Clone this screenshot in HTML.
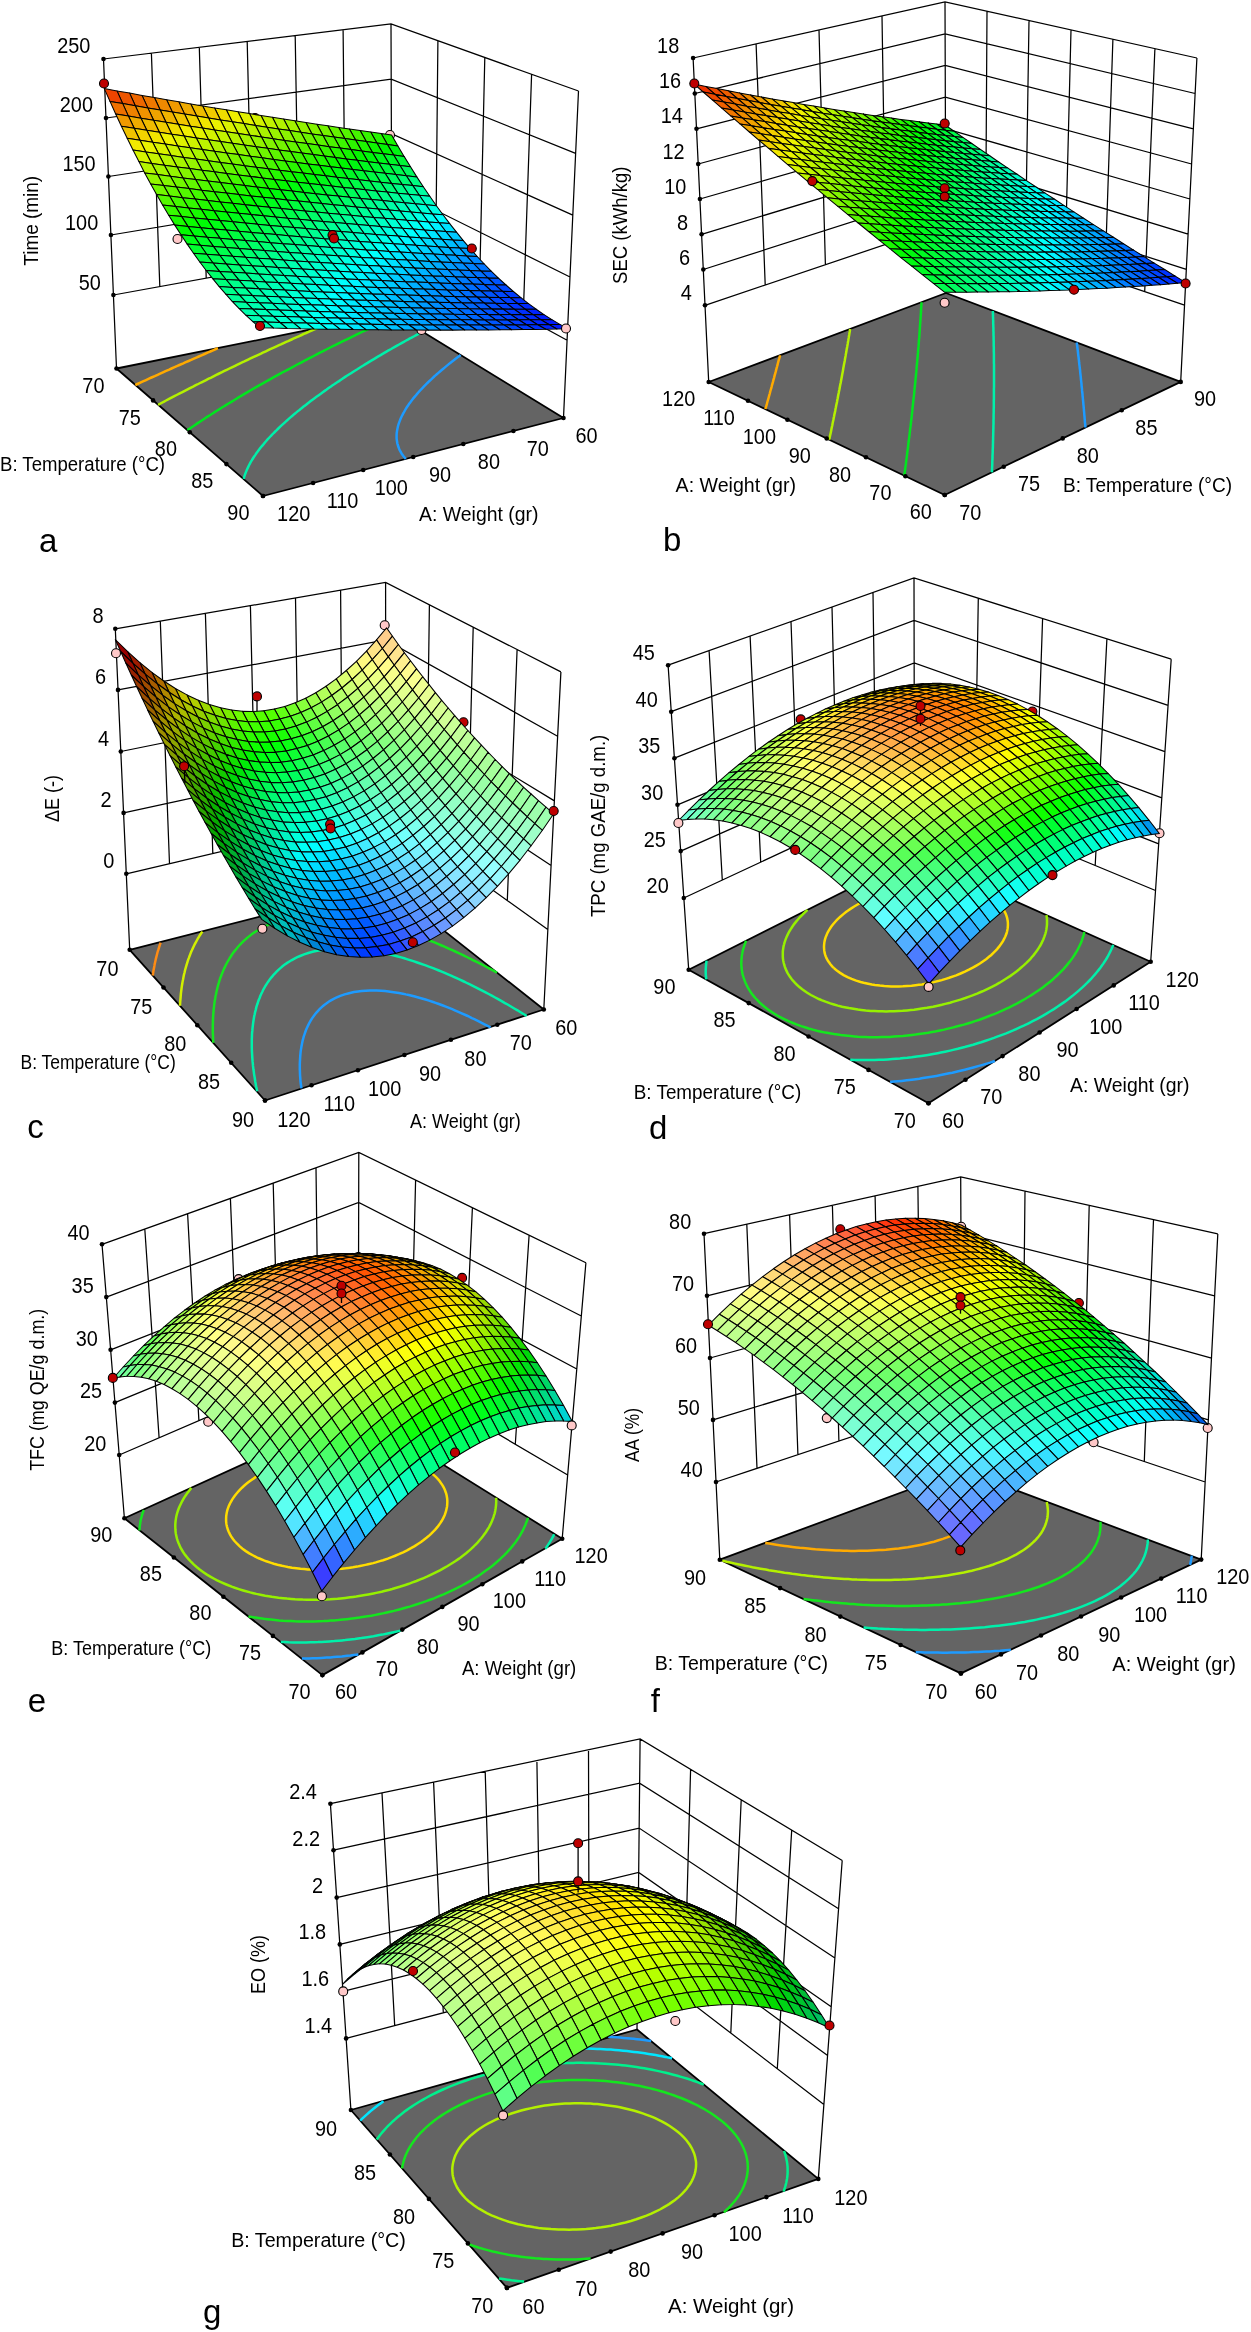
<!DOCTYPE html>
<html><head><meta charset="utf-8"><title>Response surfaces</title>
<style>html,body{margin:0;padding:0;background:#fff}svg{display:block}svg{will-change:transform}text{font-family:"Liberation Sans",sans-serif;fill:#000}</style>
</head><body>
<svg width="1251" height="2332" viewBox="0 0 1251 2332">
<rect width="1251" height="2332" fill="#fff"/>
<g id="p_a"><polygon points="116.5,368.5 263,496 563.5,418 392,313" fill="#646464" stroke="#000" stroke-width="1.8" stroke-linejoin="round"/>
<polyline points="135.3,385 137.4,384 140.4,382.6 143.5,381.2 145.5,380.3 149.5,378.4 151.5,377.5 154.8,376.1 157.6,374.8 159.6,373.9 163.5,372.1 165.5,371.2 169.2,369.6 171.5,368.5 174,367.4 177.4,365.9 179.4,365 183.3,363.3 185.2,362.4 188.6,361 191.1,359.9 193.4,358.8 196.9,357.3 198.8,356.5 202.7,354.8 204.6,354 208.1,352.4 210.3,351.5 213,350.3 216,349 217.9,348.2 217.9,348.2" fill="none" stroke="#ffaa00" stroke-width="2.5"/>
<polyline points="158.1,404.8 160.5,403.5 164.1,401.6 166.1,400.5 168.6,399.2 172,397.4 173.9,396.4 176.6,395 179.8,393.4 181.8,392.4 184.8,390.8 187.6,389.4 189.5,388.4 193.1,386.6 195.3,385.4 197.3,384.5 201.1,382.5 203,381.6 205.6,380.3 208.7,378.7 210.7,377.8 214,376.1 216.3,374.9 218.2,374 222,372.2 223.9,371.2 226.7,369.9 229.5,368.5 231.4,367.6 235.1,365.8 237,364.9 239.6,363.6 242.6,362.2 244.4,361.4 248.1,359.6 250,358.7 252.7,357.4 255.5,356.1 257.3,355.3 261,353.6 262.8,352.7 265.9,351.3 268.2,350.2 270.3,349.2 273.7,347.7 275.5,346.8 279.1,345.2 280.9,344.4 283.6,343.1 286.2,341.9 288.1,341.1 291.6,339.5 293.3,338.7 296.9,337.1 298.7,336.3 301.6,335 303.9,333.9 306.1,333 309.2,331.6 311,330.8 314.4,329.3 316.2,328.5 319.7,327 319.8,326.9" fill="none" stroke="#b4f000" stroke-width="2.5"/>
<polyline points="187.4,430.1 189.3,428.9 191.7,427.2 194.7,425.2 196.6,423.9 198.5,422.6 200.6,421.2 203.7,419.2 205.8,417.8 207.6,416.6 209.9,415.2 213,413.2 215,411.9 216.8,410.8 219.3,409.2 222.3,407.3 224.1,406.2 225.9,405.1 229,403.2 231.4,401.8 233.2,400.7 235.6,399.2 238.6,397.4 240.4,396.3 242.4,395.2 245.8,393.2 247.6,392.1 249.4,391 252.6,389.2 254.8,387.9 256.6,386.9 259.6,385.2 262,383.8 263.8,382.8 266.7,381.2 269.1,379.8 270.9,378.8 273.8,377.2 276.2,375.9 278,374.9 281.1,373.2 283.2,372 285,371.1 288.4,369.3 290.3,368.3 292.1,367.3 295.5,365.5 297.3,364.5 299.6,363.3 302.5,361.8 304.2,360.9 307.1,359.4 309.4,358.2 311.1,357.3 314.6,355.5 316.3,354.6 318.6,353.4 321.5,352 323.2,351.1 326.3,349.5 328.3,348.5 330.2,347.5 333.4,345.9 335.1,345.1 338.1,343.6 340.2,342.6 342,341.7 345.2,340.1 346.9,339.3 350,337.8 351.9,336.8 354,335.8 356.9,334.4 358.6,333.6 361.9,332 363.6,331.2 366.1,330 368.6,328.8 370.2,328 373.5,326.4 375.1,325.7 378.4,324.1 380.1,323.3 382.5,322.2 385,321.1 386.6,320.3 389.8,318.8 391.5,318 394.7,316.5 396.3,315.8 396.3,315.8" fill="none" stroke="#00e61e" stroke-width="2.5"/>
<polyline points="243.7,478.9 244.2,477 244.7,475.4 245.3,473.7 246,471.9 246.9,469.7 247.9,467.6 248.9,465.5 249.9,463.6 250.8,461.9 251.9,460.2 252.9,458.5 254,456.8 255.2,455.1 256.4,453.3 257.7,451.6 259,449.8 260.3,448.1 261.7,446.3 263.2,444.6 264.7,442.8 266.2,441 267.8,439.2 269.4,437.5 270.8,436 272.3,434.5 273.7,433 275.2,431.5 276.7,430.1 278.3,428.5 280.2,426.7 282.1,424.9 284.1,423.1 285.7,421.6 287.2,420.3 288.7,418.9 290.2,417.6 292.4,415.8 294.5,413.9 296.4,412.4 297.9,411.1 299.5,409.9 301.3,408.4 303.6,406.6 305.8,404.9 307.3,403.7 308.9,402.5 310.7,401.1 313.2,399.2 315.2,397.7 316.8,396.6 318.4,395.4 320.8,393.7 323.1,392 324.7,390.9 326.3,389.8 328.6,388.1 331,386.4 332.6,385.3 334.2,384.3 336.8,382.5 339,381.1 340.6,380 342.4,378.8 345.2,376.9 346.9,375.8 348.5,374.8 351,373.2 353.3,371.7 354.9,370.7 356.9,369.5 359.7,367.7 361.2,366.8 362.9,365.8 365.9,363.9 367.6,362.9 369.2,361.9 372.1,360.2 373.9,359.1 375.5,358.1 378.3,356.4 380.2,355.3 381.8,354.4 384.7,352.7 386.5,351.6 388.1,350.7 391.2,349 392.8,348 394.4,347.1 397.5,345.4 399.1,344.5 401.1,343.4 403.8,341.9 405.3,341 407.8,339.7 410,338.4 411.6,337.6 414.6,336 416.2,335.1 418,334.1 420.9,332.6 422.4,331.7 422.4,331.7" fill="none" stroke="#00f0aa" stroke-width="2.5"/>
<polyline points="405.8,459 403.7,456.5 401.9,454 401.1,452.7 399.7,450.1 399.1,448.7 398.2,446.3 397.7,444.7 397.3,443.2 396.9,440.5 396.7,439.1 396.6,437.6 396.6,435.5 396.7,433.3 396.9,431.9 397.1,430.4 397.4,428.9 397.8,427 398.3,425 398.9,423.2 399.6,421.4 400.2,419.8 400.8,418.3 401.5,416.8 402.3,415.2 403.1,413.6 404,412.1 404.9,410.5 405.8,408.9 406.8,407.3 407.9,405.7 409,404.1 410.2,402.5 411.3,400.9 412.6,399.3 413.7,397.9 414.8,396.6 416,395.2 417.1,393.9 418.3,392.5 419.5,391.2 421,389.5 422.6,387.9 424.2,386.2 425.5,384.9 426.7,383.7 427.9,382.5 429.2,381.2 431,379.6 432.8,377.9 434.2,376.5 435.5,375.4 436.8,374.3 438.4,372.9 440.3,371.2 442,369.8 443.3,368.7 444.6,367.6 446.4,366.1 448.5,364.4 449.9,363.3 451.2,362.2 452.8,361 455,359.3 456.6,358.1 457.9,357.1 459.5,355.9 460.6,355.1" fill="none" stroke="#1e9bff" stroke-width="2.5"/>
<path d="M116.5 368.5L103.5 59M159.8 286.6L151.4 53.2M206.2 278.1L199.3 47.3M252.6 269.7L247.2 41.5M299 261.2L295.2 35.7M345.4 252.8L343.1 29.8M392 313L391 24M392 313L391 24M435.6 268.4L437.9 40.8M479.4 292.4L484.8 57.5M523.2 316.4L531.6 74.2M563.5 418L578.5 91M103.5 59L391 24L578.5 91M106 118L391.2 79.1L575.6 153.3M108.4 176.5L391.4 133.7L572.8 215.1M110.9 235L391.6 188.3L570 277M113.4 295L391.8 244.4L567.1 340.3" fill="none" stroke="#000" stroke-width="1.25"/>
<circle cx="103.5" cy="59" r="2.3"/>
<circle cx="106" cy="118" r="2.3"/>
<circle cx="108.4" cy="176.5" r="2.3"/>
<circle cx="110.9" cy="235" r="2.3"/>
<circle cx="113.4" cy="295" r="2.3"/>
<circle cx="116.5" cy="368.5" r="2.3"/>
<circle cx="153.1" cy="400.4" r="2.3"/>
<circle cx="189.8" cy="432.2" r="2.3"/>
<circle cx="226.4" cy="464.1" r="2.3"/>
<circle cx="263" cy="496" r="2.3"/>
<circle cx="263" cy="496" r="2.3"/>
<circle cx="313.1" cy="483" r="2.3"/>
<circle cx="363.2" cy="470" r="2.3"/>
<circle cx="413.2" cy="457" r="2.3"/>
<circle cx="463.3" cy="444" r="2.3"/>
<circle cx="513.4" cy="431" r="2.3"/>
<circle cx="563.5" cy="418" r="2.3"/>
<circle cx="390" cy="135" r="4.5" fill="#ffc8c8" stroke="#000" stroke-width="1.1"/>
<circle cx="421.5" cy="330" r="4.5" fill="#ffc8c8" stroke="#000" stroke-width="1.1"/>
<circle cx="255" cy="118" r="4.5" fill="#be0000" stroke="#000" stroke-width="1.1"/>
<g stroke="#000" stroke-width="1.05" stroke-linejoin="round">
<path fill="#17f500" d="M381.2 133.6l6.2 10.9l10.5 1.4l-6.3 -10.9z"/>
<path fill="#26f500" d="M370.7 132.1l6.2 11l10.5 1.4l-6.2 -10.9z"/>
<path fill="#00f611" d="M387.4 144.5l6.3 10.6l10.4 1.3l-6.2 -10.5z"/>
<path fill="#35f400" d="M360.1 130.6l6.2 11l10.6 1.5l-6.2 -11z"/>
<path fill="#00f602" d="M376.9 143.1l6.2 10.7l10.6 1.3l-6.3 -10.6z"/>
<path fill="#00f837" d="M393.7 155.1l6.3 10.4l10.5 1.3l-6.4 -10.4z"/>
<path fill="#45f400" d="M349.4 129l6.2 11.1l10.7 1.5l-6.2 -11z"/>
<path fill="#0ef600" d="M366.3 141.6l6.2 10.8l10.6 1.4l-6.2 -10.7z"/>
<path fill="#00f728" d="M383.1 153.8l6.3 10.5l10.6 1.2l-6.3 -10.4z"/>
<path fill="#00f95c" d="M400 165.5l6.3 10.2l10.5 1.2l-6.3 -10.1z"/>
<path fill="#54f400" d="M338.7 127.4l6.1 11.2l10.8 1.5l-6.2 -11.1z"/>
<path fill="#1df500" d="M355.6 140.1l6.2 10.9l10.7 1.4l-6.2 -10.8z"/>
<path fill="#00f719" d="M372.5 152.4l6.3 10.6l10.6 1.3l-6.3 -10.5z"/>
<path fill="#00f94d" d="M389.4 164.3l6.4 10.2l10.5 1.2l-6.3 -10.2z"/>
<path fill="#00fb80" d="M406.3 175.7l6.5 9.9l10.5 1.1l-6.5 -9.8z"/>
<path fill="#64f300" d="M327.8 125.8l6.2 11.3l10.8 1.5l-6.1 -11.2z"/>
<path fill="#2df500" d="M344.8 138.6l6.2 11l10.8 1.4l-6.2 -10.9z"/>
<path fill="#00f709" d="M361.8 151l6.2 10.7l10.8 1.3l-6.3 -10.6z"/>
<path fill="#00f83e" d="M378.8 163l6.3 10.3l10.7 1.2l-6.4 -10.2z"/>
<path fill="#00fa71" d="M395.8 174.5l6.4 10l10.6 1.1l-6.5 -9.9z"/>
<path fill="#00fca3" d="M412.8 185.6l6.5 9.7l10.5 1l-6.5 -9.6z"/>
<path fill="#74f300" d="M316.9 124.2l6.1 11.3l11 1.6l-6.2 -11.3z"/>
<path fill="#3cf500" d="M334 137.1l6.1 11l10.9 1.5l-6.2 -11z"/>
<path fill="#06f600" d="M351 149.6l6.2 10.7l10.8 1.4l-6.2 -10.7z"/>
<path fill="#00f82f" d="M368 161.7l6.3 10.3l10.8 1.3l-6.3 -10.3z"/>
<path fill="#00fa62" d="M385.1 173.3l6.4 10.1l10.7 1.1l-6.4 -10z"/>
<path fill="#00fc94" d="M402.2 184.5l6.4 9.8l10.7 1l-6.5 -9.7z"/>
<path fill="#00fdc4" d="M419.3 195.3l6.5 9.4l10.6 1l-6.6 -9.4z"/>
<path fill="#83f300" d="M305.9 122.5l6.1 11.4l11 1.6l-6.1 -11.3z"/>
<path fill="#4cf400" d="M323 135.5l6.1 11.2l11 1.4l-6.1 -11z"/>
<path fill="#15f600" d="M340.1 148.1l6.2 10.8l10.9 1.4l-6.2 -10.7z"/>
<path fill="#00f81f" d="M357.2 160.3l6.3 10.5l10.8 1.2l-6.3 -10.3z"/>
<path fill="#00fa53" d="M374.3 172l6.4 10.2l10.8 1.2l-6.4 -10.1z"/>
<path fill="#00fb85" d="M391.5 183.4l6.4 9.8l10.7 1.1l-6.4 -9.8z"/>
<path fill="#00fdb5" d="M408.6 194.3l6.6 9.5l10.6 0.9l-6.5 -9.4z"/>
<path fill="#00ffe4" d="M425.8 204.7l6.6 9.2l10.6 0.9l-6.6 -9.1z"/>
<path fill="#93f200" d="M294.8 120.8l6.1 11.5l11.1 1.6l-6.1 -11.4z"/>
<path fill="#5bf400" d="M312 133.9l6.1 11.2l11 1.6l-6.1 -11.2z"/>
<path fill="#25f600" d="M329.1 146.7l6.2 10.8l11 1.4l-6.2 -10.8z"/>
<path fill="#00f710" d="M346.3 158.9l6.3 10.6l10.9 1.3l-6.3 -10.5z"/>
<path fill="#00f943" d="M363.5 170.8l6.3 10.2l10.9 1.2l-6.4 -10.2z"/>
<path fill="#00fb75" d="M380.7 182.2l6.4 9.9l10.8 1.1l-6.4 -9.8z"/>
<path fill="#00fda6" d="M397.9 193.2l6.5 9.5l10.8 1.1l-6.6 -9.5z"/>
<path fill="#00fed5" d="M415.2 203.8l6.5 9.2l10.7 0.9l-6.6 -9.2z"/>
<path fill="#00fdff" d="M432.4 213.9l6.7 8.9l10.6 0.8l-6.7 -8.8z"/>
<path fill="#a3f200" d="M283.6 119.1l6.1 11.5l11.2 1.7l-6.1 -11.5z"/>
<path fill="#6bf400" d="M300.9 132.3l6.1 11.3l11.1 1.5l-6.1 -11.2z"/>
<path fill="#35f500" d="M318.1 145.1l6.2 11l11 1.4l-6.2 -10.8z"/>
<path fill="#00f700" d="M335.3 157.5l6.3 10.6l11 1.4l-6.3 -10.6z"/>
<path fill="#00f934" d="M352.6 169.5l6.3 10.2l10.9 1.3l-6.3 -10.2z"/>
<path fill="#00fb66" d="M369.8 181l6.4 9.9l10.9 1.2l-6.4 -9.9z"/>
<path fill="#00fc97" d="M387.1 192.1l6.5 9.6l10.8 1l-6.5 -9.5z"/>
<path fill="#00fec6" d="M404.4 202.7l6.6 9.4l10.7 0.9l-6.5 -9.2z"/>
<path fill="#00fff2" d="M421.7 213l6.7 9l10.7 0.8l-6.7 -8.9z"/>
<path fill="#00e2ff" d="M439.1 222.8l6.7 8.7l10.7 0.7l-6.8 -8.6z"/>
<path fill="#b3f200" d="M272.4 117.3l6 11.6l11.3 1.7l-6.1 -11.5z"/>
<path fill="#7bf300" d="M289.7 130.6l6 11.4l11.3 1.6l-6.1 -11.3z"/>
<path fill="#44f500" d="M307 143.6l6.1 11l11.2 1.5l-6.2 -11z"/>
<path fill="#0ff700" d="M324.3 156.1l6.2 10.6l11.1 1.4l-6.3 -10.6z"/>
<path fill="#00f925" d="M341.6 168.1l6.3 10.4l11 1.2l-6.3 -10.2z"/>
<path fill="#00fa57" d="M358.9 179.7l6.4 10.1l10.9 1.1l-6.4 -9.9z"/>
<path fill="#00fc87" d="M376.2 190.9l6.5 9.7l10.9 1.1l-6.5 -9.6z"/>
<path fill="#00feb7" d="M393.6 201.7l6.5 9.4l10.9 1l-6.6 -9.4z"/>
<path fill="#00ffe4" d="M411 212.1l6.6 9l10.8 0.9l-6.7 -9z"/>
<path fill="#00f0ff" d="M428.4 222l6.7 8.7l10.7 0.8l-6.7 -8.7z"/>
<path fill="#00c9ff" d="M445.8 231.5l6.9 8.4l10.6 0.7l-6.8 -8.4z"/>
<path fill="#c2f100" d="M261 115.5l6 11.7l11.4 1.7l-6 -11.6z"/>
<path fill="#8bf300" d="M278.4 128.9l6 11.5l11.3 1.6l-6 -11.4z"/>
<path fill="#54f500" d="M295.7 142l6.2 11.1l11.2 1.5l-6.1 -11z"/>
<path fill="#1ff600" d="M313.1 154.6l6.2 10.7l11.2 1.4l-6.2 -10.6z"/>
<path fill="#00f815" d="M330.5 166.7l6.3 10.5l11.1 1.3l-6.3 -10.4z"/>
<path fill="#00fa47" d="M347.9 178.5l6.3 10.1l11.1 1.2l-6.4 -10.1z"/>
<path fill="#00fc78" d="M365.3 189.8l6.4 9.8l11 1l-6.5 -9.7z"/>
<path fill="#00fda7" d="M382.7 200.6l6.5 9.5l10.9 1l-6.5 -9.4z"/>
<path fill="#00ffd5" d="M400.1 211.1l6.6 9.1l10.9 0.9l-6.6 -9z"/>
<path fill="#00ffff" d="M417.6 221.1l6.7 8.8l10.8 0.8l-6.7 -8.7z"/>
<path fill="#00d7ff" d="M435.1 230.7l6.8 8.5l10.8 0.7l-6.9 -8.4z"/>
<path fill="#00b1ff" d="M452.7 239.9l6.8 8.1l10.7 0.6l-6.9 -8z"/>
<path fill="#d2f100" d="M249.5 113.6l6 11.9l11.5 1.7l-6 -11.7z"/>
<path fill="#9af300" d="M267 127.2l6 11.5l11.4 1.7l-6 -11.5z"/>
<path fill="#64f400" d="M284.4 140.4l6.1 11.1l11.4 1.6l-6.2 -11.1z"/>
<path fill="#2ef600" d="M301.9 153.1l6.1 10.8l11.3 1.4l-6.2 -10.7z"/>
<path fill="#00f805" d="M319.3 165.3l6.2 10.5l11.3 1.4l-6.3 -10.5z"/>
<path fill="#00fa38" d="M336.8 177.2l6.3 10.2l11.1 1.2l-6.3 -10.1z"/>
<path fill="#00fb69" d="M354.2 188.6l6.4 9.8l11.1 1.2l-6.4 -9.8z"/>
<path fill="#00fd98" d="M371.7 199.6l6.5 9.5l11 1l-6.5 -9.5z"/>
<path fill="#00ffc6" d="M389.2 210.1l6.6 9.2l10.9 0.9l-6.6 -9.1z"/>
<path fill="#00fff1" d="M406.7 220.2l6.7 8.9l10.9 0.8l-6.7 -8.8z"/>
<path fill="#00e5ff" d="M424.3 229.9l6.8 8.5l10.8 0.8l-6.8 -8.5z"/>
<path fill="#00bfff" d="M441.9 239.2l6.9 8.2l10.7 0.6l-6.8 -8.1z"/>
<path fill="#009bff" d="M459.5 248l7 7.9l10.7 0.6l-7 -7.9z"/>
<path fill="#e2f100" d="M238 111.7l5.9 11.9l11.6 1.9l-6 -11.9z"/>
<path fill="#aaf200" d="M255.5 125.5l6 11.5l11.5 1.7l-6 -11.5z"/>
<path fill="#74f400" d="M273 138.7l6.1 11.3l11.4 1.5l-6.1 -11.1z"/>
<path fill="#3ef600" d="M290.5 151.5l6.2 10.9l11.3 1.5l-6.1 -10.8z"/>
<path fill="#0af800" d="M308 163.9l6.2 10.6l11.3 1.3l-6.2 -10.5z"/>
<path fill="#00f928" d="M325.5 175.8l6.3 10.3l11.3 1.3l-6.3 -10.2z"/>
<path fill="#00fb5a" d="M343.1 187.4l6.4 9.9l11.1 1.1l-6.4 -9.8z"/>
<path fill="#00fd89" d="M360.6 198.4l6.5 9.6l11.1 1.1l-6.5 -9.5z"/>
<path fill="#00feb7" d="M378.2 209.1l6.5 9.2l11.1 1l-6.6 -9.2z"/>
<path fill="#00ffe2" d="M395.8 219.3l6.6 8.9l11 0.9l-6.7 -8.9z"/>
<path fill="#00f3ff" d="M413.4 229.1l6.7 8.6l11 0.7l-6.8 -8.5z"/>
<path fill="#00cdff" d="M431.1 238.4l6.8 8.3l10.9 0.7l-6.9 -8.2z"/>
<path fill="#00a8ff" d="M448.8 247.4l6.9 7.9l10.8 0.6l-7 -7.9z"/>
<path fill="#0086ff" d="M466.5 255.9l7 7.6l10.8 0.5l-7.1 -7.5z"/>
<path fill="#f0ee00" d="M226.3 109.8l5.9 12l11.7 1.8l-5.9 -11.9z"/>
<path fill="#baf200" d="M243.9 123.6l6 11.7l11.6 1.7l-6 -11.5z"/>
<path fill="#83f400" d="M261.5 137l6 11.3l11.6 1.7l-6.1 -11.3z"/>
<path fill="#4ef500" d="M279.1 150l6.1 10.9l11.5 1.5l-6.2 -10.9z"/>
<path fill="#1af700" d="M296.7 162.4l6.2 10.7l11.3 1.4l-6.2 -10.6z"/>
<path fill="#00f919" d="M314.2 174.5l6.3 10.3l11.3 1.3l-6.3 -10.3z"/>
<path fill="#00fb4a" d="M331.8 186.1l6.4 10l11.3 1.2l-6.4 -9.9z"/>
<path fill="#00fc7a" d="M349.5 197.3l6.4 9.6l11.2 1.1l-6.5 -9.6z"/>
<path fill="#00fea8" d="M367.1 208l6.5 9.4l11.1 0.9l-6.5 -9.2z"/>
<path fill="#00ffd4" d="M384.7 218.3l6.7 9.1l11 0.8l-6.6 -8.9z"/>
<path fill="#00fffd" d="M402.4 228.2l6.7 8.7l11 0.8l-6.7 -8.6z"/>
<path fill="#00dbff" d="M420.1 237.7l6.9 8.3l10.9 0.7l-6.8 -8.3z"/>
<path fill="#00b6ff" d="M437.9 246.7l6.9 8l10.9 0.6l-6.9 -7.9z"/>
<path fill="#0094ff" d="M455.7 255.3l7 7.7l10.8 0.5l-7 -7.6z"/>
<path fill="#0074ff" d="M473.5 263.5l7.2 7.4l10.7 0.4l-7.1 -7.3z"/>
<path fill="#f0dd00" d="M214.6 107.9l5.9 12l11.7 1.9l-5.9 -12z"/>
<path fill="#caf200" d="M232.2 121.8l6 11.7l11.7 1.8l-6 -11.7z"/>
<path fill="#93f300" d="M249.9 135.3l6 11.4l11.6 1.6l-6 -11.3z"/>
<path fill="#5ef500" d="M267.5 148.3l6.1 11.1l11.6 1.5l-6.1 -10.9z"/>
<path fill="#29f700" d="M285.2 160.9l6.2 10.8l11.5 1.4l-6.2 -10.7z"/>
<path fill="#00f909" d="M302.9 173.1l6.2 10.4l11.4 1.3l-6.3 -10.3z"/>
<path fill="#00fa3b" d="M320.5 184.8l6.3 10.1l11.4 1.2l-6.4 -10z"/>
<path fill="#00fc6a" d="M338.2 196.1l6.4 9.7l11.3 1.1l-6.4 -9.6z"/>
<path fill="#00fe99" d="M355.9 206.9l6.5 9.5l11.2 1l-6.5 -9.4z"/>
<path fill="#00ffc5" d="M373.6 217.4l6.6 9l11.2 1l-6.7 -9.1z"/>
<path fill="#00ffee" d="M391.4 227.4l6.6 8.7l11.1 0.8l-6.7 -8.7z"/>
<path fill="#00e9ff" d="M409.1 236.9l6.8 8.4l11.1 0.7l-6.9 -8.3z"/>
<path fill="#00c4ff" d="M427 246l6.8 8.1l11 0.6l-6.9 -8z"/>
<path fill="#00a2ff" d="M444.8 254.7l7 7.8l10.9 0.5l-7 -7.7z"/>
<path fill="#0081ff" d="M462.7 263l7.1 7.4l10.9 0.5l-7.2 -7.4z"/>
<path fill="#0063ff" d="M480.7 270.9l7.2 7.1l10.8 0.3l-7.3 -7z"/>
<path fill="#f0cc00" d="M202.7 105.9l5.9 12.1l11.9 1.9l-5.9 -12z"/>
<path fill="#daf100" d="M220.5 119.9l5.9 11.9l11.8 1.7l-6 -11.7z"/>
<path fill="#a3f300" d="M238.2 133.5l6 11.5l11.7 1.7l-6 -11.4z"/>
<path fill="#6ef500" d="M255.9 146.7l6.1 11.1l11.6 1.6l-6.1 -11.1z"/>
<path fill="#39f700" d="M273.6 159.4l6.2 10.8l11.6 1.5l-6.2 -10.8z"/>
<path fill="#06f800" d="M291.4 171.7l6.2 10.5l11.5 1.3l-6.2 -10.4z"/>
<path fill="#00fa2b" d="M309.1 183.5l6.3 10.2l11.4 1.2l-6.3 -10.1z"/>
<path fill="#00fc5b" d="M326.8 194.9l6.4 9.8l11.4 1.1l-6.4 -9.7z"/>
<path fill="#00fd89" d="M344.6 205.8l6.5 9.5l11.3 1.1l-6.5 -9.5z"/>
<path fill="#00ffb6" d="M362.4 216.4l6.6 9.1l11.2 0.9l-6.6 -9z"/>
<path fill="#00ffe0" d="M380.2 226.4l6.7 8.9l11.1 0.8l-6.6 -8.7z"/>
<path fill="#00f7ff" d="M398 236.1l6.8 8.5l11.1 0.7l-6.8 -8.4z"/>
<path fill="#00d2ff" d="M415.9 245.3l6.9 8.2l11 0.6l-6.8 -8.1z"/>
<path fill="#00afff" d="M433.8 254.1l7 7.8l11 0.6l-7 -7.8z"/>
<path fill="#008fff" d="M451.8 262.5l7.1 7.5l10.9 0.4l-7.1 -7.4z"/>
<path fill="#0070ff" d="M469.8 270.4l7.2 7.2l10.9 0.4l-7.2 -7.1z"/>
<path fill="#0054ff" d="M487.9 278l7.3 6.8l10.8 0.2l-7.3 -6.7z"/>
<path fill="#efbc00" d="M190.8 103.9l5.9 12.2l11.9 1.9l-5.9 -12.1z"/>
<path fill="#ebf100" d="M208.6 118l5.9 11.9l11.9 1.9l-5.9 -11.9z"/>
<path fill="#b3f300" d="M226.4 131.8l6 11.5l11.8 1.7l-6 -11.5z"/>
<path fill="#7ef400" d="M244.2 145l6.1 11.2l11.7 1.6l-6.1 -11.1z"/>
<path fill="#49f600" d="M262 157.8l6.1 10.9l11.7 1.5l-6.2 -10.8z"/>
<path fill="#16f800" d="M279.8 170.2l6.2 10.6l11.6 1.4l-6.2 -10.5z"/>
<path fill="#00fa1b" d="M297.6 182.2l6.3 10.2l11.5 1.3l-6.3 -10.2z"/>
<path fill="#00fb4b" d="M315.4 193.7l6.4 9.8l11.4 1.2l-6.4 -9.8z"/>
<path fill="#00fd7a" d="M333.2 204.7l6.5 9.6l11.4 1l-6.5 -9.5z"/>
<path fill="#00ffa7" d="M351.1 215.3l6.5 9.3l11.4 0.9l-6.6 -9.1z"/>
<path fill="#00ffd1" d="M369 225.5l6.6 8.9l11.3 0.9l-6.7 -8.9z"/>
<path fill="#00fff8" d="M386.9 235.3l6.7 8.5l11.2 0.8l-6.8 -8.5z"/>
<path fill="#00e0ff" d="M404.8 244.6l6.8 8.2l11.2 0.7l-6.9 -8.2z"/>
<path fill="#00bdff" d="M422.8 253.5l6.9 7.9l11.1 0.5l-7 -7.8z"/>
<path fill="#009cff" d="M440.8 261.9l7 7.6l11.1 0.5l-7.1 -7.5z"/>
<path fill="#007dff" d="M458.9 270l7.1 7.2l11 0.4l-7.2 -7.2z"/>
<path fill="#0061ff" d="M477 277.6l7.2 6.9l11 0.3l-7.3 -6.8z"/>
<path fill="#0047ff" d="M495.2 284.8l7.3 6.5l10.9 0.2l-7.4 -6.5z"/>
<path fill="#efab00" d="M178.8 101.8l5.8 12.3l12.1 2l-5.9 -12.2z"/>
<path fill="#f1e700" d="M196.7 116.1l5.8 12l12 1.8l-5.9 -11.9z"/>
<path fill="#c3f200" d="M214.5 129.9l6 11.7l11.9 1.7l-6 -11.5z"/>
<path fill="#8ef400" d="M232.4 143.3l6 11.3l11.9 1.6l-6.1 -11.2z"/>
<path fill="#59f600" d="M250.3 156.2l6 11l11.8 1.5l-6.1 -10.9z"/>
<path fill="#26f800" d="M268.1 168.7l6.2 10.7l11.7 1.4l-6.2 -10.6z"/>
<path fill="#00f90c" d="M286 180.8l6.2 10.3l11.7 1.3l-6.3 -10.2z"/>
<path fill="#00fb3c" d="M303.9 192.4l6.3 9.9l11.6 1.2l-6.4 -9.8z"/>
<path fill="#00fd6b" d="M321.8 203.5l6.4 9.7l11.5 1.1l-6.5 -9.6z"/>
<path fill="#00fe97" d="M339.7 214.3l6.5 9.3l11.4 1l-6.5 -9.3z"/>
<path fill="#00ffc2" d="M357.6 224.6l6.6 8.9l11.4 0.9l-6.6 -8.9z"/>
<path fill="#00ffea" d="M375.6 234.4l6.7 8.6l11.3 0.8l-6.7 -8.5z"/>
<path fill="#00eeff" d="M393.6 243.8l6.8 8.3l11.2 0.7l-6.8 -8.2z"/>
<path fill="#00cbff" d="M411.6 252.8l6.9 8l11.2 0.6l-6.9 -7.9z"/>
<path fill="#00aaff" d="M429.7 261.4l7 7.6l11.1 0.5l-7 -7.6z"/>
<path fill="#008bff" d="M447.8 269.5l7.1 7.3l11.1 0.4l-7.1 -7.2z"/>
<path fill="#006eff" d="M466 277.2l7.2 6.9l11 0.4l-7.2 -6.9z"/>
<path fill="#0053ff" d="M484.2 284.5l7.4 6.6l10.9 0.2l-7.3 -6.5z"/>
<path fill="#003bff" d="M502.5 291.3l7.5 6.3l10.9 0.1l-7.5 -6.2z"/>
<path fill="#ef9a00" d="M166.6 99.7l5.8 12.4l12.2 2l-5.8 -12.3z"/>
<path fill="#f0d600" d="M184.6 114.1l5.8 12.1l12.1 1.9l-5.8 -12z"/>
<path fill="#d4f200" d="M202.5 128.1l6 11.7l12 1.8l-6 -11.7z"/>
<path fill="#9ef400" d="M220.5 141.6l6 11.4l11.9 1.6l-6 -11.3z"/>
<path fill="#69f600" d="M238.4 154.6l6.1 11.1l11.8 1.5l-6 -11z"/>
<path fill="#36f700" d="M256.3 167.2l6.2 10.7l11.8 1.5l-6.2 -10.7z"/>
<path fill="#04f900" d="M274.3 179.4l6.2 10.3l11.7 1.4l-6.2 -10.3z"/>
<path fill="#00fb2c" d="M292.2 191.1l6.3 10l11.7 1.2l-6.3 -9.9z"/>
<path fill="#00fc5b" d="M310.2 202.3l6.4 9.8l11.6 1.1l-6.4 -9.7z"/>
<path fill="#00fe88" d="M328.2 213.2l6.5 9.3l11.5 1.1l-6.5 -9.3z"/>
<path fill="#00ffb3" d="M346.2 223.6l6.6 9l11.4 0.9l-6.6 -8.9z"/>
<path fill="#00ffdb" d="M364.2 233.5l6.7 8.7l11.4 0.8l-6.7 -8.6z"/>
<path fill="#00fdff" d="M382.3 243l6.7 8.4l11.4 0.7l-6.8 -8.3z"/>
<path fill="#00d9ff" d="M400.4 252.1l6.8 8l11.3 0.7l-6.9 -8z"/>
<path fill="#00b7ff" d="M418.5 260.8l7 7.7l11.2 0.5l-7 -7.6z"/>
<path fill="#0098ff" d="M436.7 269l7.1 7.3l11.1 0.5l-7.1 -7.3z"/>
<path fill="#007bff" d="M454.9 276.8l7.2 7l11.1 0.3l-7.2 -6.9z"/>
<path fill="#0060ff" d="M473.2 284.1l7.4 6.7l11 0.3l-7.4 -6.6z"/>
<path fill="#0048ff" d="M491.6 291.1l7.4 6.3l11 0.2l-7.5 -6.3z"/>
<path fill="#0031ff" d="M510 297.6l7.6 5.9l10.9 0.1l-7.6 -5.9z"/>
<path fill="#ee8900" d="M154.4 97.5l5.8 12.5l12.2 2.1l-5.8 -12.4z"/>
<path fill="#f0c500" d="M172.4 112.1l5.9 12.1l12.1 2l-5.8 -12.1z"/>
<path fill="#e4f200" d="M190.4 126.2l5.9 11.8l12.2 1.8l-6 -11.7z"/>
<path fill="#aef300" d="M208.5 139.8l5.9 11.5l12.1 1.7l-6 -11.4z"/>
<path fill="#79f500" d="M226.5 153l6 11.1l12 1.6l-6.1 -11.1z"/>
<path fill="#46f700" d="M244.5 165.7l6.1 10.8l11.9 1.4l-6.2 -10.7z"/>
<path fill="#14f900" d="M262.5 177.9l6.2 10.5l11.8 1.3l-6.2 -10.3z"/>
<path fill="#00fa1d" d="M280.5 189.7l6.3 10.2l11.7 1.2l-6.3 -10z"/>
<path fill="#00fc4c" d="M298.5 201.1l6.4 9.8l11.7 1.2l-6.4 -9.8z"/>
<path fill="#00fe79" d="M316.6 212.1l6.4 9.4l11.7 1l-6.5 -9.3z"/>
<path fill="#00ffa4" d="M334.7 222.5l6.5 9.1l11.6 1l-6.6 -9z"/>
<path fill="#00ffcd" d="M352.8 232.6l6.6 8.8l11.5 0.8l-6.7 -8.7z"/>
<path fill="#00fff3" d="M370.9 242.2l6.7 8.4l11.4 0.8l-6.7 -8.4z"/>
<path fill="#00e7ff" d="M389 251.4l6.9 8.1l11.3 0.6l-6.8 -8z"/>
<path fill="#00c5ff" d="M407.2 260.1l7 7.8l11.3 0.6l-7 -7.7z"/>
<path fill="#00a6ff" d="M425.5 268.5l7 7.4l11.3 0.4l-7.1 -7.3z"/>
<path fill="#0088ff" d="M443.8 276.3l7.2 7.1l11.1 0.4l-7.2 -7z"/>
<path fill="#006dff" d="M462.1 283.8l7.3 6.7l11.2 0.3l-7.4 -6.7z"/>
<path fill="#0054ff" d="M480.6 290.8l7.4 6.4l11 0.2l-7.4 -6.3z"/>
<path fill="#003eff" d="M499 297.4l7.6 6l11 0.1l-7.6 -5.9z"/>
<path fill="#0029ff" d="M517.6 303.5l7.6 5.7l11 0l-7.7 -5.6z"/>
<path fill="#ee7800" d="M142 95.4l5.8 12.5l12.4 2.1l-5.8 -12.5z"/>
<path fill="#f0b400" d="M160.2 110l5.8 12.3l12.3 1.9l-5.9 -12.1z"/>
<path fill="#f1ef00" d="M178.3 124.2l5.8 11.9l12.2 1.9l-5.9 -11.8z"/>
<path fill="#bef300" d="M196.3 138l6 11.5l12.1 1.8l-5.9 -11.5z"/>
<path fill="#89f500" d="M214.4 151.3l6 11.2l12.1 1.6l-6 -11.1z"/>
<path fill="#55f700" d="M232.5 164.1l6.1 10.8l12 1.6l-6.1 -10.8z"/>
<path fill="#23f800" d="M250.6 176.5l6.2 10.5l11.9 1.4l-6.2 -10.5z"/>
<path fill="#00fa0d" d="M268.7 188.4l6.2 10.2l11.9 1.3l-6.3 -10.2z"/>
<path fill="#00fc3c" d="M286.8 199.9l6.3 9.8l11.8 1.2l-6.4 -9.8z"/>
<path fill="#00fd69" d="M304.9 210.9l6.4 9.5l11.7 1.1l-6.4 -9.4z"/>
<path fill="#00ff95" d="M323 221.5l6.5 9.2l11.7 0.9l-6.5 -9.1z"/>
<path fill="#00ffbe" d="M341.2 231.6l6.6 8.9l11.6 0.9l-6.6 -8.8z"/>
<path fill="#00ffe4" d="M359.4 241.4l6.7 8.5l11.5 0.7l-6.7 -8.4z"/>
<path fill="#00f5ff" d="M377.6 250.6l6.8 8.2l11.5 0.7l-6.9 -8.1z"/>
<path fill="#00d3ff" d="M395.9 259.5l6.9 7.8l11.4 0.6l-7 -7.8z"/>
<path fill="#00b3ff" d="M414.2 267.9l7 7.5l11.3 0.5l-7 -7.4z"/>
<path fill="#0096ff" d="M432.5 275.9l7.2 7.1l11.3 0.4l-7.2 -7.1z"/>
<path fill="#007aff" d="M451 283.4l7.2 6.8l11.2 0.3l-7.3 -6.7z"/>
<path fill="#0061ff" d="M469.4 290.5l7.4 6.5l11.2 0.2l-7.4 -6.4z"/>
<path fill="#004aff" d="M488 297.2l7.5 6.1l11.1 0.1l-7.6 -6z"/>
<path fill="#0035ff" d="M506.6 303.4l7.6 5.8l11 0l-7.6 -5.7z"/>
<path fill="#0023ff" d="M525.2 309.2l7.8 5.4l11 0l-7.8 -5.4z"/>
<path fill="#ee6700" d="M129.6 93.1l5.7 12.7l12.5 2.1l-5.8 -12.5z"/>
<path fill="#efa300" d="M147.8 107.9l5.8 12.3l12.4 2.1l-5.8 -12.3z"/>
<path fill="#f1de00" d="M166 122.3l5.8 11.9l12.3 1.9l-5.8 -11.9z"/>
<path fill="#cef300" d="M184.1 136.1l5.9 11.6l12.3 1.8l-6 -11.5z"/>
<path fill="#99f500" d="M202.3 149.5l6 11.3l12.1 1.7l-6 -11.2z"/>
<path fill="#65f600" d="M220.4 162.5l6.1 10.9l12.1 1.5l-6.1 -10.8z"/>
<path fill="#33f800" d="M238.6 174.9l6.1 10.7l12.1 1.4l-6.2 -10.5z"/>
<path fill="#03fa00" d="M256.8 187l6.2 10.3l11.9 1.3l-6.2 -10.2z"/>
<path fill="#00fb2c" d="M274.9 198.6l6.3 9.9l11.9 1.2l-6.3 -9.8z"/>
<path fill="#00fd5a" d="M293.1 209.7l6.4 9.6l11.8 1.1l-6.4 -9.5z"/>
<path fill="#00ff86" d="M311.3 220.4l6.5 9.3l11.7 1l-6.5 -9.2z"/>
<path fill="#00ffaf" d="M329.5 230.7l6.6 8.9l11.7 0.9l-6.6 -8.9z"/>
<path fill="#00ffd6" d="M347.8 240.5l6.7 8.6l11.6 0.8l-6.7 -8.5z"/>
<path fill="#00fffb" d="M366.1 249.9l6.8 8.2l11.5 0.7l-6.8 -8.2z"/>
<path fill="#00e1ff" d="M384.4 258.8l6.9 7.9l11.5 0.6l-6.9 -7.8z"/>
<path fill="#00c1ff" d="M402.8 267.3l7 7.6l11.4 0.5l-7 -7.5z"/>
<path fill="#00a3ff" d="M421.2 275.4l7.1 7.2l11.4 0.4l-7.2 -7.1z"/>
<path fill="#0087ff" d="M439.7 283l7.2 6.9l11.3 0.3l-7.2 -6.8z"/>
<path fill="#006eff" d="M458.2 290.2l7.4 6.5l11.2 0.3l-7.4 -6.5z"/>
<path fill="#0057ff" d="M476.8 297l7.5 6.1l11.2 0.2l-7.5 -6.1z"/>
<path fill="#0042ff" d="M495.5 303.3l7.6 5.8l11.1 0.1l-7.6 -5.8z"/>
<path fill="#002fff" d="M514.2 309.2l7.7 5.4l11.1 0l-7.8 -5.4z"/>
<path fill="#001eff" d="M533 314.6l7.9 5.1l11 -0.1l-7.9 -5z"/>
<path fill="#ed5500" d="M117 90.9l5.7 12.7l12.6 2.2l-5.7 -12.7z"/>
<path fill="#ef9200" d="M135.3 105.8l5.7 12.4l12.6 2l-5.8 -12.3z"/>
<path fill="#f1cd00" d="M153.6 120.2l5.8 12.1l12.4 1.9l-5.8 -11.9z"/>
<path fill="#def200" d="M171.8 134.2l5.9 11.7l12.3 1.8l-5.9 -11.6z"/>
<path fill="#a9f400" d="M190 147.7l6 11.4l12.3 1.7l-6 -11.3z"/>
<path fill="#76f600" d="M208.3 160.8l6 11l12.2 1.6l-6.1 -10.9z"/>
<path fill="#43f800" d="M226.5 173.4l6.1 10.7l12.1 1.5l-6.1 -10.7z"/>
<path fill="#13f900" d="M244.7 185.6l6.2 10.3l12.1 1.4l-6.2 -10.3z"/>
<path fill="#00fb1d" d="M263 197.3l6.2 10l12 1.2l-6.3 -9.9z"/>
<path fill="#00fd4a" d="M281.2 208.5l6.4 9.7l11.9 1.1l-6.4 -9.6z"/>
<path fill="#00fe76" d="M299.5 219.3l6.5 9.3l11.8 1.1l-6.5 -9.3z"/>
<path fill="#00ffa0" d="M317.8 229.7l6.5 9l11.8 0.9l-6.6 -8.9z"/>
<path fill="#00ffc7" d="M336.1 239.6l6.7 8.6l11.7 0.9l-6.7 -8.6z"/>
<path fill="#00ffec" d="M354.5 249.1l6.7 8.3l11.7 0.7l-6.8 -8.2z"/>
<path fill="#00efff" d="M372.9 258.1l6.8 8l11.6 0.6l-6.9 -7.9z"/>
<path fill="#00cfff" d="M391.3 266.7l7 7.6l11.5 0.6l-7 -7.6z"/>
<path fill="#00b0ff" d="M409.8 274.9l7 7.2l11.5 0.5l-7.1 -7.2z"/>
<path fill="#0094ff" d="M428.3 282.6l7.2 6.9l11.4 0.4l-7.2 -6.9z"/>
<path fill="#007bff" d="M446.9 289.9l7.3 6.5l11.4 0.3l-7.4 -6.5z"/>
<path fill="#0063ff" d="M465.6 296.7l7.4 6.2l11.3 0.2l-7.5 -6.1z"/>
<path fill="#004eff" d="M484.3 303.1l7.5 5.9l11.3 0.1l-7.6 -5.8z"/>
<path fill="#003bff" d="M503.1 309.1l7.7 5.5l11.1 0l-7.7 -5.4z"/>
<path fill="#002aff" d="M521.9 314.6l7.9 5.2l11.1 -0.1l-7.9 -5.1z"/>
<path fill="#001bff" d="M540.9 319.7l8 4.8l11 -0.1l-8 -4.8z"/>
<path fill="#ed4400" d="M104.3 88.6l5.7 12.8l12.7 2.2l-5.7 -12.7z"/>
<path fill="#ef8100" d="M122.7 103.6l5.7 12.5l12.6 2.1l-5.7 -12.4z"/>
<path fill="#f0bc00" d="M141 118.2l5.8 12.1l12.6 2l-5.8 -12.1z"/>
<path fill="#eff200" d="M159.4 132.3l5.8 11.8l12.5 1.8l-5.9 -11.7z"/>
<path fill="#b9f400" d="M177.7 145.9l5.9 11.5l12.4 1.7l-6 -11.4z"/>
<path fill="#86f600" d="M196 159.1l6 11.1l12.3 1.6l-6 -11z"/>
<path fill="#53f700" d="M214.3 171.8l6.1 10.8l12.2 1.5l-6.1 -10.7z"/>
<path fill="#22f900" d="M232.6 184.1l6.2 10.4l12.1 1.4l-6.2 -10.3z"/>
<path fill="#00fb0d" d="M250.9 195.9l6.3 10.1l12 1.3l-6.2 -10z"/>
<path fill="#00fc3b" d="M269.2 207.3l6.4 9.7l12 1.2l-6.4 -9.7z"/>
<path fill="#00fe67" d="M287.6 218.2l6.4 9.4l12 1l-6.5 -9.3z"/>
<path fill="#00ff91" d="M306 228.6l6.5 9.1l11.8 1l-6.5 -9z"/>
<path fill="#00ffb8" d="M324.3 238.7l6.6 8.7l11.9 0.8l-6.7 -8.6z"/>
<path fill="#00ffde" d="M342.8 248.2l6.7 8.4l11.7 0.8l-6.7 -8.3z"/>
<path fill="#00fdff" d="M361.2 257.4l6.8 8l11.7 0.7l-6.8 -8z"/>
<path fill="#00ddff" d="M379.7 266.1l6.9 7.7l11.7 0.5l-7 -7.6z"/>
<path fill="#00beff" d="M398.3 274.3l7 7.4l11.5 0.4l-7 -7.2z"/>
<path fill="#00a2ff" d="M416.8 282.1l7.2 7l11.5 0.4l-7.2 -6.9z"/>
<path fill="#0088ff" d="M435.5 289.5l7.3 6.7l11.4 0.2l-7.3 -6.5z"/>
<path fill="#0070ff" d="M454.2 296.4l7.4 6.3l11.4 0.2l-7.4 -6.2z"/>
<path fill="#005aff" d="M473 302.9l7.5 6l11.3 0.1l-7.5 -5.9z"/>
<path fill="#0047ff" d="M491.8 309l7.7 5.6l11.3 0l-7.7 -5.5z"/>
<path fill="#0036ff" d="M510.8 314.6l7.8 5.2l11.2 0l-7.9 -5.2z"/>
<path fill="#0027ff" d="M529.8 319.8l7.9 4.9l11.2 -0.2l-8 -4.8z"/>
<path fill="#001aff" d="M548.9 324.5l8 4.5l11.1 -0.2l-8.1 -4.4z"/>
<path fill="#ee7000" d="M110 101.4l5.7 12.6l12.7 2.1l-5.7 -12.5z"/>
<path fill="#f0ab00" d="M128.4 116.1l5.8 12.2l12.6 2l-5.8 -12.1z"/>
<path fill="#f2e500" d="M146.8 130.3l5.9 11.9l12.5 1.9l-5.8 -11.8z"/>
<path fill="#caf400" d="M165.2 144.1l5.9 11.5l12.5 1.8l-5.9 -11.5z"/>
<path fill="#96f500" d="M183.6 157.4l6 11.2l12.4 1.6l-6 -11.1z"/>
<path fill="#63f700" d="M202 170.2l6 10.9l12.4 1.5l-6.1 -10.8z"/>
<path fill="#32f900" d="M220.4 182.6l6.1 10.5l12.3 1.4l-6.2 -10.4z"/>
<path fill="#03fa00" d="M238.8 194.5l6.2 10.2l12.2 1.3l-6.3 -10.1z"/>
<path fill="#00fc2b" d="M257.2 206l6.3 9.8l12.1 1.2l-6.4 -9.7z"/>
<path fill="#00fe57" d="M275.6 217l6.4 9.5l12 1.1l-6.4 -9.4z"/>
<path fill="#00ff82" d="M294 227.6l6.5 9.1l12 1l-6.5 -9.1z"/>
<path fill="#00ffaa" d="M312.5 237.7l6.5 8.8l11.9 0.9l-6.6 -8.7z"/>
<path fill="#00ffcf" d="M330.9 247.4l6.7 8.4l11.9 0.8l-6.7 -8.4z"/>
<path fill="#00fff2" d="M349.5 256.6l6.7 8.1l11.8 0.7l-6.8 -8z"/>
<path fill="#00ebff" d="M368 265.4l6.9 7.8l11.7 0.6l-6.9 -7.7z"/>
<path fill="#00ccff" d="M386.6 273.8l7 7.4l11.7 0.5l-7 -7.4z"/>
<path fill="#00afff" d="M405.3 281.7l7.1 7l11.6 0.4l-7.2 -7z"/>
<path fill="#0095ff" d="M424 289.1l7.2 6.7l11.6 0.4l-7.3 -6.7z"/>
<path fill="#007dff" d="M442.8 296.2l7.3 6.3l11.5 0.2l-7.4 -6.3z"/>
<path fill="#0067ff" d="M461.6 302.7l7.5 6l11.4 0.2l-7.5 -6z"/>
<path fill="#0053ff" d="M480.5 308.9l7.6 5.6l11.4 0.1l-7.7 -5.6z"/>
<path fill="#0042ff" d="M499.5 314.6l7.8 5.3l11.3 -0.1l-7.8 -5.2z"/>
<path fill="#0032ff" d="M518.6 319.8l7.9 5l11.2 -0.1l-7.9 -4.9z"/>
<path fill="#0025ff" d="M537.7 324.7l8.1 4.5l11.1 -0.2l-8 -4.5z"/>
<path fill="#f09a00" d="M115.7 114l5.7 12.3l12.8 2l-5.8 -12.2z"/>
<path fill="#f1d400" d="M134.2 128.3l5.8 12l12.7 1.9l-5.9 -11.9z"/>
<path fill="#daf300" d="M152.7 142.2l5.8 11.6l12.6 1.8l-5.9 -11.5z"/>
<path fill="#a6f500" d="M171.1 155.6l6 11.3l12.5 1.7l-6 -11.2z"/>
<path fill="#73f700" d="M189.6 168.6l6 10.9l12.4 1.6l-6 -10.9z"/>
<path fill="#42f800" d="M208 181.1l6.1 10.6l12.4 1.4l-6.1 -10.5z"/>
<path fill="#13fa00" d="M226.5 193.1l6.2 10.2l12.3 1.4l-6.2 -10.2z"/>
<path fill="#00fc1b" d="M245 204.7l6.2 9.9l12.3 1.2l-6.3 -9.8z"/>
<path fill="#00fd48" d="M263.5 215.8l6.3 9.6l12.2 1.1l-6.4 -9.5z"/>
<path fill="#00ff72" d="M282 226.5l6.4 9.2l12.1 1l-6.5 -9.1z"/>
<path fill="#00ff9b" d="M300.5 236.7l6.5 8.9l12 0.9l-6.5 -8.8z"/>
<path fill="#00ffc0" d="M319 246.5l6.7 8.5l11.9 0.8l-6.7 -8.4z"/>
<path fill="#00ffe4" d="M337.6 255.8l6.8 8.2l11.8 0.7l-6.7 -8.1z"/>
<path fill="#00f9ff" d="M356.2 264.7l6.9 7.8l11.8 0.7l-6.9 -7.8z"/>
<path fill="#00daff" d="M374.9 273.2l7 7.4l11.7 0.6l-7 -7.4z"/>
<path fill="#00bdff" d="M393.6 281.2l7.1 7.1l11.7 0.4l-7.1 -7z"/>
<path fill="#00a2ff" d="M412.4 288.7l7.2 6.8l11.6 0.3l-7.2 -6.7z"/>
<path fill="#008aff" d="M431.2 295.8l7.4 6.5l11.5 0.2l-7.3 -6.3z"/>
<path fill="#0073ff" d="M450.1 302.5l7.5 6.1l11.5 0.1l-7.5 -6z"/>
<path fill="#005fff" d="M469.1 308.7l7.6 5.8l11.4 0l-7.6 -5.6z"/>
<path fill="#004eff" d="M488.1 314.5l7.8 5.4l11.4 0l-7.8 -5.3z"/>
<path fill="#003eff" d="M507.3 319.9l7.8 5l11.4 -0.1l-7.9 -5z"/>
<path fill="#0031ff" d="M526.5 324.8l8 4.6l11.3 -0.2l-8.1 -4.5z"/>
<path fill="#f1c300" d="M121.4 126.3l5.8 12l12.8 2l-5.8 -12z"/>
<path fill="#eaf300" d="M140 140.3l5.8 11.7l12.7 1.8l-5.8 -11.6z"/>
<path fill="#b6f500" d="M158.5 153.8l5.9 11.4l12.7 1.7l-6 -11.3z"/>
<path fill="#84f600" d="M177.1 166.9l5.9 11l12.6 1.6l-6 -10.9z"/>
<path fill="#52f800" d="M195.6 179.5l6.1 10.7l12.4 1.5l-6.1 -10.6z"/>
<path fill="#23fa00" d="M214.1 191.7l6.2 10.3l12.4 1.3l-6.2 -10.2z"/>
<path fill="#00fb0b" d="M232.7 203.3l6.2 10l12.3 1.3l-6.2 -9.9z"/>
<path fill="#00fd38" d="M251.2 214.6l6.3 9.6l12.3 1.2l-6.3 -9.6z"/>
<path fill="#00fe63" d="M269.8 225.4l6.4 9.2l12.2 1.1l-6.4 -9.2z"/>
<path fill="#00ff8b" d="M288.4 235.7l6.5 8.9l12.1 1l-6.5 -8.9z"/>
<path fill="#00ffb2" d="M307 245.6l6.6 8.6l12.1 0.8l-6.7 -8.5z"/>
<path fill="#00ffd5" d="M325.7 255l6.7 8.3l12 0.7l-6.8 -8.2z"/>
<path fill="#00fff7" d="M344.4 264l6.8 7.9l11.9 0.6l-6.9 -7.8z"/>
<path fill="#00e7ff" d="M363.1 272.5l6.9 7.6l11.9 0.5l-7 -7.4z"/>
<path fill="#00caff" d="M381.9 280.6l7 7.2l11.8 0.5l-7.1 -7.1z"/>
<path fill="#00afff" d="M400.7 288.3l7.2 6.8l11.7 0.4l-7.2 -6.8z"/>
<path fill="#0097ff" d="M419.6 295.5l7.3 6.5l11.7 0.3l-7.4 -6.5z"/>
<path fill="#0080ff" d="M438.6 302.3l7.4 6.1l11.6 0.2l-7.5 -6.1z"/>
<path fill="#006cff" d="M457.6 308.6l7.5 5.8l11.6 0.1l-7.6 -5.8z"/>
<path fill="#005aff" d="M476.7 314.5l7.7 5.4l11.5 0l-7.8 -5.4z"/>
<path fill="#004aff" d="M495.9 319.9l7.8 5l11.4 0l-7.8 -5z"/>
<path fill="#003cff" d="M515.1 324.9l8 4.7l11.4 -0.2l-8 -4.6z"/>
<path fill="#f3ea00" d="M127.2 138.3l5.8 11.8l12.8 1.9l-5.8 -11.7z"/>
<path fill="#c7f400" d="M145.8 152l5.9 11.4l12.7 1.8l-5.9 -11.4z"/>
<path fill="#94f600" d="M164.4 165.2l6 11.1l12.6 1.6l-5.9 -11z"/>
<path fill="#62f800" d="M183 177.9l6.1 10.7l12.6 1.6l-6.1 -10.7z"/>
<path fill="#33f900" d="M201.7 190.2l6.1 10.4l12.5 1.4l-6.2 -10.3z"/>
<path fill="#04fb00" d="M220.3 202l6.2 10l12.4 1.3l-6.2 -10z"/>
<path fill="#00fd28" d="M238.9 213.3l6.3 9.7l12.3 1.2l-6.3 -9.6z"/>
<path fill="#00fe53" d="M257.5 224.2l6.4 9.4l12.3 1l-6.4 -9.2z"/>
<path fill="#00ff7c" d="M276.2 234.6l6.5 9.1l12.2 0.9l-6.5 -8.9z"/>
<path fill="#00ffa3" d="M294.9 244.6l6.6 8.7l12.1 0.9l-6.6 -8.6z"/>
<path fill="#00ffc7" d="M313.6 254.2l6.7 8.3l12.1 0.8l-6.7 -8.3z"/>
<path fill="#00ffe9" d="M332.4 263.3l6.8 7.9l12 0.7l-6.8 -7.9z"/>
<path fill="#00f5ff" d="M351.2 271.9l6.9 7.6l11.9 0.6l-6.9 -7.6z"/>
<path fill="#00d8ff" d="M370 280.1l7 7.3l11.9 0.4l-7 -7.2z"/>
<path fill="#00bdff" d="M388.9 287.8l7.1 7l11.9 0.3l-7.2 -6.8z"/>
<path fill="#00a4ff" d="M407.9 295.1l7.2 6.6l11.8 0.3l-7.3 -6.5z"/>
<path fill="#008dff" d="M426.9 302l7.4 6.2l11.7 0.2l-7.4 -6.1z"/>
<path fill="#0078ff" d="M446 308.4l7.5 5.8l11.6 0.2l-7.5 -5.8z"/>
<path fill="#0066ff" d="M465.1 314.4l7.7 5.4l11.6 0.1l-7.7 -5.4z"/>
<path fill="#0056ff" d="M484.4 319.9l7.8 5.1l11.5 -0.1l-7.8 -5z"/>
<path fill="#0048ff" d="M503.7 324.9l7.9 4.8l11.5 -0.1l-8 -4.7z"/>
<path fill="#d7f400" d="M133 150.1l5.9 11.5l12.8 1.8l-5.9 -11.4z"/>
<path fill="#a4f600" d="M151.7 163.4l5.9 11.2l12.8 1.7l-6 -11.1z"/>
<path fill="#73f700" d="M170.4 176.3l6 10.8l12.7 1.5l-6.1 -10.7z"/>
<path fill="#43f900" d="M189.1 188.6l6.1 10.5l12.6 1.5l-6.1 -10.4z"/>
<path fill="#14fb00" d="M207.8 200.6l6.1 10.1l12.6 1.3l-6.2 -10z"/>
<path fill="#00fc19" d="M226.5 212l6.2 9.8l12.5 1.2l-6.3 -9.7z"/>
<path fill="#00fe44" d="M245.2 223l6.3 9.5l12.4 1.1l-6.4 -9.4z"/>
<path fill="#00ff6d" d="M263.9 233.6l6.5 9.1l12.3 1l-6.5 -9.1z"/>
<path fill="#00ff94" d="M282.7 243.7l6.5 8.7l12.3 0.9l-6.6 -8.7z"/>
<path fill="#00ffb8" d="M301.5 253.3l6.6 8.4l12.2 0.8l-6.7 -8.3z"/>
<path fill="#00ffda" d="M320.3 262.5l6.7 8l12.2 0.7l-6.8 -7.9z"/>
<path fill="#00fffa" d="M339.2 271.2l6.8 7.7l12.1 0.6l-6.9 -7.6z"/>
<path fill="#00e6ff" d="M358.1 279.5l6.9 7.4l12 0.5l-7 -7.3z"/>
<path fill="#00caff" d="M377 287.4l7.1 6.9l11.9 0.5l-7.1 -7z"/>
<path fill="#00b1ff" d="M396 294.8l7.3 6.6l11.8 0.3l-7.2 -6.6z"/>
<path fill="#009aff" d="M415.1 301.7l7.4 6.3l11.8 0.2l-7.4 -6.2z"/>
<path fill="#0085ff" d="M434.3 308.2l7.4 5.9l11.8 0.1l-7.5 -5.8z"/>
<path fill="#0072ff" d="M453.5 314.2l7.6 5.6l11.7 0l-7.7 -5.4z"/>
<path fill="#0062ff" d="M472.8 319.8l7.7 5.2l11.7 0l-7.8 -5.1z"/>
<path fill="#0054ff" d="M492.2 325l7.8 4.8l11.6 -0.1l-7.9 -4.8z"/>
<path fill="#b4f500" d="M138.9 161.6l5.8 11.3l12.9 1.7l-5.9 -11.2z"/>
<path fill="#83f700" d="M157.6 174.6l6 10.9l12.8 1.6l-6 -10.8z"/>
<path fill="#53f900" d="M176.4 187.1l6 10.6l12.8 1.4l-6.1 -10.5z"/>
<path fill="#24fa00" d="M195.2 199.1l6.1 10.2l12.6 1.4l-6.1 -10.1z"/>
<path fill="#00fc09" d="M213.9 210.7l6.2 9.9l12.6 1.2l-6.2 -9.8z"/>
<path fill="#00fd34" d="M232.7 221.8l6.3 9.5l12.5 1.2l-6.3 -9.5z"/>
<path fill="#00ff5e" d="M251.5 232.5l6.4 9.1l12.5 1.1l-6.5 -9.1z"/>
<path fill="#00ff85" d="M270.4 242.7l6.4 8.8l12.4 0.9l-6.5 -8.7z"/>
<path fill="#00ffa9" d="M289.2 252.4l6.6 8.5l12.3 0.8l-6.6 -8.4z"/>
<path fill="#00ffcc" d="M308.1 261.7l6.7 8.1l12.2 0.7l-6.7 -8z"/>
<path fill="#00ffec" d="M327 270.5l6.9 7.8l12.1 0.6l-6.8 -7.7z"/>
<path fill="#00f4ff" d="M346 278.9l6.9 7.4l12.1 0.6l-6.9 -7.4z"/>
<path fill="#00d8ff" d="M365 286.9l7.1 7l12 0.4l-7.1 -6.9z"/>
<path fill="#00beff" d="M384.1 294.3l7.2 6.7l12 0.4l-7.3 -6.6z"/>
<path fill="#00a7ff" d="M403.3 301.4l7.3 6.3l11.9 0.3l-7.4 -6.3z"/>
<path fill="#0092ff" d="M422.5 308l7.4 5.9l11.8 0.2l-7.4 -5.9z"/>
<path fill="#007fff" d="M441.7 314.1l7.6 5.6l11.8 0.1l-7.6 -5.6z"/>
<path fill="#006eff" d="M461.1 319.8l7.7 5.2l11.7 0l-7.7 -5.2z"/>
<path fill="#0060ff" d="M480.5 325l7.9 4.9l11.6 -0.1l-7.8 -4.8z"/>
<path fill="#93f700" d="M144.7 172.9l6 11l12.9 1.6l-6 -10.9z"/>
<path fill="#63f800" d="M163.6 185.5l6 10.6l12.8 1.6l-6 -10.6z"/>
<path fill="#34fa00" d="M182.4 197.7l6.1 10.2l12.8 1.4l-6.1 -10.2z"/>
<path fill="#07fc00" d="M201.3 209.3l6.1 10l12.7 1.3l-6.2 -9.9z"/>
<path fill="#00fd24" d="M220.1 220.6l6.3 9.5l12.6 1.2l-6.3 -9.5z"/>
<path fill="#00ff4e" d="M239 231.3l6.4 9.3l12.5 1l-6.4 -9.1z"/>
<path fill="#00ff75" d="M257.9 241.6l6.5 8.9l12.4 1l-6.4 -8.8z"/>
<path fill="#00ff9a" d="M276.8 251.5l6.6 8.5l12.4 0.9l-6.6 -8.5z"/>
<path fill="#00ffbd" d="M295.8 260.9l6.7 8.2l12.3 0.7l-6.7 -8.1z"/>
<path fill="#00ffde" d="M314.8 269.8l6.8 7.8l12.3 0.7l-6.9 -7.8z"/>
<path fill="#00fffc" d="M333.9 278.3l6.8 7.5l12.2 0.5l-6.9 -7.4z"/>
<path fill="#00e6ff" d="M352.9 286.3l7.1 7.2l12.1 0.4l-7.1 -7z"/>
<path fill="#00ccff" d="M372.1 293.9l7.1 6.8l12.1 0.3l-7.2 -6.7z"/>
<path fill="#00b4ff" d="M391.3 301l7.2 6.4l12.1 0.3l-7.3 -6.3z"/>
<path fill="#009eff" d="M410.6 307.7l7.3 6.1l12 0.1l-7.4 -5.9z"/>
<path fill="#008bff" d="M429.9 313.9l7.5 5.7l11.9 0.1l-7.6 -5.6z"/>
<path fill="#007aff" d="M449.3 319.7l7.7 5.3l11.8 0l-7.7 -5.2z"/>
<path fill="#006bff" d="M468.8 325l7.8 5l11.8 -0.1l-7.9 -4.9z"/>
<path fill="#73f800" d="M150.7 183.9l5.9 10.7l13 1.5l-6 -10.6z"/>
<path fill="#44fa00" d="M169.6 196.1l6 10.4l12.9 1.4l-6.1 -10.2z"/>
<path fill="#17fb00" d="M188.5 207.9l6.1 10.1l12.8 1.3l-6.1 -10z"/>
<path fill="#00fd14" d="M207.4 219.3l6.3 9.6l12.7 1.2l-6.3 -9.5z"/>
<path fill="#00fe3e" d="M226.4 230.1l6.3 9.4l12.7 1.1l-6.4 -9.3z"/>
<path fill="#00ff66" d="M245.4 240.6l6.4 8.9l12.6 1l-6.5 -8.9z"/>
<path fill="#00ff8b" d="M264.4 250.5l6.5 8.6l12.5 0.9l-6.6 -8.5z"/>
<path fill="#00ffaf" d="M283.4 260l6.6 8.3l12.5 0.8l-6.7 -8.2z"/>
<path fill="#00ffd0" d="M302.5 269.1l6.7 7.9l12.4 0.6l-6.8 -7.8z"/>
<path fill="#00ffee" d="M321.6 277.6l6.8 7.6l12.3 0.6l-6.8 -7.5z"/>
<path fill="#00f3ff" d="M340.7 285.8l7 7.2l12.3 0.5l-7.1 -7.2z"/>
<path fill="#00d9ff" d="M360 293.5l7 6.8l12.2 0.4l-7.1 -6.8z"/>
<path fill="#00c1ff" d="M379.2 300.7l7.2 6.4l12.1 0.3l-7.2 -6.4z"/>
<path fill="#00abff" d="M398.5 307.4l7.4 6.2l12 0.2l-7.3 -6.1z"/>
<path fill="#0098ff" d="M417.9 313.8l7.5 5.7l12 0.1l-7.5 -5.7z"/>
<path fill="#0087ff" d="M437.4 319.6l7.6 5.4l12 0l-7.7 -5.3z"/>
<path fill="#0077ff" d="M457 325l7.7 5l11.9 0l-7.8 -5z"/>
<path fill="#54f900" d="M156.6 194.6l6 10.5l13 1.4l-6 -10.4z"/>
<path fill="#27fb00" d="M175.6 206.5l6.1 10.1l12.9 1.4l-6.1 -10.1z"/>
<path fill="#00fc05" d="M194.6 218l6.2 9.7l12.9 1.2l-6.3 -9.6z"/>
<path fill="#00fe2f" d="M213.7 228.9l6.3 9.4l12.7 1.2l-6.3 -9.4z"/>
<path fill="#00ff57" d="M232.7 239.5l6.4 9l12.7 1l-6.4 -8.9z"/>
<path fill="#00ff7c" d="M251.8 249.5l6.5 8.7l12.6 0.9l-6.5 -8.6z"/>
<path fill="#00ffa0" d="M270.9 259.1l6.6 8.4l12.5 0.8l-6.6 -8.3z"/>
<path fill="#00ffc1" d="M290 268.3l6.7 8l12.5 0.7l-6.7 -7.9z"/>
<path fill="#00ffe0" d="M309.2 277l6.8 7.6l12.4 0.6l-6.8 -7.6z"/>
<path fill="#00fffd" d="M328.4 285.2l7 7.3l12.3 0.5l-7 -7.2z"/>
<path fill="#00e7ff" d="M347.7 293l7.1 6.9l12.2 0.4l-7 -6.8z"/>
<path fill="#00ceff" d="M367 300.3l7.2 6.5l12.2 0.3l-7.2 -6.4z"/>
<path fill="#00b8ff" d="M386.4 307.1l7.3 6.2l12.2 0.3l-7.4 -6.2z"/>
<path fill="#00a5ff" d="M405.9 313.6l7.4 5.8l12.1 0.1l-7.5 -5.7z"/>
<path fill="#0093ff" d="M425.4 319.5l7.6 5.4l12 0.1l-7.6 -5.4z"/>
<path fill="#0084ff" d="M445 325l7.8 5.1l11.9 -0.1l-7.7 -5z"/>
<path fill="#37fb00" d="M162.6 205.1l6.1 10.1l13 1.4l-6.1 -10.1z"/>
<path fill="#0bfc00" d="M181.7 216.6l6.2 9.8l12.9 1.3l-6.2 -9.7z"/>
<path fill="#00fe1f" d="M200.8 227.7l6.3 9.5l12.9 1.1l-6.3 -9.4z"/>
<path fill="#00ff47" d="M220 238.3l6.3 9.2l12.8 1l-6.4 -9z"/>
<path fill="#00ff6d" d="M239.1 248.5l6.4 8.8l12.8 0.9l-6.5 -8.7z"/>
<path fill="#00ff91" d="M258.3 258.2l6.5 8.4l12.7 0.9l-6.6 -8.4z"/>
<path fill="#00ffb2" d="M277.5 267.5l6.6 8l12.6 0.8l-6.7 -8z"/>
<path fill="#00ffd2" d="M296.7 276.3l6.8 7.6l12.5 0.7l-6.8 -7.6z"/>
<path fill="#00ffef" d="M316 284.6l6.9 7.3l12.5 0.6l-7 -7.3z"/>
<path fill="#00f4ff" d="M335.4 292.5l7 6.9l12.4 0.5l-7.1 -6.9z"/>
<path fill="#00dcff" d="M354.8 299.9l7.1 6.6l12.3 0.3l-7.2 -6.5z"/>
<path fill="#00c5ff" d="M374.2 306.8l7.3 6.3l12.2 0.2l-7.3 -6.2z"/>
<path fill="#00b1ff" d="M393.7 313.3l7.4 5.9l12.2 0.2l-7.4 -5.8z"/>
<path fill="#009fff" d="M413.3 319.4l7.6 5.5l12.1 0l-7.6 -5.4z"/>
<path fill="#0090ff" d="M433 324.9l7.7 5.2l12.1 0l-7.8 -5.1z"/>
<path fill="#1bfc00" d="M168.7 215.2l6.1 9.9l13.1 1.3l-6.2 -9.8z"/>
<path fill="#00fd0f" d="M187.9 226.4l6.2 9.6l13 1.2l-6.3 -9.5z"/>
<path fill="#00ff37" d="M207.1 237.2l6.3 9.2l12.9 1.1l-6.3 -9.2z"/>
<path fill="#00ff5e" d="M226.3 247.5l6.4 8.8l12.8 1l-6.4 -8.8z"/>
<path fill="#00ff82" d="M245.5 257.3l6.6 8.5l12.7 0.8l-6.5 -8.4z"/>
<path fill="#00ffa4" d="M264.8 266.6l6.6 8.2l12.7 0.7l-6.6 -8z"/>
<path fill="#00ffc3" d="M284.1 275.5l6.8 7.8l12.6 0.6l-6.8 -7.6z"/>
<path fill="#00ffe1" d="M303.5 283.9l6.8 7.5l12.6 0.5l-6.9 -7.3z"/>
<path fill="#00fffc" d="M322.9 291.9l7 7.1l12.5 0.4l-7 -6.9z"/>
<path fill="#00e9ff" d="M342.4 299.4l7.1 6.7l12.4 0.4l-7.1 -6.6z"/>
<path fill="#00d3ff" d="M361.9 306.5l7.2 6.3l12.4 0.3l-7.3 -6.3z"/>
<path fill="#00beff" d="M381.5 313.1l7.3 5.9l12.3 0.2l-7.4 -5.9z"/>
<path fill="#00acff" d="M401.1 319.2l7.5 5.6l12.3 0.1l-7.6 -5.5z"/>
<path fill="#009cff" d="M420.9 324.9l7.6 5.2l12.2 0l-7.7 -5.2z"/>
<path fill="#01fd00" d="M174.8 225.1l6.2 9.7l13.1 1.2l-6.2 -9.6z"/>
<path fill="#00fe28" d="M194.1 236l6.3 9.3l13 1.1l-6.3 -9.2z"/>
<path fill="#00ff4e" d="M213.4 246.4l6.3 8.9l13 1l-6.4 -8.8z"/>
<path fill="#00ff73" d="M232.7 256.3l6.5 8.6l12.9 0.9l-6.6 -8.5z"/>
<path fill="#00ff95" d="M252.1 265.8l6.5 8.2l12.8 0.8l-6.6 -8.2z"/>
<path fill="#00ffb5" d="M271.4 274.8l6.7 7.8l12.8 0.7l-6.8 -7.8z"/>
<path fill="#00ffd2" d="M290.9 283.3l6.8 7.5l12.6 0.6l-6.8 -7.5z"/>
<path fill="#00ffee" d="M310.3 291.4l7 7.1l12.6 0.5l-7 -7.1z"/>
<path fill="#00f7ff" d="M329.9 299l7 6.7l12.6 0.4l-7.1 -6.7z"/>
<path fill="#00e0ff" d="M349.5 306.1l7.1 6.4l12.5 0.3l-7.2 -6.3z"/>
<path fill="#00cbff" d="M369.1 312.8l7.3 6l12.4 0.2l-7.3 -5.9z"/>
<path fill="#00b9ff" d="M388.8 319l7.5 5.6l12.3 0.2l-7.5 -5.6z"/>
<path fill="#00a9ff" d="M408.6 324.8l7.6 5.2l12.3 0.1l-7.6 -5.2z"/>
<path fill="#00fe18" d="M181 234.8l6.2 9.3l13.2 1.2l-6.3 -9.3z"/>
<path fill="#00ff3f" d="M200.4 245.3l6.3 9l13 1l-6.3 -8.9z"/>
<path fill="#00ff64" d="M219.7 255.3l6.5 8.6l13 1l-6.5 -8.6z"/>
<path fill="#00ff86" d="M239.2 264.9l6.5 8.2l12.9 0.9l-6.5 -8.2z"/>
<path fill="#00ffa6" d="M258.6 274l6.7 7.9l12.8 0.7l-6.7 -7.8z"/>
<path fill="#00ffc4" d="M278.1 282.6l6.8 7.5l12.8 0.7l-6.8 -7.5z"/>
<path fill="#00ffe0" d="M297.7 290.8l6.8 7.1l12.8 0.6l-7 -7.1z"/>
<path fill="#00fff9" d="M317.3 298.5l7 6.8l12.6 0.4l-7 -6.7z"/>
<path fill="#00edff" d="M336.9 305.7l7.2 6.5l12.5 0.3l-7.1 -6.4z"/>
<path fill="#00d8ff" d="M356.6 312.5l7.3 6.1l12.5 0.2l-7.3 -6z"/>
<path fill="#00c6ff" d="M376.4 318.8l7.4 5.7l12.5 0.1l-7.5 -5.6z"/>
<path fill="#00b5ff" d="M396.3 324.6l7.5 5.4l12.4 0l-7.6 -5.2z"/>
<path fill="#00ff2f" d="M187.2 244.1l6.3 9.1l13.2 1.1l-6.3 -9z"/>
<path fill="#00ff54" d="M206.7 254.3l6.3 8.7l13.2 0.9l-6.5 -8.6z"/>
<path fill="#00ff77" d="M226.2 263.9l6.5 8.4l13 0.8l-6.5 -8.2z"/>
<path fill="#00ff97" d="M245.7 273.1l6.6 8l13 0.8l-6.7 -7.9z"/>
<path fill="#00ffb6" d="M265.3 281.9l6.7 7.6l12.9 0.6l-6.8 -7.5z"/>
<path fill="#00ffd2" d="M284.9 290.1l6.8 7.3l12.8 0.5l-6.8 -7.1z"/>
<path fill="#00ffec" d="M304.5 297.9l7 6.9l12.8 0.5l-7 -6.8z"/>
<path fill="#00fbff" d="M324.3 305.3l7.1 6.5l12.7 0.4l-7.2 -6.5z"/>
<path fill="#00e6ff" d="M344.1 312.2l7.2 6.1l12.6 0.3l-7.3 -6.1z"/>
<path fill="#00d3ff" d="M363.9 318.6l7.4 5.7l12.5 0.2l-7.4 -5.7z"/>
<path fill="#00c2ff" d="M383.8 324.5l7.5 5.4l12.5 0.1l-7.5 -5.4z"/>
<path fill="#00ff45" d="M193.5 253.2l6.3 8.8l13.2 1l-6.3 -8.7z"/>
<path fill="#00ff68" d="M213 263l6.5 8.4l13.2 0.9l-6.5 -8.4z"/>
<path fill="#00ff89" d="M232.7 272.3l6.5 8l13.1 0.8l-6.6 -8z"/>
<path fill="#00ffa7" d="M252.3 281.1l6.7 7.7l13 0.7l-6.7 -7.6z"/>
<path fill="#00ffc4" d="M272 289.5l6.8 7.3l12.9 0.6l-6.8 -7.3z"/>
<path fill="#00ffde" d="M291.7 297.4l6.9 7l12.9 0.4l-7 -6.9z"/>
<path fill="#00fff5" d="M311.5 304.8l7 6.6l12.9 0.4l-7.1 -6.5z"/>
<path fill="#00f3ff" d="M331.4 311.8l7.1 6.2l12.8 0.3l-7.2 -6.1z"/>
<path fill="#00e0ff" d="M351.3 318.3l7.3 5.8l12.7 0.2l-7.4 -5.7z"/>
<path fill="#00ceff" d="M371.3 324.3l7.4 5.5l12.6 0.1l-7.5 -5.4z"/>
<path fill="#00ff59" d="M199.8 262l6.4 8.5l13.3 0.9l-6.5 -8.4z"/>
<path fill="#00ff7a" d="M219.5 271.4l6.5 8.1l13.2 0.8l-6.5 -8z"/>
<path fill="#00ff99" d="M239.2 280.3l6.6 7.8l13.2 0.7l-6.7 -7.7z"/>
<path fill="#00ffb5" d="M259 288.8l6.7 7.4l13.1 0.6l-6.8 -7.3z"/>
<path fill="#00ffd0" d="M278.8 296.8l6.8 7.1l13 0.5l-6.9 -7z"/>
<path fill="#00ffe8" d="M298.6 304.4l7 6.6l12.9 0.4l-7 -6.6z"/>
<path fill="#00fffe" d="M318.5 311.4l7.2 6.3l12.8 0.3l-7.1 -6.2z"/>
<path fill="#00edff" d="M338.5 318l7.3 5.9l12.8 0.2l-7.3 -5.8z"/>
<path fill="#00dbff" d="M358.6 324.1l7.4 5.6l12.7 0.1l-7.4 -5.5z"/>
<path fill="#00ff6b" d="M206.2 270.5l6.5 8.2l13.3 0.8l-6.5 -8.1z"/>
<path fill="#00ff8a" d="M226 279.5l6.6 7.9l13.2 0.7l-6.6 -7.8z"/>
<path fill="#00ffa7" d="M245.8 288.1l6.7 7.5l13.2 0.6l-6.7 -7.4z"/>
<path fill="#00ffc1" d="M265.7 296.2l6.8 7.1l13.1 0.6l-6.8 -7.1z"/>
<path fill="#00ffda" d="M285.6 303.9l7 6.7l13 0.4l-7 -6.6z"/>
<path fill="#00fff0" d="M305.6 311l7.1 6.4l13 0.3l-7.2 -6.3z"/>
<path fill="#00faff" d="M325.7 317.7l7.2 6l12.9 0.2l-7.3 -5.9z"/>
<path fill="#00e8ff" d="M345.8 323.9l7.3 5.6l12.9 0.2l-7.4 -5.6z"/>
<path fill="#00ff7b" d="M212.7 278.7l6.5 7.9l13.4 0.8l-6.6 -7.9z"/>
<path fill="#00ff98" d="M232.6 287.4l6.6 7.5l13.3 0.7l-6.7 -7.5z"/>
<path fill="#00ffb3" d="M252.5 295.6l6.8 7.2l13.2 0.5l-6.8 -7.1z"/>
<path fill="#00ffcc" d="M272.5 303.3l6.9 6.8l13.2 0.5l-7 -6.7z"/>
<path fill="#00ffe2" d="M292.6 310.6l7 6.4l13.1 0.4l-7.1 -6.4z"/>
<path fill="#00fff7" d="M312.7 317.4l7.2 6l13 0.3l-7.2 -6z"/>
<path fill="#00f5ff" d="M332.9 323.7l7.3 5.6l12.9 0.2l-7.3 -5.6z"/>
<path fill="#00ff8a" d="M219.2 286.6l6.6 7.6l13.4 0.7l-6.6 -7.5z"/>
<path fill="#00ffa5" d="M239.2 294.9l6.7 7.3l13.4 0.6l-6.8 -7.2z"/>
<path fill="#00ffbe" d="M259.3 302.8l6.8 6.8l13.3 0.5l-6.9 -6.8z"/>
<path fill="#00ffd5" d="M279.4 310.1l7 6.5l13.2 0.4l-7 -6.4z"/>
<path fill="#00ffe9" d="M299.6 317l7.1 6.1l13.2 0.3l-7.2 -6z"/>
<path fill="#00fffc" d="M319.9 323.4l7.2 5.8l13.1 0.1l-7.3 -5.6z"/>
<path fill="#00ff96" d="M225.8 294.2l6.6 7.4l13.5 0.6l-6.7 -7.3z"/>
<path fill="#00ffb0" d="M245.9 302.2l6.8 6.9l13.4 0.5l-6.8 -6.8z"/>
<path fill="#00ffc7" d="M266.1 309.6l6.9 6.6l13.4 0.4l-7 -6.5z"/>
<path fill="#00ffdc" d="M286.4 316.6l7 6.2l13.3 0.3l-7.1 -6.1z"/>
<path fill="#00ffee" d="M306.7 323.1l7.2 5.8l13.2 0.3l-7.2 -5.8z"/>
<path fill="#00ffa2" d="M232.4 301.6l6.8 7l13.5 0.5l-6.8 -6.9z"/>
<path fill="#00ffb9" d="M252.7 309.1l6.9 6.7l13.4 0.4l-6.9 -6.6z"/>
<path fill="#00ffce" d="M273 316.2l7 6.3l13.4 0.3l-7 -6.2z"/>
<path fill="#00ffe1" d="M293.4 322.8l7.2 5.9l13.3 0.2l-7.2 -5.8z"/>
<path fill="#00ffab" d="M239.2 308.6l6.8 6.7l13.6 0.5l-6.9 -6.7z"/>
<path fill="#00ffc0" d="M259.6 315.8l6.9 6.3l13.5 0.4l-7 -6.3z"/>
<path fill="#00ffd4" d="M280 322.5l7.1 5.9l13.5 0.3l-7.2 -5.9z"/>
<path fill="#00ffb3" d="M246 315.3l6.9 6.4l13.6 0.4l-6.9 -6.3z"/>
<path fill="#00ffc6" d="M266.5 322.1l7.1 6l13.5 0.3l-7.1 -5.9z"/>
<path fill="#00ffb9" d="M252.9 321.7l7 6.1l13.7 0.3l-7.1 -6z"/>
</g>
<circle cx="104" cy="83.5" r="4.5" fill="#be0000" stroke="#000" stroke-width="1.1"/>
<circle cx="332.5" cy="235" r="4.5" fill="#be0000" stroke="#000" stroke-width="1.1"/>
<circle cx="334" cy="238.5" r="4.5" fill="#be0000" stroke="#000" stroke-width="1.1"/>
<circle cx="471.8" cy="248.5" r="4.5" fill="#be0000" stroke="#000" stroke-width="1.1"/>
<circle cx="260" cy="326" r="4.5" fill="#be0000" stroke="#000" stroke-width="1.1"/>
<circle cx="177.5" cy="239" r="4.5" fill="#ffc8c8" stroke="#000" stroke-width="1.1"/>
<circle cx="566" cy="328.5" r="4.5" fill="#ffc8c8" stroke="#000" stroke-width="1.1"/>
<text x="90.4" y="52.8" font-size="22.5" text-anchor="end" textLength="33.2" lengthAdjust="spacingAndGlyphs">250</text>
<text x="93" y="112" font-size="22.5" text-anchor="end" textLength="33.2" lengthAdjust="spacingAndGlyphs">200</text>
<text x="95.6" y="171.2" font-size="22.5" text-anchor="end" textLength="33.2" lengthAdjust="spacingAndGlyphs">150</text>
<text x="98.2" y="230.4" font-size="22.5" text-anchor="end" textLength="33.2" lengthAdjust="spacingAndGlyphs">100</text>
<text x="100.8" y="289.6" font-size="22.5" text-anchor="end" textLength="22.1" lengthAdjust="spacingAndGlyphs">50</text>
<text x="93.4" y="392.9" font-size="22.5" text-anchor="middle" textLength="22.1" lengthAdjust="spacingAndGlyphs">70</text>
<text x="129.7" y="424.6" font-size="22.5" text-anchor="middle" textLength="22.1" lengthAdjust="spacingAndGlyphs">75</text>
<text x="165.9" y="456.4" font-size="22.5" text-anchor="middle" textLength="22.1" lengthAdjust="spacingAndGlyphs">80</text>
<text x="202.2" y="488.2" font-size="22.5" text-anchor="middle" textLength="22.1" lengthAdjust="spacingAndGlyphs">85</text>
<text x="238.4" y="520" font-size="22.5" text-anchor="middle" textLength="22.1" lengthAdjust="spacingAndGlyphs">90</text>
<text x="293.7" y="520.6" font-size="22.5" text-anchor="middle" textLength="33.2" lengthAdjust="spacingAndGlyphs">120</text>
<text x="342.5" y="507.6" font-size="22.5" text-anchor="middle" textLength="31.7" lengthAdjust="spacingAndGlyphs">110</text>
<text x="391.3" y="494.7" font-size="22.5" text-anchor="middle" textLength="33.2" lengthAdjust="spacingAndGlyphs">100</text>
<text x="440.1" y="481.8" font-size="22.5" text-anchor="middle" textLength="22.1" lengthAdjust="spacingAndGlyphs">90</text>
<text x="488.9" y="468.9" font-size="22.5" text-anchor="middle" textLength="22.1" lengthAdjust="spacingAndGlyphs">80</text>
<text x="537.7" y="456" font-size="22.5" text-anchor="middle" textLength="22.1" lengthAdjust="spacingAndGlyphs">70</text>
<text x="586.5" y="443.1" font-size="22.5" text-anchor="middle" textLength="22.1" lengthAdjust="spacingAndGlyphs">60</text>
<text x="31.2" y="227.8" font-size="19.5" text-anchor="middle" transform="rotate(-90 31.2 220.8)" textLength="89.8" lengthAdjust="spacingAndGlyphs">Time (min)</text>
<text x="82.5" y="471" font-size="19.5" text-anchor="middle" textLength="165" lengthAdjust="spacingAndGlyphs">B: Temperature (°C)</text>
<text x="478.8" y="520.5" font-size="19.5" text-anchor="middle" textLength="119.5" lengthAdjust="spacingAndGlyphs">A: Weight (gr)</text>
<text x="48.2" y="551.8" font-size="33" text-anchor="middle">a</text></g>
<g id="p_b"><polygon points="708.7,382 944.7,495 1180.7,381.9 946,293" fill="#646464" stroke="#000" stroke-width="1.8" stroke-linejoin="round"/>
<polyline points="765.4,409 765.9,407.3 766.4,405.6 766.9,403.9 767.3,402.2 767.8,400.5 768.3,398.8 768.8,397 769.3,395.2 769.8,393.5 770.2,391.7 770.7,390 771.2,388.3 771.7,386.5 772.1,384.8 772.6,383.1 773.1,381.4 773.5,379.7 774,378.1 774.4,376.4 774.9,374.7 775.3,373.1 775.8,371.4 776.2,369.8 776.6,368.1 777.1,366.5 777.5,364.9 777.9,363.2 778.3,361.7 778.7,360.1 779.2,358.6 779.6,357.1 780,355.5 780,355.3" fill="none" stroke="#ffaa00" stroke-width="2.5"/>
<polyline points="829.2,439.7 829.6,437.8 830,436 830.4,434.2 830.8,432.4 831.2,430.6 831.5,428.8 831.9,427 832.3,425.2 832.6,423.4 833,421.6 833.4,419.8 833.7,418.1 834.1,416.3 834.4,414.6 834.8,412.7 835.2,410.9 835.5,409.1 835.9,407.3 836.2,405.5 836.6,403.7 837,401.9 837.3,400.1 837.7,398.3 838,396.5 838.3,394.8 838.7,393 839,391.3 839.4,389.5 839.7,387.8 840,386.1 840.3,384.4 840.7,382.7 841,381 841.3,379.4 841.6,377.8 841.9,376.2 842.2,374.6 842.5,373 842.8,371.4 843.1,369.8 843.3,368.3 843.6,366.7 843.9,365.1 844.2,363.6 844.5,362 844.8,360.5 845,359 845.3,357.4 845.6,355.9 845.8,354.4 846.1,352.9 846.4,351.3 846.6,349.8 846.9,348.3 847.2,346.8 847.4,345.4 847.7,343.9 847.9,342.4 848.2,340.9 848.4,339.4 848.7,337.9 848.9,336.4 849.2,334.9 849.4,333.4 849.7,331.9 849.9,330.4 850.2,329 850.2,329" fill="none" stroke="#b4f000" stroke-width="2.5"/>
<polyline points="904.3,475.7 904.6,473.8 904.8,471.8 905.1,469.8 905.3,467.9 905.6,465.9 905.9,463.9 906.1,461.8 906.4,459.7 906.7,457.6 906.9,455.6 907.2,453.6 907.4,451.5 907.7,449.5 908,447.5 908.2,445.5 908.4,443.5 908.7,441.5 908.9,439.5 909.2,437.6 909.4,435.8 909.6,434 909.8,432.1 910,430.3 910.2,428.5 910.5,426.7 910.7,425 910.9,423.2 911.1,421.4 911.3,419.6 911.5,417.9 911.7,416.1 911.9,414.4 912.1,412.7 912.3,410.9 912.4,409.2 912.6,407.4 912.8,405.6 913,403.8 913.2,402 913.4,400.2 913.6,398.4 913.8,396.6 914,394.9 914.2,393.1 914.3,391.4 914.5,389.6 914.7,387.9 914.9,386.2 915,384.5 915.2,382.8 915.4,381.1 915.5,379.4 915.7,377.7 915.9,376 916,374.4 916.2,372.9 916.3,371.3 916.5,369.7 916.6,368.1 916.7,366.6 916.9,365 917,363.5 917.2,361.9 917.3,360.4 917.4,358.8 917.6,357.3 917.7,355.8 917.8,354.2 918,352.7 918.1,351.2 918.2,349.7 918.3,348.2 918.5,346.7 918.6,345.2 918.7,343.8 918.8,342.3 918.9,340.8 919,339.3 919.2,337.9 919.3,336.4 919.4,335 919.5,333.5 919.6,332 919.7,330.5 919.8,329 919.9,327.6 920,326.1 920.1,324.7 920.2,323.2 920.3,321.8 920.4,320.3 920.5,318.9 920.6,317.5 920.7,316.1 920.8,314.7 920.9,313.3 921,311.9 921,310.5 921.1,309.1 921.2,307.7 921.3,306.3 921.4,304.9 921.5,303.6 921.5,302.2 921.5,302.2" fill="none" stroke="#00e61e" stroke-width="2.5"/>
<polyline points="991.9,472.4 992,470.3 992.1,468.1 992.2,466 992.3,463.9 992.3,461.9 992.4,460 992.5,458 992.5,456.1 992.6,454.2 992.7,452.4 992.7,450.5 992.8,448.6 992.9,446.7 992.9,444.9 993,443 993,441.2 993.1,439.3 993.1,437.5 993.2,435.6 993.2,433.7 993.3,431.7 993.3,429.8 993.4,427.9 993.4,426 993.5,424.1 993.5,422.2 993.5,420.3 993.6,418.4 993.6,416.6 993.6,414.7 993.7,412.8 993.7,411 993.7,409.2 993.8,407.4 993.8,405.7 993.8,404 993.8,402.3 993.8,400.6 993.9,398.9 993.9,397.3 993.9,395.6 993.9,393.9 993.9,392.3 993.9,390.6 993.9,389 994,387.3 994,385.7 994,384.1 994,382.4 994,380.8 994,379.2 994,377.6 994,376 994,374.3 994,372.6 994,371 994,369.3 994,367.7 994,366.1 994,364.4 993.9,362.8 993.9,361.2 993.9,359.6 993.9,358 993.9,356.4 993.9,354.9 993.9,353.3 993.8,351.7 993.8,350.1 993.8,348.6 993.8,347 993.7,345.5 993.7,344 993.7,342.4 993.7,340.9 993.6,339.4 993.6,337.9 993.6,336.4 993.5,335 993.5,333.5 993.5,332.1 993.4,330.6 993.4,329.2 993.4,327.8 993.3,326.3 993.3,324.9 993.2,323.5 993.2,322.1 993.2,320.7 993.1,319.3 993.1,317.9 993,316.5 993,315.1 992.9,313.8 992.9,312.4 992.8,311 992.8,311" fill="none" stroke="#00f0aa" stroke-width="2.5"/>
<polyline points="1085.4,427.5 1085.3,425.6 1085.1,423.7 1084.9,421.8 1084.8,419.9 1084.6,418.1 1084.5,416.3 1084.3,414.6 1084.2,412.8 1084,411.1 1083.9,409.4 1083.7,407.7 1083.6,406 1083.4,404.3 1083.3,402.6 1083.1,400.9 1082.9,399.2 1082.8,397.5 1082.6,395.8 1082.5,394.2 1082.3,392.5 1082.1,390.9 1082,389.2 1081.8,387.5 1081.6,385.8 1081.5,384.1 1081.3,382.4 1081.1,380.7 1080.9,379 1080.8,377.3 1080.6,375.6 1080.4,373.9 1080.2,372.3 1080.1,370.6 1079.9,369 1079.7,367.3 1079.5,365.7 1079.3,364.1 1079.1,362.5 1079,360.9 1078.8,359.3 1078.6,357.7 1078.4,356.1 1078.2,354.5 1078,353 1077.9,351.5 1077.7,350 1077.5,348.5 1077.3,347 1077.1,345.5 1076.9,344 1076.8,342.5 1076.8,342.5" fill="none" stroke="#1e9bff" stroke-width="2.5"/>
<path d="M708.7 382L693.1 58M765.2 285L756.1 44M825.4 264.7L819 29.9M885.6 244.4L882 15.9M946 293L945 1.9M946 293L945 1.9M985.6 237.6L987 11.2M1025.4 251.1L1029 20.6M1065.1 264.7L1071 29.9M1104.9 278.2L1112.9 39.3M1144.7 291.7L1154.9 48.6M1180.7 381.9L1196.9 58M693.1 58L945 1.9L1196.9 58M694.8 93.5L945.1 33.8L1195.1 93.5M696.5 128.8L945.2 65.5L1193.4 128.8M698.2 164L945.3 97.1L1191.6 164M699.9 199L945.4 128.6L1189.9 199M701.6 234.3L945.5 160.3L1188.1 234.2M703.3 269.5L945.7 191.9L1186.3 269.4M705 305.3L945.8 224.1L1184.5 305.2" fill="none" stroke="#000" stroke-width="1.25"/>
<circle cx="693.1" cy="58" r="2.3"/>
<circle cx="694.8" cy="93.5" r="2.3"/>
<circle cx="696.5" cy="128.8" r="2.3"/>
<circle cx="698.2" cy="164" r="2.3"/>
<circle cx="699.9" cy="199" r="2.3"/>
<circle cx="701.6" cy="234.3" r="2.3"/>
<circle cx="703.3" cy="269.5" r="2.3"/>
<circle cx="705" cy="305.3" r="2.3"/>
<circle cx="708.7" cy="382" r="2.3"/>
<circle cx="748" cy="400.8" r="2.3"/>
<circle cx="787.4" cy="419.7" r="2.3"/>
<circle cx="826.7" cy="438.5" r="2.3"/>
<circle cx="866" cy="457.3" r="2.3"/>
<circle cx="905.4" cy="476.2" r="2.3"/>
<circle cx="944.7" cy="495" r="2.3"/>
<circle cx="944.7" cy="495" r="2.3"/>
<circle cx="1003.7" cy="466.7" r="2.3"/>
<circle cx="1062.7" cy="438.4" r="2.3"/>
<circle cx="1121.7" cy="410.2" r="2.3"/>
<circle cx="1180.7" cy="381.9" r="2.3"/>
<g stroke="#000" stroke-width="1.05" stroke-linejoin="round">
<path fill="#00f936" d="M936.7 124.1l8.7 6.2l8.7 1l-8.7 -6.1z"/>
<path fill="#00f823" d="M927.8 123l8.8 6.2l8.8 1.1l-8.7 -6.2z"/>
<path fill="#00f94a" d="M945.4 130.3l8.8 6.1l8.7 1l-8.8 -6.1z"/>
<path fill="#00f810" d="M918.9 121.8l8.7 6.3l9 1.1l-8.8 -6.2z"/>
<path fill="#00f937" d="M936.6 129.2l8.8 6.3l8.8 0.9l-8.8 -6.1z"/>
<path fill="#00fa5d" d="M954.2 136.4l8.9 6.2l8.7 0.9l-8.9 -6.1z"/>
<path fill="#03f800" d="M909.8 120.6l8.8 6.4l9 1.1l-8.7 -6.3z"/>
<path fill="#00f924" d="M927.6 128.1l8.8 6.3l9 1.1l-8.8 -6.3z"/>
<path fill="#00fa4a" d="M945.4 135.5l8.8 6.2l8.9 0.9l-8.9 -6.2z"/>
<path fill="#00fb70" d="M963.1 142.6l8.9 6.2l8.7 0.8l-8.9 -6.1z"/>
<path fill="#16f700" d="M900.7 119.4l8.8 6.4l9.1 1.2l-8.8 -6.4z"/>
<path fill="#00f811" d="M918.6 127l8.8 6.4l9 1l-8.8 -6.3z"/>
<path fill="#00f937" d="M936.4 134.4l8.9 6.4l8.9 0.9l-8.8 -6.2z"/>
<path fill="#00fa5d" d="M954.2 141.7l9 6.3l8.8 0.8l-8.9 -6.2z"/>
<path fill="#00fb82" d="M972 148.8l9 6.3l8.7 0.7l-9 -6.2z"/>
<path fill="#2af700" d="M891.5 118.1l8.7 6.5l9.3 1.2l-8.8 -6.4z"/>
<path fill="#03f800" d="M909.5 125.8l8.8 6.5l9.1 1.1l-8.8 -6.4z"/>
<path fill="#00f924" d="M927.4 133.4l8.9 6.4l9 1l-8.9 -6.4z"/>
<path fill="#00fa4a" d="M945.3 140.8l9 6.3l8.9 0.9l-9 -6.3z"/>
<path fill="#00fb70" d="M963.2 148l9 6.3l8.8 0.8l-9 -6.3z"/>
<path fill="#00fc95" d="M981 155.1l9.1 6.2l8.6 0.7l-9 -6.2z"/>
<path fill="#3df600" d="M882.1 116.8l8.8 6.5l9.3 1.3l-8.7 -6.5z"/>
<path fill="#16f700" d="M900.2 124.6l8.9 6.5l9.2 1.2l-8.8 -6.5z"/>
<path fill="#00f811" d="M918.3 132.3l8.9 6.4l9.1 1.1l-8.9 -6.4z"/>
<path fill="#00f937" d="M936.3 139.8l9 6.4l9 0.9l-9 -6.3z"/>
<path fill="#00fa5d" d="M954.3 147.1l9 6.4l8.9 0.8l-9 -6.3z"/>
<path fill="#00fb83" d="M972.2 154.3l9.1 6.3l8.8 0.7l-9.1 -6.2z"/>
<path fill="#00fca8" d="M990.1 161.3l9.1 6.2l8.7 0.6l-9.2 -6.1z"/>
<path fill="#51f600" d="M872.7 115.4l8.8 6.6l9.4 1.3l-8.8 -6.5z"/>
<path fill="#29f700" d="M890.9 123.3l8.9 6.6l9.3 1.2l-8.9 -6.5z"/>
<path fill="#02f800" d="M909.1 131.1l8.9 6.5l9.2 1.1l-8.9 -6.4z"/>
<path fill="#00f924" d="M927.2 138.7l9 6.5l9.1 1l-9 -6.4z"/>
<path fill="#00fa4b" d="M945.3 146.2l9.1 6.4l8.9 0.9l-9 -6.4z"/>
<path fill="#00fb70" d="M963.3 153.5l9.1 6.3l8.9 0.8l-9.1 -6.3z"/>
<path fill="#00fc96" d="M981.3 160.6l9.2 6.3l8.7 0.6l-9.1 -6.2z"/>
<path fill="#00fdbb" d="M999.2 167.5l9.2 6.3l8.7 0.5l-9.2 -6.2z"/>
<path fill="#64f500" d="M863.1 114l8.8 6.7l9.6 1.3l-8.8 -6.6z"/>
<path fill="#3df600" d="M881.5 122l8.9 6.7l9.4 1.2l-8.9 -6.6z"/>
<path fill="#15f700" d="M899.8 129.9l8.9 6.6l9.3 1.1l-8.9 -6.5z"/>
<path fill="#00f811" d="M918 137.6l9 6.6l9.2 1l-9 -6.5z"/>
<path fill="#00f938" d="M936.2 145.2l9.1 6.5l9.1 0.9l-9.1 -6.4z"/>
<path fill="#00fa5e" d="M954.4 152.6l9.1 6.4l8.9 0.8l-9.1 -6.3z"/>
<path fill="#00fb83" d="M972.4 159.8l9.2 6.4l8.9 0.7l-9.2 -6.3z"/>
<path fill="#00fca8" d="M990.5 166.9l9.2 6.3l8.7 0.6l-9.2 -6.3z"/>
<path fill="#00fdcd" d="M1008.4 173.8l9.3 6.3l8.7 0.5l-9.3 -6.3z"/>
<path fill="#78f500" d="M853.5 112.5l8.8 6.8l9.6 1.4l-8.8 -6.7z"/>
<path fill="#50f600" d="M871.9 120.7l8.9 6.7l9.6 1.3l-8.9 -6.7z"/>
<path fill="#29f700" d="M890.4 128.7l8.9 6.7l9.4 1.1l-8.9 -6.6z"/>
<path fill="#02f800" d="M908.7 136.5l9 6.6l9.3 1.1l-9 -6.6z"/>
<path fill="#00f925" d="M927 144.2l9.1 6.6l9.2 0.9l-9.1 -6.5z"/>
<path fill="#00fa4b" d="M945.3 151.7l9.1 6.5l9.1 0.8l-9.1 -6.4z"/>
<path fill="#00fb71" d="M963.5 159l9.2 6.5l8.9 0.7l-9.2 -6.4z"/>
<path fill="#00fc96" d="M981.6 166.2l9.3 6.4l8.8 0.6l-9.2 -6.3z"/>
<path fill="#00fdbb" d="M999.7 173.2l9.3 6.4l8.7 0.5l-9.3 -6.3z"/>
<path fill="#00fedf" d="M1017.7 180.1l9.4 6.3l8.6 0.4l-9.3 -6.2z"/>
<path fill="#8cf400" d="M843.7 111l8.8 6.8l9.8 1.5l-8.8 -6.8z"/>
<path fill="#64f500" d="M862.3 119.3l8.9 6.8l9.6 1.3l-8.9 -6.7z"/>
<path fill="#3cf600" d="M880.8 127.4l9 6.7l9.5 1.3l-8.9 -6.7z"/>
<path fill="#15f700" d="M899.3 135.4l9 6.6l9.4 1.1l-9 -6.6z"/>
<path fill="#00f812" d="M917.7 143.1l9.1 6.7l9.3 1l-9.1 -6.6z"/>
<path fill="#00f938" d="M936.1 150.8l9.1 6.5l9.2 0.9l-9.1 -6.5z"/>
<path fill="#00fa5e" d="M954.4 158.2l9.2 6.5l9.1 0.8l-9.2 -6.5z"/>
<path fill="#00fb84" d="M972.7 165.5l9.2 6.5l9 0.6l-9.3 -6.4z"/>
<path fill="#00fca9" d="M990.9 172.6l9.3 6.5l8.8 0.5l-9.3 -6.4z"/>
<path fill="#00fdce" d="M1009 179.6l9.4 6.4l8.7 0.4l-9.4 -6.3z"/>
<path fill="#00fef2" d="M1027.1 186.4l9.4 6.3l8.6 0.4l-9.4 -6.3z"/>
<path fill="#a0f400" d="M833.8 109.4l8.9 6.9l9.8 1.5l-8.8 -6.8z"/>
<path fill="#77f500" d="M852.5 117.8l9 6.9l9.7 1.4l-8.9 -6.8z"/>
<path fill="#50f600" d="M871.2 126.1l9 6.8l9.6 1.2l-9 -6.7z"/>
<path fill="#28f700" d="M889.8 134.1l9 6.8l9.5 1.1l-9 -6.6z"/>
<path fill="#01f800" d="M908.3 142l9.1 6.7l9.4 1.1l-9.1 -6.7z"/>
<path fill="#00f925" d="M926.8 149.8l9.2 6.6l9.2 0.9l-9.1 -6.5z"/>
<path fill="#00fa4c" d="M945.2 157.3l9.3 6.6l9.1 0.8l-9.2 -6.5z"/>
<path fill="#00fb71" d="M963.6 164.7l9.3 6.6l9 0.7l-9.2 -6.5z"/>
<path fill="#00fc97" d="M981.9 172l9.4 6.5l8.9 0.6l-9.3 -6.5z"/>
<path fill="#00fdbc" d="M1000.2 179.1l9.4 6.4l8.8 0.5l-9.4 -6.4z"/>
<path fill="#00fee0" d="M1018.4 186l9.4 6.4l8.7 0.3l-9.4 -6.3z"/>
<path fill="#00faff" d="M1036.5 192.7l9.6 6.4l8.5 0.2l-9.5 -6.2z"/>
<path fill="#b4f400" d="M823.8 107.8l8.9 7l10 1.5l-8.9 -6.9z"/>
<path fill="#8bf500" d="M842.7 116.3l8.9 7l9.9 1.4l-9 -6.9z"/>
<path fill="#63f500" d="M861.5 124.7l9 6.9l9.7 1.3l-9 -6.8z"/>
<path fill="#3cf600" d="M880.2 132.9l9 6.8l9.6 1.2l-9 -6.8z"/>
<path fill="#14f700" d="M898.8 140.9l9.2 6.8l9.4 1l-9.1 -6.7z"/>
<path fill="#00f812" d="M917.4 148.7l9.2 6.8l9.4 0.9l-9.2 -6.6z"/>
<path fill="#00f939" d="M936 156.4l9.2 6.7l9.3 0.8l-9.3 -6.6z"/>
<path fill="#00fa5f" d="M954.5 163.9l9.3 6.7l9.1 0.7l-9.3 -6.6z"/>
<path fill="#00fb84" d="M972.9 171.3l9.3 6.6l9.1 0.6l-9.4 -6.5z"/>
<path fill="#00fca9" d="M991.3 178.5l9.4 6.5l8.9 0.5l-9.4 -6.4z"/>
<path fill="#00fdce" d="M1009.6 185.5l9.4 6.5l8.8 0.4l-9.4 -6.4z"/>
<path fill="#00fef2" d="M1027.8 192.4l9.6 6.4l8.7 0.3l-9.6 -6.4z"/>
<path fill="#00e8ff" d="M1046.1 199.1l9.6 6.3l8.5 0.2l-9.6 -6.3z"/>
<path fill="#c8f300" d="M813.7 106.1l8.9 7.1l10.1 1.6l-8.9 -7z"/>
<path fill="#9ff400" d="M832.7 114.8l8.9 7l10 1.5l-8.9 -7z"/>
<path fill="#77f500" d="M851.6 123.3l9 6.9l9.9 1.4l-9 -6.9z"/>
<path fill="#4ff600" d="M870.5 131.6l9 6.9l9.7 1.2l-9 -6.8z"/>
<path fill="#28f700" d="M889.2 139.7l9.2 6.9l9.6 1.1l-9.2 -6.8z"/>
<path fill="#01f800" d="M908 147.7l9.1 6.8l9.5 1l-9.2 -6.8z"/>
<path fill="#00f926" d="M926.6 155.5l9.3 6.7l9.3 0.9l-9.2 -6.7z"/>
<path fill="#00fa4c" d="M945.2 163.1l9.3 6.7l9.3 0.8l-9.3 -6.7z"/>
<path fill="#00fb72" d="M963.8 170.6l9.3 6.6l9.1 0.7l-9.3 -6.6z"/>
<path fill="#00fc97" d="M982.2 177.9l9.5 6.5l9 0.6l-9.4 -6.5z"/>
<path fill="#00fdbc" d="M1000.7 185l9.5 6.5l8.8 0.5l-9.4 -6.5z"/>
<path fill="#00fee1" d="M1019 192l9.6 6.4l8.8 0.4l-9.6 -6.4z"/>
<path fill="#00f9ff" d="M1037.4 198.8l9.6 6.4l8.7 0.2l-9.6 -6.3z"/>
<path fill="#00d7ff" d="M1055.7 205.4l9.6 6.4l8.6 0.1l-9.7 -6.3z"/>
<path fill="#dcf300" d="M803.5 104.4l8.9 7.1l10.2 1.7l-8.9 -7.1z"/>
<path fill="#b3f400" d="M822.6 113.2l9 7.1l10 1.5l-8.9 -7z"/>
<path fill="#8bf500" d="M841.6 121.8l9.1 7l9.9 1.4l-9 -6.9z"/>
<path fill="#63f600" d="M860.6 130.2l9.1 7l9.8 1.3l-9 -6.9z"/>
<path fill="#3bf700" d="M879.5 138.5l9.2 6.9l9.7 1.2l-9.2 -6.9z"/>
<path fill="#14f800" d="M898.4 146.6l9.2 6.8l9.5 1.1l-9.1 -6.8z"/>
<path fill="#00f913" d="M917.1 154.5l9.3 6.8l9.5 0.9l-9.3 -6.7z"/>
<path fill="#00f939" d="M935.9 162.2l9.3 6.8l9.3 0.8l-9.3 -6.7z"/>
<path fill="#00fa5f" d="M954.5 169.8l9.4 6.7l9.2 0.7l-9.3 -6.6z"/>
<path fill="#00fb85" d="M973.1 177.2l9.5 6.7l9.1 0.5l-9.5 -6.5z"/>
<path fill="#00fcaa" d="M991.7 184.4l9.5 6.7l9 0.4l-9.5 -6.5z"/>
<path fill="#00fdcf" d="M1010.2 191.5l9.5 6.6l8.9 0.3l-9.6 -6.4z"/>
<path fill="#00fef3" d="M1028.6 198.4l9.6 6.5l8.8 0.3l-9.6 -6.4z"/>
<path fill="#00e8ff" d="M1047 205.2l9.7 6.5l8.6 0.1l-9.6 -6.4z"/>
<path fill="#00c6ff" d="M1065.3 211.8l9.8 6.4l8.5 0l-9.7 -6.3z"/>
<path fill="#f0f200" d="M793.2 102.6l8.9 7.2l10.3 1.7l-8.9 -7.1z"/>
<path fill="#c7f300" d="M812.4 111.5l9 7.2l10.2 1.6l-9 -7.1z"/>
<path fill="#9ff400" d="M831.6 120.3l9 7.1l10.1 1.4l-9.1 -7z"/>
<path fill="#76f500" d="M850.7 128.8l9.1 7.1l9.9 1.3l-9.1 -7z"/>
<path fill="#4ef600" d="M869.7 137.2l9.1 7l9.9 1.2l-9.2 -6.9z"/>
<path fill="#27f700" d="M888.7 145.4l9.2 6.9l9.7 1.1l-9.2 -6.8z"/>
<path fill="#00f800" d="M907.6 153.4l9.2 6.9l9.6 1l-9.3 -6.8z"/>
<path fill="#00f927" d="M926.4 161.3l9.3 6.8l9.5 0.9l-9.3 -6.8z"/>
<path fill="#00fa4d" d="M945.2 169l9.4 6.8l9.3 0.7l-9.4 -6.7z"/>
<path fill="#00fb73" d="M963.9 176.5l9.5 6.7l9.2 0.7l-9.5 -6.7z"/>
<path fill="#00fc98" d="M982.6 183.9l9.5 6.7l9.1 0.5l-9.5 -6.7z"/>
<path fill="#00fdbd" d="M1001.2 191.1l9.6 6.6l8.9 0.4l-9.5 -6.6z"/>
<path fill="#00fee1" d="M1019.7 198.1l9.7 6.6l8.8 0.2l-9.6 -6.5z"/>
<path fill="#00f9ff" d="M1038.2 204.9l9.8 6.6l8.7 0.2l-9.7 -6.5z"/>
<path fill="#00d6ff" d="M1056.7 211.7l9.8 6.4l8.6 0.1l-9.8 -6.4z"/>
<path fill="#00b5ff" d="M1075.1 218.2l9.8 6.4l8.6 0l-9.9 -6.4z"/>
<path fill="#f2df00" d="M782.7 100.8l8.9 7.3l10.5 1.7l-8.9 -7.2z"/>
<path fill="#dbf300" d="M802.1 109.8l8.9 7.3l10.4 1.6l-9 -7.2z"/>
<path fill="#b2f400" d="M821.4 118.7l9 7.2l10.2 1.5l-9 -7.1z"/>
<path fill="#8af500" d="M840.6 127.4l9.1 7.1l10.1 1.4l-9.1 -7.1z"/>
<path fill="#62f600" d="M859.8 135.9l9.1 7l9.9 1.3l-9.1 -7z"/>
<path fill="#3af700" d="M878.8 144.2l9.3 7l9.8 1.1l-9.2 -6.9z"/>
<path fill="#13f800" d="M897.9 152.3l9.3 7l9.6 1l-9.2 -6.9z"/>
<path fill="#00f914" d="M916.8 160.3l9.4 6.9l9.5 0.9l-9.3 -6.8z"/>
<path fill="#00fa3a" d="M935.7 168.1l9.4 6.9l9.5 0.8l-9.4 -6.8z"/>
<path fill="#00fb60" d="M954.6 175.8l9.5 6.8l9.3 0.6l-9.5 -6.7z"/>
<path fill="#00fc86" d="M973.4 183.2l9.5 6.8l9.2 0.6l-9.5 -6.7z"/>
<path fill="#00fdab" d="M992.1 190.6l9.6 6.7l9.1 0.4l-9.6 -6.6z"/>
<path fill="#00fecf" d="M1010.8 197.7l9.6 6.6l9 0.4l-9.7 -6.6z"/>
<path fill="#00fef4" d="M1029.4 204.7l9.7 6.6l8.9 0.2l-9.8 -6.6z"/>
<path fill="#00e7ff" d="M1048 211.5l9.7 6.5l8.8 0.1l-9.8 -6.4z"/>
<path fill="#00c5ff" d="M1066.5 218.1l9.8 6.5l8.6 0l-9.8 -6.4z"/>
<path fill="#00a4ff" d="M1084.9 224.6l10 6.4l8.5 -0.1l-9.9 -6.3z"/>
<path fill="#f1ca00" d="M772.1 98.9l8.9 7.4l10.6 1.8l-8.9 -7.3z"/>
<path fill="#eff200" d="M791.6 108.1l9 7.3l10.4 1.7l-8.9 -7.3z"/>
<path fill="#c6f300" d="M811 117.1l9.1 7.2l10.3 1.6l-9 -7.2z"/>
<path fill="#9ef400" d="M830.4 125.9l9.1 7.2l10.2 1.4l-9.1 -7.1z"/>
<path fill="#76f500" d="M849.7 134.5l9.2 7.1l10 1.3l-9.1 -7z"/>
<path fill="#4ef600" d="M868.9 142.9l9.3 7.1l9.9 1.2l-9.3 -7z"/>
<path fill="#26f700" d="M888.1 151.2l9.3 7.1l9.8 1l-9.3 -7z"/>
<path fill="#00f801" d="M907.2 159.3l9.3 7l9.7 0.9l-9.4 -6.9z"/>
<path fill="#00f927" d="M926.2 167.2l9.4 7l9.5 0.8l-9.4 -6.9z"/>
<path fill="#00fa4e" d="M945.1 175l9.5 6.9l9.5 0.7l-9.5 -6.8z"/>
<path fill="#00fb73" d="M964.1 182.6l9.5 6.8l9.3 0.6l-9.5 -6.8z"/>
<path fill="#00fc99" d="M982.9 190l9.6 6.8l9.2 0.5l-9.6 -6.7z"/>
<path fill="#00fdbe" d="M1001.7 197.3l9.7 6.7l9 0.3l-9.6 -6.6z"/>
<path fill="#00fee2" d="M1020.4 204.3l9.8 6.7l8.9 0.3l-9.7 -6.6z"/>
<path fill="#00f8ff" d="M1039.1 211.3l9.8 6.6l8.8 0.1l-9.7 -6.5z"/>
<path fill="#00d6ff" d="M1057.7 218l9.9 6.6l8.7 0l-9.8 -6.5z"/>
<path fill="#00b4ff" d="M1076.3 224.6l10 6.5l8.6 -0.1l-10 -6.4z"/>
<path fill="#0093ff" d="M1094.9 231l10 6.5l8.5 -0.2l-10 -6.4z"/>
<path fill="#f1b400" d="M761.4 97l8.9 7.4l10.7 1.9l-8.9 -7.4z"/>
<path fill="#f2e000" d="M781 106.3l9 7.3l10.6 1.8l-9 -7.3z"/>
<path fill="#dbf300" d="M800.6 115.4l9.1 7.3l10.4 1.6l-9.1 -7.2z"/>
<path fill="#b2f400" d="M820.1 124.3l9.1 7.3l10.3 1.5l-9.1 -7.2z"/>
<path fill="#89f500" d="M839.5 133.1l9.2 7.2l10.2 1.3l-9.2 -7.1z"/>
<path fill="#61f600" d="M858.9 141.6l9.2 7.2l10.1 1.2l-9.3 -7.1z"/>
<path fill="#3af700" d="M878.2 150l9.3 7.2l9.9 1.1l-9.3 -7.1z"/>
<path fill="#12f800" d="M897.4 158.3l9.3 7l9.8 1l-9.3 -7z"/>
<path fill="#00f914" d="M916.5 166.3l9.5 7l9.6 0.9l-9.4 -7z"/>
<path fill="#00fa3b" d="M935.6 174.2l9.5 6.9l9.5 0.8l-9.5 -6.9z"/>
<path fill="#00fb61" d="M954.6 181.9l9.6 6.9l9.4 0.6l-9.5 -6.8z"/>
<path fill="#00fc86" d="M973.6 189.4l9.6 6.9l9.3 0.5l-9.6 -6.8z"/>
<path fill="#00fdac" d="M992.5 196.8l9.7 6.8l9.2 0.4l-9.7 -6.7z"/>
<path fill="#00fed0" d="M1011.4 204l9.7 6.7l9.1 0.3l-9.8 -6.7z"/>
<path fill="#00fff4" d="M1030.2 211l9.8 6.7l8.9 0.2l-9.8 -6.6z"/>
<path fill="#00e6ff" d="M1048.9 217.9l9.9 6.6l8.8 0.1l-9.9 -6.6z"/>
<path fill="#00c4ff" d="M1067.6 224.6l10 6.6l8.7 -0.1l-10 -6.5z"/>
<path fill="#00a3ff" d="M1086.3 231.1l10 6.6l8.6 -0.2l-10 -6.5z"/>
<path fill="#0083ff" d="M1104.9 237.5l10.1 6.5l8.5 -0.3l-10.1 -6.4z"/>
<path fill="#f09f00" d="M750.5 95l9 7.5l10.8 1.9l-8.9 -7.4z"/>
<path fill="#f1cb00" d="M770.3 104.4l9 7.5l10.7 1.7l-9 -7.3z"/>
<path fill="#eff200" d="M790 113.6l9.1 7.5l10.6 1.6l-9.1 -7.3z"/>
<path fill="#c6f300" d="M809.7 122.7l9.1 7.4l10.4 1.5l-9.1 -7.3z"/>
<path fill="#9df400" d="M829.2 131.6l9.2 7.3l10.3 1.4l-9.2 -7.2z"/>
<path fill="#75f500" d="M848.7 140.3l9.3 7.2l10.1 1.3l-9.2 -7.2z"/>
<path fill="#4df600" d="M868.1 148.8l9.3 7.2l10.1 1.2l-9.3 -7.2z"/>
<path fill="#26f700" d="M887.5 157.2l9.4 7.1l9.8 1l-9.3 -7z"/>
<path fill="#00f801" d="M906.7 165.3l9.5 7.1l9.8 0.9l-9.5 -7z"/>
<path fill="#00f928" d="M926 173.3l9.5 7.1l9.6 0.7l-9.5 -6.9z"/>
<path fill="#00fa4e" d="M945.1 181.1l9.6 7l9.5 0.7l-9.6 -6.9z"/>
<path fill="#00fb74" d="M964.2 188.8l9.7 6.9l9.3 0.6l-9.6 -6.9z"/>
<path fill="#00fc99" d="M983.2 196.3l9.8 6.9l9.2 0.4l-9.7 -6.8z"/>
<path fill="#00fdbe" d="M1002.2 203.6l9.8 6.8l9.1 0.3l-9.7 -6.7z"/>
<path fill="#00fee3" d="M1021.1 210.7l9.9 6.8l9 0.2l-9.8 -6.7z"/>
<path fill="#00f7ff" d="M1040 217.7l9.9 6.7l8.9 0.1l-9.9 -6.6z"/>
<path fill="#00d5ff" d="M1058.8 224.5l10 6.7l8.8 0l-10 -6.6z"/>
<path fill="#00b3ff" d="M1077.6 231.2l10 6.6l8.7 -0.1l-10 -6.6z"/>
<path fill="#0092ff" d="M1096.3 237.7l10.1 6.5l8.6 -0.2l-10.1 -6.5z"/>
<path fill="#0072ff" d="M1115 244l10.2 6.5l8.4 -0.4l-10.1 -6.4z"/>
<path fill="#f08a00" d="M739.5 92.9l9 7.6l11 2l-9 -7.5z"/>
<path fill="#f1b500" d="M759.5 102.5l9 7.5l10.8 1.9l-9 -7.5z"/>
<path fill="#f2e100" d="M779.3 111.9l9.1 7.4l10.7 1.8l-9.1 -7.5z"/>
<path fill="#daf300" d="M799.1 121.1l9.1 7.4l10.6 1.6l-9.1 -7.4z"/>
<path fill="#b1f400" d="M818.8 130.1l9.2 7.4l10.4 1.4l-9.2 -7.3z"/>
<path fill="#89f500" d="M838.4 138.9l9.3 7.3l10.3 1.3l-9.3 -7.2z"/>
<path fill="#61f600" d="M858 147.5l9.3 7.3l10.1 1.2l-9.3 -7.2z"/>
<path fill="#39f700" d="M877.4 156l9.4 7.2l10.1 1.1l-9.4 -7.1z"/>
<path fill="#12f800" d="M896.9 164.3l9.4 7.2l9.9 0.9l-9.5 -7.1z"/>
<path fill="#00f915" d="M916.2 172.4l9.5 7.1l9.8 0.9l-9.5 -7.1z"/>
<path fill="#00fa3c" d="M935.5 180.4l9.6 7l9.6 0.7l-9.6 -7z"/>
<path fill="#00fb62" d="M954.7 188.1l9.7 7l9.5 0.6l-9.7 -6.9z"/>
<path fill="#00fc87" d="M973.9 195.7l9.7 7l9.4 0.5l-9.8 -6.9z"/>
<path fill="#00fdac" d="M993 203.2l9.8 6.9l9.2 0.3l-9.8 -6.8z"/>
<path fill="#00fed1" d="M1012 210.4l9.9 6.9l9.1 0.2l-9.9 -6.8z"/>
<path fill="#00fff5" d="M1031 217.5l9.9 6.8l9 0.1l-9.9 -6.7z"/>
<path fill="#00e6ff" d="M1049.9 224.4l10 6.8l8.9 0l-10 -6.7z"/>
<path fill="#00c4ff" d="M1068.8 231.2l10.1 6.7l8.7 -0.1l-10 -6.6z"/>
<path fill="#00a2ff" d="M1087.6 237.8l10.2 6.6l8.6 -0.2l-10.1 -6.5z"/>
<path fill="#0082ff" d="M1106.4 244.2l10.2 6.6l8.6 -0.3l-10.2 -6.5z"/>
<path fill="#0062ff" d="M1125.2 250.5l10.2 6.5l8.5 -0.4l-10.3 -6.5z"/>
<path fill="#ef7400" d="M728.4 90.8l9 7.7l11.1 2l-9 -7.6z"/>
<path fill="#f0a000" d="M748.5 100.5l9 7.6l11 1.9l-9 -7.5z"/>
<path fill="#f1cc00" d="M768.5 110l9.1 7.6l10.8 1.7l-9.1 -7.4z"/>
<path fill="#eef200" d="M788.4 119.3l9.2 7.6l10.6 1.6l-9.1 -7.4z"/>
<path fill="#c5f300" d="M808.2 128.5l9.3 7.5l10.5 1.5l-9.2 -7.4z"/>
<path fill="#9cf400" d="M828 137.5l9.3 7.4l10.4 1.3l-9.3 -7.3z"/>
<path fill="#74f500" d="M847.7 146.2l9.3 7.4l10.3 1.2l-9.3 -7.3z"/>
<path fill="#4cf600" d="M867.3 154.8l9.4 7.3l10.1 1.1l-9.4 -7.2z"/>
<path fill="#25f700" d="M886.8 163.2l9.5 7.3l10 1l-9.4 -7.2z"/>
<path fill="#00f802" d="M906.3 171.5l9.6 7.2l9.8 0.8l-9.5 -7.1z"/>
<path fill="#00f929" d="M925.7 179.5l9.6 7.2l9.8 0.7l-9.6 -7z"/>
<path fill="#00fa4f" d="M945.1 187.4l9.7 7.1l9.6 0.6l-9.7 -7z"/>
<path fill="#00fb75" d="M964.4 195.1l9.7 7.1l9.5 0.5l-9.7 -7z"/>
<path fill="#00fc9a" d="M983.6 202.7l9.8 7l9.4 0.4l-9.8 -6.9z"/>
<path fill="#00fdbf" d="M1002.8 210.1l9.8 6.9l9.3 0.3l-9.9 -6.9z"/>
<path fill="#00fee4" d="M1021.9 217.3l9.9 6.8l9.1 0.2l-9.9 -6.8z"/>
<path fill="#00f7ff" d="M1040.9 224.3l10 6.8l9 0.1l-10 -6.8z"/>
<path fill="#00d4ff" d="M1059.9 231.2l10.1 6.7l8.9 0l-10.1 -6.7z"/>
<path fill="#00b3ff" d="M1078.9 237.9l10.1 6.7l8.8 -0.2l-10.2 -6.6z"/>
<path fill="#0092ff" d="M1097.8 244.4l10.2 6.7l8.6 -0.3l-10.2 -6.6z"/>
<path fill="#0072ff" d="M1116.6 250.8l10.3 6.6l8.5 -0.4l-10.2 -6.5z"/>
<path fill="#0052ff" d="M1135.4 257l10.4 6.5l8.4 -0.4l-10.3 -6.5z"/>
<path fill="#ef5e00" d="M717.2 88.6l8.9 7.8l11.3 2.1l-9 -7.7z"/>
<path fill="#f08b00" d="M737.4 98.5l9 7.7l11.1 1.9l-9 -7.6z"/>
<path fill="#f1b600" d="M757.5 108.1l9.1 7.7l11 1.8l-9.1 -7.6z"/>
<path fill="#f2e200" d="M777.6 117.6l9.2 7.6l10.8 1.7l-9.2 -7.6z"/>
<path fill="#d9f300" d="M797.6 126.9l9.2 7.5l10.7 1.6l-9.3 -7.5z"/>
<path fill="#b0f400" d="M817.5 136l9.3 7.4l10.5 1.5l-9.3 -7.4z"/>
<path fill="#88f500" d="M837.3 144.9l9.4 7.4l10.3 1.3l-9.3 -7.4z"/>
<path fill="#60f600" d="M857 153.6l9.5 7.4l10.2 1.1l-9.4 -7.3z"/>
<path fill="#38f700" d="M876.7 162.1l9.5 7.4l10.1 1l-9.5 -7.3z"/>
<path fill="#11f800" d="M896.3 170.5l9.6 7.3l10 0.9l-9.6 -7.2z"/>
<path fill="#00f916" d="M915.9 178.7l9.6 7.2l9.8 0.8l-9.6 -7.2z"/>
<path fill="#00fa3c" d="M935.3 186.7l9.7 7.1l9.8 0.7l-9.7 -7.1z"/>
<path fill="#00fb63" d="M954.8 194.5l9.7 7.1l9.6 0.6l-9.7 -7.1z"/>
<path fill="#00fc88" d="M974.1 202.2l9.8 7l9.5 0.5l-9.8 -7z"/>
<path fill="#00fdad" d="M993.4 209.7l9.9 7l9.3 0.3l-9.8 -6.9z"/>
<path fill="#00fed2" d="M1012.6 217l10 6.9l9.2 0.2l-9.9 -6.8z"/>
<path fill="#00fff6" d="M1031.8 224.1l10 6.9l9.1 0.1l-10 -6.8z"/>
<path fill="#00e5ff" d="M1050.9 231.1l10.1 6.8l9 0l-10.1 -6.7z"/>
<path fill="#00c3ff" d="M1070 237.9l10.2 6.8l8.8 -0.1l-10.1 -6.7z"/>
<path fill="#00a2ff" d="M1089 244.6l10.3 6.7l8.7 -0.2l-10.2 -6.7z"/>
<path fill="#0081ff" d="M1108 251.1l10.3 6.6l8.6 -0.3l-10.3 -6.6z"/>
<path fill="#0061ff" d="M1126.9 257.4l10.4 6.6l8.5 -0.5l-10.4 -6.5z"/>
<path fill="#0042ff" d="M1145.8 263.5l10.5 6.6l8.4 -0.6l-10.5 -6.4z"/>
<path fill="#ef4900" d="M705.8 86.4l9 7.8l11.3 2.2l-8.9 -7.8z"/>
<path fill="#f07500" d="M726.1 96.4l9.1 7.7l11.2 2.1l-9 -7.7z"/>
<path fill="#f1a100" d="M746.4 106.2l9.2 7.7l11 1.9l-9.1 -7.7z"/>
<path fill="#f2cd00" d="M766.6 115.8l9.2 7.6l11 1.8l-9.2 -7.6z"/>
<path fill="#edf300" d="M786.8 125.2l9.2 7.6l10.8 1.6l-9.2 -7.5z"/>
<path fill="#c4f300" d="M806.8 134.4l9.3 7.6l10.7 1.4l-9.3 -7.4z"/>
<path fill="#9bf400" d="M826.8 143.4l9.4 7.6l10.5 1.3l-9.4 -7.4z"/>
<path fill="#73f500" d="M846.7 152.3l9.4 7.5l10.4 1.2l-9.5 -7.4z"/>
<path fill="#4bf600" d="M866.5 161l9.5 7.4l10.2 1.1l-9.5 -7.4z"/>
<path fill="#24f700" d="M886.2 169.5l9.6 7.3l10.1 1l-9.6 -7.3z"/>
<path fill="#00f803" d="M905.9 177.8l9.6 7.3l10 0.8l-9.6 -7.2z"/>
<path fill="#00f92a" d="M925.5 185.9l9.7 7.2l9.8 0.7l-9.7 -7.1z"/>
<path fill="#00fa50" d="M945 193.8l9.8 7.2l9.7 0.6l-9.7 -7.1z"/>
<path fill="#00fb76" d="M964.5 201.6l9.9 7.2l9.5 0.4l-9.8 -7z"/>
<path fill="#00fc9b" d="M983.9 209.2l10 7.1l9.4 0.4l-9.9 -7z"/>
<path fill="#00fdc0" d="M1003.3 216.7l10 7l9.3 0.2l-10 -6.9z"/>
<path fill="#00fee5" d="M1022.6 223.9l10.1 7l9.1 0.1l-10 -6.9z"/>
<path fill="#00f6ff" d="M1041.8 231l10.2 6.9l9 0l-10.1 -6.8z"/>
<path fill="#00d3ff" d="M1061 237.9l10.2 6.9l9 -0.1l-10.2 -6.8z"/>
<path fill="#00b2ff" d="M1080.2 244.7l10.2 6.8l8.9 -0.2l-10.3 -6.7z"/>
<path fill="#0091ff" d="M1099.3 251.3l10.3 6.8l8.7 -0.4l-10.3 -6.6z"/>
<path fill="#0071ff" d="M1118.3 257.7l10.4 6.7l8.6 -0.4l-10.4 -6.6z"/>
<path fill="#0051ff" d="M1137.3 264l10.5 6.6l8.5 -0.5l-10.5 -6.6z"/>
<path fill="#0033ff" d="M1156.3 270.1l10.5 6.6l8.4 -0.6l-10.5 -6.6z"/>
<path fill="#ee3300" d="M694.2 84.1l9 7.9l11.6 2.2l-9 -7.8z"/>
<path fill="#ef5f00" d="M714.8 94.2l9 7.9l11.4 2l-9.1 -7.7z"/>
<path fill="#f08c00" d="M735.2 104.1l9.1 7.8l11.3 2l-9.2 -7.7z"/>
<path fill="#f1b700" d="M755.6 113.9l9.2 7.7l11 1.8l-9.2 -7.6z"/>
<path fill="#f2e300" d="M775.8 123.4l9.3 7.7l10.9 1.7l-9.2 -7.6z"/>
<path fill="#d8f300" d="M796 132.8l9.3 7.6l10.8 1.6l-9.3 -7.6z"/>
<path fill="#aff400" d="M816.1 142l9.4 7.6l10.7 1.4l-9.4 -7.6z"/>
<path fill="#87f500" d="M836.2 151l9.4 7.5l10.5 1.3l-9.4 -7.5z"/>
<path fill="#5ff600" d="M856.1 159.8l9.5 7.4l10.4 1.2l-9.5 -7.4z"/>
<path fill="#37f700" d="M876 168.4l9.6 7.4l10.2 1l-9.6 -7.3z"/>
<path fill="#10f800" d="M895.8 176.8l9.7 7.4l10 0.9l-9.6 -7.3z"/>
<path fill="#00f917" d="M915.5 185.1l9.8 7.3l9.9 0.7l-9.7 -7.2z"/>
<path fill="#00fa3d" d="M935.2 193.1l9.8 7.3l9.8 0.6l-9.8 -7.2z"/>
<path fill="#00fb63" d="M954.8 201l9.9 7.3l9.7 0.5l-9.9 -7.2z"/>
<path fill="#00fc89" d="M974.4 208.8l9.9 7.1l9.6 0.4l-10 -7.1z"/>
<path fill="#00fdae" d="M993.9 216.3l10 7.1l9.4 0.3l-10 -7z"/>
<path fill="#00fed3" d="M1013.3 223.7l10.1 7l9.3 0.2l-10.1 -7z"/>
<path fill="#00fff7" d="M1032.7 230.9l10.1 7l9.2 0l-10.2 -6.9z"/>
<path fill="#00e4ff" d="M1052 237.9l10.2 7l9 -0.1l-10.2 -6.9z"/>
<path fill="#00c2ff" d="M1071.2 244.8l10.3 6.9l8.9 -0.2l-10.2 -6.8z"/>
<path fill="#00a1ff" d="M1090.4 251.5l10.4 6.9l8.8 -0.3l-10.3 -6.8z"/>
<path fill="#0080ff" d="M1109.6 258.1l10.4 6.7l8.7 -0.4l-10.4 -6.7z"/>
<path fill="#0061ff" d="M1128.7 264.4l10.5 6.8l8.6 -0.6l-10.5 -6.6z"/>
<path fill="#0042ff" d="M1147.8 270.6l10.6 6.7l8.4 -0.6l-10.5 -6.6z"/>
<path fill="#0023ff" d="M1166.8 276.7l10.7 6.6l8.3 -0.7l-10.6 -6.5z"/>
<path fill="#ef4a00" d="M703.2 92l9.1 7.9l11.5 2.2l-9 -7.9z"/>
<path fill="#f07600" d="M723.8 102.1l9.2 7.9l11.3 1.9l-9.1 -7.8z"/>
<path fill="#f1a200" d="M744.3 111.9l9.2 7.9l11.3 1.8l-9.2 -7.7z"/>
<path fill="#f2ce00" d="M764.8 121.6l9.2 7.8l11.1 1.7l-9.3 -7.7z"/>
<path fill="#ecf300" d="M785.1 131.1l9.3 7.8l10.9 1.5l-9.3 -7.6z"/>
<path fill="#c3f400" d="M805.3 140.4l9.4 7.7l10.8 1.5l-9.4 -7.6z"/>
<path fill="#9bf500" d="M825.5 149.6l9.5 7.6l10.6 1.3l-9.4 -7.5z"/>
<path fill="#72f600" d="M845.6 158.5l9.6 7.6l10.4 1.1l-9.5 -7.4z"/>
<path fill="#4af700" d="M865.6 167.2l9.6 7.6l10.4 1l-9.6 -7.4z"/>
<path fill="#23f700" d="M885.6 175.8l9.7 7.5l10.2 0.9l-9.7 -7.4z"/>
<path fill="#00f804" d="M905.5 184.2l9.7 7.4l10.1 0.8l-9.8 -7.3z"/>
<path fill="#00f92b" d="M925.3 192.4l9.8 7.3l9.9 0.7l-9.8 -7.3z"/>
<path fill="#00fa51" d="M945 200.4l9.9 7.3l9.8 0.6l-9.9 -7.3z"/>
<path fill="#00fb77" d="M964.7 208.3l9.9 7.2l9.7 0.4l-9.9 -7.1z"/>
<path fill="#00fc9c" d="M984.3 215.9l10 7.2l9.6 0.3l-10 -7.1z"/>
<path fill="#00fdc1" d="M1003.9 223.4l10 7.2l9.5 0.1l-10.1 -7z"/>
<path fill="#00fee6" d="M1023.4 230.7l10.1 7.1l9.3 0.1l-10.1 -7z"/>
<path fill="#00f5ff" d="M1042.8 237.9l10.2 7l9.2 0l-10.2 -7z"/>
<path fill="#00d3ff" d="M1062.2 244.9l10.3 7l9 -0.2l-10.3 -6.9z"/>
<path fill="#00b1ff" d="M1081.5 251.7l10.4 6.9l8.9 -0.2l-10.4 -6.9z"/>
<path fill="#0090ff" d="M1100.8 258.4l10.4 6.8l8.8 -0.4l-10.4 -6.7z"/>
<path fill="#0070ff" d="M1120 264.8l10.5 6.8l8.7 -0.4l-10.5 -6.8z"/>
<path fill="#0051ff" d="M1139.2 271.2l10.6 6.7l8.6 -0.6l-10.6 -6.7z"/>
<path fill="#0032ff" d="M1158.4 277.3l10.6 6.7l8.5 -0.7l-10.7 -6.6z"/>
<path fill="#ef6000" d="M712.3 99.9l9.2 8l11.5 2.1l-9.2 -7.9z"/>
<path fill="#f08d00" d="M733 110l9.2 7.9l11.3 1.9l-9.2 -7.9z"/>
<path fill="#f1b800" d="M753.5 119.8l9.3 7.9l11.2 1.7l-9.2 -7.8z"/>
<path fill="#f2e400" d="M774 129.4l9.4 7.8l11 1.7l-9.3 -7.8z"/>
<path fill="#d7f300" d="M794.4 138.9l9.4 7.7l10.9 1.5l-9.4 -7.7z"/>
<path fill="#aef400" d="M814.7 148.1l9.5 7.7l10.8 1.4l-9.5 -7.6z"/>
<path fill="#86f500" d="M835 157.2l9.5 7.6l10.7 1.3l-9.6 -7.6z"/>
<path fill="#5ef600" d="M855.2 166.1l9.6 7.6l10.4 1.1l-9.6 -7.6z"/>
<path fill="#36f700" d="M875.2 174.8l9.7 7.5l10.4 1l-9.7 -7.5z"/>
<path fill="#0ff800" d="M895.3 183.3l9.7 7.5l10.2 0.8l-9.7 -7.4z"/>
<path fill="#00f918" d="M915.2 191.6l9.8 7.4l10.1 0.7l-9.8 -7.3z"/>
<path fill="#00fa3e" d="M935.1 199.7l9.9 7.4l9.9 0.6l-9.9 -7.3z"/>
<path fill="#00fb64" d="M954.9 207.7l10 7.3l9.7 0.5l-9.9 -7.2z"/>
<path fill="#00fc8a" d="M974.6 215.5l10.1 7.3l9.6 0.3l-10 -7.2z"/>
<path fill="#00fdaf" d="M994.3 223.1l10.1 7.2l9.5 0.3l-10 -7.2z"/>
<path fill="#00fed4" d="M1013.9 230.6l10.2 7.1l9.4 0.1l-10.1 -7.1z"/>
<path fill="#00fff8" d="M1033.5 237.8l10.3 7.1l9.2 0l-10.2 -7z"/>
<path fill="#00e3ff" d="M1053 244.9l10.3 7.1l9.2 -0.1l-10.3 -7z"/>
<path fill="#00c1ff" d="M1072.5 251.9l10.4 7l9 -0.3l-10.4 -6.9z"/>
<path fill="#00a0ff" d="M1091.9 258.6l10.4 7l8.9 -0.4l-10.4 -6.8z"/>
<path fill="#007fff" d="M1111.2 265.2l10.6 6.9l8.7 -0.5l-10.5 -6.8z"/>
<path fill="#0060ff" d="M1130.5 271.6l10.7 6.9l8.6 -0.6l-10.6 -6.7z"/>
<path fill="#0041ff" d="M1149.8 277.9l10.7 6.8l8.5 -0.7l-10.6 -6.7z"/>
<path fill="#f07700" d="M721.5 107.9l9.2 8l11.5 2l-9.2 -7.9z"/>
<path fill="#f1a300" d="M742.2 117.9l9.3 7.9l11.3 1.9l-9.3 -7.9z"/>
<path fill="#f2cf00" d="M762.8 127.7l9.4 7.9l11.2 1.6l-9.4 -7.8z"/>
<path fill="#ebf300" d="M783.4 137.2l9.4 7.9l11 1.5l-9.4 -7.7z"/>
<path fill="#c2f400" d="M803.8 146.6l9.5 7.8l10.9 1.4l-9.5 -7.7z"/>
<path fill="#9af500" d="M824.2 155.8l9.6 7.8l10.7 1.2l-9.5 -7.6z"/>
<path fill="#71f600" d="M844.5 164.8l9.7 7.7l10.6 1.2l-9.6 -7.6z"/>
<path fill="#49f700" d="M864.8 173.7l9.7 7.6l10.4 1l-9.7 -7.5z"/>
<path fill="#22f800" d="M884.9 182.3l9.8 7.6l10.3 0.9l-9.7 -7.5z"/>
<path fill="#00f905" d="M905 190.8l9.9 7.5l10.1 0.7l-9.8 -7.4z"/>
<path fill="#00fa2c" d="M925 199l9.9 7.5l10.1 0.6l-9.9 -7.4z"/>
<path fill="#00fb52" d="M945 207.1l10 7.4l9.9 0.5l-10 -7.3z"/>
<path fill="#00fc78" d="M964.9 215l10 7.4l9.8 0.4l-10.1 -7.3z"/>
<path fill="#00fc9d" d="M984.7 222.8l10.1 7.3l9.6 0.2l-10.1 -7.2z"/>
<path fill="#00fdc2" d="M1004.4 230.3l10.2 7.3l9.5 0.1l-10.2 -7.1z"/>
<path fill="#00fee7" d="M1024.1 237.7l10.3 7.2l9.4 0l-10.3 -7.1z"/>
<path fill="#00f4ff" d="M1043.8 244.9l10.3 7.2l9.2 -0.1l-10.3 -7.1z"/>
<path fill="#00d2ff" d="M1063.3 252l10.5 7.1l9.1 -0.2l-10.4 -7z"/>
<path fill="#00b0ff" d="M1082.9 258.9l10.5 7l8.9 -0.3l-10.4 -7z"/>
<path fill="#008fff" d="M1102.3 265.6l10.6 6.9l8.9 -0.4l-10.6 -6.9z"/>
<path fill="#006fff" d="M1121.8 272.1l10.6 6.9l8.8 -0.5l-10.7 -6.9z"/>
<path fill="#0050ff" d="M1141.2 278.5l10.7 6.8l8.6 -0.6l-10.7 -6.8z"/>
<path fill="#f08e00" d="M730.7 115.9l9.3 8l11.5 1.9l-9.3 -7.9z"/>
<path fill="#f1ba00" d="M751.5 125.8l9.4 8l11.3 1.8l-9.4 -7.9z"/>
<path fill="#f2e500" d="M772.2 135.6l9.4 7.9l11.2 1.6l-9.4 -7.9z"/>
<path fill="#d6f300" d="M792.8 145.1l9.5 7.9l11 1.4l-9.5 -7.8z"/>
<path fill="#adf400" d="M813.3 154.4l9.6 7.8l10.9 1.4l-9.6 -7.8z"/>
<path fill="#85f500" d="M833.8 163.6l9.6 7.7l10.8 1.2l-9.7 -7.7z"/>
<path fill="#5df600" d="M854.2 172.5l9.7 7.7l10.6 1.1l-9.7 -7.6z"/>
<path fill="#35f700" d="M874.5 181.3l9.8 7.7l10.4 0.9l-9.8 -7.6z"/>
<path fill="#0ef800" d="M894.7 189.9l9.9 7.6l10.3 0.8l-9.9 -7.5z"/>
<path fill="#00f919" d="M914.9 198.3l9.9 7.5l10.1 0.7l-9.9 -7.5z"/>
<path fill="#00fa3f" d="M934.9 206.5l10 7.5l10.1 0.5l-10 -7.4z"/>
<path fill="#00fb65" d="M955 214.5l10 7.5l9.9 0.4l-10 -7.4z"/>
<path fill="#00fc8b" d="M974.9 222.4l10.1 7.4l9.8 0.3l-10.1 -7.3z"/>
<path fill="#00fdb0" d="M994.8 230.1l10.2 7.3l9.6 0.2l-10.2 -7.3z"/>
<path fill="#00fed5" d="M1014.6 237.6l10.3 7.3l9.5 0l-10.3 -7.2z"/>
<path fill="#00fff9" d="M1034.4 244.9l10.3 7.2l9.4 0l-10.3 -7.2z"/>
<path fill="#00e2ff" d="M1054.1 252.1l10.4 7.1l9.3 -0.1l-10.5 -7.1z"/>
<path fill="#00c0ff" d="M1073.8 259.1l10.5 7.1l9.1 -0.3l-10.5 -7z"/>
<path fill="#009fff" d="M1093.4 265.9l10.5 7l9 -0.4l-10.6 -6.9z"/>
<path fill="#007fff" d="M1112.9 272.5l10.7 7l8.8 -0.5l-10.6 -6.9z"/>
<path fill="#005fff" d="M1132.4 279l10.7 6.9l8.8 -0.6l-10.7 -6.8z"/>
<path fill="#f1a400" d="M740 123.9l9.4 8.1l11.5 1.8l-9.4 -8z"/>
<path fill="#f2d000" d="M760.9 133.8l9.4 8l11.3 1.7l-9.4 -7.9z"/>
<path fill="#eaf300" d="M781.6 143.5l9.6 7.9l11.1 1.6l-9.5 -7.9z"/>
<path fill="#c1f400" d="M802.3 153l9.6 7.9l11 1.3l-9.6 -7.8z"/>
<path fill="#99f500" d="M822.9 162.2l9.7 7.9l10.8 1.2l-9.6 -7.7z"/>
<path fill="#70f600" d="M843.4 171.3l9.8 7.8l10.7 1.1l-9.7 -7.7z"/>
<path fill="#48f700" d="M863.9 180.2l9.8 7.8l10.6 1l-9.8 -7.7z"/>
<path fill="#21f800" d="M884.3 189l9.8 7.6l10.5 0.9l-9.9 -7.6z"/>
<path fill="#00f906" d="M904.6 197.5l9.9 7.6l10.3 0.7l-9.9 -7.5z"/>
<path fill="#00fa2d" d="M924.8 205.8l10 7.6l10.1 0.6l-10 -7.5z"/>
<path fill="#00fb53" d="M944.9 214l10.1 7.5l10 0.5l-10 -7.5z"/>
<path fill="#00fc79" d="M965 222l10.2 7.4l9.8 0.4l-10.1 -7.4z"/>
<path fill="#00fd9e" d="M985 229.8l10.3 7.4l9.7 0.2l-10.2 -7.3z"/>
<path fill="#00fec3" d="M1005 237.4l10.3 7.4l9.6 0.1l-10.3 -7.3z"/>
<path fill="#00ffe8" d="M1024.9 244.9l10.4 7.3l9.4 -0.1l-10.3 -7.2z"/>
<path fill="#00f3ff" d="M1044.7 252.1l10.5 7.3l9.3 -0.2l-10.4 -7.1z"/>
<path fill="#00d1ff" d="M1064.5 259.2l10.6 7.2l9.2 -0.2l-10.5 -7.1z"/>
<path fill="#00afff" d="M1084.3 266.2l10.6 7.1l9 -0.4l-10.5 -7z"/>
<path fill="#008eff" d="M1103.9 272.9l10.7 7.1l9 -0.5l-10.7 -7z"/>
<path fill="#006eff" d="M1123.6 279.5l10.7 7l8.8 -0.6l-10.7 -6.9z"/>
<path fill="#f1bb00" d="M749.4 132l9.4 8.1l11.5 1.7l-9.4 -8z"/>
<path fill="#f2e600" d="M770.3 141.8l9.5 8.1l11.4 1.5l-9.6 -7.9z"/>
<path fill="#d5f300" d="M791.2 151.4l9.6 8l11.1 1.5l-9.6 -7.9z"/>
<path fill="#acf400" d="M811.9 160.9l9.7 7.9l11 1.3l-9.7 -7.9z"/>
<path fill="#84f500" d="M832.6 170.1l9.7 7.9l10.9 1.1l-9.8 -7.8z"/>
<path fill="#5cf600" d="M853.2 179.1l9.8 7.9l10.7 1l-9.8 -7.8z"/>
<path fill="#34f700" d="M873.7 188l9.9 7.8l10.5 0.8l-9.8 -7.6z"/>
<path fill="#0df800" d="M894.1 196.6l10 7.8l10.4 0.7l-9.9 -7.6z"/>
<path fill="#00f91a" d="M914.5 205.1l10 7.7l10.3 0.6l-10 -7.6z"/>
<path fill="#00fa41" d="M934.8 213.4l10.1 7.6l10.1 0.5l-10.1 -7.5z"/>
<path fill="#00fb67" d="M955 221.5l10.2 7.6l10 0.3l-10.2 -7.4z"/>
<path fill="#00fc8c" d="M975.2 229.4l10.2 7.5l9.9 0.3l-10.3 -7.4z"/>
<path fill="#00fdb1" d="M995.3 237.2l10.3 7.4l9.7 0.2l-10.3 -7.4z"/>
<path fill="#00fed6" d="M1015.3 244.8l10.4 7.3l9.6 0.1l-10.4 -7.3z"/>
<path fill="#00fffa" d="M1035.3 252.2l10.4 7.3l9.5 -0.1l-10.5 -7.3z"/>
<path fill="#00e1ff" d="M1055.2 259.4l10.5 7.2l9.4 -0.2l-10.6 -7.2z"/>
<path fill="#00bfff" d="M1075.1 266.4l10.6 7.2l9.2 -0.3l-10.6 -7.1z"/>
<path fill="#009eff" d="M1094.9 273.3l10.7 7.2l9 -0.5l-10.7 -7.1z"/>
<path fill="#007eff" d="M1114.6 280l10.8 7.1l8.9 -0.6l-10.7 -7z"/>
<path fill="#f2d100" d="M758.8 140.1l9.6 8.1l11.4 1.7l-9.5 -8.1z"/>
<path fill="#e9f300" d="M779.8 149.9l9.7 8.1l11.3 1.4l-9.6 -8z"/>
<path fill="#c0f400" d="M800.8 159.4l9.6 8.1l11.2 1.3l-9.7 -7.9z"/>
<path fill="#97f500" d="M821.6 168.8l9.7 8l11 1.2l-9.7 -7.9z"/>
<path fill="#6ff600" d="M842.3 178l9.9 7.9l10.8 1.1l-9.8 -7.9z"/>
<path fill="#47f700" d="M863 187l9.9 7.8l10.7 1l-9.9 -7.8z"/>
<path fill="#20f800" d="M883.6 195.8l10 7.8l10.5 0.8l-10 -7.8z"/>
<path fill="#00f907" d="M904.1 204.4l10 7.7l10.4 0.7l-10 -7.7z"/>
<path fill="#00fa2e" d="M924.5 212.8l10.1 7.7l10.3 0.5l-10.1 -7.6z"/>
<path fill="#00fb54" d="M944.9 221l10.2 7.7l10.1 0.4l-10.2 -7.6z"/>
<path fill="#00fc7a" d="M965.2 229.1l10.3 7.5l9.9 0.3l-10.2 -7.5z"/>
<path fill="#00fd9f" d="M985.4 236.9l10.4 7.6l9.8 0.1l-10.3 -7.4z"/>
<path fill="#00fec4" d="M1005.6 244.6l10.4 7.5l9.7 0l-10.4 -7.3z"/>
<path fill="#00ffe9" d="M1025.7 252.1l10.5 7.5l9.5 -0.1l-10.4 -7.3z"/>
<path fill="#00f2ff" d="M1045.7 259.5l10.6 7.3l9.4 -0.2l-10.5 -7.2z"/>
<path fill="#00d0ff" d="M1065.7 266.6l10.7 7.3l9.3 -0.3l-10.6 -7.2z"/>
<path fill="#00aeff" d="M1085.7 273.6l10.7 7.3l9.2 -0.4l-10.7 -7.2z"/>
<path fill="#008dff" d="M1105.6 280.5l10.7 7.1l9.1 -0.5l-10.8 -7.1z"/>
<path fill="#f2e800" d="M768.4 148.2l9.6 8.2l11.5 1.6l-9.7 -8.1z"/>
<path fill="#d4f300" d="M789.5 158l9.7 8.1l11.2 1.4l-9.6 -8.1z"/>
<path fill="#abf400" d="M810.4 167.5l9.8 8l11.1 1.3l-9.7 -8z"/>
<path fill="#83f500" d="M831.3 176.8l9.9 8l11 1.1l-9.9 -7.9z"/>
<path fill="#5bf600" d="M852.2 185.9l9.9 7.9l10.8 1l-9.9 -7.8z"/>
<path fill="#33f700" d="M872.9 194.8l10 7.9l10.7 0.9l-10 -7.8z"/>
<path fill="#0cf800" d="M893.6 203.6l10 7.8l10.5 0.7l-10 -7.7z"/>
<path fill="#00f91b" d="M914.1 212.1l10.2 7.8l10.3 0.6l-10.1 -7.7z"/>
<path fill="#00fa42" d="M934.6 220.5l10.3 7.7l10.2 0.5l-10.2 -7.7z"/>
<path fill="#00fb68" d="M955.1 228.7l10.3 7.6l10.1 0.3l-10.3 -7.5z"/>
<path fill="#00fc8d" d="M975.5 236.6l10.3 7.7l10 0.2l-10.4 -7.6z"/>
<path fill="#00fdb2" d="M995.8 244.5l10.4 7.5l9.8 0.1l-10.4 -7.5z"/>
<path fill="#00fed7" d="M1016 252.1l10.5 7.5l9.7 0l-10.5 -7.5z"/>
<path fill="#00fffb" d="M1036.2 259.6l10.6 7.4l9.5 -0.2l-10.6 -7.3z"/>
<path fill="#00e0ff" d="M1056.3 266.8l10.7 7.4l9.4 -0.3l-10.7 -7.3z"/>
<path fill="#00beff" d="M1076.4 273.9l10.7 7.4l9.3 -0.4l-10.7 -7.3z"/>
<path fill="#009dff" d="M1096.4 280.9l10.8 7.3l9.1 -0.6l-10.7 -7.1z"/>
<path fill="#e8f300" d="M778 156.4l9.7 8.2l11.5 1.5l-9.7 -8.1z"/>
<path fill="#bff400" d="M799.2 166.1l9.7 8.1l11.3 1.3l-9.8 -8z"/>
<path fill="#96f500" d="M820.2 175.5l9.9 8.1l11.1 1.2l-9.9 -8z"/>
<path fill="#6ef600" d="M841.2 184.8l9.9 8l11 1l-9.9 -7.9z"/>
<path fill="#46f700" d="M862.1 193.8l10 8l10.8 0.9l-10 -7.9z"/>
<path fill="#1ff800" d="M882.9 202.7l10.1 7.9l10.6 0.8l-10 -7.8z"/>
<path fill="#00f908" d="M903.6 211.4l10.2 7.9l10.5 0.6l-10.2 -7.8z"/>
<path fill="#00fa2f" d="M924.3 219.9l10.2 7.8l10.4 0.5l-10.3 -7.7z"/>
<path fill="#00fb55" d="M944.9 228.2l10.3 7.8l10.2 0.3l-10.3 -7.6z"/>
<path fill="#00fc7b" d="M965.4 236.3l10.3 7.7l10.1 0.3l-10.3 -7.7z"/>
<path fill="#00fda1" d="M985.8 244.3l10.5 7.6l9.9 0.1l-10.4 -7.5z"/>
<path fill="#00fec5" d="M1006.2 252l10.5 7.6l9.8 0l-10.5 -7.5z"/>
<path fill="#00ffea" d="M1026.5 259.6l10.6 7.5l9.7 -0.1l-10.6 -7.4z"/>
<path fill="#00f1ff" d="M1046.8 267l10.7 7.5l9.5 -0.3l-10.7 -7.4z"/>
<path fill="#00ceff" d="M1067 274.2l10.7 7.4l9.4 -0.3l-10.7 -7.4z"/>
<path fill="#00adff" d="M1087.1 281.3l10.9 7.3l9.2 -0.4l-10.8 -7.3z"/>
<path fill="#d3f300" d="M787.7 164.6l9.8 8.3l11.4 1.3l-9.7 -8.1z"/>
<path fill="#aaf400" d="M808.9 174.2l9.9 8.2l11.3 1.2l-9.9 -8.1z"/>
<path fill="#82f500" d="M830.1 183.6l9.9 8.1l11.1 1.1l-9.9 -8z"/>
<path fill="#59f600" d="M851.1 192.8l10 8.1l11 0.9l-10 -8z"/>
<path fill="#32f700" d="M872.1 201.8l10.1 8l10.8 0.8l-10.1 -7.9z"/>
<path fill="#0af800" d="M893 210.6l10.1 8l10.7 0.7l-10.2 -7.9z"/>
<path fill="#00f91c" d="M913.8 219.3l10.2 7.9l10.5 0.5l-10.2 -7.8z"/>
<path fill="#00fa43" d="M934.5 227.7l10.3 7.8l10.4 0.5l-10.3 -7.8z"/>
<path fill="#00fb69" d="M955.2 236l10.3 7.7l10.2 0.3l-10.3 -7.7z"/>
<path fill="#00fc8f" d="M975.7 244l10.5 7.8l10.1 0.1l-10.5 -7.6z"/>
<path fill="#00fdb4" d="M996.3 251.9l10.5 7.7l9.9 0l-10.5 -7.6z"/>
<path fill="#00fed8" d="M1016.7 259.6l10.7 7.6l9.7 -0.1l-10.6 -7.5z"/>
<path fill="#00fffc" d="M1037.1 267.1l10.7 7.6l9.7 -0.2l-10.7 -7.5z"/>
<path fill="#00dfff" d="M1057.5 274.5l10.7 7.5l9.5 -0.4l-10.7 -7.4z"/>
<path fill="#00bdff" d="M1077.7 281.6l10.9 7.5l9.4 -0.5l-10.9 -7.3z"/>
<path fill="#bef400" d="M797.5 172.9l9.9 8.2l11.4 1.3l-9.9 -8.2z"/>
<path fill="#95f500" d="M818.8 182.4l10 8.2l11.2 1.1l-9.9 -8.1z"/>
<path fill="#6df600" d="M840 191.7l10.1 8.2l11 1l-10 -8.1z"/>
<path fill="#45f700" d="M861.1 200.9l10.1 8.1l11 0.8l-10.1 -8z"/>
<path fill="#1df800" d="M882.2 209.8l10.2 8.1l10.7 0.7l-10.1 -8z"/>
<path fill="#00f90a" d="M903.1 218.6l10.3 8l10.6 0.6l-10.2 -7.9z"/>
<path fill="#00fa30" d="M924 227.2l10.3 7.9l10.5 0.4l-10.3 -7.8z"/>
<path fill="#00fb57" d="M944.8 235.5l10.4 7.9l10.3 0.3l-10.3 -7.7z"/>
<path fill="#00fc7c" d="M965.5 243.7l10.5 7.9l10.2 0.2l-10.5 -7.8z"/>
<path fill="#00fda2" d="M986.2 251.8l10.6 7.7l10 0.1l-10.5 -7.7z"/>
<path fill="#00fec7" d="M1006.8 259.6l10.7 7.7l9.9 -0.1l-10.7 -7.6z"/>
<path fill="#00ffeb" d="M1027.4 267.2l10.7 7.7l9.7 -0.2l-10.7 -7.6z"/>
<path fill="#00f0ff" d="M1047.8 274.7l10.8 7.6l9.6 -0.3l-10.7 -7.5z"/>
<path fill="#00cdff" d="M1068.2 282l10.9 7.5l9.5 -0.4l-10.9 -7.5z"/>
<path fill="#a9f400" d="M807.4 181.1l10 8.3l11.4 1.2l-10 -8.2z"/>
<path fill="#80f500" d="M828.8 190.6l10 8.3l11.3 1l-10.1 -8.2z"/>
<path fill="#58f600" d="M850.1 199.9l10.1 8.2l11 0.9l-10.1 -8.1z"/>
<path fill="#31f700" d="M871.2 209l10.2 8.1l11 0.8l-10.2 -8.1z"/>
<path fill="#09f800" d="M892.4 217.9l10.2 8.1l10.8 0.6l-10.3 -8z"/>
<path fill="#00f91e" d="M913.4 226.6l10.3 8l10.6 0.5l-10.3 -7.9z"/>
<path fill="#00fa44" d="M934.3 235.1l10.5 8l10.4 0.3l-10.4 -7.9z"/>
<path fill="#00fb6a" d="M955.2 243.4l10.5 7.9l10.3 0.3l-10.5 -7.9z"/>
<path fill="#00fc90" d="M976 251.6l10.6 7.8l10.2 0.1l-10.6 -7.7z"/>
<path fill="#00fdb5" d="M996.8 259.5l10.6 7.8l10.1 0l-10.7 -7.7z"/>
<path fill="#00feda" d="M1017.5 267.3l10.7 7.7l9.9 -0.1l-10.7 -7.7z"/>
<path fill="#00fffe" d="M1038.1 274.9l10.8 7.7l9.7 -0.3l-10.8 -7.6z"/>
<path fill="#00deff" d="M1058.6 282.3l10.9 7.6l9.6 -0.4l-10.9 -7.5z"/>
<path fill="#94f500" d="M817.4 189.4l10.1 8.4l11.3 1.1l-10 -8.3z"/>
<path fill="#6cf600" d="M838.8 198.9l10.2 8.3l11.2 0.9l-10.1 -8.2z"/>
<path fill="#44f700" d="M860.2 208.1l10.2 8.2l11 0.8l-10.2 -8.1z"/>
<path fill="#1cf800" d="M881.4 217.1l10.3 8.2l10.9 0.7l-10.2 -8.1z"/>
<path fill="#00f90b" d="M902.6 226l10.4 8.1l10.7 0.5l-10.3 -8z"/>
<path fill="#00fa32" d="M923.7 234.6l10.5 8.1l10.6 0.4l-10.5 -8z"/>
<path fill="#00fb58" d="M944.8 243.1l10.5 8l10.4 0.2l-10.5 -7.9z"/>
<path fill="#00fc7e" d="M965.7 251.3l10.6 8l10.3 0.1l-10.6 -7.8z"/>
<path fill="#00fda3" d="M986.6 259.4l10.7 7.9l10.1 0l-10.6 -7.8z"/>
<path fill="#00fec8" d="M1007.4 267.3l10.8 7.9l10 -0.2l-10.7 -7.7z"/>
<path fill="#00ffed" d="M1028.2 275l10.8 7.8l9.9 -0.2l-10.8 -7.7z"/>
<path fill="#00eeff" d="M1048.9 282.6l10.9 7.7l9.7 -0.4l-10.9 -7.6z"/>
<path fill="#7ff600" d="M827.5 197.8l10.1 8.4l11.4 1l-10.2 -8.3z"/>
<path fill="#57f700" d="M849 207.2l10.2 8.3l11.2 0.8l-10.2 -8.2z"/>
<path fill="#2ff800" d="M870.4 216.3l10.3 8.3l11 0.7l-10.3 -8.2z"/>
<path fill="#08f900" d="M891.7 225.3l10.4 8.2l10.9 0.6l-10.4 -8.1z"/>
<path fill="#00fa1f" d="M913 234.1l10.5 8.1l10.7 0.5l-10.5 -8.1z"/>
<path fill="#00fa45" d="M934.2 242.7l10.5 8.1l10.6 0.3l-10.5 -8z"/>
<path fill="#00fb6c" d="M955.3 251.1l10.6 8l10.4 0.2l-10.6 -8z"/>
<path fill="#00fc91" d="M976.3 259.3l10.7 8l10.3 0l-10.7 -7.9z"/>
<path fill="#00fdb6" d="M997.3 267.3l10.8 7.9l10.1 0l-10.8 -7.9z"/>
<path fill="#00fedb" d="M1018.2 275.2l10.9 7.8l9.9 -0.2l-10.8 -7.8z"/>
<path fill="#00ffff" d="M1039 282.8l11 7.8l9.8 -0.3l-10.9 -7.7z"/>
<path fill="#6af600" d="M837.6 206.2l10.3 8.4l11.3 0.9l-10.2 -8.3z"/>
<path fill="#42f700" d="M859.2 215.5l10.3 8.3l11.2 0.8l-10.3 -8.3z"/>
<path fill="#1bf800" d="M880.7 224.6l10.4 8.3l11 0.6l-10.4 -8.2z"/>
<path fill="#00f90c" d="M902.1 233.5l10.5 8.3l10.9 0.4l-10.5 -8.1z"/>
<path fill="#00fa33" d="M923.5 242.2l10.5 8.2l10.7 0.4l-10.5 -8.1z"/>
<path fill="#00fb59" d="M944.7 250.8l10.7 8.1l10.5 0.2l-10.6 -8z"/>
<path fill="#00fc7f" d="M965.9 259.1l10.7 8.1l10.4 0.1l-10.7 -8z"/>
<path fill="#00fda5" d="M987 267.3l10.8 8l10.3 -0.1l-10.8 -7.9z"/>
<path fill="#00fec9" d="M1008.1 275.2l10.9 8l10.1 -0.2l-10.9 -7.8z"/>
<path fill="#00ffee" d="M1029.1 283l10.9 7.9l10 -0.3l-11 -7.8z"/>
<path fill="#56f700" d="M847.9 214.6l10.3 8.4l11.3 0.8l-10.3 -8.3z"/>
<path fill="#2ef800" d="M869.5 223.8l10.4 8.4l11.2 0.7l-10.4 -8.3z"/>
<path fill="#07f900" d="M891.1 232.9l10.5 8.3l11 0.6l-10.5 -8.3z"/>
<path fill="#00fa20" d="M912.6 241.8l10.6 8.3l10.8 0.3l-10.5 -8.2z"/>
<path fill="#00fb47" d="M934 250.4l10.7 8.3l10.7 0.2l-10.7 -8.1z"/>
<path fill="#00fc6d" d="M955.4 258.9l10.7 8.2l10.5 0.1l-10.7 -8.1z"/>
<path fill="#00fd93" d="M976.6 267.2l10.9 8.1l10.3 0l-10.8 -8z"/>
<path fill="#00feb8" d="M997.8 275.3l10.9 8.1l10.3 -0.2l-10.9 -8z"/>
<path fill="#00ffdc" d="M1019 283.2l11 8l10 -0.3l-10.9 -7.9z"/>
<path fill="#41f700" d="M858.2 223l10.4 8.5l11.3 0.7l-10.4 -8.4z"/>
<path fill="#19f800" d="M879.9 232.2l10.6 8.5l11.1 0.5l-10.5 -8.3z"/>
<path fill="#00f90e" d="M901.6 241.2l10.6 8.4l11 0.5l-10.6 -8.3z"/>
<path fill="#00fa34" d="M923.2 250.1l10.7 8.3l10.8 0.3l-10.7 -8.3z"/>
<path fill="#00fb5b" d="M944.7 258.7l10.7 8.2l10.7 0.2l-10.7 -8.2z"/>
<path fill="#00fc81" d="M966.1 267.1l10.9 8.2l10.5 0l-10.9 -8.1z"/>
<path fill="#00fda6" d="M987.5 275.3l10.9 8.2l10.3 -0.1l-10.9 -8.1z"/>
<path fill="#00fecb" d="M1008.7 283.4l11.1 8.1l10.2 -0.3l-11 -8z"/>
<path fill="#2cf800" d="M868.6 231.5l10.6 8.6l11.3 0.6l-10.6 -8.5z"/>
<path fill="#05f900" d="M890.5 240.7l10.6 8.5l11.1 0.4l-10.6 -8.4z"/>
<path fill="#00fa22" d="M912.2 249.6l10.7 8.5l11 0.3l-10.7 -8.3z"/>
<path fill="#00fb48" d="M933.9 258.4l10.7 8.3l10.8 0.2l-10.7 -8.2z"/>
<path fill="#00fc6e" d="M955.4 266.9l10.9 8.3l10.7 0.1l-10.9 -8.2z"/>
<path fill="#00fd94" d="M977 275.3l10.9 8.3l10.5 -0.1l-10.9 -8.2z"/>
<path fill="#00feb9" d="M998.4 283.5l11 8.2l10.4 -0.2l-11.1 -8.1z"/>
<path fill="#18f800" d="M879.2 240.1l10.6 8.6l11.3 0.5l-10.6 -8.5z"/>
<path fill="#00f90f" d="M901.1 249.2l10.7 8.5l11.1 0.4l-10.7 -8.5z"/>
<path fill="#00fa36" d="M922.9 258.1l10.8 8.4l10.9 0.2l-10.7 -8.3z"/>
<path fill="#00fb5c" d="M944.6 266.7l10.9 8.5l10.8 0l-10.9 -8.3z"/>
<path fill="#00fc82" d="M966.3 275.2l11 8.4l10.6 0l-10.9 -8.3z"/>
<path fill="#00fda7" d="M987.9 283.6l11.1 8.2l10.4 -0.1l-11 -8.2z"/>
<path fill="#04f900" d="M889.8 248.7l10.7 8.6l11.3 0.4l-10.7 -8.5z"/>
<path fill="#00fa23" d="M911.8 257.7l10.8 8.5l11.1 0.3l-10.8 -8.4z"/>
<path fill="#00fb4a" d="M933.7 266.5l10.9 8.5l10.9 0.2l-10.9 -8.5z"/>
<path fill="#00fc70" d="M955.5 275.2l11 8.4l10.8 0l-11 -8.4z"/>
<path fill="#00fd96" d="M977.3 283.6l11 8.4l10.7 -0.2l-11.1 -8.2z"/>
<path fill="#00f911" d="M900.5 257.3l10.9 8.6l11.2 0.3l-10.8 -8.5z"/>
<path fill="#00fa37" d="M922.6 266.2l10.9 8.7l11.1 0.1l-10.9 -8.5z"/>
<path fill="#00fb5e" d="M944.6 275l11 8.6l10.9 0l-11 -8.4z"/>
<path fill="#00fc84" d="M966.5 283.6l11.1 8.5l10.7 -0.1l-11 -8.4z"/>
<path fill="#00fa25" d="M911.4 265.9l10.9 8.7l11.2 0.3l-10.9 -8.7z"/>
<path fill="#00fb4b" d="M933.5 274.9l11.1 8.6l11 0.1l-11 -8.6z"/>
<path fill="#00fc71" d="M955.6 283.6l11.1 8.6l10.9 -0.1l-11.1 -8.5z"/>
<path fill="#00fa39" d="M922.3 274.6l11.1 8.8l11.2 0.1l-11.1 -8.6z"/>
<path fill="#00fb5f" d="M944.6 283.5l11.1 8.7l11 0l-11.1 -8.6z"/>
<path fill="#00fb4d" d="M933.4 283.4l11.1 8.8l11.2 0l-11.1 -8.7z"/>
</g>
<circle cx="694.3" cy="83.5" r="4.5" fill="#be0000" stroke="#000" stroke-width="1.1"/>
<circle cx="812.3" cy="181.1" r="4.5" fill="#be0000" stroke="#000" stroke-width="1.1"/>
<circle cx="944.7" cy="123.5" r="4.5" fill="#be0000" stroke="#000" stroke-width="1.1"/>
<circle cx="944.7" cy="188.2" r="4.5" fill="#be0000" stroke="#000" stroke-width="1.1"/>
<circle cx="944.7" cy="196.6" r="4.5" fill="#be0000" stroke="#000" stroke-width="1.1"/>
<circle cx="1185.6" cy="283.5" r="4.5" fill="#be0000" stroke="#000" stroke-width="1.1"/>
<circle cx="1074" cy="289.8" r="4.5" fill="#be0000" stroke="#000" stroke-width="1.1"/>
<circle cx="944.6" cy="302.8" r="4.5" fill="#ffc8c8" stroke="#000" stroke-width="1.1"/>
<text x="679.2" y="52.5" font-size="22.5" text-anchor="end" textLength="22.1" lengthAdjust="spacingAndGlyphs">18</text>
<text x="681" y="87.9" font-size="22.5" text-anchor="end" textLength="22.1" lengthAdjust="spacingAndGlyphs">16</text>
<text x="682.8" y="123.3" font-size="22.5" text-anchor="end" textLength="22.1" lengthAdjust="spacingAndGlyphs">14</text>
<text x="684.6" y="158.7" font-size="22.5" text-anchor="end" textLength="22.1" lengthAdjust="spacingAndGlyphs">12</text>
<text x="686.4" y="194.1" font-size="22.5" text-anchor="end" textLength="22.1" lengthAdjust="spacingAndGlyphs">10</text>
<text x="688.2" y="229.5" font-size="22.5" text-anchor="end" textLength="11.1" lengthAdjust="spacingAndGlyphs">8</text>
<text x="690" y="264.9" font-size="22.5" text-anchor="end" textLength="11.1" lengthAdjust="spacingAndGlyphs">6</text>
<text x="691.8" y="300.3" font-size="22.5" text-anchor="end" textLength="11.1" lengthAdjust="spacingAndGlyphs">4</text>
<text x="678.7" y="406.4" font-size="22.5" text-anchor="middle" textLength="33.2" lengthAdjust="spacingAndGlyphs">120</text>
<text x="719" y="425.1" font-size="22.5" text-anchor="middle" textLength="31.7" lengthAdjust="spacingAndGlyphs">110</text>
<text x="759.4" y="443.9" font-size="22.5" text-anchor="middle" textLength="33.2" lengthAdjust="spacingAndGlyphs">100</text>
<text x="799.7" y="462.7" font-size="22.5" text-anchor="middle" textLength="22.1" lengthAdjust="spacingAndGlyphs">90</text>
<text x="840" y="481.5" font-size="22.5" text-anchor="middle" textLength="22.1" lengthAdjust="spacingAndGlyphs">80</text>
<text x="880.4" y="500.3" font-size="22.5" text-anchor="middle" textLength="22.1" lengthAdjust="spacingAndGlyphs">70</text>
<text x="920.7" y="519.1" font-size="22.5" text-anchor="middle" textLength="22.1" lengthAdjust="spacingAndGlyphs">60</text>
<text x="970.3" y="519.8" font-size="22.5" text-anchor="middle" textLength="22.1" lengthAdjust="spacingAndGlyphs">70</text>
<text x="1029" y="491.4" font-size="22.5" text-anchor="middle" textLength="22.1" lengthAdjust="spacingAndGlyphs">75</text>
<text x="1087.7" y="463.1" font-size="22.5" text-anchor="middle" textLength="22.1" lengthAdjust="spacingAndGlyphs">80</text>
<text x="1146.4" y="434.7" font-size="22.5" text-anchor="middle" textLength="22.1" lengthAdjust="spacingAndGlyphs">85</text>
<text x="1205.1" y="406.4" font-size="22.5" text-anchor="middle" textLength="22.1" lengthAdjust="spacingAndGlyphs">90</text>
<text x="620.3" y="232.2" font-size="19.5" text-anchor="middle" transform="rotate(-90 620.3 225.2)" textLength="117.4" lengthAdjust="spacingAndGlyphs">SEC (kWh/kg)</text>
<text x="735.8" y="492.1" font-size="19.5" text-anchor="middle" textLength="120.4" lengthAdjust="spacingAndGlyphs">A: Weight (gr)</text>
<text x="1147.5" y="492" font-size="19.5" text-anchor="middle" textLength="169.1" lengthAdjust="spacingAndGlyphs">B: Temperature (°C)</text>
<text x="672.2" y="550.6" font-size="33" text-anchor="middle">b</text></g>
<g id="p_c"><polygon points="129.7,949.8 265,1100.5 543.8,1009.5 385.7,884.6" fill="#646464" stroke="#000" stroke-width="1.8" stroke-linejoin="round"/>
<polyline points="152.7,975.5 153.1,973.2 153.3,971.7 153.6,970 154.1,967.4 154.4,965.9 154.6,964.4 155.1,962.2 155.6,960 155.9,958.6 156.3,957.1 156.9,954.8 157.4,952.8 157.8,951.3 158.3,949.9 158.9,947.8 159.6,945.6 160.1,944.1 160.6,942.6 160.6,942.6" fill="none" stroke="#ff8c14" stroke-width="2.5"/>
<polyline points="180,1005.7 180.1,1003.4 180.2,1001.9 180.4,999.6 180.6,997.3 180.7,995.8 180.9,993.6 181.2,991.2 181.4,989.7 181.6,987.9 182,985.2 182.3,983.6 182.5,982.1 183,979.8 183.4,977.6 183.7,976.1 184,974.5 184.6,972.2 185.1,970 185.5,968.5 186,967 186.5,965.1 187.2,962.8 187.8,960.9 188.3,959.4 188.9,957.9 189.5,956.2 190.3,954.1 191.1,952 191.9,950.3 192.6,948.7 193.3,947.2 194,945.7 194.8,944.1 195.8,942.3 196.8,940.5 197.8,938.7 198.9,936.9 199.9,935.2 201,933.5 202.2,931.9 202.4,931.6" fill="none" stroke="#d2f000" stroke-width="2.5"/>
<polyline points="347.6,893.2 350.2,893.8 352.9,894.3 356.5,895.1 360.2,895.9 363,896.6 365.5,897.2 367.9,897.8 371.7,898.9 375,899.8 377.3,900.4 379.8,901.1 384.1,902.4 386.3,903.1 388.5,903.8 392.8,905.2 395,905.9 397.4,906.7 401.4,908.1 403.5,908.8 406.9,910 409.7,911 411.9,911.8 415.8,913.3 417.8,914.1 421.8,915.6 423.8,916.4 427.8,918 427.9,918.1" fill="none" stroke="#d2f000" stroke-width="2.5"/>
<polyline points="213.3,1042.7 213.2,1040.9 213.1,1039 213,1036.1 212.9,1034.5 212.8,1031.9 212.8,1029.7 212.8,1028.1 212.8,1025.2 212.9,1023.3 212.9,1021.7 213,1018.8 213.1,1016.9 213.2,1015.3 213.4,1012.6 213.6,1010.6 213.7,1009 214,1006.8 214.3,1004.2 214.5,1002.7 214.7,1001.1 215.2,998.5 215.5,996.3 215.9,994.8 216.2,993.2 216.7,990.7 217.3,988.4 217.7,986.8 218.1,985.2 218.6,983.5 219.3,981.2 220,978.9 220.6,977.3 221.2,975.7 221.8,974.1 222.5,972.4 223.3,970.4 224.2,968.4 225.2,966.4 226.1,964.5 227.1,962.7 228,961 229,959.4 230,957.7 231.1,956 232.2,954.3 233.4,952.6 234.7,950.9 236.1,949.2 237.5,947.5 238.8,946 240.1,944.5 241.5,943.1 242.8,941.8 244.6,940.1 246.8,938.2 248.7,936.6 250.2,935.4 252,934.1 255,932 256.6,931 258.9,929.6 261.7,928 263.6,927 267.1,925.4 270.6,923.9 272.8,923 276.7,921.6 280.8,920.3 285,919.2 289.4,918.2 293.9,917.3 296.7,916.9 300.9,916.3 305.2,915.9 308.3,915.7 311.6,915.5 316.1,915.3 318.7,915.3 321.8,915.3 326.2,915.5 330,915.6 332.9,915.8 335.9,916.1 338.9,916.4 342.1,916.7 345.2,917.1 348.5,917.5 351.8,918 355.1,918.6 358.6,919.2 362.1,919.9 365.5,920.5 368.2,921.1 370.9,921.7 373.5,922.3 377,923.2 381,924.2 383.6,924.9 386,925.6 389.2,926.5 393.2,927.7 395.5,928.4 397.9,929.1 402.4,930.6 404.7,931.3 407.1,932.1 411.3,933.6 413.5,934.4 416.9,935.6 419.9,936.7 422,937.5 426.2,939.1 428.3,940 432.4,941.6 434.4,942.4 438.5,944.1 440.5,945 444.5,946.7 446.5,947.6 450.4,949.3 452.4,950.2 456.3,952 458.2,952.9 462,954.7 464.5,955.9 467.8,957.5 471.5,959.3 473.4,960.3 477.2,962.2 479.6,963.4 482.8,965 486.5,967 488.3,967.9 492,969.9 495.6,971.9 497,972.6" fill="none" stroke="#14e61e" stroke-width="2.5"/>
<polyline points="257.2,1091.3 256.5,1088 256.1,1086.3 255.5,1082.9 255.2,1081.2 254.7,1077.8 254.4,1076.1 254,1073.6 253.7,1071 253.4,1069.3 253,1065.9 252.9,1064.3 252.6,1061.7 252.4,1059.2 252.3,1057.6 252.1,1054.2 252,1052.5 251.9,1050.7 251.8,1047.5 251.8,1045.9 251.8,1043.9 251.8,1040.9 251.8,1039.2 251.9,1037.4 252,1034.3 252.1,1032.5 252.3,1030.9 252.5,1028.3 252.8,1025.9 253,1024.2 253.2,1022.5 253.6,1019.9 254,1017.5 254.3,1015.8 254.7,1014.2 255.1,1012.1 255.8,1009.6 256.3,1007.4 256.8,1005.7 257.4,1004 257.9,1002.3 258.6,1000.3 259.5,998.2 260.3,996 261.2,994 262.2,992 263,990.2 264,988.5 265,986.7 266.1,984.9 267.2,983.1 268.5,981.3 269.8,979.4 271.2,977.6 272.5,976.1 273.8,974.5 275.2,973.1 276.6,971.6 278.7,969.6 281,967.6 282.5,966.3 284.1,965.1 287.2,962.9 289.1,961.7 291.4,960.3 294.5,958.6 297.3,957.2 300.1,956 304.1,954.4 308.3,953 312.6,951.8 317.1,950.8 321.8,949.9 325.5,949.4 329.2,948.9 333.1,948.6 337,948.4 339.7,948.3 344.2,948.3 348.3,948.4 351.3,948.5 354.3,948.7 357.4,949 360.7,949.3 364.2,949.7 367.6,950.2 370.9,950.7 374,951.2 377.6,951.8 381.3,952.5 385,953.3 388.6,954.2 391.4,954.8 394,955.5 396.9,956.3 401.2,957.4 404.3,958.3 406.8,959.1 410,960.1 414.1,961.4 416.5,962.2 419.4,963.2 423.4,964.6 425.7,965.4 429.5,966.8 432.4,967.9 434.9,968.9 438.9,970.5 441.1,971.4 445.3,973.2 447.5,974.1 451.6,975.9 453.7,976.8 457.8,978.7 459.9,979.6 463.9,981.5 465.9,982.5 469.9,984.4 472.8,985.8 475.8,987.3 479.7,989.3 481.7,990.3 485.6,992.3 488.7,994 491.3,995.4 495.1,997.5 497.7,998.9 500.8,1000.6 504.5,1002.8 507.6,1004.5 510.1,1006 513.8,1008.2 517.5,1010.3 519.4,1011.5 523,1013.7 526.7,1015.9 526.7,1015.9" fill="none" stroke="#00f0aa" stroke-width="2.5"/>
<polyline points="301.4,1088.3 301.1,1086 300.7,1083 300.5,1081.3 300.3,1078.4 300.1,1076 300,1074.2 299.9,1071.3 299.8,1068.9 299.8,1067.1 299.8,1064.6 299.9,1061.8 300,1060.1 300.1,1058.3 300.3,1055.3 300.5,1053 300.7,1051.2 301,1049.4 301.4,1046.8 301.9,1044.2 302.3,1042.2 302.7,1040.4 303.2,1038.6 303.7,1036.7 304.5,1034.3 305.3,1032 306.1,1029.8 307,1027.7 308,1025.6 309,1023.6 310.1,1021.6 311.2,1019.7 312.4,1017.9 313.6,1016.2 314.9,1014.5 316.2,1012.8 317.6,1011.3 319.6,1009.2 322,1006.9 323.6,1005.5 325.3,1004.2 328.7,1001.8 330.5,1000.7 334.2,998.6 336.2,997.7 340.3,995.9 344.6,994.4 349.1,993.2 353.9,992.1 358.1,991.4 361.5,991 365.9,990.7 369.8,990.5 372.7,990.5 376.7,990.6 381.2,990.8 385.1,991.1 388.5,991.4 391.9,991.9 395.4,992.4 399.1,993 402.8,993.7 405.8,994.4 408.8,995 411.8,995.7 414.9,996.5 419.2,997.7 422.8,998.7 425.5,999.5 428.3,1000.4 433.1,1002 435.6,1002.9 438.2,1003.8 442.9,1005.5 445.2,1006.4 449,1007.9 452.2,1009.2 454.8,1010.3 458.9,1012.1 461.1,1013.1 465.5,1015 467.7,1016 471.9,1018.1 474.3,1019.2 478.3,1021.1 481.7,1022.9 484.5,1024.3 488.6,1026.4 490.6,1027.5 490.6,1027.5" fill="none" stroke="#1e9bff" stroke-width="2.5"/>
<path d="M129.7 949.8L115.3 628.8M169.5 863.7L160.3 621.1M212.8 853.6L205.4 613.4M256 843.4L250.4 605.6M299.2 833.3L295.5 597.9M342.4 823.2L340.6 590.2M385.7 884.6L385.6 582.5M385.7 884.6L385.6 582.5M426.2 842.2L429.4 604.9M466.8 871.3L473.2 627.2M507.3 900.4L517.1 649.5M543.8 1009.5L560.9 671.9M115.3 628.8L385.6 582.5L560.9 671.9M118 689.9L385.6 640L557.6 736.2M120.8 751.5L385.6 698L554.4 800.9M123.6 812.9L385.7 755.8L551.1 865.5M126.3 873.8L385.7 813.1L547.8 929.6" fill="none" stroke="#000" stroke-width="1.25"/>
<circle cx="115.3" cy="628.8" r="2.3"/>
<circle cx="118" cy="689.9" r="2.3"/>
<circle cx="120.8" cy="751.5" r="2.3"/>
<circle cx="123.6" cy="812.9" r="2.3"/>
<circle cx="126.3" cy="873.8" r="2.3"/>
<circle cx="129.7" cy="949.8" r="2.3"/>
<circle cx="163.5" cy="987.5" r="2.3"/>
<circle cx="197.3" cy="1025.2" r="2.3"/>
<circle cx="231.2" cy="1062.8" r="2.3"/>
<circle cx="265" cy="1100.5" r="2.3"/>
<circle cx="265" cy="1100.5" r="2.3"/>
<circle cx="311.5" cy="1085.3" r="2.3"/>
<circle cx="357.9" cy="1070.2" r="2.3"/>
<circle cx="404.4" cy="1055" r="2.3"/>
<circle cx="450.9" cy="1039.8" r="2.3"/>
<circle cx="497.3" cy="1024.7" r="2.3"/>
<circle cx="543.8" cy="1009.5" r="2.3"/>
<line x1="257" y1="696.4" x2="257" y2="712" stroke="#000" stroke-width="1.3"/>
<circle cx="384.7" cy="625.2" r="4.5" fill="#ffc8c8" stroke="#000" stroke-width="1.1"/>
<circle cx="463.5" cy="722.3" r="4.5" fill="#be0000" stroke="#000" stroke-width="1.1"/>
<g stroke="#000" stroke-width="1.05" stroke-linejoin="round">
<path fill="#ffce8b" d="M376.5 639.9l5.9 8.6l10.1 -12.3l-5.9 -8.3z"/>
<path fill="#ffe487" d="M366.5 651.1l5.8 8.6l10.1 -11.2l-5.9 -8.6z"/>
<path fill="#ffda8c" d="M382.4 648.5l5.9 8.4l10.1 -12.4l-5.9 -8.3z"/>
<path fill="#fff981" d="M356.4 661.3l5.8 8.8l10.1 -10.4l-5.8 -8.6z"/>
<path fill="#fff088" d="M372.3 659.7l5.9 8.6l10.1 -11.4l-5.9 -8.4z"/>
<path fill="#ffe58e" d="M388.3 656.9l6 8.3l10.1 -12.5l-6 -8.2z"/>
<path fill="#f0ff7a" d="M346.3 670.5l5.8 9l10.1 -9.4l-5.8 -8.8z"/>
<path fill="#f8ff83" d="M362.2 670.1l5.9 8.7l10.1 -10.5l-5.9 -8.6z"/>
<path fill="#fffc8a" d="M378.2 668.3l5.9 8.6l10.2 -11.7l-6 -8.3z"/>
<path fill="#fff08f" d="M394.3 665.2l6 8.3l10.2 -12.7l-6.1 -8.1z"/>
<path fill="#dcff72" d="M336.2 678.9l5.7 9.1l10.2 -8.5l-5.8 -9z"/>
<path fill="#e3ff7c" d="M352.1 679.5l5.8 8.9l10.2 -9.6l-5.9 -8.7z"/>
<path fill="#ecff85" d="M368.1 678.8l5.9 8.7l10.1 -10.6l-5.9 -8.6z"/>
<path fill="#f7ff8b" d="M384.1 676.9l6 8.4l10.2 -11.8l-6 -8.3z"/>
<path fill="#fffb90" d="M400.3 673.5l6.1 8.2l10.2 -12.8l-6.1 -8.1z"/>
<path fill="#c7ff67" d="M326 686.2l5.7 9.3l10.2 -7.5l-5.7 -9.1z"/>
<path fill="#cdff74" d="M341.9 688l5.8 9l10.2 -8.6l-5.8 -8.9z"/>
<path fill="#d6ff7e" d="M357.9 688.4l5.9 8.8l10.2 -9.7l-5.9 -8.7z"/>
<path fill="#e0ff86" d="M374 687.5l5.9 8.6l10.2 -10.8l-6 -8.4z"/>
<path fill="#ecff8d" d="M390.1 685.3l6.1 8.4l10.2 -12l-6.1 -8.2z"/>
<path fill="#faff91" d="M406.4 681.7l6.1 8.2l10.3 -13.1l-6.2 -7.9z"/>
<path fill="#b2ff5b" d="M315.8 692.7l5.7 9.4l10.2 -6.6l-5.7 -9.3z"/>
<path fill="#b7ff6a" d="M331.7 695.5l5.8 9.2l10.2 -7.7l-5.8 -9z"/>
<path fill="#bfff76" d="M347.7 697l5.8 9l10.3 -8.8l-5.9 -8.8z"/>
<path fill="#c9ff80" d="M363.8 697.2l5.9 8.8l10.2 -9.9l-5.9 -8.6z"/>
<path fill="#d5ff88" d="M379.9 696.1l6 8.6l10.3 -11l-6.1 -8.4z"/>
<path fill="#e2ff8e" d="M396.2 693.7l6.1 8.3l10.2 -12.1l-6.1 -8.2z"/>
<path fill="#f0ff92" d="M412.5 689.9l6.2 8.1l10.4 -13.3l-6.3 -7.9z"/>
<path fill="#9dff4c" d="M305.6 698.2l5.6 9.6l10.3 -5.7l-5.7 -9.4z"/>
<path fill="#a1ff5d" d="M321.5 702.1l5.7 9.3l10.3 -6.7l-5.8 -9.2z"/>
<path fill="#a8ff6c" d="M337.5 704.7l5.8 9.1l10.2 -7.8l-5.8 -9z"/>
<path fill="#b2ff78" d="M353.5 706l5.9 8.9l10.3 -8.9l-5.9 -8.8z"/>
<path fill="#beff82" d="M369.7 706l5.9 8.7l10.3 -10l-6 -8.6z"/>
<path fill="#cbff89" d="M385.9 704.7l6.1 8.4l10.3 -11.1l-6.1 -8.3z"/>
<path fill="#d8ff8f" d="M402.3 702l6.1 8.2l10.3 -12.2l-6.2 -8.1z"/>
<path fill="#e7ff93" d="M418.7 698l6.3 7.9l10.4 -13.3l-6.3 -7.9z"/>
<path fill="#88ff3c" d="M295.2 702.8l5.6 9.7l10.4 -4.7l-5.6 -9.6z"/>
<path fill="#8aff4f" d="M311.2 707.8l5.7 9.4l10.3 -5.8l-5.7 -9.3z"/>
<path fill="#91ff60" d="M327.2 711.4l5.8 9.3l10.3 -6.9l-5.8 -9.1z"/>
<path fill="#9bff6e" d="M343.3 713.8l5.8 9.1l10.3 -8l-5.9 -8.9z"/>
<path fill="#a6ff7a" d="M359.4 714.9l5.9 8.9l10.3 -9.1l-5.9 -8.7z"/>
<path fill="#b3ff83" d="M375.6 714.7l6.1 8.6l10.3 -10.2l-6.1 -8.4z"/>
<path fill="#c1ff8b" d="M392 713.1l6.1 8.4l10.3 -11.3l-6.1 -8.2z"/>
<path fill="#cfff90" d="M408.4 710.2l6.2 8.2l10.4 -12.5l-6.3 -7.9z"/>
<path fill="#dfff94" d="M425 705.9l6.3 8l10.4 -13.6l-6.3 -7.7z"/>
<path fill="#74ff2a" d="M284.8 706.4l5.6 9.8l10.4 -3.7l-5.6 -9.7z"/>
<path fill="#73ff3f" d="M300.8 712.5l5.7 9.6l10.4 -4.9l-5.7 -9.4z"/>
<path fill="#79ff52" d="M316.9 717.2l5.7 9.5l10.4 -6l-5.8 -9.3z"/>
<path fill="#82ff62" d="M333 720.7l5.8 9.2l10.3 -7l-5.8 -9.1z"/>
<path fill="#8eff70" d="M349.1 722.9l5.9 9l10.3 -8.1l-5.9 -8.9z"/>
<path fill="#9bff7c" d="M365.3 723.8l6 8.7l10.4 -9.2l-6.1 -8.6z"/>
<path fill="#a9ff85" d="M381.7 723.3l6 8.6l10.4 -10.4l-6.1 -8.4z"/>
<path fill="#b7ff8c" d="M398.1 721.5l6.2 8.3l10.3 -11.4l-6.2 -8.2z"/>
<path fill="#c7ff92" d="M414.6 718.4l6.3 8.1l10.4 -12.6l-6.3 -8z"/>
<path fill="#d7ff95" d="M431.3 713.9l6.4 7.8l10.5 -13.7l-6.5 -7.7z"/>
<path fill="#62ff16" d="M274.4 709.1l5.5 9.9l10.5 -2.8l-5.6 -9.8z"/>
<path fill="#5dff2d" d="M290.4 716.2l5.6 9.8l10.5 -3.9l-5.7 -9.6z"/>
<path fill="#60ff42" d="M306.5 722.1l5.7 9.6l10.4 -5l-5.7 -9.5z"/>
<path fill="#68ff55" d="M322.6 726.7l5.8 9.3l10.4 -6.1l-5.8 -9.2z"/>
<path fill="#74ff65" d="M338.8 729.9l5.8 9.2l10.4 -7.2l-5.9 -9z"/>
<path fill="#81ff73" d="M355 731.9l6 8.9l10.3 -8.3l-6 -8.7z"/>
<path fill="#90ff7e" d="M371.3 732.5l6.1 8.8l10.3 -9.4l-6 -8.6z"/>
<path fill="#9fff87" d="M387.7 731.9l6.2 8.4l10.4 -10.5l-6.2 -8.3z"/>
<path fill="#afff8e" d="M404.3 729.8l6.2 8.3l10.4 -11.6l-6.3 -8.1z"/>
<path fill="#bfff93" d="M420.9 726.5l6.4 8l10.4 -12.8l-6.4 -7.8z"/>
<path fill="#d0ff96" d="M437.7 721.7l6.5 7.8l10.5 -13.9l-6.5 -7.6z"/>
<path fill="#53ff01" d="M263.8 710.8l5.5 10.1l10.6 -1.9l-5.5 -9.9z"/>
<path fill="#48ff1a" d="M279.9 719l5.6 10l10.5 -3l-5.6 -9.8z"/>
<path fill="#47ff30" d="M296 726l5.7 9.7l10.5 -4l-5.7 -9.6z"/>
<path fill="#4eff45" d="M312.2 731.7l5.7 9.5l10.5 -5.2l-5.8 -9.3z"/>
<path fill="#59ff58" d="M328.4 736l5.8 9.3l10.4 -6.2l-5.8 -9.2z"/>
<path fill="#67ff68" d="M344.6 739.1l6 9.1l10.4 -7.4l-6 -8.9z"/>
<path fill="#76ff75" d="M361 740.8l6 8.9l10.4 -8.4l-6.1 -8.8z"/>
<path fill="#86ff80" d="M377.4 741.3l6.1 8.6l10.4 -9.6l-6.2 -8.4z"/>
<path fill="#96ff88" d="M393.9 740.3l6.2 8.5l10.4 -10.7l-6.2 -8.3z"/>
<path fill="#a7ff8f" d="M410.5 738.1l6.3 8.2l10.5 -11.8l-6.4 -8z"/>
<path fill="#b7ff94" d="M427.3 734.5l6.4 7.9l10.5 -12.9l-6.5 -7.8z"/>
<path fill="#c9ff97" d="M444.2 729.5l6.5 7.7l10.5 -14.1l-6.5 -7.5z"/>
<path fill="#56ff00" d="M253.2 711.5l5.5 10.3l10.6 -0.9l-5.5 -10.1z"/>
<path fill="#37ff05" d="M269.3 720.9l5.6 10l10.6 -1.9l-5.6 -10z"/>
<path fill="#30ff1d" d="M285.5 729l5.7 9.8l10.5 -3.1l-5.7 -9.7z"/>
<path fill="#34ff34" d="M301.7 735.7l5.7 9.7l10.5 -4.2l-5.7 -9.5z"/>
<path fill="#48ff53" d="M317.9 741.2l5.8 9.4l10.5 -5.3l-5.8 -9.3z"/>
<path fill="#5aff6a" d="M334.2 745.3l5.9 9.3l10.5 -6.4l-6 -9.1z"/>
<path fill="#6aff79" d="M350.6 748.2l5.9 9l10.5 -7.5l-6 -8.9z"/>
<path fill="#77ff82" d="M367 749.7l6 8.8l10.5 -8.6l-6.1 -8.6z"/>
<path fill="#81ff86" d="M383.5 749.9l6.1 8.6l10.5 -9.7l-6.2 -8.5z"/>
<path fill="#8eff8a" d="M400.1 748.8l6.2 8.3l10.5 -10.8l-6.3 -8.2z"/>
<path fill="#9fff90" d="M416.8 746.3l6.4 8.1l10.5 -12l-6.4 -7.9z"/>
<path fill="#b0ff95" d="M433.7 742.4l6.4 7.9l10.6 -13.1l-6.5 -7.7z"/>
<path fill="#c2ff98" d="M450.7 737.2l6.6 7.6l10.6 -14.3l-6.7 -7.4z"/>
<path fill="#60ff00" d="M242.4 711.3l5.5 10.4l10.8 0.1l-5.5 -10.3z"/>
<path fill="#37ff00" d="M258.7 721.8l5.5 10.2l10.7 -1.1l-5.6 -10z"/>
<path fill="#1cff08" d="M274.9 730.9l5.6 10l10.7 -2.1l-5.7 -9.8z"/>
<path fill="#20ff27" d="M291.2 738.8l5.7 9.8l10.5 -3.2l-5.7 -9.7z"/>
<path fill="#37ff4d" d="M307.4 745.4l5.8 9.6l10.5 -4.4l-5.8 -9.4z"/>
<path fill="#4bff69" d="M323.7 750.6l5.9 9.4l10.5 -5.4l-5.9 -9.3z"/>
<path fill="#5dff7d" d="M340.1 754.6l5.9 9.1l10.5 -6.5l-5.9 -9z"/>
<path fill="#6cff89" d="M356.5 757.2l6.1 8.9l10.4 -7.6l-6 -8.8z"/>
<path fill="#79ff90" d="M373 758.5l6.1 8.7l10.5 -8.7l-6.1 -8.6z"/>
<path fill="#83ff93" d="M389.6 758.5l6.2 8.5l10.5 -9.9l-6.2 -8.3z"/>
<path fill="#8bff91" d="M406.3 757.1l6.4 8.3l10.5 -11l-6.4 -8.1z"/>
<path fill="#98ff91" d="M423.2 754.4l6.4 8l10.5 -12.1l-6.4 -7.9z"/>
<path fill="#a9ff96" d="M440.1 750.3l6.6 7.8l10.6 -13.3l-6.6 -7.6z"/>
<path fill="#bcff99" d="M457.3 744.8l6.6 7.5l10.7 -14.4l-6.7 -7.4z"/>
<path fill="#6cfb00" d="M231.6 710l5.4 10.6l10.9 1.1l-5.5 -10.4z"/>
<path fill="#3fff00" d="M247.9 721.7l5.5 10.3l10.8 0l-5.5 -10.2z"/>
<path fill="#18ff00" d="M264.2 732l5.6 10.1l10.7 -1.2l-5.6 -10z"/>
<path fill="#0bff14" d="M280.5 740.9l5.7 10l10.7 -2.3l-5.7 -9.8z"/>
<path fill="#23ff42" d="M296.9 748.6l5.7 9.7l10.6 -3.3l-5.8 -9.6z"/>
<path fill="#3aff65" d="M313.2 755l5.8 9.5l10.6 -4.5l-5.9 -9.4z"/>
<path fill="#4eff7d" d="M329.6 760l5.9 9.3l10.5 -5.6l-5.9 -9.1z"/>
<path fill="#5fff8e" d="M346 763.7l6 9.1l10.6 -6.7l-6.1 -8.9z"/>
<path fill="#6eff98" d="M362.6 766.1l6 8.9l10.5 -7.8l-6.1 -8.7z"/>
<path fill="#7bff9d" d="M379.1 767.2l6.2 8.7l10.5 -8.9l-6.2 -8.5z"/>
<path fill="#85ff9e" d="M395.8 767l6.3 8.4l10.6 -10l-6.4 -8.3z"/>
<path fill="#8dff9b" d="M412.7 765.4l6.3 8.2l10.6 -11.2l-6.4 -8z"/>
<path fill="#93ff94" d="M429.6 762.4l6.5 8l10.6 -12.3l-6.6 -7.8z"/>
<path fill="#a3ff97" d="M446.7 758.1l6.6 7.7l10.6 -13.5l-6.6 -7.5z"/>
<path fill="#b6ff99" d="M463.9 752.3l6.8 7.5l10.7 -14.6l-6.8 -7.3z"/>
<path fill="#79ef00" d="M220.6 707.8l5.5 10.6l10.9 2.2l-5.4 -10.6z"/>
<path fill="#4cfc00" d="M237 720.6l5.5 10.4l10.9 1l-5.5 -10.3z"/>
<path fill="#20ff00" d="M253.4 732l5.6 10.3l10.8 -0.2l-5.6 -10.1z"/>
<path fill="#00ff07" d="M269.8 742.1l5.7 10.1l10.7 -1.3l-5.7 -10z"/>
<path fill="#0fff33" d="M286.2 750.9l5.7 9.9l10.7 -2.5l-5.7 -9.7z"/>
<path fill="#27ff5d" d="M302.6 758.3l5.8 9.7l10.6 -3.5l-5.8 -9.5z"/>
<path fill="#3dff7b" d="M319 764.5l5.9 9.5l10.6 -4.7l-5.9 -9.3z"/>
<path fill="#51ff91" d="M335.5 769.3l6 9.3l10.5 -5.8l-6 -9.1z"/>
<path fill="#62ff9f" d="M352 772.8l6.1 9.1l10.5 -6.9l-6 -8.9z"/>
<path fill="#71ffa7" d="M368.6 775l6.2 8.9l10.5 -8l-6.2 -8.7z"/>
<path fill="#7dffaa" d="M385.3 775.9l6.3 8.6l10.5 -9.1l-6.3 -8.4z"/>
<path fill="#87ffa9" d="M402.1 775.4l6.4 8.4l10.5 -10.2l-6.3 -8.2z"/>
<path fill="#8effa4" d="M419 773.6l6.5 8.1l10.6 -11.3l-6.5 -8z"/>
<path fill="#94ff9d" d="M436.1 770.4l6.6 7.9l10.6 -12.5l-6.6 -7.7z"/>
<path fill="#9dff98" d="M453.3 765.8l6.7 7.7l10.7 -13.7l-6.8 -7.5z"/>
<path fill="#b0ff9a" d="M470.7 759.8l6.8 7.4l10.7 -14.8l-6.8 -7.2z"/>
<path fill="#89e400" d="M209.5 704.5l5.5 10.8l11.1 3.1l-5.5 -10.6z"/>
<path fill="#5bf100" d="M226.1 718.4l5.4 10.7l11 1.9l-5.5 -10.4z"/>
<path fill="#2dfe00" d="M242.5 731l5.6 10.4l10.9 0.9l-5.6 -10.3z"/>
<path fill="#01ff00" d="M259 742.3l5.6 10.2l10.9 -0.3l-5.7 -10.1z"/>
<path fill="#00ff24" d="M275.5 752.2l5.6 10l10.8 -1.4l-5.7 -9.9z"/>
<path fill="#12ff50" d="M291.9 760.8l5.8 9.8l10.7 -2.6l-5.8 -9.7z"/>
<path fill="#2aff76" d="M308.4 768l5.8 9.6l10.7 -3.6l-5.9 -9.5z"/>
<path fill="#40ff91" d="M324.9 774l5.9 9.4l10.7 -4.8l-6 -9.3z"/>
<path fill="#53ffa3" d="M341.5 778.6l6 9.2l10.6 -5.9l-6.1 -9.1z"/>
<path fill="#64ffae" d="M358.1 781.9l6.1 9l10.6 -7l-6.2 -8.9z"/>
<path fill="#73ffb4" d="M374.8 783.9l6.2 8.7l10.6 -8.1l-6.3 -8.6z"/>
<path fill="#7fffb6" d="M391.6 784.5l6.3 8.5l10.6 -9.2l-6.4 -8.4z"/>
<path fill="#88ffb3" d="M408.5 783.8l6.4 8.3l10.6 -10.4l-6.5 -8.1z"/>
<path fill="#8fffae" d="M425.5 781.7l6.5 8.1l10.7 -11.5l-6.6 -7.9z"/>
<path fill="#95ffa5" d="M442.7 778.3l6.6 7.8l10.7 -12.6l-6.7 -7.7z"/>
<path fill="#98ff99" d="M460 773.5l6.7 7.5l10.8 -13.8l-6.8 -7.4z"/>
<path fill="#abff9b" d="M477.5 767.2l6.9 7.3l10.8 -15l-7 -7.1z"/>
<path fill="#9cd900" d="M198.3 700.2l5.4 11l11.3 4.1l-5.5 -10.8z"/>
<path fill="#6ce500" d="M215 715.3l5.4 10.8l11.1 3l-5.4 -10.7z"/>
<path fill="#3cf200" d="M231.5 729.1l5.6 10.5l11 1.8l-5.6 -10.4z"/>
<path fill="#0eff00" d="M248.1 741.4l5.6 10.4l10.9 0.7l-5.6 -10.2z"/>
<path fill="#00ff1d" d="M264.6 752.5l5.7 10.1l10.8 -0.4l-5.6 -10z"/>
<path fill="#00ff41" d="M281.1 762.2l5.8 9.9l10.8 -1.5l-5.8 -9.8z"/>
<path fill="#15ff6c" d="M297.7 770.6l5.8 9.7l10.7 -2.7l-5.8 -9.6z"/>
<path fill="#2dff8d" d="M314.2 777.6l5.9 9.6l10.7 -3.8l-5.9 -9.4z"/>
<path fill="#43ffa5" d="M330.8 783.4l6 9.3l10.7 -4.9l-6 -9.2z"/>
<path fill="#56ffb4" d="M347.5 787.8l6 9.1l10.7 -6l-6.1 -9z"/>
<path fill="#67ffbd" d="M364.2 790.9l6.1 8.9l10.7 -7.2l-6.2 -8.7z"/>
<path fill="#75ffc1" d="M381 792.6l6.2 8.7l10.7 -8.3l-6.3 -8.5z"/>
<path fill="#80ffc0" d="M397.9 793l6.3 8.5l10.7 -9.4l-6.4 -8.3z"/>
<path fill="#8affbd" d="M414.9 792.1l6.4 8.2l10.7 -10.5l-6.5 -8.1z"/>
<path fill="#91ffb6" d="M432 789.8l6.6 8l10.7 -11.7l-6.6 -7.8z"/>
<path fill="#96ffac" d="M449.3 786.1l6.7 7.8l10.7 -12.9l-6.7 -7.5z"/>
<path fill="#99ffa0" d="M466.7 781l6.9 7.5l10.8 -14l-6.9 -7.3z"/>
<path fill="#a6ff9b" d="M484.4 774.5l6.9 7.3l10.9 -15.2l-7 -7.1z"/>
<path fill="#b0ce00" d="M187 694.9l5.3 11.1l11.4 5.2l-5.4 -11z"/>
<path fill="#7fda00" d="M203.7 711.2l5.5 10.9l11.2 4l-5.4 -10.8z"/>
<path fill="#4fe600" d="M220.4 726.1l5.5 10.7l11.2 2.8l-5.6 -10.5z"/>
<path fill="#1ef300" d="M237.1 739.6l5.5 10.5l11.1 1.7l-5.6 -10.4z"/>
<path fill="#00ff11" d="M253.7 751.8l5.6 10.3l11 0.5l-5.7 -10.1z"/>
<path fill="#00ff3a" d="M270.3 762.6l5.7 10.1l10.9 -0.6l-5.8 -9.9z"/>
<path fill="#00ff5d" d="M286.9 772.1l5.8 9.9l10.8 -1.7l-5.8 -9.7z"/>
<path fill="#18ff86" d="M303.5 780.3l5.9 9.7l10.7 -2.8l-5.9 -9.6z"/>
<path fill="#30ffa4" d="M320.1 787.2l6 9.5l10.7 -4l-6 -9.3z"/>
<path fill="#45ffb8" d="M336.8 792.7l6 9.3l10.7 -5.1l-6 -9.1z"/>
<path fill="#59ffc4" d="M353.5 796.9l6.2 9.1l10.6 -6.2l-6.1 -8.9z"/>
<path fill="#69ffcb" d="M370.3 799.8l6.3 8.8l10.6 -7.3l-6.2 -8.7z"/>
<path fill="#77ffcd" d="M387.2 801.3l6.4 8.6l10.6 -8.4l-6.3 -8.5z"/>
<path fill="#82ffcb" d="M404.2 801.5l6.5 8.4l10.6 -9.6l-6.4 -8.2z"/>
<path fill="#8bffc6" d="M421.3 800.3l6.6 8.2l10.7 -10.7l-6.6 -8z"/>
<path fill="#92ffbe" d="M438.6 797.8l6.6 7.9l10.8 -11.8l-6.7 -7.8z"/>
<path fill="#97ffb3" d="M456 793.9l6.8 7.6l10.8 -13l-6.9 -7.5z"/>
<path fill="#9affa6" d="M473.6 788.5l6.9 7.5l10.8 -14.2l-6.9 -7.3z"/>
<path fill="#a2ff9c" d="M491.3 781.8l7 7.1l11 -15.3l-7.1 -7z"/>
<path fill="#c3c200" d="M175.4 688.5l5.4 11.2l11.5 6.3l-5.3 -11.1z"/>
<path fill="#94cf00" d="M192.3 706l5.5 11l11.4 5.1l-5.5 -10.9z"/>
<path fill="#63db00" d="M209.2 722.1l5.4 10.8l11.3 3.9l-5.5 -10.7z"/>
<path fill="#32e800" d="M225.9 736.8l5.6 10.6l11.1 2.7l-5.5 -10.5z"/>
<path fill="#01f500" d="M242.6 750.1l5.7 10.4l11 1.6l-5.6 -10.3z"/>
<path fill="#00ff2e" d="M259.3 762.1l5.7 10.2l11 0.4l-5.7 -10.1z"/>
<path fill="#00ff57" d="M276 772.7l5.8 10.1l10.9 -0.8l-5.8 -9.9z"/>
<path fill="#02ff7a" d="M292.7 782l5.8 9.9l10.9 -1.9l-5.9 -9.7z"/>
<path fill="#1bff9f" d="M309.4 790l5.9 9.6l10.8 -2.9l-6 -9.5z"/>
<path fill="#33ffb9" d="M326.1 796.7l6 9.4l10.7 -4.1l-6 -9.3z"/>
<path fill="#48ffca" d="M342.8 802l6.1 9.2l10.8 -5.2l-6.2 -9.1z"/>
<path fill="#5bffd4" d="M359.7 806l6.2 9l10.7 -6.4l-6.3 -8.8z"/>
<path fill="#6bffd8" d="M376.6 808.6l6.3 8.8l10.7 -7.5l-6.4 -8.6z"/>
<path fill="#79ffd8" d="M393.6 809.9l6.4 8.6l10.7 -8.6l-6.5 -8.4z"/>
<path fill="#84ffd4" d="M410.7 809.9l6.5 8.3l10.7 -9.7l-6.6 -8.2z"/>
<path fill="#8dffce" d="M427.9 808.5l6.6 8.1l10.7 -10.9l-6.6 -7.9z"/>
<path fill="#93ffc5" d="M445.2 805.7l6.8 7.9l10.8 -12.1l-6.8 -7.6z"/>
<path fill="#98ffba" d="M462.8 801.5l6.8 7.6l10.9 -13.1l-6.9 -7.5z"/>
<path fill="#9bffac" d="M480.5 796l6.9 7.3l10.9 -14.4l-7 -7.1z"/>
<path fill="#9dff9c" d="M498.3 788.9l7.2 7.1l10.9 -15.5l-7.1 -6.9z"/>
<path fill="#ba9800" d="M163.8 681l5.3 11.3l11.7 7.4l-5.4 -11.2z"/>
<path fill="#abc500" d="M180.8 699.7l5.4 11.1l11.6 6.2l-5.5 -11z"/>
<path fill="#79d000" d="M197.8 717l5.4 10.9l11.4 5l-5.4 -10.8z"/>
<path fill="#47dc00" d="M214.6 732.9l5.6 10.7l11.3 3.8l-5.6 -10.6z"/>
<path fill="#15e900" d="M231.5 747.4l5.6 10.6l11.2 2.5l-5.7 -10.4z"/>
<path fill="#00f61d" d="M248.3 760.5l5.6 10.4l11.1 1.4l-5.7 -10.2z"/>
<path fill="#00ff4b" d="M265 772.3l5.7 10.2l11.1 0.3l-5.8 -10.1z"/>
<path fill="#00ff73" d="M281.8 782.8l5.8 9.9l10.9 -0.8l-5.8 -9.9z"/>
<path fill="#06ff95" d="M298.5 791.9l5.9 9.7l10.9 -2l-5.9 -9.6z"/>
<path fill="#1fffb7" d="M315.3 799.6l6 9.6l10.8 -3.1l-6 -9.4z"/>
<path fill="#36ffcd" d="M332.1 806.1l6 9.3l10.8 -4.2l-6.1 -9.2z"/>
<path fill="#4bffdb" d="M348.9 811.2l6.2 9.1l10.8 -5.3l-6.2 -9z"/>
<path fill="#5effe2" d="M365.9 815l6.2 8.9l10.8 -6.5l-6.3 -8.8z"/>
<path fill="#6effe4" d="M382.9 817.4l6.3 8.7l10.8 -7.6l-6.4 -8.6z"/>
<path fill="#7bffe2" d="M400 818.5l6.4 8.5l10.8 -8.8l-6.5 -8.3z"/>
<path fill="#86ffdd" d="M417.2 818.2l6.5 8.3l10.8 -9.9l-6.6 -8.1z"/>
<path fill="#8effd6" d="M434.5 816.6l6.7 8l10.8 -11l-6.8 -7.9z"/>
<path fill="#94ffcc" d="M452 813.6l6.8 7.7l10.8 -12.2l-6.8 -7.6z"/>
<path fill="#98ffc0" d="M469.6 809.1l6.9 7.6l10.9 -13.4l-6.9 -7.3z"/>
<path fill="#9bffb2" d="M487.4 803.3l7.1 7.3l11 -14.6l-7.2 -7.1z"/>
<path fill="#9dffa0" d="M505.5 796l7.2 7l11 -15.7l-7.3 -6.8z"/>
<path fill="#b06e00" d="M151.9 672.3l5.4 11.5l11.8 8.5l-5.3 -11.3z"/>
<path fill="#bbb300" d="M169.1 692.3l5.4 11.3l11.7 7.2l-5.4 -11.1z"/>
<path fill="#91c600" d="M186.2 710.8l5.5 11.1l11.5 6l-5.4 -10.9z"/>
<path fill="#5fd100" d="M203.2 727.9l5.5 10.9l11.5 4.8l-5.6 -10.7z"/>
<path fill="#2cde00" d="M220.2 743.6l5.5 10.7l11.4 3.7l-5.6 -10.6z"/>
<path fill="#00eb07" d="M237.1 758l5.6 10.5l11.2 2.4l-5.6 -10.4z"/>
<path fill="#00f839" d="M253.9 770.9l5.7 10.3l11.1 1.3l-5.7 -10.2z"/>
<path fill="#00ff68" d="M270.7 782.5l5.8 10.1l11.1 0.1l-5.8 -9.9z"/>
<path fill="#00ff8e" d="M287.6 792.7l5.8 10l11 -1.1l-5.9 -9.7z"/>
<path fill="#09ffb0" d="M304.4 801.6l5.9 9.8l11 -2.2l-6 -9.6z"/>
<path fill="#22ffcd" d="M321.3 809.2l6 9.5l10.8 -3.3l-6 -9.3z"/>
<path fill="#39ffe0" d="M338.1 815.4l6.2 9.3l10.8 -4.4l-6.2 -9.1z"/>
<path fill="#4effeb" d="M355.1 820.3l6.2 9.1l10.8 -5.5l-6.2 -8.9z"/>
<path fill="#60ffef" d="M372.1 823.9l6.3 8.9l10.8 -6.7l-6.3 -8.7z"/>
<path fill="#70ffef" d="M389.2 826.1l6.4 8.7l10.8 -7.8l-6.4 -8.5z"/>
<path fill="#7dffec" d="M406.4 827l6.5 8.4l10.8 -8.9l-6.5 -8.3z"/>
<path fill="#87ffe6" d="M423.7 826.5l6.7 8.2l10.8 -10.1l-6.7 -8z"/>
<path fill="#8fffdd" d="M441.2 824.6l6.7 8l10.9 -11.3l-6.8 -7.7z"/>
<path fill="#95ffd3" d="M458.8 821.3l6.9 7.8l10.8 -12.4l-6.9 -7.6z"/>
<path fill="#99ffc6" d="M476.5 816.7l7.1 7.4l10.9 -13.5l-7.1 -7.3z"/>
<path fill="#9cffb7" d="M494.5 810.6l7.2 7.2l11 -14.8l-7.2 -7z"/>
<path fill="#9dffa5" d="M512.7 803l7.3 7l11.1 -16l-7.4 -6.7z"/>
<path fill="#a74500" d="M139.9 662.6l5.3 11.6l12.1 9.6l-5.4 -11.5z"/>
<path fill="#b18800" d="M157.3 683.8l5.3 11.4l11.9 8.4l-5.4 -11.3z"/>
<path fill="#a9bc00" d="M174.5 703.6l5.5 11.2l11.7 7.1l-5.5 -11.1z"/>
<path fill="#77c700" d="M191.7 721.9l5.5 11.1l11.5 5.8l-5.5 -10.9z"/>
<path fill="#44d300" d="M208.7 738.8l5.6 10.9l11.4 4.6l-5.5 -10.7z"/>
<path fill="#11df00" d="M225.7 754.3l5.7 10.7l11.3 3.5l-5.6 -10.5z"/>
<path fill="#00ec23" d="M242.7 768.5l5.7 10.4l11.2 2.3l-5.7 -10.3z"/>
<path fill="#00f956" d="M259.6 781.2l5.8 10.3l11.1 1.1l-5.8 -10.1z"/>
<path fill="#00ff83" d="M276.5 792.6l5.9 10.1l11 0l-5.8 -10z"/>
<path fill="#00ffa8" d="M293.4 802.7l5.9 9.8l11 -1.1l-5.9 -9.8z"/>
<path fill="#0cffc9" d="M310.3 811.4l6 9.6l11 -2.3l-6 -9.5z"/>
<path fill="#25ffe2" d="M327.3 818.7l6.1 9.5l10.9 -3.5l-6.2 -9.3z"/>
<path fill="#3cfff1" d="M344.3 824.7l6.1 9.3l10.9 -4.6l-6.2 -9.1z"/>
<path fill="#51fff9" d="M361.3 829.4l6.3 9.1l10.8 -5.7l-6.3 -8.9z"/>
<path fill="#63fffc" d="M378.4 832.8l6.4 8.8l10.8 -6.8l-6.4 -8.7z"/>
<path fill="#72fffa" d="M395.6 834.8l6.5 8.6l10.8 -8l-6.5 -8.4z"/>
<path fill="#7ffff5" d="M412.9 835.4l6.6 8.4l10.9 -9.1l-6.7 -8.2z"/>
<path fill="#89ffee" d="M430.4 834.7l6.7 8.1l10.8 -10.2l-6.7 -8z"/>
<path fill="#90ffe4" d="M447.9 832.6l6.9 7.8l10.9 -11.3l-6.9 -7.8z"/>
<path fill="#96ffd9" d="M465.7 829.1l6.9 7.6l11 -12.6l-7.1 -7.4z"/>
<path fill="#9affcb" d="M483.6 824.1l7 7.4l11.1 -13.7l-7.2 -7.2z"/>
<path fill="#9cffbb" d="M501.7 817.8l7.2 7.1l11.1 -14.9l-7.3 -7z"/>
<path fill="#9effa9" d="M520 810l7.3 6.8l11.2 -16.2l-7.4 -6.6z"/>
<path fill="#9f1c00" d="M127.7 651.7l5.3 11.7l12.2 10.8l-5.3 -11.6z"/>
<path fill="#a85d00" d="M145.2 674.2l5.4 11.5l12 9.5l-5.3 -11.4z"/>
<path fill="#b2a100" d="M162.6 695.2l5.5 11.4l11.9 8.2l-5.5 -11.2z"/>
<path fill="#91bd00" d="M180 714.8l5.4 11.2l11.8 7l-5.5 -11.1z"/>
<path fill="#5ec800" d="M197.2 733l5.5 10.9l11.6 5.8l-5.6 -10.9z"/>
<path fill="#2ad400" d="M214.3 749.7l5.6 10.8l11.5 4.5l-5.7 -10.7z"/>
<path fill="#00e00a" d="M231.4 765l5.6 10.6l11.4 3.3l-5.7 -10.4z"/>
<path fill="#00ed3e" d="M248.4 778.9l5.7 10.4l11.3 2.2l-5.8 -10.3z"/>
<path fill="#00fb72" d="M265.4 791.5l5.8 10.2l11.2 1l-5.9 -10.1z"/>
<path fill="#00ff9e" d="M282.4 802.7l5.9 10l11 -0.2l-5.9 -9.8z"/>
<path fill="#00ffc1" d="M299.3 812.5l6 9.8l11 -1.3l-6 -9.6z"/>
<path fill="#0fffe0" d="M316.3 821l6.1 9.6l11 -2.4l-6.1 -9.5z"/>
<path fill="#28fff6" d="M333.4 828.2l6.1 9.4l10.9 -3.6l-6.1 -9.3z"/>
<path fill="#3ffcff" d="M350.4 834l6.3 9.2l10.9 -4.7l-6.3 -9.1z"/>
<path fill="#53f7ff" d="M367.6 838.5l6.3 8.9l10.9 -5.8l-6.4 -8.8z"/>
<path fill="#65f7ff" d="M384.8 841.6l6.4 8.7l10.9 -6.9l-6.5 -8.6z"/>
<path fill="#74faff" d="M402.1 843.4l6.6 8.5l10.8 -8.1l-6.6 -8.4z"/>
<path fill="#80fffd" d="M419.5 843.8l6.7 8.3l10.9 -9.3l-6.7 -8.1z"/>
<path fill="#8afff5" d="M437.1 842.8l6.8 8.1l10.9 -10.5l-6.9 -7.8z"/>
<path fill="#92ffeb" d="M454.8 840.4l6.9 7.9l10.9 -11.6l-6.9 -7.6z"/>
<path fill="#97ffdf" d="M472.6 836.7l7 7.6l11 -12.8l-7 -7.4z"/>
<path fill="#9bffd0" d="M490.6 831.5l7.2 7.3l11.1 -13.9l-7.2 -7.1z"/>
<path fill="#9dffc0" d="M508.9 824.9l7.3 7l11.1 -15.1l-7.3 -6.8z"/>
<path fill="#9effad" d="M527.3 816.8l7.5 6.8l11.2 -16.4l-7.5 -6.6z"/>
<path fill="#970000" d="M115.3 639.5l5.3 11.9l12.4 12l-5.3 -11.7z"/>
<path fill="#a03400" d="M133 663.4l5.4 11.7l12.2 10.6l-5.4 -11.5z"/>
<path fill="#a97600" d="M150.6 685.7l5.4 11.5l12.1 9.4l-5.5 -11.4z"/>
<path fill="#abb300" d="M168.1 706.6l5.4 11.3l11.9 8.1l-5.4 -11.2z"/>
<path fill="#79be00" d="M185.4 726l5.5 11.1l11.8 6.8l-5.5 -10.9z"/>
<path fill="#45c900" d="M202.7 743.9l5.6 10.9l11.6 5.7l-5.6 -10.8z"/>
<path fill="#11d500" d="M219.9 760.5l5.6 10.7l11.5 4.4l-5.6 -10.6z"/>
<path fill="#00e225" d="M237 775.6l5.7 10.5l11.4 3.2l-5.7 -10.4z"/>
<path fill="#00ef5a" d="M254.1 789.3l5.8 10.3l11.3 2.1l-5.8 -10.2z"/>
<path fill="#00fc8e" d="M271.2 801.7l5.9 10.1l11.2 0.9l-5.9 -10z"/>
<path fill="#00ffb8" d="M288.3 812.7l5.9 9.9l11.1 -0.3l-6 -9.8z"/>
<path fill="#00ffda" d="M305.3 822.3l6 9.8l11.1 -1.5l-6.1 -9.6z"/>
<path fill="#13fff6" d="M322.4 830.6l6.1 9.5l11 -2.5l-6.1 -9.4z"/>
<path fill="#2bf6ff" d="M339.5 837.6l6.2 9.3l11 -3.7l-6.3 -9.2z"/>
<path fill="#42ecff" d="M356.7 843.2l6.3 9.1l10.9 -4.9l-6.3 -8.9z"/>
<path fill="#56eaff" d="M373.9 847.4l6.4 8.9l10.9 -6l-6.4 -8.7z"/>
<path fill="#67ecff" d="M391.2 850.3l6.5 8.7l11 -7.1l-6.6 -8.5z"/>
<path fill="#76f1ff" d="M408.7 851.9l6.6 8.4l10.9 -8.2l-6.7 -8.3z"/>
<path fill="#82f9ff" d="M426.2 852.1l6.7 8.2l11 -9.4l-6.8 -8.1z"/>
<path fill="#8cfffc" d="M443.9 850.9l6.8 7.9l11 -10.5l-6.9 -7.9z"/>
<path fill="#93fff1" d="M461.7 848.3l7 7.7l10.9 -11.7l-7 -7.6z"/>
<path fill="#98ffe4" d="M479.6 844.3l7.2 7.4l11 -12.9l-7.2 -7.3z"/>
<path fill="#9bffd5" d="M497.8 838.8l7.3 7.3l11.1 -14.2l-7.3 -7z"/>
<path fill="#9dffc4" d="M516.2 831.9l7.4 7l11.2 -15.3l-7.5 -6.8z"/>
<path fill="#9effb0" d="M534.8 823.6l7.6 6.7l11.3 -16.6l-7.7 -6.5z"/>
<path fill="#980b00" d="M120.6 651.4l5.3 11.8l12.5 11.9l-5.4 -11.7z"/>
<path fill="#a04b00" d="M138.4 675.1l5.3 11.6l12.3 10.5l-5.4 -11.5z"/>
<path fill="#aa8e00" d="M156 697.2l5.4 11.5l12.1 9.2l-5.4 -11.3z"/>
<path fill="#94b400" d="M173.5 717.9l5.5 11.2l11.9 8l-5.5 -11.1z"/>
<path fill="#61bf00" d="M190.9 737.1l5.6 11l11.8 6.7l-5.6 -10.9z"/>
<path fill="#2dca00" d="M208.3 754.8l5.6 10.9l11.6 5.5l-5.6 -10.7z"/>
<path fill="#00d609" d="M225.5 771.2l5.7 10.6l11.5 4.3l-5.7 -10.5z"/>
<path fill="#00e33f" d="M242.7 786.1l5.8 10.5l11.4 3l-5.8 -10.3z"/>
<path fill="#00f074" d="M259.9 799.6l5.9 10.3l11.3 1.9l-5.9 -10.1z"/>
<path fill="#00fea9" d="M277.1 811.8l5.9 10.1l11.2 0.7l-5.9 -9.9z"/>
<path fill="#00ffd1" d="M294.2 822.6l6 9.9l11.1 -0.4l-6 -9.8z"/>
<path fill="#00fff2" d="M311.3 832.1l6.1 9.6l11.1 -1.6l-6.1 -9.5z"/>
<path fill="#16f3ff" d="M328.5 840.1l6.2 9.5l11 -2.7l-6.2 -9.3z"/>
<path fill="#2ee4ff" d="M345.7 846.9l6.3 9.3l11 -3.9l-6.3 -9.1z"/>
<path fill="#45deff" d="M363 852.3l6.4 9l10.9 -5l-6.4 -8.9z"/>
<path fill="#59deff" d="M380.3 856.3l6.5 8.9l10.9 -6.2l-6.5 -8.7z"/>
<path fill="#6ae2ff" d="M397.7 859l6.6 8.6l11 -7.3l-6.6 -8.4z"/>
<path fill="#78e9ff" d="M415.3 860.3l6.7 8.4l10.9 -8.4l-6.7 -8.2z"/>
<path fill="#84f1ff" d="M432.9 860.3l6.8 8.1l11 -9.6l-6.8 -7.9z"/>
<path fill="#8dfcff" d="M450.7 858.8l6.9 8l11.1 -10.8l-7 -7.7z"/>
<path fill="#94fff6" d="M468.7 856l7 7.7l11.1 -12l-7.2 -7.4z"/>
<path fill="#99ffe9" d="M486.8 851.7l7.2 7.5l11.1 -13.1l-7.3 -7.3z"/>
<path fill="#9cffd9" d="M505.1 846.1l7.3 7.1l11.2 -14.3l-7.4 -7z"/>
<path fill="#9effc8" d="M523.6 838.9l7.5 6.9l11.3 -15.5l-7.6 -6.7z"/>
<path fill="#992200" d="M125.9 663.2l5.4 11.8l12.4 11.7l-5.3 -11.6z"/>
<path fill="#a16200" d="M143.7 686.7l5.5 11.6l12.2 10.4l-5.4 -11.5z"/>
<path fill="#aba600" d="M161.4 708.7l5.5 11.3l12.1 9.1l-5.5 -11.2z"/>
<path fill="#7db500" d="M179 729.1l5.6 11.2l11.9 7.8l-5.6 -11z"/>
<path fill="#49c000" d="M196.5 748.1l5.6 11l11.8 6.6l-5.6 -10.9z"/>
<path fill="#14cb00" d="M213.9 765.7l5.7 10.8l11.6 5.3l-5.7 -10.6z"/>
<path fill="#00d822" d="M231.2 781.8l5.8 10.7l11.5 4.1l-5.8 -10.5z"/>
<path fill="#00e458" d="M248.5 796.6l5.8 10.4l11.5 2.9l-5.9 -10.3z"/>
<path fill="#00f28f" d="M265.8 809.9l5.8 10.2l11.4 1.8l-5.9 -10.1z"/>
<path fill="#00ffc4" d="M283 821.9l5.9 10l11.3 0.6l-6 -9.9z"/>
<path fill="#00ffea" d="M300.2 832.5l6.1 9.8l11.1 -0.6l-6.1 -9.6z"/>
<path fill="#00f4ff" d="M317.4 841.7l6.2 9.7l11.1 -1.8l-6.2 -9.5z"/>
<path fill="#19dfff" d="M334.7 849.6l6.2 9.4l11.1 -2.8l-6.3 -9.3z"/>
<path fill="#31d4ff" d="M352 856.2l6.3 9.2l11.1 -4.1l-6.4 -9z"/>
<path fill="#47d0ff" d="M369.4 861.3l6.4 9l11 -5.1l-6.5 -8.9z"/>
<path fill="#5bd2ff" d="M386.8 865.2l6.5 8.7l11 -6.3l-6.6 -8.6z"/>
<path fill="#6cd8ff" d="M404.3 867.6l6.7 8.6l11 -7.5l-6.7 -8.4z"/>
<path fill="#7ae1ff" d="M422 868.7l6.7 8.3l11 -8.6l-6.8 -8.1z"/>
<path fill="#85ebff" d="M439.7 868.4l6.9 8.1l11 -9.7l-6.9 -8z"/>
<path fill="#8ef6ff" d="M457.6 866.8l7.1 7.8l11 -10.9l-7 -7.7z"/>
<path fill="#95fffb" d="M475.7 863.7l7.2 7.6l11.1 -12.1l-7.2 -7.5z"/>
<path fill="#99ffed" d="M494 859.2l7.3 7.3l11.1 -13.3l-7.3 -7.1z"/>
<path fill="#9cffdd" d="M512.4 853.2l7.5 7.1l11.2 -14.5l-7.5 -6.9z"/>
<path fill="#993800" d="M131.3 675l5.4 11.7l12.5 11.6l-5.5 -11.6z"/>
<path fill="#a27900" d="M149.2 698.3l5.4 11.5l12.3 10.2l-5.5 -11.3z"/>
<path fill="#9aac00" d="M166.9 720l5.5 11.3l12.2 9l-5.6 -11.2z"/>
<path fill="#67b600" d="M184.6 740.3l5.5 11.1l12 7.7l-5.6 -11z"/>
<path fill="#32c100" d="M202.1 759.1l5.7 11l11.8 6.4l-5.7 -10.8z"/>
<path fill="#00cd04" d="M219.6 776.5l5.7 10.7l11.7 5.3l-5.8 -10.7z"/>
<path fill="#00d93a" d="M237 792.5l5.8 10.5l11.5 4l-5.8 -10.4z"/>
<path fill="#00e672" d="M254.3 807l5.9 10.4l11.4 2.7l-5.8 -10.2z"/>
<path fill="#00f3a8" d="M271.6 820.1l6 10.2l11.3 1.6l-5.9 -10z"/>
<path fill="#00ffdd" d="M288.9 831.9l6.1 10l11.3 0.4l-6.1 -9.8z"/>
<path fill="#00fcff" d="M306.3 842.3l6.1 9.8l11.2 -0.7l-6.2 -9.7z"/>
<path fill="#02deff" d="M323.6 851.4l6.2 9.5l11.1 -1.9l-6.2 -9.4z"/>
<path fill="#1ccdff" d="M340.9 859l6.3 9.4l11.1 -3l-6.3 -9.2z"/>
<path fill="#34c5ff" d="M358.3 865.4l6.4 9.1l11.1 -4.2l-6.4 -9z"/>
<path fill="#4ac4ff" d="M375.8 870.3l6.5 9l11 -5.4l-6.5 -8.7z"/>
<path fill="#5ec8ff" d="M393.3 873.9l6.6 8.8l11.1 -6.5l-6.7 -8.6z"/>
<path fill="#6ed0ff" d="M411 876.2l6.7 8.5l11 -7.7l-6.7 -8.3z"/>
<path fill="#7cd9ff" d="M428.7 877l6.9 8.3l11 -8.8l-6.9 -8.1z"/>
<path fill="#87e4ff" d="M446.6 876.5l7 8l11.1 -9.9l-7.1 -7.8z"/>
<path fill="#8ff1ff" d="M464.7 874.6l7.1 7.8l11.1 -11.1l-7.2 -7.6z"/>
<path fill="#96feff" d="M482.9 871.3l7.2 7.5l11.2 -12.3l-7.3 -7.3z"/>
<path fill="#9afff1" d="M501.3 866.5l7.3 7.3l11.3 -13.5l-7.5 -7.1z"/>
<path fill="#9a4d00" d="M136.7 686.7l5.4 11.6l12.5 11.5l-5.4 -11.5z"/>
<path fill="#a39000" d="M154.6 709.8l5.5 11.4l12.3 10.1l-5.5 -11.3z"/>
<path fill="#84ac00" d="M172.4 731.3l5.6 11.3l12.1 8.8l-5.5 -11.1z"/>
<path fill="#50b700" d="M190.1 751.4l5.7 11.1l12 7.6l-5.7 -11z"/>
<path fill="#1bc200" d="M207.8 770.1l5.7 10.8l11.8 6.3l-5.7 -10.7z"/>
<path fill="#00ce1b" d="M225.3 787.2l5.8 10.7l11.7 5.1l-5.8 -10.5z"/>
<path fill="#00da53" d="M242.8 803l5.8 10.5l11.6 3.9l-5.9 -10.4z"/>
<path fill="#00e78b" d="M260.2 817.4l5.9 10.3l11.5 2.6l-6 -10.2z"/>
<path fill="#00f4c2" d="M277.6 830.3l6 10.1l11.4 1.5l-6.1 -10z"/>
<path fill="#00fff5" d="M295 841.9l6.1 9.9l11.3 0.3l-6.1 -9.8z"/>
<path fill="#00e5ff" d="M312.4 852.1l6.1 9.7l11.3 -0.9l-6.2 -9.5z"/>
<path fill="#05c9ff" d="M329.8 860.9l6.2 9.5l11.2 -2l-6.3 -9.4z"/>
<path fill="#1fbbff" d="M347.2 868.4l6.4 9.3l11.1 -3.2l-6.4 -9.1z"/>
<path fill="#37b6ff" d="M364.7 874.5l6.5 9.1l11.1 -4.3l-6.5 -9z"/>
<path fill="#4db8ff" d="M382.3 879.3l6.6 8.8l11 -5.4l-6.6 -8.8z"/>
<path fill="#60beff" d="M399.9 882.7l6.7 8.6l11.1 -6.6l-6.7 -8.5z"/>
<path fill="#70c8ff" d="M417.7 884.7l6.8 8.4l11.1 -7.8l-6.9 -8.3z"/>
<path fill="#7ed3ff" d="M435.6 885.3l6.9 8.2l11.1 -9l-7 -8z"/>
<path fill="#88dfff" d="M453.6 884.5l7 8l11.2 -10.1l-7.1 -7.8z"/>
<path fill="#91ecff" d="M471.8 882.4l7.1 7.7l11.2 -11.3l-7.2 -7.5z"/>
<path fill="#97faff" d="M490.1 878.8l7.3 7.5l11.2 -12.5l-7.3 -7.3z"/>
<path fill="#9b6300" d="M142.1 698.3l5.5 11.6l12.5 11.3l-5.5 -11.4z"/>
<path fill="#a1a400" d="M160.1 721.2l5.6 11.4l12.3 10l-5.6 -11.3z"/>
<path fill="#6fad00" d="M178 742.6l5.6 11.2l12.2 8.7l-5.7 -11.1z"/>
<path fill="#3ab800" d="M195.8 762.5l5.7 11l12 7.4l-5.7 -10.8z"/>
<path fill="#05c300" d="M213.5 780.9l5.7 10.9l11.9 6.1l-5.8 -10.7z"/>
<path fill="#00cf33" d="M231.1 797.9l5.8 10.7l11.7 4.9l-5.8 -10.5z"/>
<path fill="#00db6b" d="M248.6 813.5l5.9 10.4l11.6 3.8l-5.9 -10.3z"/>
<path fill="#00e8a3" d="M266.1 827.7l6 10.2l11.5 2.5l-6 -10.1z"/>
<path fill="#00f6db" d="M283.6 840.4l6 10.1l11.5 1.3l-6.1 -9.9z"/>
<path fill="#00f2ff" d="M301.1 851.8l6.1 9.8l11.3 0.2l-6.1 -9.7z"/>
<path fill="#00cfff" d="M318.5 861.8l6.3 9.6l11.2 -1l-6.2 -9.5z"/>
<path fill="#09b6ff" d="M336 870.4l6.4 9.5l11.2 -2.2l-6.4 -9.3z"/>
<path fill="#22abff" d="M353.6 877.7l6.4 9.2l11.2 -3.3l-6.5 -9.1z"/>
<path fill="#3aa9ff" d="M371.2 883.6l6.5 9l11.2 -4.5l-6.6 -8.8z"/>
<path fill="#50adff" d="M388.9 888.1l6.6 8.8l11.1 -5.6l-6.7 -8.6z"/>
<path fill="#62b6ff" d="M406.6 891.3l6.8 8.6l11.1 -6.8l-6.8 -8.4z"/>
<path fill="#72c0ff" d="M424.5 893.1l6.9 8.4l11.1 -8l-6.9 -8.2z"/>
<path fill="#7fccff" d="M442.5 893.5l7 8.1l11.1 -9.1l-7 -8z"/>
<path fill="#8adaff" d="M460.6 892.5l7.2 7.9l11.1 -10.3l-7.1 -7.7z"/>
<path fill="#92e7ff" d="M478.9 890.1l7.3 7.6l11.2 -11.4l-7.3 -7.5z"/>
<path fill="#9b7800" d="M147.6 709.9l5.6 11.5l12.5 11.2l-5.6 -11.4z"/>
<path fill="#8da400" d="M165.7 732.6l5.6 11.3l12.3 9.9l-5.6 -11.2z"/>
<path fill="#5aae00" d="M183.6 753.8l5.7 11.1l12.2 8.6l-5.7 -11z"/>
<path fill="#25b900" d="M201.5 773.5l5.7 11l12 7.3l-5.7 -10.9z"/>
<path fill="#00c412" d="M219.2 791.8l5.8 10.7l11.9 6.1l-5.8 -10.7z"/>
<path fill="#00d04a" d="M236.9 808.6l5.8 10.5l11.8 4.8l-5.9 -10.4z"/>
<path fill="#00dd82" d="M254.5 823.9l5.9 10.4l11.7 3.6l-6 -10.2z"/>
<path fill="#00eabb" d="M272.1 837.9l6 10.2l11.5 2.4l-6 -10.1z"/>
<path fill="#00f7f4" d="M289.6 850.5l6.2 10l11.4 1.1l-6.1 -9.8z"/>
<path fill="#00dbff" d="M307.2 861.6l6.2 9.8l11.4 0l-6.3 -9.6z"/>
<path fill="#00b9ff" d="M324.8 871.4l6.3 9.6l11.3 -1.1l-6.4 -9.5z"/>
<path fill="#0ca3ff" d="M342.4 879.9l6.4 9.4l11.2 -2.4l-6.4 -9.2z"/>
<path fill="#259cff" d="M360 886.9l6.5 9.2l11.2 -3.5l-6.5 -9z"/>
<path fill="#3d9dff" d="M377.7 892.6l6.6 9l11.2 -4.7l-6.6 -8.8z"/>
<path fill="#52a3ff" d="M395.5 896.9l6.7 8.8l11.2 -5.8l-6.8 -8.6z"/>
<path fill="#65adff" d="M413.4 899.9l6.8 8.5l11.2 -6.9l-6.9 -8.4z"/>
<path fill="#74baff" d="M431.4 901.5l6.9 8.2l11.2 -8.1l-7 -8.1z"/>
<path fill="#81c7ff" d="M449.5 901.6l7.1 8.1l11.2 -9.3l-7.2 -7.9z"/>
<path fill="#8bd5ff" d="M467.8 900.4l7.2 7.8l11.2 -10.5l-7.3 -7.6z"/>
<path fill="#9c8d00" d="M153.2 721.4l5.6 11.5l12.5 11l-5.6 -11.3z"/>
<path fill="#79a500" d="M171.3 743.9l5.6 11.3l12.4 9.7l-5.7 -11.1z"/>
<path fill="#45af00" d="M189.3 764.9l5.7 11.1l12.2 8.5l-5.7 -11z"/>
<path fill="#0fba00" d="M207.2 784.5l5.8 10.9l12 7.1l-5.8 -10.7z"/>
<path fill="#00c528" d="M225 802.5l5.8 10.7l11.9 5.9l-5.8 -10.5z"/>
<path fill="#00d160" d="M242.7 819.1l6 10.6l11.7 4.6l-5.9 -10.4z"/>
<path fill="#00de9a" d="M260.4 834.3l6.1 10.4l11.6 3.4l-6 -10.2z"/>
<path fill="#00ebd3" d="M278.1 848.1l6.1 10.1l11.6 2.3l-6.2 -10z"/>
<path fill="#00e6f9" d="M295.8 860.5l6.1 9.9l11.5 1l-6.2 -9.8z"/>
<path fill="#00c5ff" d="M313.4 871.4l6.3 9.8l11.4 -0.2l-6.3 -9.6z"/>
<path fill="#00a5ff" d="M331.1 881l6.3 9.6l11.4 -1.3l-6.4 -9.4z"/>
<path fill="#0f92ff" d="M348.8 889.3l6.4 9.3l11.3 -2.5l-6.5 -9.2z"/>
<path fill="#288eff" d="M366.5 896.1l6.6 9.1l11.2 -3.6l-6.6 -9z"/>
<path fill="#4092ff" d="M384.3 901.6l6.7 8.9l11.2 -4.8l-6.7 -8.8z"/>
<path fill="#559aff" d="M402.2 905.7l6.8 8.7l11.2 -6l-6.8 -8.5z"/>
<path fill="#67a6ff" d="M420.2 908.4l6.9 8.5l11.2 -7.2l-6.9 -8.2z"/>
<path fill="#76b3ff" d="M438.3 909.7l7.1 8.3l11.2 -8.3l-7.1 -8.1z"/>
<path fill="#83c2ff" d="M456.6 909.7l7.1 8l11.3 -9.5l-7.2 -7.8z"/>
<path fill="#989d00" d="M158.8 732.9l5.6 11.4l12.5 10.9l-5.6 -11.3z"/>
<path fill="#65a600" d="M176.9 755.2l5.7 11.2l12.4 9.6l-5.7 -11.1z"/>
<path fill="#31b000" d="M195 776l5.8 11.1l12.2 8.3l-5.8 -10.9z"/>
<path fill="#00bb06" d="M213 795.4l5.8 10.8l12 7l-5.8 -10.7z"/>
<path fill="#00c63d" d="M230.8 813.2l6 10.7l11.9 5.8l-6 -10.6z"/>
<path fill="#00d277" d="M248.7 829.7l6 10.4l11.8 4.6l-6.1 -10.4z"/>
<path fill="#00dfb0" d="M266.5 844.7l6 10.2l11.7 3.3l-6.1 -10.1z"/>
<path fill="#00edea" d="M284.2 858.2l6.1 10.1l11.6 2.1l-6.1 -9.9z"/>
<path fill="#00d1fa" d="M301.9 870.4l6.3 9.9l11.5 0.9l-6.3 -9.8z"/>
<path fill="#00b0ff" d="M319.7 881.2l6.3 9.7l11.4 -0.3l-6.3 -9.6z"/>
<path fill="#0091ff" d="M337.4 890.6l6.5 9.5l11.3 -1.5l-6.4 -9.3z"/>
<path fill="#1282ff" d="M355.2 898.6l6.6 9.3l11.3 -2.7l-6.6 -9.1z"/>
<path fill="#2b81ff" d="M373.1 905.2l6.6 9.1l11.3 -3.8l-6.7 -8.9z"/>
<path fill="#4387ff" d="M391 910.5l6.7 8.8l11.3 -4.9l-6.8 -8.7z"/>
<path fill="#5792ff" d="M409 914.4l6.9 8.6l11.2 -6.1l-6.9 -8.5z"/>
<path fill="#699fff" d="M427.1 916.9l7 8.4l11.3 -7.3l-7.1 -8.3z"/>
<path fill="#78aeff" d="M445.4 918l7.1 8.1l11.2 -8.4l-7.1 -8z"/>
<path fill="#859e00" d="M164.4 744.3l5.6 11.3l12.6 10.8l-5.7 -11.2z"/>
<path fill="#52a700" d="M182.6 766.4l5.8 11.2l12.4 9.5l-5.8 -11.1z"/>
<path fill="#1db100" d="M200.8 787.1l5.8 10.9l12.2 8.2l-5.8 -10.8z"/>
<path fill="#00bc1a" d="M218.8 806.2l5.9 10.8l12.1 6.9l-6 -10.7z"/>
<path fill="#00c753" d="M236.8 823.9l5.9 10.6l12 5.6l-6 -10.4z"/>
<path fill="#00d48c" d="M254.7 840.1l6 10.4l11.8 4.4l-6 -10.2z"/>
<path fill="#00e1c7" d="M272.5 854.9l6.1 10.2l11.7 3.2l-6.1 -10.1z"/>
<path fill="#00dbee" d="M290.3 868.3l6.3 10l11.6 2l-6.3 -9.9z"/>
<path fill="#00bdfc" d="M308.2 880.3l6.3 9.8l11.5 0.8l-6.3 -9.7z"/>
<path fill="#009bff" d="M326 890.9l6.4 9.6l11.5 -0.4l-6.5 -9.5z"/>
<path fill="#007dff" d="M343.9 900.1l6.5 9.4l11.4 -1.6l-6.6 -9.3z"/>
<path fill="#1573ff" d="M361.8 907.9l6.6 9.2l11.3 -2.8l-6.6 -9.1z"/>
<path fill="#2e75ff" d="M379.7 914.3l6.7 9l11.3 -4l-6.7 -8.8z"/>
<path fill="#457eff" d="M397.7 919.3l6.9 8.8l11.3 -5.1l-6.9 -8.6z"/>
<path fill="#5a8aff" d="M415.9 923l6.9 8.6l11.3 -6.3l-7 -8.4z"/>
<path fill="#6b99ff" d="M434.1 925.3l7.1 8.3l11.3 -7.5l-7.1 -8.1z"/>
<path fill="#729e00" d="M170 755.6l5.8 11.3l12.6 10.7l-5.8 -11.2z"/>
<path fill="#3fa800" d="M188.4 777.6l5.7 11.1l12.5 9.3l-5.8 -10.9z"/>
<path fill="#09b200" d="M206.6 798l5.8 11l12.3 8l-5.9 -10.8z"/>
<path fill="#00bd2f" d="M224.7 817l5.9 10.7l12.1 6.8l-5.9 -10.6z"/>
<path fill="#00c968" d="M242.7 834.5l6 10.5l12 5.5l-6 -10.4z"/>
<path fill="#00d5a2" d="M260.7 850.5l6.1 10.4l11.8 4.2l-6.1 -10.2z"/>
<path fill="#00e2dd" d="M278.6 865.1l6.2 10.2l11.8 3l-6.3 -10z"/>
<path fill="#00c7ef" d="M296.6 878.3l6.2 10l11.7 1.8l-6.3 -9.8z"/>
<path fill="#00a9fd" d="M314.5 890.1l6.3 9.8l11.6 0.6l-6.4 -9.6z"/>
<path fill="#0087ff" d="M332.4 900.5l6.5 9.6l11.5 -0.6l-6.5 -9.4z"/>
<path fill="#006bff" d="M350.4 909.5l6.5 9.3l11.5 -1.7l-6.6 -9.2z"/>
<path fill="#1865ff" d="M368.4 917.1l6.6 9.1l11.4 -2.9l-6.7 -9z"/>
<path fill="#316aff" d="M386.4 923.3l6.8 8.9l11.4 -4.1l-6.9 -8.8z"/>
<path fill="#4875ff" d="M404.6 928.1l6.9 8.8l11.3 -5.3l-6.9 -8.6z"/>
<path fill="#5c83ff" d="M422.8 931.6l7 8.5l11.4 -6.5l-7.1 -8.3z"/>
<path fill="#609f00" d="M175.8 766.9l5.7 11.2l12.6 10.6l-5.7 -11.1z"/>
<path fill="#2ca900" d="M194.1 788.7l5.9 11.1l12.4 9.2l-5.8 -11z"/>
<path fill="#00b30b" d="M212.4 809l5.9 10.8l12.3 7.9l-5.9 -10.7z"/>
<path fill="#00be43" d="M230.6 827.7l6 10.7l12.1 6.6l-6 -10.5z"/>
<path fill="#00ca7c" d="M248.7 845l6.1 10.5l12 5.4l-6.1 -10.4z"/>
<path fill="#00d6b7" d="M266.8 860.9l6.1 10.3l11.9 4.1l-6.2 -10.2z"/>
<path fill="#00d4e3" d="M284.8 875.3l6.3 10.1l11.7 2.9l-6.2 -10z"/>
<path fill="#00b4f1" d="M302.8 888.3l6.4 9.9l11.6 1.7l-6.3 -9.8z"/>
<path fill="#0096fe" d="M320.8 899.9l6.5 9.7l11.6 0.5l-6.5 -9.6z"/>
<path fill="#0074ff" d="M338.9 910.1l6.5 9.5l11.5 -0.8l-6.5 -9.3z"/>
<path fill="#015aff" d="M356.9 918.8l6.7 9.3l11.4 -1.9l-6.6 -9.1z"/>
<path fill="#1b59ff" d="M375 926.2l6.8 9.1l11.4 -3.1l-6.8 -8.9z"/>
<path fill="#3460ff" d="M393.2 932.2l6.9 8.9l11.4 -4.2l-6.9 -8.8z"/>
<path fill="#4b6dff" d="M411.5 936.9l7 8.6l11.3 -5.4l-7 -8.5z"/>
<path fill="#4ea000" d="M181.5 778.1l5.9 11.2l12.6 10.5l-5.9 -11.1z"/>
<path fill="#19aa00" d="M200 799.8l5.9 11l12.4 9l-5.9 -10.8z"/>
<path fill="#00b41e" d="M218.3 819.8l6 10.8l12.3 7.8l-6 -10.7z"/>
<path fill="#00bf56" d="M236.6 838.4l6 10.6l12.2 6.5l-6.1 -10.5z"/>
<path fill="#00cb91" d="M254.8 855.5l6.1 10.5l12 5.2l-6.1 -10.3z"/>
<path fill="#00d7cc" d="M272.9 871.2l6.3 10.2l11.9 4l-6.3 -10.1z"/>
<path fill="#00c1e5" d="M291.1 885.4l6.3 10.1l11.8 2.7l-6.4 -9.9z"/>
<path fill="#00a1f2" d="M309.2 898.2l6.4 9.9l11.7 1.5l-6.5 -9.7z"/>
<path fill="#0083ff" d="M327.3 909.6l6.5 9.6l11.6 0.4l-6.5 -9.5z"/>
<path fill="#0062ff" d="M345.4 919.6l6.6 9.4l11.6 -0.9l-6.7 -9.3z"/>
<path fill="#044bff" d="M363.6 928.1l6.7 9.3l11.5 -2.1l-6.8 -9.1z"/>
<path fill="#1e4dff" d="M381.8 935.3l6.8 9.1l11.5 -3.3l-6.9 -8.9z"/>
<path fill="#3757ff" d="M400.1 941.1l6.9 8.8l11.5 -4.4l-7 -8.6z"/>
<path fill="#3ca100" d="M187.4 789.3l5.8 11.2l12.7 10.3l-5.9 -11z"/>
<path fill="#07aa00" d="M205.9 810.8l5.9 10.9l12.5 8.9l-6 -10.8z"/>
<path fill="#00b531" d="M224.3 830.6l6 10.8l12.3 7.6l-6 -10.6z"/>
<path fill="#00c06a" d="M242.6 849l6.1 10.6l12.2 6.4l-6.1 -10.5z"/>
<path fill="#00cca4" d="M260.9 866l6.2 10.4l12.1 5l-6.3 -10.2z"/>
<path fill="#00d1d9" d="M279.2 881.4l6.2 10.2l12 3.9l-6.3 -10.1z"/>
<path fill="#00afe6" d="M297.4 895.5l6.3 10l11.9 2.6l-6.4 -9.9z"/>
<path fill="#008ff3" d="M315.6 908.1l6.4 9.8l11.8 1.3l-6.5 -9.6z"/>
<path fill="#0070ff" d="M333.8 919.2l6.5 9.6l11.7 0.2l-6.6 -9.4z"/>
<path fill="#0050ff" d="M352 929l6.7 9.4l11.6 -1l-6.7 -9.3z"/>
<path fill="#073dff" d="M370.3 937.4l6.7 9.2l11.6 -2.2l-6.8 -9.1z"/>
<path fill="#2142ff" d="M388.6 944.4l6.9 9l11.5 -3.5l-6.9 -8.8z"/>
<path fill="#2ba200" d="M193.2 800.5l5.9 11l12.7 10.2l-5.9 -10.9z"/>
<path fill="#00ab0b" d="M211.8 821.7l6 10.9l12.5 8.8l-6 -10.8z"/>
<path fill="#00b643" d="M230.3 841.4l6.1 10.7l12.3 7.5l-6.1 -10.6z"/>
<path fill="#00c17d" d="M248.7 859.6l6.2 10.5l12.2 6.3l-6.2 -10.4z"/>
<path fill="#00cdb8" d="M267.1 876.4l6.3 10.3l12 4.9l-6.2 -10.2z"/>
<path fill="#00c0da" d="M285.4 891.6l6.4 10.2l11.9 3.7l-6.3 -10z"/>
<path fill="#009ee7" d="M303.7 905.5l6.5 9.9l11.8 2.5l-6.4 -9.8z"/>
<path fill="#007df5" d="M322 917.9l6.6 9.7l11.7 1.2l-6.5 -9.6z"/>
<path fill="#005eff" d="M340.3 928.8l6.7 9.6l11.7 0l-6.7 -9.4z"/>
<path fill="#0040ff" d="M358.7 938.4l6.7 9.4l11.6 -1.2l-6.7 -9.2z"/>
<path fill="#0a31ff" d="M377 946.6l6.9 9.1l11.6 -2.3l-6.9 -9z"/>
<path fill="#1aa200" d="M199.1 811.5l6 11.1l12.7 10l-6 -10.9z"/>
<path fill="#00ac1d" d="M217.8 832.6l6.1 10.8l12.5 8.7l-6.1 -10.7z"/>
<path fill="#00b755" d="M236.4 852.1l6.1 10.7l12.4 7.3l-6.2 -10.5z"/>
<path fill="#00c28f" d="M254.9 870.1l6.2 10.5l12.3 6.1l-6.3 -10.3z"/>
<path fill="#00cecb" d="M273.4 886.7l6.3 10.3l12.1 4.8l-6.4 -10.2z"/>
<path fill="#00afdb" d="M291.8 901.8l6.4 10.1l12 3.5l-6.5 -9.9z"/>
<path fill="#008de8" d="M310.2 915.4l6.5 9.9l11.9 2.3l-6.6 -9.7z"/>
<path fill="#006cf6" d="M328.6 927.6l6.6 9.7l11.8 1.1l-6.7 -9.6z"/>
<path fill="#004dff" d="M347 938.4l6.7 9.5l11.7 -0.1l-6.7 -9.4z"/>
<path fill="#0030ff" d="M365.4 947.8l6.8 9.3l11.7 -1.4l-6.9 -9.1z"/>
<path fill="#09a300" d="M205.1 822.6l6.1 10.9l12.7 9.9l-6.1 -10.8z"/>
<path fill="#00ad2e" d="M223.9 843.4l6.1 10.8l12.5 8.6l-6.1 -10.7z"/>
<path fill="#00b867" d="M242.5 862.8l6.2 10.6l12.4 7.2l-6.2 -10.5z"/>
<path fill="#00c3a2" d="M261.1 880.6l6.3 10.4l12.3 6l-6.3 -10.3z"/>
<path fill="#00c1cf" d="M279.7 897l6.3 10.2l12.2 4.7l-6.4 -10.1z"/>
<path fill="#009edc" d="M298.2 911.9l6.4 10l12.1 3.4l-6.5 -9.9z"/>
<path fill="#007cea" d="M316.7 925.3l6.5 9.8l12 2.2l-6.6 -9.7z"/>
<path fill="#005cf8" d="M335.2 937.3l6.6 9.6l11.9 1l-6.7 -9.5z"/>
<path fill="#003cff" d="M353.7 947.9l6.8 9.4l11.7 -0.2l-6.8 -9.3z"/>
<path fill="#00a408" d="M211.2 833.5l6.1 11l12.7 9.7l-6.1 -10.8z"/>
<path fill="#00ae3f" d="M230 854.2l6.2 10.7l12.5 8.5l-6.2 -10.6z"/>
<path fill="#00b978" d="M248.7 873.4l6.3 10.5l12.4 7.1l-6.3 -10.4z"/>
<path fill="#00c4b3" d="M267.4 891l6.4 10.4l12.2 5.8l-6.3 -10.2z"/>
<path fill="#00b2d1" d="M286 907.2l6.5 10.2l12.1 4.5l-6.4 -10z"/>
<path fill="#008ede" d="M304.6 921.9l6.6 10l12 3.2l-6.5 -9.8z"/>
<path fill="#006ceb" d="M323.2 935.1l6.7 9.8l11.9 2l-6.6 -9.6z"/>
<path fill="#004bf9" d="M341.8 946.9l6.8 9.6l11.9 0.8l-6.8 -9.4z"/>
<path fill="#00a518" d="M217.3 844.5l6.1 10.8l12.8 9.6l-6.2 -10.7z"/>
<path fill="#00af50" d="M236.2 864.9l6.2 10.7l12.6 8.3l-6.3 -10.5z"/>
<path fill="#00ba89" d="M255 883.9l6.3 10.5l12.5 7l-6.4 -10.4z"/>
<path fill="#00c5c5" d="M273.8 901.4l6.4 10.3l12.3 5.7l-6.5 -10.2z"/>
<path fill="#00a2d2" d="M292.5 917.4l6.5 10.1l12.2 4.4l-6.6 -10z"/>
<path fill="#007fdf" d="M311.2 931.9l6.6 9.9l12.1 3.1l-6.7 -9.8z"/>
<path fill="#005cec" d="M329.9 944.9l6.7 9.8l12 1.8l-6.8 -9.6z"/>
<path fill="#00a628" d="M223.4 855.3l6.2 10.8l12.8 9.5l-6.2 -10.7z"/>
<path fill="#00b060" d="M242.4 875.6l6.3 10.7l12.6 8.1l-6.3 -10.5z"/>
<path fill="#00bb9a" d="M261.3 894.4l6.4 10.5l12.5 6.8l-6.4 -10.3z"/>
<path fill="#00b7c7" d="M280.2 911.7l6.5 10.2l12.3 5.6l-6.5 -10.1z"/>
<path fill="#0093d3" d="M299 927.5l6.6 10l12.2 4.3l-6.6 -9.9z"/>
<path fill="#0070e0" d="M317.8 941.8l6.7 9.9l12.1 3l-6.7 -9.8z"/>
<path fill="#00a638" d="M229.6 866.1l6.3 10.8l12.8 9.4l-6.3 -10.7z"/>
<path fill="#00b170" d="M248.7 886.3l6.4 10.5l12.6 8.1l-6.4 -10.5z"/>
<path fill="#00bcaa" d="M267.7 904.9l6.5 10.4l12.5 6.6l-6.5 -10.2z"/>
<path fill="#00a9c8" d="M286.7 921.9l6.5 10.3l12.4 5.3l-6.6 -10z"/>
<path fill="#0084d4" d="M305.6 937.5l6.6 10.1l12.3 4.1l-6.7 -9.9z"/>
<path fill="#00a747" d="M235.9 876.9l6.3 10.7l12.9 9.2l-6.4 -10.5z"/>
<path fill="#00b280" d="M255.1 896.8l6.4 10.6l12.7 7.9l-6.5 -10.4z"/>
<path fill="#00bdba" d="M274.2 915.3l6.5 10.3l12.5 6.6l-6.5 -10.3z"/>
<path fill="#009bc9" d="M293.2 932.2l6.7 10.1l12.3 5.3l-6.6 -10.1z"/>
<path fill="#00a856" d="M242.2 887.6l6.4 10.7l12.9 9.1l-6.4 -10.6z"/>
<path fill="#00b38f" d="M261.5 907.4l6.5 10.4l12.7 7.8l-6.5 -10.3z"/>
<path fill="#00b2be" d="M280.7 925.6l6.6 10.3l12.6 6.4l-6.7 -10.1z"/>
<path fill="#00a964" d="M248.6 898.3l6.5 10.6l12.9 8.9l-6.5 -10.4z"/>
<path fill="#00b49e" d="M268 917.8l6.6 10.5l12.7 7.6l-6.6 -10.3z"/>
<path fill="#00aa72" d="M255.1 908.9l6.6 10.5l12.9 8.9l-6.6 -10.5z"/>
</g>
<line x1="184.1" y1="766.2" x2="185" y2="783.4" stroke="#000" stroke-width="1.3"/>
<circle cx="116" cy="653.2" r="4.5" fill="#ffc8c8" stroke="#000" stroke-width="1.1"/>
<circle cx="257" cy="696.4" r="4.5" fill="#be0000" stroke="#000" stroke-width="1.1"/>
<circle cx="184.1" cy="766.2" r="4.5" fill="#be0000" stroke="#000" stroke-width="1.1"/>
<circle cx="330.1" cy="824.2" r="4.5" fill="#be0000" stroke="#000" stroke-width="1.1"/>
<circle cx="330.6" cy="828.5" r="4.5" fill="#be0000" stroke="#000" stroke-width="1.1"/>
<circle cx="553.7" cy="811" r="4.5" fill="#be0000" stroke="#000" stroke-width="1.1"/>
<circle cx="262.4" cy="928.7" r="4.5" fill="#ffc8c8" stroke="#000" stroke-width="1.1"/>
<circle cx="412.8" cy="942.3" r="4.5" fill="#be0000" stroke="#000" stroke-width="1.1"/>
<text x="103.5" y="623.2" font-size="22.5" text-anchor="end" textLength="11.1" lengthAdjust="spacingAndGlyphs">8</text>
<text x="106.2" y="684.4" font-size="22.5" text-anchor="end" textLength="11.1" lengthAdjust="spacingAndGlyphs">6</text>
<text x="109" y="745.7" font-size="22.5" text-anchor="end" textLength="11.1" lengthAdjust="spacingAndGlyphs">4</text>
<text x="111.7" y="807" font-size="22.5" text-anchor="end" textLength="11.1" lengthAdjust="spacingAndGlyphs">2</text>
<text x="114.4" y="868.3" font-size="22.5" text-anchor="end" textLength="11.1" lengthAdjust="spacingAndGlyphs">0</text>
<text x="107.4" y="975.8" font-size="22.5" text-anchor="middle" textLength="22.1" lengthAdjust="spacingAndGlyphs">70</text>
<text x="141.3" y="1013.5" font-size="22.5" text-anchor="middle" textLength="22.1" lengthAdjust="spacingAndGlyphs">75</text>
<text x="175.2" y="1051.2" font-size="22.5" text-anchor="middle" textLength="22.1" lengthAdjust="spacingAndGlyphs">80</text>
<text x="209.1" y="1088.9" font-size="22.5" text-anchor="middle" textLength="22.1" lengthAdjust="spacingAndGlyphs">85</text>
<text x="243" y="1126.7" font-size="22.5" text-anchor="middle" textLength="22.1" lengthAdjust="spacingAndGlyphs">90</text>
<text x="293.9" y="1126.7" font-size="22.5" text-anchor="middle" textLength="33.2" lengthAdjust="spacingAndGlyphs">120</text>
<text x="339.3" y="1111.4" font-size="22.5" text-anchor="middle" textLength="31.7" lengthAdjust="spacingAndGlyphs">110</text>
<text x="384.7" y="1096.1" font-size="22.5" text-anchor="middle" textLength="33.2" lengthAdjust="spacingAndGlyphs">100</text>
<text x="430.1" y="1080.8" font-size="22.5" text-anchor="middle" textLength="22.1" lengthAdjust="spacingAndGlyphs">90</text>
<text x="475.4" y="1065.5" font-size="22.5" text-anchor="middle" textLength="22.1" lengthAdjust="spacingAndGlyphs">80</text>
<text x="520.8" y="1050.2" font-size="22.5" text-anchor="middle" textLength="22.1" lengthAdjust="spacingAndGlyphs">70</text>
<text x="566.2" y="1034.9" font-size="22.5" text-anchor="middle" textLength="22.1" lengthAdjust="spacingAndGlyphs">60</text>
<text x="52" y="805.5" font-size="19.5" text-anchor="middle" transform="rotate(-90 52 798.5)" textLength="47" lengthAdjust="spacingAndGlyphs">ΔE (-)</text>
<text x="98.1" y="1068.8" font-size="19.5" text-anchor="middle" textLength="155.2" lengthAdjust="spacingAndGlyphs">B: Temperature (°C)</text>
<text x="465.4" y="1127.8" font-size="19.5" text-anchor="middle" textLength="110.8" lengthAdjust="spacingAndGlyphs">A: Weight (gr)</text>
<text x="35.5" y="1137.8" font-size="33" text-anchor="middle">c</text></g>
<g id="p_d"><polygon points="688.7,969.7 928.5,1103.3 1150.7,961.8 914.5,856" fill="#646464" stroke="#000" stroke-width="1.8" stroke-linejoin="round"/>
<polyline points="746.1,940.8 745.2,943.1 744.4,945.3 743.7,947.5 743.1,949.6 742.6,951.4 742.3,953.3 741.9,955.2 741.7,957.2 741.5,959.2 741.4,961.3 741.3,963.4 741.4,965.6 741.5,967.5 741.7,969.3 742,971.1 742.3,972.9 742.8,975.1 743.6,977.7 744.3,979.7 744.9,981.4 745.7,983.3 747.1,986.2 747.9,987.7 749.1,989.6 750.8,992.3 751.8,993.7 754.1,996.6 755.3,998 757.9,1000.7 759.2,1002.1 762.1,1004.7 765.1,1007.2 766.7,1008.5 770,1010.9 773.6,1013.2 777.3,1015.5 781.2,1017.6 785.3,1019.7 789.6,1021.6 792.9,1023 796.4,1024.4 801.2,1026.1 804.9,1027.3 808.7,1028.5 813.7,1029.9 816.8,1030.7 821.2,1031.7 825.3,1032.6 828.3,1033.1 834,1034.1 837.6,1034.6 840.8,1035.1 845.3,1035.6 850.5,1036.1 854.3,1036.4 857.9,1036.7 861.5,1036.9 865.3,1037 869.4,1037.2 873.7,1037.2 877.9,1037.2 882.1,1037.1 886.1,1037 890,1036.9 893.9,1036.6 898.3,1036.3 902.9,1036 907.7,1035.5 912.1,1035 915.5,1034.6 918.9,1034.1 922.9,1033.5 928.3,1032.7 931.9,1032 935,1031.5 939.8,1030.5 944.1,1029.6 947,1028.9 952.5,1027.6 955.6,1026.8 959.4,1025.8 963.9,1024.6 966.9,1023.7 971.8,1022.2 975,1021.1 979.4,1019.7 984.1,1018 986.7,1017 991.4,1015.2 994.9,1013.8 998.3,1012.4 1002.7,1010.4 1007,1008.4 1009.4,1007.3 1013.2,1005.4 1017.3,1003.3 1021.2,1001.2 1025,999 1028.7,996.8 1032.2,994.6 1035.7,992.3 1039.1,990 1042.4,987.7 1045.5,985.3 1047.1,984.1 1050.1,981.7 1053,979.2 1055.7,976.7 1057.1,975.5 1059.7,972.9 1062.2,970.4 1063.5,969.1 1065.8,966.4 1066.9,965.1 1069.1,962.4 1070.4,960.8 1072.2,958.4 1073.2,956.8 1074.9,954.2 1075.8,952.8 1077.5,950 1078.2,948.5 1079.2,946.5 1080.3,944.2 1081,942.7 1081.8,940.6 1082.6,938.2 1083.1,936.7 1083.6,935.1 1084.2,932.6 1084.3,932" fill="none" stroke="#14e61e" stroke-width="2.5"/>
<polyline points="807.6,909.9 805.1,912.1 803.3,913.8 801.3,915.8 799.8,917.3 797.7,919.7 796.5,921.1 794.5,923.6 793.3,925.3 792.3,926.7 790.6,929.3 789.5,931.2 788.7,932.7 787.8,934.4 786.7,936.8 785.7,939.1 785.1,940.8 784.5,942.6 784.1,944.3 783.6,946.1 783.3,948 783,949.9 782.8,951.9 782.8,953.9 782.8,956 782.9,958.1 783.2,960.4 783.7,962.7 784.2,964.7 784.7,966.4 785.3,968.1 786.3,970.4 787.5,972.8 788.4,974.4 789.8,976.6 791.4,978.8 792.5,980.2 795,982.9 796.6,984.5 799.1,986.8 802.2,989.3 804.3,990.8 807.2,992.8 810.9,995 814.8,997 818.9,999 822.1,1000.4 825.5,1001.7 830.3,1003.4 834,1004.5 837.8,1005.6 842.1,1006.7 846,1007.5 849,1008.1 854.9,1009.1 858,1009.6 861.2,1010 865.8,1010.5 870.7,1010.9 874.7,1011.1 878.4,1011.3 882.1,1011.3 886,1011.4 889.9,1011.3 894,1011.2 898.2,1011 902.6,1010.8 907.1,1010.4 910.7,1010 914.1,1009.7 917.4,1009.2 921.8,1008.6 927,1007.8 930.1,1007.2 933.1,1006.7 938.8,1005.5 941.8,1004.8 945.3,1003.9 950.1,1002.7 952.7,1001.9 957.9,1000.4 960.5,999.6 965.4,998 969.2,996.6 972.5,995.4 977.1,993.6 980.8,992 983.6,990.8 987.8,988.8 991.9,986.8 995.8,984.8 999.6,982.7 1003.2,980.5 1006.7,978.3 1010.1,976.1 1013.4,973.8 1016.5,971.4 1019.5,969 1020.9,967.8 1023.7,965.4 1026.4,962.9 1027.7,961.6 1030.2,959.1 1031.7,957.3 1033.6,955.1 1035.2,953 1036.7,951.1 1037.9,949.3 1039.4,946.9 1040.3,945.5 1041.8,942.7 1042.5,941.1 1043.2,939.7 1044.3,936.9 1044.9,935.1 1045.4,933.6 1045.9,931.8 1046.4,929.4 1046.7,927.2 1046.9,925.6 1047,923.9 1047,922.2 1047,920.5 1046.9,918.7 1046.7,916.8 1046.4,915.1" fill="none" stroke="#96f000" stroke-width="2.5"/>
<polyline points="935.1,865.4 931.9,865.6 928.7,865.8 925.4,866 921.3,866.4 917,866.8 913.8,867.2 911,867.6 907.8,868 902.9,868.8 900.3,869.3 897.6,869.8 892.7,870.8 890.3,871.3 885.5,872.4 883.1,873 878.5,874.3 878.4,874.3" fill="none" stroke="#96f000" stroke-width="2.5"/>
<polyline points="834.1,968.2 836.8,970.6 840.1,972.9 843.6,975.1 847.5,977.1 851.6,978.9 856.2,980.6 860.6,982 863.6,982.8 868.2,983.8 871.8,984.5 874.8,985 879.8,985.6 884.3,986 887.7,986.2 891.3,986.4 895,986.4 898.9,986.4 902.9,986.3 907.1,986 911.6,985.7 915.6,985.2 918.8,984.8 922,984.4 926.7,983.5 930.9,982.7 933.7,982.1 939.1,980.8 941.7,980.1 946.6,978.6 949.2,977.8 954,976.1 956.2,975.3 960.6,973.5 964.9,971.6 968.9,969.7 972.8,967.7 976.4,965.6 979.9,963.5 983.2,961.2 986.4,958.9 989.3,956.6 991,955.2 993.4,952.9 995.9,950.4 997.1,949.1 999.3,946.4 1000.3,945.1 1002.2,942.3 1003.1,940.9 1004,939.2 1005.3,936.5 1005.9,935 1006.5,933.5 1007.1,931.2 1007.6,928.9 1007.8,927 1007.9,925.3 1007.9,923.5 1007.8,921.7 1007.5,919.8 1007.1,917.9 1006.5,915.9 1005.7,913.8 1005,912.3 1004.1,910.7 1003.2,909.3 1001.3,906.7 1000,905.2 998.6,903.8 996.1,901.5 994.4,900.2 991.6,898.2 988.3,896.2 984.8,894.4 980.9,892.7 976.9,891.1 972.6,889.7 968.6,888.6 965.6,887.9 961.5,887 957.9,886.4 955.2,886 950.8,885.6 946.4,885.2 943.3,885 940.1,884.9 936.7,884.9 933.2,884.9 929.6,885 925.7,885.2 921.7,885.5 918.3,885.8 915.3,886.2 912.5,886.6 907.9,887.3 904.4,887.9 901.8,888.4 896.8,889.5 894.3,890.1 889.6,891.4 887.3,892.1 882.9,893.5 880.3,894.3 876.5,895.7 872.4,897.3 868.5,899 864.7,900.8 861.1,902.6 857.6,904.5 854.2,906.5 850.9,908.6 847.8,910.7 846.3,911.8 843.4,914.1 840.6,916.5 839.3,917.7 836.7,920.2 835.5,921.5 833.3,924 832.1,925.5 831,927 829.2,929.8 828.3,931.3 827.5,932.8 826.6,935 825.6,937.3 825,939.4 824.6,941.1 824.3,942.9 824.1,944.8 824,946.8 824.1,948.8 824.3,950.9 824.7,953.2 825.2,954.9 825.8,956.5 826.5,958.2 828.1,961 829.2,962.6 830.4,964.2 832.6,966.8 834.1,968.2 834.1,968.2" fill="none" stroke="#ffdc00" stroke-width="2.5"/>
<polyline points="850.2,1059.7 854.5,1059.9 858.4,1060 862.3,1060.1 866.4,1060.1 870.5,1060.1 874.7,1060 878.9,1059.8 883.3,1059.7 887.8,1059.4 892.3,1059.1 896.3,1058.8 900,1058.5 903.7,1058.1 907.3,1057.8 911.7,1057.3 916.8,1056.6 921.3,1055.9 924.7,1055.4 928,1054.9 933.2,1054 937.7,1053.2 940.8,1052.6 945,1051.7 950.1,1050.6 953.1,1049.9 957.8,1048.8 961.8,1047.7 964.7,1047 970.3,1045.5 973.1,1044.7 978.5,1043 981.2,1042.2 986.4,1040.5 989,1039.6 994,1037.9 997.2,1036.7 1001.4,1035.1 1006.2,1033.3 1008.6,1032.3 1013.2,1030.4 1017.7,1028.4 1020.3,1027.2 1024.3,1025.4 1028.6,1023.3 1032.7,1021.2 1036.8,1019.1 1040,1017.3 1042.7,1015.8 1046.5,1013.6 1050.3,1011.3 1053.9,1009.1 1057.4,1006.8 1060.9,1004.4 1064.2,1002.1 1065.9,1000.9 1069.1,998.5 1072.2,996.1 1075.2,993.6 1078.2,991.1 1079.6,989.9 1082.4,987.4 1085.1,984.8 1087.1,982.9 1089,981 1091.5,978.4 1092.7,977 1095,974.4 1097,972 1098.3,970.4 1100.4,967.7 1101.4,966.3 1103.3,963.6 1104.2,962.2 1106,959.5 1106.9,958 1108.1,955.9 1109.2,953.7 1110,952.2 1111.4,949.3 1112,947.9 1112.7,946.2 1113.2,944.9" fill="none" stroke="#00f0aa" stroke-width="2.5"/>
<polyline points="706.6,960.6 706.3,962.6 706.1,964.6 705.9,966.6 705.8,968.5 705.7,970.5 705.7,972.4 705.8,974.7 706,977 706.3,979.4 706.3,979.4" fill="none" stroke="#00f0aa" stroke-width="2.5"/>
<polyline points="890.1,1081.9 893.9,1081.6 897.7,1081.3 901.7,1080.9 906.8,1080.3 911.9,1079.7 915.9,1079.2 919.4,1078.7 922.9,1078.1 928.1,1077.3 933.1,1076.5 936.4,1075.9 939.6,1075.3 945.6,1074.1 949.2,1073.3 952.4,1072.7 958.3,1071.3 961.5,1070.5 964.9,1069.7 970.4,1068.3 973.3,1067.5 979,1065.9 981.8,1065.1 986.8,1063.6 990.1,1062.6 994.9,1061 994.9,1061" fill="none" stroke="#1e9bff" stroke-width="2.5"/>
<path d="M688.7 969.7L668.1 665.2M722.3 880.1L709.1 650.7M760.7 862.2L750.1 636.1M799.1 844.3L791 621.5M837.5 826.3L832 607M876 808.4L873 592.5M914.5 856L914 577.9M914.5 856L914 577.9M974.7 815.5L978.3 598.2M1035 840.5L1042.6 618.5M1095.2 865.5L1106.9 638.9M1150.7 961.8L1171.2 659.2M668.1 665.2L914 577.9L1171.2 659.2M671.2 711.7L914.1 620.4L1168.1 705.4M674.4 758.2L914.2 662.8L1164.9 751.6M677.5 804.8L914.2 705.4L1161.8 797.9M680.7 851.1L914.3 747.7L1158.7 843.9M683.8 898L914.4 790.5L1155.5 890.5" fill="none" stroke="#000" stroke-width="1.25"/>
<circle cx="668.1" cy="665.2" r="2.3"/>
<circle cx="671.2" cy="711.7" r="2.3"/>
<circle cx="674.4" cy="758.2" r="2.3"/>
<circle cx="677.5" cy="804.8" r="2.3"/>
<circle cx="680.7" cy="851.1" r="2.3"/>
<circle cx="683.8" cy="898" r="2.3"/>
<circle cx="688.7" cy="969.7" r="2.3"/>
<circle cx="748.7" cy="1003.1" r="2.3"/>
<circle cx="808.6" cy="1036.5" r="2.3"/>
<circle cx="868.5" cy="1069.9" r="2.3"/>
<circle cx="928.5" cy="1103.3" r="2.3"/>
<circle cx="928.5" cy="1103.3" r="2.3"/>
<circle cx="965.5" cy="1079.7" r="2.3"/>
<circle cx="1002.6" cy="1056.1" r="2.3"/>
<circle cx="1039.6" cy="1032.5" r="2.3"/>
<circle cx="1076.6" cy="1009" r="2.3"/>
<circle cx="1113.7" cy="985.4" r="2.3"/>
<circle cx="1150.7" cy="961.8" r="2.3"/>
<circle cx="800.7" cy="719.4" r="4.5" fill="#be0000" stroke="#000" stroke-width="1.1"/>
<circle cx="1032.4" cy="711.5" r="4.5" fill="#be0000" stroke="#000" stroke-width="1.1"/>
<circle cx="1159.5" cy="833.3" r="4.5" fill="#ffc8c8" stroke="#000" stroke-width="1.1"/>
<g stroke="#000" stroke-width="1.05" stroke-linejoin="round">
<path fill="#79f500" d="M905.7 685.6l8.9 -1l8.6 -0.7l-9 1z"/>
<path fill="#93f900" d="M897.1 686.8l9 -1.1l8.5 -1.1l-8.9 1z"/>
<path fill="#9ff700" d="M914.6 684.6l9.1 -0.5l8.5 -0.7l-9 0.5z"/>
<path fill="#aafe00" d="M888.4 688.2l9 -1.1l8.7 -1.4l-9 1.1z"/>
<path fill="#bafb00" d="M906.1 685.7l9 -0.6l8.6 -1l-9.1 0.5z"/>
<path fill="#c0f900" d="M923.7 684.1l9.2 0l8.5 -0.7l-9.2 0z"/>
<path fill="#bdff00" d="M879.6 690.1l9 -1.2l8.8 -1.8l-9 1.1z"/>
<path fill="#d1ff00" d="M897.4 687.1l9 -0.5l8.7 -1.5l-9 0.6z"/>
<path fill="#dcfd00" d="M915.1 685.1l9.2 0l8.6 -1l-9.2 0z"/>
<path fill="#dcfa00" d="M932.9 684.1l9.2 0.6l8.5 -0.7l-9.2 -0.6z"/>
<path fill="#cbff00" d="M870.8 692.3l8.9 -1.2l8.9 -2.2l-9 1.2z"/>
<path fill="#e3ff00" d="M888.6 688.9l9.1 -0.5l8.7 -1.8l-9 0.5z"/>
<path fill="#f2ff00" d="M906.4 686.6l9.2 -0.1l8.7 -1.4l-9.2 0z"/>
<path fill="#f9ff00" d="M924.3 685.1l9.2 0.6l8.6 -1l-9.2 -0.6z"/>
<path fill="#f4fc00" d="M942.1 684.7l9.4 1.1l8.5 -0.6l-9.4 -1.2z"/>
<path fill="#d6ff00" d="M861.8 694.9l9 -1.2l8.9 -2.6l-8.9 1.2z"/>
<path fill="#f2ff00" d="M879.7 691.1l9.1 -0.6l8.9 -2.1l-9.1 0.5z"/>
<path fill="#fff900" d="M897.7 688.4l9.1 -0.1l8.8 -1.8l-9.2 0.1z"/>
<path fill="#ffef00" d="M915.6 686.5l9.3 0.6l8.6 -1.4l-9.2 -0.6z"/>
<path fill="#ffee00" d="M933.5 685.7l9.4 1.1l8.6 -1l-9.4 -1.1z"/>
<path fill="#fdf400" d="M951.5 685.8l9.4 1.7l8.5 -0.6l-9.4 -1.7z"/>
<path fill="#dfff02" d="M852.8 697.8l9 -1.2l9 -2.9l-9 1.2z"/>
<path fill="#fdff00" d="M870.8 693.7l9.1 -0.6l8.9 -2.6l-9.1 0.6z"/>
<path fill="#ffeb00" d="M888.8 690.5l9.2 0l8.8 -2.2l-9.1 0.1z"/>
<path fill="#ffdd00" d="M906.8 688.3l9.3 0.5l8.8 -1.7l-9.3 -0.6z"/>
<path fill="#ffd800" d="M924.9 687.1l9.3 1.1l8.7 -1.4l-9.4 -1.1z"/>
<path fill="#ffdc00" d="M942.9 686.8l9.4 1.7l8.6 -1l-9.4 -1.7z"/>
<path fill="#fee800" d="M960.9 687.5l9.5 2.3l8.5 -0.6l-9.5 -2.3z"/>
<path fill="#e4ff0a" d="M843.7 701.2l9 -1.2l9.1 -3.4l-9 1.2z"/>
<path fill="#fff905" d="M861.8 696.6l9 -0.6l9.1 -2.9l-9.1 0.6z"/>
<path fill="#ffdf00" d="M879.9 693.1l9.1 -0.1l9 -2.5l-9.2 0z"/>
<path fill="#ffce00" d="M898 690.5l9.2 0.5l8.9 -2.2l-9.3 -0.5z"/>
<path fill="#ffc600" d="M916.1 688.8l9.4 1.1l8.7 -1.7l-9.3 -1.1z"/>
<path fill="#ffc600" d="M934.2 688.2l9.5 1.7l8.6 -1.4l-9.4 -1.7z"/>
<path fill="#ffcf00" d="M952.3 688.5l9.5 2.3l8.6 -1l-9.5 -2.3z"/>
<path fill="#ffe100" d="M970.4 689.8l9.6 2.8l8.4 -0.6l-9.5 -2.8z"/>
<path fill="#e7ff12" d="M834.6 704.9l8.9 -1.2l9.2 -3.7l-9 1.2z"/>
<path fill="#fff40e" d="M852.7 700l9 -0.7l9.1 -3.3l-9 0.6z"/>
<path fill="#ffd808" d="M870.8 696l9.2 -0.1l9 -2.9l-9.1 0.1z"/>
<path fill="#ffc202" d="M889 693l9.3 0.5l8.9 -2.5l-9.2 -0.5z"/>
<path fill="#ffb600" d="M907.2 691l9.4 1.1l8.9 -2.2l-9.4 -1.1z"/>
<path fill="#ffb300" d="M925.5 689.9l9.4 1.7l8.8 -1.7l-9.5 -1.7z"/>
<path fill="#ffb900" d="M943.7 689.9l9.5 2.2l8.6 -1.3l-9.5 -2.3z"/>
<path fill="#ffc700" d="M961.8 690.8l9.6 2.8l8.6 -1l-9.6 -2.8z"/>
<path fill="#ffdf00" d="M980 692.6l9.7 3.5l8.4 -0.6l-9.7 -3.5z"/>
<path fill="#e6ff1a" d="M825.3 709l8.9 -1.2l9.3 -4.1l-8.9 1.2z"/>
<path fill="#fff316" d="M843.5 703.7l9 -0.7l9.2 -3.7l-9 0.7z"/>
<path fill="#ffd411" d="M861.7 699.3l9.2 -0.1l9.1 -3.3l-9.2 0.1z"/>
<path fill="#ffbc0b" d="M880 695.9l9.3 0.5l9 -2.9l-9.3 -0.5z"/>
<path fill="#ffab03" d="M898.3 693.5l9.4 1.1l8.9 -2.5l-9.4 -1.1z"/>
<path fill="#ffa400" d="M916.6 692.1l9.5 1.6l8.8 -2.1l-9.4 -1.7z"/>
<path fill="#ffa600" d="M934.9 691.6l9.5 2.2l8.8 -1.7l-9.5 -2.2z"/>
<path fill="#ffb100" d="M953.2 692.1l9.6 2.8l8.6 -1.3l-9.6 -2.8z"/>
<path fill="#ffc500" d="M971.4 693.6l9.7 3.4l8.6 -0.9l-9.7 -3.5z"/>
<path fill="#ffe100" d="M989.7 696.1l9.7 4l8.4 -0.6l-9.7 -4z"/>
<path fill="#e3ff22" d="M816 713.6l8.9 -1.3l9.3 -4.5l-8.9 1.2z"/>
<path fill="#fff41e" d="M834.2 707.8l9 -0.7l9.3 -4.1l-9 0.7z"/>
<path fill="#ffd419" d="M852.5 703l9.2 -0.1l9.2 -3.7l-9.2 0.1z"/>
<path fill="#ffb913" d="M870.9 699.2l9.2 0.5l9.2 -3.3l-9.3 -0.5z"/>
<path fill="#ffa60d" d="M889.3 696.4l9.3 1.1l9.1 -2.9l-9.4 -1.1z"/>
<path fill="#ff9905" d="M907.7 694.6l9.4 1.6l9 -2.5l-9.5 -1.6z"/>
<path fill="#ff9600" d="M926.1 693.7l9.5 2.2l8.8 -2.1l-9.5 -2.2z"/>
<path fill="#ff9e00" d="M944.4 693.8l9.7 2.9l8.7 -1.8l-9.6 -2.8z"/>
<path fill="#ffae00" d="M962.8 694.9l9.7 3.5l8.6 -1.4l-9.7 -3.4z"/>
<path fill="#ffc700" d="M981.1 697l9.8 4.1l8.5 -1l-9.7 -4z"/>
<path fill="#ffe800" d="M999.4 700.1l9.8 4.6l8.4 -0.6l-9.8 -4.6z"/>
<path fill="#ddff29" d="M806.6 718.5l8.9 -1.3l9.4 -4.9l-8.9 1.3z"/>
<path fill="#fff926" d="M824.9 712.3l9 -0.7l9.3 -4.5l-9 0.7z"/>
<path fill="#ffd621" d="M843.2 707.1l9.2 -0.1l9.3 -4.1l-9.2 0.1z"/>
<path fill="#ffba1c" d="M861.7 702.9l9.2 0.5l9.2 -3.7l-9.2 -0.5z"/>
<path fill="#ffa416" d="M880.1 699.7l9.4 1.1l9.1 -3.3l-9.3 -1.1z"/>
<path fill="#ff940e" d="M898.6 697.5l9.5 1.6l9 -2.9l-9.4 -1.6z"/>
<path fill="#ff8c06" d="M917.1 696.2l9.6 2.2l8.9 -2.5l-9.5 -2.2z"/>
<path fill="#ff8d00" d="M935.6 695.9l9.6 2.9l8.9 -2.1l-9.7 -2.9z"/>
<path fill="#ff9a00" d="M954.1 696.7l9.7 3.4l8.7 -1.7l-9.7 -3.5z"/>
<path fill="#ffb000" d="M972.5 698.4l9.8 4l8.6 -1.3l-9.8 -4.1z"/>
<path fill="#ffce00" d="M990.9 701.1l9.8 4.6l8.5 -1l-9.8 -4.6z"/>
<path fill="#fff500" d="M1009.2 704.7l9.9 5.3l8.3 -0.6l-9.8 -5.3z"/>
<path fill="#d5ff30" d="M797.1 723.8l8.9 -1.2l9.5 -5.4l-8.9 1.3z"/>
<path fill="#ffff2d" d="M815.5 717.2l9 -0.6l9.4 -5l-9 0.7z"/>
<path fill="#ffdb29" d="M833.9 711.6l9.1 -0.1l9.4 -4.5l-9.2 0.1z"/>
<path fill="#ffbd24" d="M852.4 707l9.2 0.5l9.3 -4.1l-9.2 -0.5z"/>
<path fill="#ffa51e" d="M870.9 703.4l9.4 1l9.2 -3.6l-9.4 -1.1z"/>
<path fill="#ff9317" d="M889.5 700.8l9.5 1.6l9.1 -3.3l-9.5 -1.6z"/>
<path fill="#ff870f" d="M908.1 699.1l9.5 2.2l9.1 -2.9l-9.6 -2.2z"/>
<path fill="#ff8306" d="M926.7 698.4l9.6 2.9l8.9 -2.5l-9.6 -2.9z"/>
<path fill="#ff8a00" d="M945.2 698.8l9.8 3.4l8.8 -2.1l-9.7 -3.4z"/>
<path fill="#ff9c00" d="M963.8 700.1l9.8 4l8.7 -1.7l-9.8 -4z"/>
<path fill="#ffb600" d="M982.3 702.4l9.8 4.6l8.6 -1.3l-9.8 -4.6z"/>
<path fill="#ffda00" d="M1000.7 705.7l9.9 5.3l8.5 -1l-9.9 -5.3z"/>
<path fill="#f8ff00" d="M1019.1 710l9.9 5.8l8.3 -0.6l-9.9 -5.8z"/>
<path fill="#cbff37" d="M787.6 729.5l8.8 -1.2l9.6 -5.7l-8.9 1.2z"/>
<path fill="#f6ff35" d="M806 722.6l9 -0.7l9.5 -5.3l-9 0.6z"/>
<path fill="#ffe331" d="M824.5 716.6l9.1 -0.2l9.4 -4.9l-9.1 0.1z"/>
<path fill="#ffc32d" d="M843 711.5l9.3 0.5l9.3 -4.5l-9.2 -0.5z"/>
<path fill="#ffa927" d="M861.6 707.5l9.4 1l9.3 -4.1l-9.4 -1z"/>
<path fill="#ff9420" d="M880.3 704.4l9.5 1.7l9.2 -3.7l-9.5 -1.6z"/>
<path fill="#ff8618" d="M899 702.4l9.5 2.2l9.1 -3.3l-9.5 -2.2z"/>
<path fill="#ff7f10" d="M917.6 701.3l9.7 2.9l9 -2.9l-9.6 -2.9z"/>
<path fill="#ff7f06" d="M936.3 701.3l9.7 3.4l9 -2.5l-9.8 -3.4z"/>
<path fill="#ff8b00" d="M955 702.2l9.8 4l8.8 -2.1l-9.8 -4z"/>
<path fill="#ffa200" d="M973.6 704.1l9.8 4.7l8.7 -1.8l-9.8 -4.6z"/>
<path fill="#ffc200" d="M992.1 707l9.9 5.3l8.6 -1.3l-9.9 -5.3z"/>
<path fill="#ffeb00" d="M1010.6 711l10 5.8l8.4 -1l-9.9 -5.8z"/>
<path fill="#e1fe00" d="M1029 715.8l10 6.5l8.3 -0.6l-10 -6.5z"/>
<path fill="#c0ff3e" d="M778 735.7l8.8 -1.2l9.6 -6.2l-8.8 1.2z"/>
<path fill="#ecff3c" d="M796.4 728.3l9 -0.7l9.6 -5.7l-9 0.7z"/>
<path fill="#ffec38" d="M815 721.9l9.1 -0.1l9.5 -5.4l-9.1 0.2z"/>
<path fill="#ffcb34" d="M833.6 716.4l9.2 0.5l9.5 -4.9l-9.3 -0.5z"/>
<path fill="#ffaf2f" d="M852.3 712l9.3 1l9.4 -4.5l-9.4 -1z"/>
<path fill="#ff9929" d="M871 708.5l9.5 1.7l9.3 -4.1l-9.5 -1.7z"/>
<path fill="#ff8821" d="M889.8 706.1l9.5 2.2l9.2 -3.7l-9.5 -2.2z"/>
<path fill="#ff7e19" d="M908.5 704.6l9.7 2.8l9.1 -3.2l-9.7 -2.9z"/>
<path fill="#ff7b0f" d="M927.3 704.2l9.7 3.4l9 -2.9l-9.7 -3.4z"/>
<path fill="#ff8005" d="M946 704.7l9.8 4l9 -2.5l-9.8 -4z"/>
<path fill="#ff9100" d="M964.8 706.2l9.8 4.7l8.8 -2.1l-9.8 -4.7z"/>
<path fill="#ffae00" d="M983.4 708.8l10 5.2l8.6 -1.7l-9.9 -5.3z"/>
<path fill="#ffd300" d="M1002 712.3l10 5.9l8.6 -1.4l-10 -5.8z"/>
<path fill="#fdff00" d="M1020.6 716.8l10 6.5l8.4 -1l-10 -6.5z"/>
<path fill="#c5fd00" d="M1039 722.3l10 7.1l8.3 -0.7l-10 -7z"/>
<path fill="#b2ff44" d="M768.3 742.3l8.8 -1.3l9.7 -6.5l-8.8 1.2z"/>
<path fill="#dfff42" d="M786.8 734.5l8.9 -0.7l9.7 -6.2l-9 0.7z"/>
<path fill="#fff740" d="M805.4 727.6l9.1 -0.1l9.6 -5.7l-9.1 0.1z"/>
<path fill="#ffd53c" d="M824.1 721.8l9.2 0.4l9.5 -5.3l-9.2 -0.5z"/>
<path fill="#ffb837" d="M842.8 716.9l9.4 1l9.4 -4.9l-9.3 -1z"/>
<path fill="#ffa031" d="M861.6 713l9.5 1.7l9.4 -4.5l-9.5 -1.7z"/>
<path fill="#ff8d2a" d="M880.5 710.2l9.5 2.2l9.3 -4.1l-9.5 -2.2z"/>
<path fill="#ff8022" d="M899.3 708.3l9.7 2.8l9.2 -3.7l-9.7 -2.8z"/>
<path fill="#ff7a19" d="M918.2 707.4l9.7 3.5l9.1 -3.3l-9.7 -3.4z"/>
<path fill="#ff7b0e" d="M937 707.6l9.8 4l9 -2.9l-9.8 -4z"/>
<path fill="#ff8503" d="M955.8 708.7l9.9 4.7l8.9 -2.5l-9.8 -4.7z"/>
<path fill="#ff9d00" d="M974.6 710.9l10 5.2l8.8 -2.1l-10 -5.2z"/>
<path fill="#ffbf00" d="M993.4 714l10 5.9l8.6 -1.7l-10 -5.9z"/>
<path fill="#ffe900" d="M1012 718.2l10.1 6.4l8.5 -1.3l-10 -6.5z"/>
<path fill="#e2ff00" d="M1030.6 723.3l10 7.1l8.4 -1l-10 -7.1z"/>
<path fill="#a4fc00" d="M1049 729.4l10.1 7.7l8.3 -0.7l-10.1 -7.7z"/>
<path fill="#a4ff4a" d="M758.5 749.2l8.8 -1.2l9.8 -7l-8.8 1.3z"/>
<path fill="#d2ff49" d="M777.1 741l8.9 -0.7l9.7 -6.5l-8.9 0.7z"/>
<path fill="#faff46" d="M795.7 733.8l9.1 -0.1l9.7 -6.2l-9.1 0.1z"/>
<path fill="#ffe043" d="M814.5 727.5l9.2 0.5l9.6 -5.8l-9.2 -0.4z"/>
<path fill="#ffc23f" d="M833.3 722.2l9.3 1.1l9.6 -5.4l-9.4 -1z"/>
<path fill="#ffa939" d="M852.2 717.9l9.4 1.7l9.5 -4.9l-9.5 -1.7z"/>
<path fill="#ff9433" d="M871.1 714.7l9.5 2.2l9.4 -4.5l-9.5 -2.2z"/>
<path fill="#ff852b" d="M890 712.4l9.7 2.8l9.3 -4.1l-9.7 -2.8z"/>
<path fill="#ff7c22" d="M909 711.1l9.7 3.5l9.2 -3.7l-9.7 -3.5z"/>
<path fill="#ff7a18" d="M927.9 710.9l9.8 4l9.1 -3.3l-9.8 -4z"/>
<path fill="#ff800d" d="M946.8 711.6l9.9 4.7l9 -2.9l-9.9 -4.7z"/>
<path fill="#ff8f01" d="M965.7 713.4l10 5.3l8.9 -2.6l-10 -5.2z"/>
<path fill="#ffad00" d="M984.6 716.1l10 5.9l8.8 -2.1l-10 -5.9z"/>
<path fill="#ffd400" d="M1003.4 719.9l10 6.5l8.7 -1.8l-10.1 -6.4z"/>
<path fill="#faff00" d="M1022.1 724.6l10.1 7.2l8.4 -1.4l-10 -7.1z"/>
<path fill="#c2ff00" d="M1040.6 730.4l10.2 7.7l8.3 -1l-10.1 -7.7z"/>
<path fill="#7ffb00" d="M1059.1 737.1l10.2 8.3l8.2 -0.7l-10.1 -8.3z"/>
<path fill="#94ff4f" d="M748.7 756.6l8.8 -1.2l9.8 -7.4l-8.8 1.2z"/>
<path fill="#c3ff4f" d="M767.3 748l8.9 -0.7l9.8 -7l-8.9 0.7z"/>
<path fill="#ecff4d" d="M786 740.3l9.1 -0.1l9.7 -6.5l-9.1 0.1z"/>
<path fill="#ffed4a" d="M804.8 733.7l9.2 0.4l9.7 -6.1l-9.2 -0.5z"/>
<path fill="#ffce46" d="M823.7 728l9.3 1l9.6 -5.7l-9.3 -1.1z"/>
<path fill="#ffb341" d="M842.6 723.3l9.5 1.6l9.5 -5.3l-9.4 -1.7z"/>
<path fill="#ff9d3b" d="M861.6 719.6l9.6 2.2l9.4 -4.9l-9.5 -2.2z"/>
<path fill="#ff8d33" d="M880.6 716.9l9.7 2.8l9.4 -4.5l-9.7 -2.8z"/>
<path fill="#ff812b" d="M899.7 715.2l9.7 3.5l9.3 -4.1l-9.7 -3.5z"/>
<path fill="#ff7c21" d="M918.7 714.6l9.9 4l9.1 -3.7l-9.8 -4z"/>
<path fill="#ff7e16" d="M937.7 714.9l10 4.7l9 -3.3l-9.9 -4.7z"/>
<path fill="#ff890b" d="M956.7 716.3l10 5.3l9 -2.9l-10 -5.3z"/>
<path fill="#ff9f00" d="M975.7 718.7l10 5.8l8.9 -2.5l-10 -5.9z"/>
<path fill="#ffc300" d="M994.6 722l10.1 6.5l8.7 -2.1l-10 -6.5z"/>
<path fill="#ffef00" d="M1013.4 726.4l10.1 7.1l8.7 -1.7l-10.1 -7.2z"/>
<path fill="#daff00" d="M1032.2 731.8l10.1 7.7l8.5 -1.4l-10.2 -7.7z"/>
<path fill="#9dff00" d="M1050.8 738.1l10.1 8.3l8.4 -1l-10.2 -8.3z"/>
<path fill="#54fa00" d="M1069.3 745.4l10.2 8.9l8.1 -0.6l-10.1 -9z"/>
<path fill="#83ff55" d="M738.9 764.5l8.7 -1.2l9.9 -7.9l-8.8 1.2z"/>
<path fill="#b3ff54" d="M757.5 755.4l8.9 -0.6l9.8 -7.5l-8.9 0.7z"/>
<path fill="#ddff53" d="M776.2 747.3l9.1 0l9.8 -7.1l-9.1 0.1z"/>
<path fill="#fffc50" d="M795.1 740.2l9.2 0.5l9.7 -6.6l-9.2 -0.4z"/>
<path fill="#ffdc4d" d="M814 734.1l9.3 1.1l9.7 -6.2l-9.3 -1z"/>
<path fill="#ffc048" d="M833 729l9.5 1.7l9.6 -5.8l-9.5 -1.6z"/>
<path fill="#ffa943" d="M852.1 724.9l9.5 2.3l9.6 -5.4l-9.6 -2.2z"/>
<path fill="#ff963c" d="M871.2 721.8l9.6 2.9l9.5 -5l-9.7 -2.8z"/>
<path fill="#ff8833" d="M890.3 719.7l9.8 3.5l9.3 -4.5l-9.7 -3.5z"/>
<path fill="#ff812a" d="M909.4 718.7l9.9 4l9.3 -4.1l-9.9 -4z"/>
<path fill="#ff8020" d="M928.6 718.6l9.9 4.7l9.2 -3.7l-10 -4.7z"/>
<path fill="#ff8714" d="M947.7 719.6l10 5.3l9 -3.3l-10 -5.3z"/>
<path fill="#ff9708" d="M966.7 721.6l10.1 5.9l8.9 -3l-10 -5.8z"/>
<path fill="#ffb400" d="M985.7 724.5l10.2 6.6l8.8 -2.6l-10.1 -6.5z"/>
<path fill="#ffdd00" d="M1004.7 728.5l10.1 7.2l8.7 -2.2l-10.1 -7.1z"/>
<path fill="#f0ff00" d="M1023.5 733.5l10.2 7.8l8.6 -1.8l-10.1 -7.7z"/>
<path fill="#b5ff00" d="M1042.3 739.5l10.2 8.4l8.4 -1.5l-10.1 -8.3z"/>
<path fill="#72fe00" d="M1060.9 746.4l10.3 9l8.3 -1.1l-10.2 -8.9z"/>
<path fill="#26f800" d="M1079.5 754.3l10.2 9.6l8.1 -0.7l-10.2 -9.5z"/>
<path fill="#71ff5a" d="M729 772.7l8.7 -1.2l9.9 -8.2l-8.7 1.2z"/>
<path fill="#a2ff5a" d="M747.6 763.3l8.9 -0.7l9.9 -7.8l-8.9 0.6z"/>
<path fill="#cdff59" d="M766.4 754.8l9 -0.1l9.9 -7.4l-9.1 0z"/>
<path fill="#f3ff57" d="M785.3 747.3l9.1 0.4l9.9 -7l-9.2 -0.5z"/>
<path fill="#ffea54" d="M804.3 740.7l9.3 1.1l9.7 -6.6l-9.3 -1.1z"/>
<path fill="#ffcd4f" d="M823.3 735.2l9.5 1.7l9.7 -6.2l-9.5 -1.7z"/>
<path fill="#ffb54a" d="M842.5 730.7l9.5 2.2l9.6 -5.7l-9.5 -2.3z"/>
<path fill="#ffa143" d="M861.6 727.2l9.7 2.8l9.5 -5.3l-9.6 -2.9z"/>
<path fill="#ff923c" d="M880.8 724.7l9.8 3.4l9.5 -4.9l-9.8 -3.5z"/>
<path fill="#ff8833" d="M900.1 723.2l9.8 4.1l9.4 -4.6l-9.9 -4z"/>
<path fill="#ff8429" d="M919.3 722.7l9.9 4.7l9.3 -4.1l-9.9 -4.7z"/>
<path fill="#ff881e" d="M938.5 723.3l10 5.3l9.2 -3.7l-10 -5.3z"/>
<path fill="#ff9412" d="M957.7 724.9l10 5.9l9.1 -3.3l-10.1 -5.9z"/>
<path fill="#ffab05" d="M976.8 727.5l10.1 6.5l9 -2.9l-10.2 -6.6z"/>
<path fill="#ffce00" d="M995.9 731.1l10.1 7.1l8.8 -2.5l-10.1 -7.2z"/>
<path fill="#fffc00" d="M1014.8 735.7l10.2 7.8l8.7 -2.2l-10.2 -7.8z"/>
<path fill="#cbff00" d="M1033.7 741.3l10.3 8.4l8.5 -1.8l-10.2 -8.4z"/>
<path fill="#8cff00" d="M1052.5 747.9l10.3 9l8.4 -1.5l-10.3 -9z"/>
<path fill="#43fd00" d="M1071.2 755.4l10.2 9.6l8.3 -1.1l-10.2 -9.6z"/>
<path fill="#00f60d" d="M1089.7 763.9l10.2 10.2l8.1 -0.7l-10.2 -10.2z"/>
<path fill="#5eff5f" d="M719 781.4l8.7 -1.2l10 -8.7l-8.7 1.2z"/>
<path fill="#90ff5f" d="M737.7 771.5l8.8 -0.6l10 -8.3l-8.9 0.7z"/>
<path fill="#bcff5e" d="M756.5 762.6l9 0l9.9 -7.9l-9 0.1z"/>
<path fill="#e2ff5c" d="M775.4 754.7l9.2 0.5l9.8 -7.5l-9.1 -0.4z"/>
<path fill="#fffa5a" d="M794.4 747.7l9.3 1.1l9.9 -7l-9.3 -1.1z"/>
<path fill="#ffdc56" d="M813.6 741.8l9.4 1.7l9.8 -6.6l-9.5 -1.7z"/>
<path fill="#ffc351" d="M832.8 736.9l9.5 2.2l9.7 -6.2l-9.5 -2.2z"/>
<path fill="#ffae4b" d="M852 732.9l9.6 2.9l9.7 -5.8l-9.7 -2.8z"/>
<path fill="#ff9d44" d="M871.3 730l9.7 3.5l9.6 -5.4l-9.8 -3.4z"/>
<path fill="#ff913b" d="M890.6 728.1l9.8 4.1l9.5 -4.9l-9.8 -4.1z"/>
<path fill="#ff8b31" d="M909.9 727.3l9.9 4.7l9.4 -4.6l-9.9 -4.7z"/>
<path fill="#ff8c27" d="M929.2 727.4l10 5.3l9.3 -4.1l-10 -5.3z"/>
<path fill="#ff941b" d="M948.5 728.6l10.1 5.9l9.1 -3.7l-10 -5.9z"/>
<path fill="#ffa60f" d="M967.7 730.8l10.2 6.6l9 -3.4l-10.1 -6.5z"/>
<path fill="#ffc302" d="M986.9 734l10.2 7.2l8.9 -3l-10.1 -7.1z"/>
<path fill="#ffed00" d="M1006 738.2l10.3 7.8l8.7 -2.5l-10.2 -7.8z"/>
<path fill="#ddff00" d="M1025 743.5l10.3 8.4l8.7 -2.2l-10.3 -8.4z"/>
<path fill="#a1ff00" d="M1044 749.7l10.2 9l8.6 -1.8l-10.3 -9z"/>
<path fill="#5dff00" d="M1062.8 756.9l10.2 9.6l8.4 -1.5l-10.2 -9.6z"/>
<path fill="#0ffb00" d="M1081.4 765l10.3 10.3l8.2 -1.2l-10.2 -10.2z"/>
<path fill="#00f544" d="M1099.9 774.1l10.3 10.9l8.1 -0.8l-10.3 -10.8z"/>
<path fill="#63ff7c" d="M709 790.5l8.6 -1.1l10.1 -9.2l-8.7 1.2z"/>
<path fill="#7dff63" d="M727.7 780.2l8.8 -0.6l10 -8.7l-8.8 0.6z"/>
<path fill="#aaff63" d="M746.5 770.9l9 0l10 -8.3l-9 0z"/>
<path fill="#d1ff62" d="M765.5 762.6l9.1 0.5l10 -7.9l-9.2 -0.5z"/>
<path fill="#f4ff60" d="M784.6 755.2l9.2 1.1l9.9 -7.5l-9.3 -1.1z"/>
<path fill="#ffec5c" d="M803.7 748.8l9.4 1.7l9.9 -7l-9.4 -1.7z"/>
<path fill="#ffd258" d="M823 743.5l9.5 2.2l9.8 -6.6l-9.5 -2.2z"/>
<path fill="#ffbc52" d="M842.3 739.1l9.6 2.9l9.7 -6.2l-9.6 -2.9z"/>
<path fill="#ffaa4b" d="M861.6 735.8l9.8 3.5l9.6 -5.8l-9.7 -3.5z"/>
<path fill="#ff9c43" d="M881 733.5l9.9 4.1l9.5 -5.4l-9.8 -4.1z"/>
<path fill="#ff943a" d="M900.4 732.2l10 4.7l9.4 -4.9l-9.9 -4.7z"/>
<path fill="#ff922f" d="M919.8 732l10.1 5.3l9.3 -4.6l-10 -5.3z"/>
<path fill="#ff9724" d="M939.2 732.7l10.1 6l9.3 -4.2l-10.1 -5.9z"/>
<path fill="#ffa518" d="M958.6 734.5l10.1 6.6l9.2 -3.7l-10.2 -6.6z"/>
<path fill="#ffbd0b" d="M977.9 737.4l10.2 7.2l9 -3.4l-10.2 -7.2z"/>
<path fill="#ffe200" d="M997.1 741.2l10.3 7.8l8.9 -3l-10.3 -7.8z"/>
<path fill="#edff00" d="M1016.3 746l10.2 8.5l8.8 -2.6l-10.3 -8.4z"/>
<path fill="#b4ff00" d="M1035.3 751.9l10.3 9l8.6 -2.2l-10.2 -9z"/>
<path fill="#73ff00" d="M1054.2 758.7l10.4 9.7l8.4 -1.9l-10.2 -9.6z"/>
<path fill="#29ff00" d="M1073 766.5l10.4 10.3l8.3 -1.5l-10.3 -10.3z"/>
<path fill="#00f929" d="M1091.7 775.3l10.3 10.8l8.2 -1.1l-10.3 -10.9z"/>
<path fill="#00f37f" d="M1110.2 785l10.3 11.4l8 -0.8l-10.2 -11.4z"/>
<path fill="#67ff99" d="M698.9 800.1l8.6 -1.2l10.1 -9.5l-8.6 1.1z"/>
<path fill="#69ff68" d="M717.6 789.4l8.8 -0.6l10.1 -9.2l-8.8 0.6z"/>
<path fill="#97ff68" d="M736.5 779.6l8.9 0l10.1 -8.7l-9 0z"/>
<path fill="#bfff67" d="M755.5 770.9l9.1 0.5l10 -8.3l-9.1 -0.5z"/>
<path fill="#e2ff65" d="M774.6 763.1l9.3 1.1l9.9 -7.9l-9.2 -1.1z"/>
<path fill="#fffd62" d="M793.8 756.3l9.4 1.7l9.9 -7.5l-9.4 -1.7z"/>
<path fill="#ffe25e" d="M813.1 750.5l9.5 2.3l9.9 -7.1l-9.5 -2.2z"/>
<path fill="#ffcb59" d="M832.5 745.7l9.6 2.9l9.8 -6.6l-9.6 -2.9z"/>
<path fill="#ffb853" d="M851.9 742l9.8 3.5l9.7 -6.2l-9.8 -3.5z"/>
<path fill="#ffa94b" d="M871.4 739.3l9.9 4.1l9.6 -5.8l-9.9 -4.1z"/>
<path fill="#ff9f42" d="M890.9 737.6l9.9 4.7l9.6 -5.4l-10 -4.7z"/>
<path fill="#ff9a38" d="M910.4 736.9l10 5.4l9.5 -5l-10.1 -5.3z"/>
<path fill="#ff9d2d" d="M929.9 737.3l10.1 6l9.3 -4.6l-10.1 -6z"/>
<path fill="#ffa721" d="M949.3 738.7l10.2 6.6l9.2 -4.2l-10.1 -6.6z"/>
<path fill="#ffbb14" d="M968.7 741.1l10.3 7.2l9.1 -3.7l-10.2 -7.2z"/>
<path fill="#ffda07" d="M988.1 744.6l10.3 7.8l9 -3.4l-10.3 -7.8z"/>
<path fill="#f9ff00" d="M1007.4 749l10.3 8.5l8.8 -3l-10.2 -8.5z"/>
<path fill="#c4ff00" d="M1026.5 754.5l10.4 9.1l8.7 -2.7l-10.3 -9z"/>
<path fill="#86ff00" d="M1045.6 760.9l10.4 9.7l8.6 -2.2l-10.4 -9.7z"/>
<path fill="#3fff00" d="M1064.6 768.4l10.3 10.3l8.5 -1.9l-10.4 -10.3z"/>
<path fill="#00fd10" d="M1083.4 776.8l10.3 10.9l8.3 -1.6l-10.3 -10.8z"/>
<path fill="#00f765" d="M1102 786.1l10.4 11.5l8.1 -1.2l-10.3 -11.4z"/>
<path fill="#00f1bd" d="M1120.5 796.4l10.3 12.1l8 -0.9l-10.3 -12z"/>
<path fill="#6bffb7" d="M688.8 810.1l8.6 -1.1l10.1 -10.1l-8.6 1.2z"/>
<path fill="#6cff84" d="M707.5 798.9l8.8 -0.5l10.1 -9.6l-8.8 0.6z"/>
<path fill="#83ff6c" d="M726.4 788.8l8.9 0l10.1 -9.2l-8.9 0z"/>
<path fill="#acff6c" d="M745.4 779.6l9.1 0.6l10.1 -8.8l-9.1 -0.5z"/>
<path fill="#d0ff6a" d="M764.6 771.4l9.2 1.2l10.1 -8.4l-9.3 -1.1z"/>
<path fill="#f0ff68" d="M783.9 764.2l9.3 1.7l10 -7.9l-9.4 -1.7z"/>
<path fill="#fff264" d="M803.2 758l9.5 2.3l9.9 -7.5l-9.5 -2.3z"/>
<path fill="#ffdb60" d="M822.6 752.8l9.7 2.9l9.8 -7.1l-9.6 -2.9z"/>
<path fill="#ffc75a" d="M842.1 748.6l9.8 3.6l9.8 -6.7l-9.8 -3.5z"/>
<path fill="#ffb752" d="M861.7 745.5l9.8 4.1l9.8 -6.2l-9.9 -4.1z"/>
<path fill="#ffab4a" d="M881.3 743.4l9.9 4.7l9.6 -5.8l-9.9 -4.7z"/>
<path fill="#ffa540" d="M900.8 742.3l10.1 5.4l9.5 -5.4l-10 -5.4z"/>
<path fill="#ffa535" d="M920.4 742.3l10.1 6l9.5 -5l-10.1 -6z"/>
<path fill="#ffac29" d="M940 743.3l10.2 6.6l9.3 -4.6l-10.2 -6.6z"/>
<path fill="#ffbc1d" d="M959.5 745.3l10.3 7.2l9.2 -4.2l-10.3 -7.2z"/>
<path fill="#ffd610" d="M979 748.3l10.3 7.9l9.1 -3.8l-10.3 -7.8z"/>
<path fill="#fffd02" d="M998.4 752.4l10.3 8.5l9 -3.4l-10.3 -8.5z"/>
<path fill="#d0ff00" d="M1017.7 757.5l10.3 9.1l8.9 -3l-10.4 -9.1z"/>
<path fill="#95ff00" d="M1036.9 763.6l10.4 9.7l8.7 -2.7l-10.4 -9.7z"/>
<path fill="#52ff00" d="M1056 770.6l10.4 10.4l8.5 -2.3l-10.3 -10.3z"/>
<path fill="#07ff00" d="M1074.9 778.7l10.4 10.9l8.4 -1.9l-10.3 -10.9z"/>
<path fill="#00fb4d" d="M1093.7 787.7l10.4 11.5l8.3 -1.6l-10.4 -11.5z"/>
<path fill="#00f5a4" d="M1112.4 797.6l10.3 12.2l8.1 -1.3l-10.3 -12.1z"/>
<path fill="#00deef" d="M1130.8 808.5l10.4 12.7l7.9 -0.9l-10.3 -12.7z"/>
<path fill="#6effd4" d="M678.6 820.5l8.6 -1.1l10.2 -10.4l-8.6 1.1z"/>
<path fill="#70ffa1" d="M697.4 809l8.7 -0.6l10.2 -10l-8.8 0.5z"/>
<path fill="#70ff72" d="M716.3 798.4l8.9 0l10.1 -9.6l-8.9 0z"/>
<path fill="#99ff70" d="M735.3 788.8l9.1 0.6l10.1 -9.2l-9.1 -0.6z"/>
<path fill="#beff6f" d="M754.5 780.2l9.2 1.1l10.1 -8.7l-9.2 -1.2z"/>
<path fill="#deff6d" d="M773.8 772.6l9.4 1.7l10 -8.4l-9.3 -1.7z"/>
<path fill="#faff6a" d="M793.2 765.9l9.5 2.4l10 -8l-9.5 -2.3z"/>
<path fill="#ffeb66" d="M812.7 760.3l9.6 2.9l10 -7.5l-9.7 -2.9z"/>
<path fill="#ffd760" d="M832.3 755.7l9.7 3.6l9.9 -7.1l-9.8 -3.6z"/>
<path fill="#ffc659" d="M851.9 752.2l9.8 4.1l9.8 -6.7l-9.8 -4.1z"/>
<path fill="#ffb951" d="M871.5 749.6l10 4.8l9.7 -6.3l-9.9 -4.7z"/>
<path fill="#ffb148" d="M891.2 748.1l10.1 5.4l9.6 -5.8l-10.1 -5.4z"/>
<path fill="#ffae3d" d="M910.9 747.7l10.1 6l9.5 -5.4l-10.1 -6z"/>
<path fill="#ffb332" d="M930.5 748.3l10.2 6.6l9.5 -5l-10.2 -6.6z"/>
<path fill="#ffc026" d="M950.2 749.9l10.2 7.3l9.4 -4.7l-10.3 -7.2z"/>
<path fill="#ffd619" d="M969.8 752.5l10.3 7.9l9.2 -4.2l-10.3 -7.9z"/>
<path fill="#fff70b" d="M989.3 756.2l10.3 8.5l9.1 -3.8l-10.3 -8.5z"/>
<path fill="#d9ff00" d="M1008.7 760.9l10.4 9.1l8.9 -3.4l-10.3 -9.1z"/>
<path fill="#a2ff00" d="M1028 766.6l10.4 9.8l8.9 -3.1l-10.4 -9.7z"/>
<path fill="#62ff00" d="M1047.3 773.3l10.4 10.4l8.7 -2.7l-10.4 -10.4z"/>
<path fill="#1aff00" d="M1066.4 781l10.4 10.9l8.5 -2.3l-10.4 -10.9z"/>
<path fill="#00ff37" d="M1085.3 789.6l10.4 11.6l8.4 -2l-10.4 -11.5z"/>
<path fill="#00f98d" d="M1104.1 799.2l10.4 12.2l8.2 -1.6l-10.3 -12.2z"/>
<path fill="#00f3e8" d="M1122.7 809.8l10.4 12.7l8.1 -1.3l-10.4 -12.7z"/>
<path fill="#0095ed" d="M1141.2 821.2l10.3 13.4l7.9 -1l-10.3 -13.3z"/>
<path fill="#73ffbe" d="M687.2 819.4l8.6 -0.5l10.3 -10.5l-8.7 0.6z"/>
<path fill="#74ff8f" d="M706.1 808.4l8.8 0.1l10.3 -10.1l-8.9 0z"/>
<path fill="#85ff74" d="M725.2 798.4l9 0.6l10.2 -9.6l-9.1 -0.6z"/>
<path fill="#abff74" d="M744.4 789.4l9.2 1.2l10.1 -9.3l-9.2 -1.1z"/>
<path fill="#ccff72" d="M763.7 781.3l9.3 1.8l10.2 -8.8l-9.4 -1.7z"/>
<path fill="#e8ff6f" d="M783.2 774.3l9.4 2.4l10.1 -8.4l-9.5 -2.4z"/>
<path fill="#fffd6b" d="M802.7 768.3l9.6 2.9l10 -8l-9.6 -2.9z"/>
<path fill="#ffe766" d="M822.3 763.2l9.8 3.6l9.9 -7.5l-9.7 -3.6z"/>
<path fill="#ffd660" d="M842 759.3l9.9 4.1l9.8 -7.1l-9.8 -4.1z"/>
<path fill="#ffc858" d="M861.7 756.3l10 4.8l9.8 -6.7l-10 -4.8z"/>
<path fill="#ffbe4f" d="M881.5 754.4l10 5.4l9.8 -6.3l-10.1 -5.4z"/>
<path fill="#ffba45" d="M901.3 753.5l10.1 6.1l9.6 -5.9l-10.1 -6z"/>
<path fill="#ffbc3a" d="M921 753.7l10.2 6.7l9.5 -5.5l-10.2 -6.6z"/>
<path fill="#ffc62e" d="M940.7 754.9l10.3 7.3l9.4 -5l-10.2 -7.3z"/>
<path fill="#ffd821" d="M960.4 757.2l10.4 7.9l9.3 -4.7l-10.3 -7.9z"/>
<path fill="#fff514" d="M980.1 760.4l10.3 8.6l9.2 -4.3l-10.3 -8.5z"/>
<path fill="#e0ff06" d="M999.6 764.7l10.4 9.2l9.1 -3.9l-10.4 -9.1z"/>
<path fill="#abff00" d="M1019.1 770l10.4 9.8l8.9 -3.4l-10.4 -9.8z"/>
<path fill="#6fff00" d="M1038.4 776.4l10.5 10.4l8.8 -3.1l-10.4 -10.4z"/>
<path fill="#2aff00" d="M1057.7 783.7l10.4 11l8.7 -2.8l-10.4 -10.9z"/>
<path fill="#00ff23" d="M1076.8 791.9l10.4 11.7l8.5 -2.4l-10.4 -11.6z"/>
<path fill="#00fd79" d="M1095.7 801.2l10.5 12.2l8.3 -2l-10.4 -12.2z"/>
<path fill="#00f7d2" d="M1114.5 811.4l10.4 12.8l8.2 -1.7l-10.4 -12.7z"/>
<path fill="#00b4f1" d="M1133.1 822.5l10.4 13.4l8 -1.3l-10.3 -13.4z"/>
<path fill="#78ffac" d="M695.8 818.9l8.9 0.1l10.2 -10.5l-8.8 -0.1z"/>
<path fill="#78ff80" d="M714.9 808.5l9 0.6l10.3 -10.1l-9 -0.6z"/>
<path fill="#97ff78" d="M734.2 799l9.1 1.3l10.3 -9.7l-9.2 -1.2z"/>
<path fill="#b9ff77" d="M753.6 790.6l9.3 1.8l10.1 -9.3l-9.3 -1.8z"/>
<path fill="#d6ff74" d="M773 783.1l9.5 2.4l10.1 -8.8l-9.4 -2.4z"/>
<path fill="#f0ff71" d="M792.6 776.7l9.6 2.9l10.1 -8.4l-9.6 -2.9z"/>
<path fill="#fff86c" d="M812.3 771.2l9.7 3.6l10.1 -8l-9.8 -3.6z"/>
<path fill="#ffe666" d="M832.1 766.8l9.8 4.2l10 -7.6l-9.9 -4.1z"/>
<path fill="#ffd75f" d="M851.9 763.4l9.9 4.9l9.9 -7.2l-10 -4.8z"/>
<path fill="#ffcd56" d="M871.7 761.1l10 5.4l9.8 -6.7l-10 -5.4z"/>
<path fill="#ffc74d" d="M891.5 759.8l10.2 6.1l9.7 -6.3l-10.1 -6.1z"/>
<path fill="#ffc742" d="M911.4 759.6l10.2 6.7l9.6 -5.9l-10.2 -6.7z"/>
<path fill="#ffce36" d="M931.2 760.4l10.3 7.3l9.5 -5.5l-10.3 -7.3z"/>
<path fill="#ffdd2a" d="M951 762.2l10.4 8l9.4 -5.1l-10.4 -7.9z"/>
<path fill="#fff61d" d="M970.8 765.1l10.4 8.6l9.2 -4.7l-10.3 -8.6z"/>
<path fill="#e3ff0f" d="M990.4 769l10.5 9.2l9.1 -4.3l-10.4 -9.2z"/>
<path fill="#b2ff01" d="M1010 773.9l10.5 9.8l9 -3.9l-10.4 -9.8z"/>
<path fill="#79ff00" d="M1029.5 779.8l10.5 10.5l8.9 -3.5l-10.5 -10.4z"/>
<path fill="#37ff00" d="M1048.9 786.8l10.5 11l8.7 -3.1l-10.4 -11z"/>
<path fill="#00ff13" d="M1068.1 794.7l10.5 11.6l8.6 -2.7l-10.4 -11.7z"/>
<path fill="#00ff66" d="M1087.2 803.6l10.5 12.2l8.5 -2.4l-10.5 -12.2z"/>
<path fill="#00fbbe" d="M1106.2 813.4l10.4 12.9l8.3 -2.1l-10.4 -12.8z"/>
<path fill="#00d0f5" d="M1124.9 824.2l10.5 13.5l8.1 -1.8l-10.4 -13.4z"/>
<path fill="#7cff9d" d="M704.7 819l8.9 0.7l10.3 -10.6l-9 -0.6z"/>
<path fill="#82ff7c" d="M723.9 809.1l9.2 1.3l10.2 -10.1l-9.1 -1.3z"/>
<path fill="#a5ff7b" d="M743.3 800.3l9.3 1.8l10.3 -9.7l-9.3 -1.8z"/>
<path fill="#c3ff79" d="M762.9 792.4l9.4 2.4l10.2 -9.3l-9.5 -2.4z"/>
<path fill="#ddff76" d="M782.5 785.5l9.6 3l10.1 -8.9l-9.6 -2.9z"/>
<path fill="#f4ff71" d="M802.2 779.6l9.7 3.6l10.1 -8.4l-9.7 -3.6z"/>
<path fill="#fff76c" d="M822 774.8l9.9 4.2l10 -8l-9.8 -4.2z"/>
<path fill="#ffe865" d="M841.9 771l10 4.8l9.9 -7.5l-9.9 -4.9z"/>
<path fill="#ffdc5d" d="M861.8 768.3l10.1 5.4l9.8 -7.2l-10 -5.4z"/>
<path fill="#ffd554" d="M881.7 766.5l10.2 6.1l9.8 -6.7l-10.2 -6.1z"/>
<path fill="#ffd349" d="M901.7 765.9l10.2 6.7l9.7 -6.3l-10.2 -6.7z"/>
<path fill="#ffd83e" d="M921.6 766.3l10.3 7.3l9.6 -5.9l-10.3 -7.3z"/>
<path fill="#ffe432" d="M941.5 767.7l10.4 8l9.5 -5.5l-10.4 -8z"/>
<path fill="#fffa25" d="M961.4 770.2l10.4 8.6l9.4 -5.1l-10.4 -8.6z"/>
<path fill="#e4ff17" d="M981.2 773.7l10.4 9.2l9.3 -4.7l-10.5 -9.2z"/>
<path fill="#b7ff0a" d="M1000.9 778.2l10.5 9.8l9.1 -4.3l-10.5 -9.8z"/>
<path fill="#7fff00" d="M1020.5 783.7l10.5 10.5l9 -3.9l-10.5 -10.5z"/>
<path fill="#41ff00" d="M1040 790.3l10.5 11.1l8.9 -3.6l-10.5 -11z"/>
<path fill="#00ff06" d="M1059.4 797.8l10.5 11.7l8.7 -3.2l-10.5 -11.6z"/>
<path fill="#00ff55" d="M1078.6 806.3l10.6 12.4l8.5 -2.9l-10.5 -12.2z"/>
<path fill="#00ffad" d="M1097.7 815.8l10.5 13l8.4 -2.5l-10.4 -12.9z"/>
<path fill="#00ebf9" d="M1116.6 826.3l10.5 13.5l8.3 -2.1l-10.5 -13.5z"/>
<path fill="#7fff91" d="M713.6 819.7l9.1 1.3l10.4 -10.6l-9.2 -1.3z"/>
<path fill="#91ff7f" d="M733.1 810.4l9.2 1.8l10.3 -10.1l-9.3 -1.8z"/>
<path fill="#b0ff7d" d="M752.6 802.1l9.4 2.4l10.3 -9.7l-9.4 -2.4z"/>
<path fill="#cbff7a" d="M772.3 794.8l9.6 3l10.2 -9.3l-9.6 -3z"/>
<path fill="#e2ff77" d="M792.1 788.5l9.7 3.6l10.1 -8.9l-9.7 -3.6z"/>
<path fill="#f5ff71" d="M811.9 783.2l9.9 4.3l10.1 -8.5l-9.9 -4.2z"/>
<path fill="#fff96b" d="M831.9 779l9.9 4.9l10.1 -8.1l-10 -4.8z"/>
<path fill="#ffec63" d="M851.9 775.8l10 5.5l10 -7.6l-10.1 -5.4z"/>
<path fill="#ffe45b" d="M871.9 773.7l10.1 6.1l9.9 -7.2l-10.2 -6.1z"/>
<path fill="#ffe151" d="M891.9 772.6l10.2 6.8l9.8 -6.8l-10.2 -6.7z"/>
<path fill="#ffe446" d="M911.9 772.6l10.3 7.4l9.7 -6.4l-10.3 -7.3z"/>
<path fill="#ffee3a" d="M931.9 773.6l10.4 8l9.6 -5.9l-10.4 -8z"/>
<path fill="#feff2d" d="M951.9 775.7l10.4 8.6l9.5 -5.5l-10.4 -8.6z"/>
<path fill="#e1ff20" d="M971.8 778.8l10.5 9.2l9.3 -5.1l-10.4 -9.2z"/>
<path fill="#b9ff12" d="M991.6 782.9l10.5 9.9l9.3 -4.8l-10.5 -9.8z"/>
<path fill="#84ff04" d="M1011.4 788l10.5 10.6l9.1 -4.4l-10.5 -10.5z"/>
<path fill="#48ff00" d="M1031 794.2l10.6 11.1l8.9 -3.9l-10.5 -11.1z"/>
<path fill="#05ff00" d="M1050.5 801.4l10.6 11.7l8.8 -3.6l-10.5 -11.7z"/>
<path fill="#00ff47" d="M1069.9 809.5l10.6 12.4l8.7 -3.2l-10.6 -12.4z"/>
<path fill="#00ff9c" d="M1089.2 818.7l10.5 12.9l8.5 -2.8l-10.5 -13z"/>
<path fill="#00fdf7" d="M1108.2 828.8l10.5 13.5l8.4 -2.5l-10.5 -13.5z"/>
<path fill="#82ff88" d="M722.7 821l9.3 1.9l10.3 -10.7l-9.2 -1.8z"/>
<path fill="#9cff81" d="M742.3 812.2l9.4 2.5l10.3 -10.2l-9.4 -2.4z"/>
<path fill="#b7ff7f" d="M762 804.5l9.6 3.1l10.3 -9.8l-9.6 -3z"/>
<path fill="#cfff7b" d="M781.9 797.8l9.6 3.7l10.3 -9.4l-9.7 -3.6z"/>
<path fill="#e3ff77" d="M801.8 792.1l9.8 4.3l10.2 -8.9l-9.9 -4.3z"/>
<path fill="#f4ff71" d="M821.8 787.5l9.9 4.9l10.1 -8.5l-9.9 -4.9z"/>
<path fill="#fffd69" d="M841.8 783.9l10.1 5.5l10 -8.1l-10 -5.5z"/>
<path fill="#fff461" d="M861.9 781.3l10.1 6.2l10 -7.7l-10.1 -6.1z"/>
<path fill="#fff057" d="M882 779.8l10.2 6.8l9.9 -7.2l-10.2 -6.8z"/>
<path fill="#fff14d" d="M902.1 779.4l10.3 7.4l9.8 -6.8l-10.3 -7.4z"/>
<path fill="#fff941" d="M922.2 780l10.4 8l9.7 -6.4l-10.4 -8z"/>
<path fill="#f6ff35" d="M942.3 781.6l10.4 8.7l9.6 -6l-10.4 -8.6z"/>
<path fill="#ddff28" d="M962.3 784.3l10.5 9.3l9.5 -5.6l-10.5 -9.2z"/>
<path fill="#b9ff1a" d="M982.3 788l10.5 10l9.3 -5.2l-10.5 -9.9z"/>
<path fill="#88ff0c" d="M1002.1 792.8l10.6 10.5l9.2 -4.7l-10.5 -10.6z"/>
<path fill="#4bff00" d="M1021.9 798.6l10.6 11.1l9.1 -4.4l-10.6 -11.1z"/>
<path fill="#0bff00" d="M1041.6 805.3l10.6 11.8l8.9 -4l-10.6 -11.7z"/>
<path fill="#00ff3d" d="M1061.1 813.1l10.6 12.4l8.8 -3.6l-10.6 -12.4z"/>
<path fill="#00ff8e" d="M1080.5 821.9l10.6 13l8.6 -3.3l-10.5 -12.9z"/>
<path fill="#00ffe8" d="M1099.7 831.6l10.6 13.6l8.4 -2.9l-10.5 -13.5z"/>
<path fill="#88ff84" d="M732 822.9l9.3 2.5l10.4 -10.7l-9.4 -2.5z"/>
<path fill="#a4ff83" d="M751.7 814.7l9.5 3.1l10.4 -10.2l-9.6 -3.1z"/>
<path fill="#bcff80" d="M771.6 807.6l9.7 3.7l10.2 -9.8l-9.6 -3.7z"/>
<path fill="#d1ff7b" d="M791.5 801.5l9.8 4.3l10.3 -9.4l-9.8 -4.3z"/>
<path fill="#e2ff76" d="M811.6 796.4l9.9 4.9l10.2 -8.9l-9.9 -4.9z"/>
<path fill="#efff6f" d="M831.7 792.4l10 5.5l10.2 -8.5l-10.1 -5.5z"/>
<path fill="#f9ff67" d="M851.9 789.4l10.1 6.2l10 -8.1l-10.1 -6.2z"/>
<path fill="#ffff5e" d="M872 787.5l10.3 6.8l9.9 -7.7l-10.2 -6.8z"/>
<path fill="#ffff54" d="M892.2 786.6l10.4 7.4l9.8 -7.2l-10.3 -7.4z"/>
<path fill="#f9ff48" d="M912.4 786.8l10.4 8l9.8 -6.8l-10.4 -8z"/>
<path fill="#ecff3c" d="M932.6 788l10.5 8.7l9.6 -6.4l-10.4 -8.7z"/>
<path fill="#d6ff2f" d="M952.7 790.3l10.6 9.3l9.5 -6l-10.5 -9.3z"/>
<path fill="#b5ff22" d="M972.8 793.6l10.6 10l9.4 -5.6l-10.5 -10z"/>
<path fill="#89ff14" d="M992.8 798l10.6 10.6l9.3 -5.3l-10.6 -10.5z"/>
<path fill="#50ff07" d="M1012.7 803.3l10.6 11.3l9.2 -4.9l-10.6 -11.1z"/>
<path fill="#0fff00" d="M1032.5 809.7l10.6 11.9l9.1 -4.5l-10.6 -11.8z"/>
<path fill="#00ff36" d="M1052.2 817.1l10.6 12.5l8.9 -4.1l-10.6 -12.4z"/>
<path fill="#00ff84" d="M1071.7 825.5l10.6 13.1l8.8 -3.7l-10.6 -13z"/>
<path fill="#00ffda" d="M1091.1 834.9l10.6 13.7l8.6 -3.4l-10.6 -13.6z"/>
<path fill="#90ff86" d="M741.3 825.4l9.5 3.1l10.4 -10.7l-9.5 -3.1z"/>
<path fill="#a9ff83" d="M761.2 817.8l9.7 3.8l10.4 -10.3l-9.7 -3.7z"/>
<path fill="#beff80" d="M781.3 811.3l9.7 4.3l10.3 -9.8l-9.8 -4.3z"/>
<path fill="#cfff7b" d="M801.3 805.8l10 5l10.2 -9.5l-9.9 -4.9z"/>
<path fill="#ddff74" d="M821.5 801.3l10 5.6l10.2 -9l-10 -5.5z"/>
<path fill="#e8ff6d" d="M841.7 797.9l10.2 6.2l10.1 -8.5l-10.1 -6.2z"/>
<path fill="#eeff64" d="M862 795.6l10.2 6.8l10.1 -8.1l-10.3 -6.8z"/>
<path fill="#f0ff5a" d="M882.3 794.3l10.3 7.4l10 -7.7l-10.4 -7.4z"/>
<path fill="#ebff4f" d="M902.6 794l10.4 8.1l9.8 -7.3l-10.4 -8z"/>
<path fill="#e0ff43" d="M922.8 794.8l10.5 8.8l9.8 -6.9l-10.5 -8.7z"/>
<path fill="#cdff37" d="M943.1 796.7l10.5 9.4l9.7 -6.5l-10.6 -9.3z"/>
<path fill="#b0ff2a" d="M963.3 799.6l10.5 10l9.6 -6l-10.6 -10z"/>
<path fill="#88ff1c" d="M983.4 803.6l10.6 10.6l9.4 -5.6l-10.6 -10.6z"/>
<path fill="#53ff0e" d="M1003.4 808.6l10.7 11.2l9.2 -5.2l-10.6 -11.3z"/>
<path fill="#10ff01" d="M1023.3 814.6l10.7 11.8l9.1 -4.8l-10.6 -11.9z"/>
<path fill="#00ff32" d="M1043.1 821.6l10.7 12.5l9 -4.5l-10.6 -12.5z"/>
<path fill="#00ff7c" d="M1062.8 829.6l10.7 13.1l8.8 -4.1l-10.6 -13.1z"/>
<path fill="#00ffcf" d="M1082.3 838.6l10.7 13.7l8.7 -3.7l-10.6 -13.7z"/>
<path fill="#95ff87" d="M750.8 828.5l9.7 3.8l10.4 -10.7l-9.7 -3.8z"/>
<path fill="#aaff84" d="M770.9 821.6l9.8 4.3l10.3 -10.3l-9.7 -4.3z"/>
<path fill="#bcff7f" d="M791 815.6l9.9 5l10.4 -9.8l-10 -5z"/>
<path fill="#cbff79" d="M811.3 810.8l10 5.6l10.2 -9.5l-10 -5.6z"/>
<path fill="#d6ff72" d="M831.5 806.9l10.2 6.3l10.2 -9.1l-10.2 -6.2z"/>
<path fill="#ddff6a" d="M851.9 804.1l10.2 6.9l10.1 -8.6l-10.2 -6.8z"/>
<path fill="#dfff60" d="M872.2 802.4l10.4 7.5l10 -8.2l-10.3 -7.4z"/>
<path fill="#ddff56" d="M892.6 801.7l10.4 8.2l10 -7.8l-10.4 -8.1z"/>
<path fill="#d3ff4a" d="M913 802.1l10.5 8.8l9.8 -7.3l-10.5 -8.8z"/>
<path fill="#c2ff3e" d="M933.3 803.6l10.6 9.4l9.7 -6.9l-10.5 -9.4z"/>
<path fill="#a8ff31" d="M953.6 806.1l10.6 10l9.6 -6.5l-10.5 -10z"/>
<path fill="#83ff24" d="M973.8 809.6l10.7 10.7l9.5 -6.1l-10.6 -10.6z"/>
<path fill="#53ff16" d="M994 814.2l10.7 11.3l9.4 -5.7l-10.7 -11.2z"/>
<path fill="#15ff08" d="M1014.1 819.8l10.6 11.9l9.3 -5.3l-10.7 -11.8z"/>
<path fill="#00ff31" d="M1034 826.4l10.7 12.6l9.1 -4.9l-10.7 -12.5z"/>
<path fill="#00ff78" d="M1053.8 834.1l10.7 13.1l9 -4.5l-10.7 -13.1z"/>
<path fill="#00ffc8" d="M1073.5 842.7l10.7 13.8l8.8 -4.2l-10.7 -13.7z"/>
<path fill="#97ff87" d="M760.5 832.3l9.7 4.4l10.5 -10.8l-9.8 -4.3z"/>
<path fill="#a9ff83" d="M780.7 825.9l9.8 5.1l10.4 -10.4l-9.9 -5z"/>
<path fill="#b8ff7e" d="M800.9 820.6l10.1 5.7l10.3 -9.9l-10 -5.6z"/>
<path fill="#c4ff77" d="M821.3 816.4l10.1 6.2l10.3 -9.4l-10.2 -6.3z"/>
<path fill="#cbff6f" d="M841.7 813.2l10.2 6.9l10.2 -9.1l-10.2 -6.9z"/>
<path fill="#cfff66" d="M862.1 811l10.4 7.5l10.1 -8.6l-10.4 -7.5z"/>
<path fill="#cdff5c" d="M882.6 809.9l10.4 8.2l10 -8.2l-10.4 -8.2z"/>
<path fill="#c5ff51" d="M903 809.9l10.5 8.8l10 -7.8l-10.5 -8.8z"/>
<path fill="#b6ff45" d="M923.5 810.9l10.5 9.5l9.9 -7.4l-10.6 -9.4z"/>
<path fill="#9eff38" d="M943.9 813l10.6 10.1l9.7 -7l-10.6 -10z"/>
<path fill="#7dff2b" d="M964.2 816.1l10.7 10.7l9.6 -6.5l-10.7 -10.7z"/>
<path fill="#50ff1e" d="M984.5 820.3l10.7 11.3l9.5 -6.1l-10.7 -11.3z"/>
<path fill="#17ff10" d="M1004.7 825.5l10.7 12l9.3 -5.8l-10.6 -11.9z"/>
<path fill="#02ff35" d="M1024.7 831.7l10.8 12.6l9.2 -5.3l-10.7 -12.6z"/>
<path fill="#00ff77" d="M1044.7 839l10.7 13.2l9.1 -5l-10.7 -13.1z"/>
<path fill="#00ffc3" d="M1064.5 847.2l10.7 13.8l9 -4.5l-10.7 -13.8z"/>
<path fill="#96ff87" d="M770.2 836.7l9.9 5.1l10.4 -10.8l-9.8 -5.1z"/>
<path fill="#a5ff82" d="M790.5 831l10.1 5.7l10.4 -10.4l-10.1 -5.7z"/>
<path fill="#b1ff7c" d="M811 826.3l10.1 6.3l10.3 -10l-10.1 -6.2z"/>
<path fill="#b9ff74" d="M831.4 822.6l10.3 7l10.2 -9.5l-10.2 -6.9z"/>
<path fill="#bdff6c" d="M851.9 820.1l10.4 7.5l10.2 -9.1l-10.4 -7.5z"/>
<path fill="#bcff62" d="M872.5 818.5l10.4 8.3l10.1 -8.7l-10.4 -8.2z"/>
<path fill="#b6ff57" d="M893 818.1l10.5 8.8l10 -8.2l-10.5 -8.8z"/>
<path fill="#a8ff4c" d="M913.5 818.7l10.6 9.5l9.9 -7.8l-10.5 -9.5z"/>
<path fill="#93ff3f" d="M934 820.4l10.7 10.1l9.8 -7.4l-10.6 -10.1z"/>
<path fill="#74ff32" d="M954.5 823.1l10.7 10.7l9.7 -7l-10.7 -10.7z"/>
<path fill="#4bff25" d="M974.9 826.8l10.7 11.4l9.6 -6.6l-10.7 -11.3z"/>
<path fill="#17ff19" d="M995.2 831.6l10.7 12.1l9.5 -6.2l-10.7 -12z"/>
<path fill="#0aff41" d="M1015.4 837.5l10.7 12.6l9.4 -5.8l-10.8 -12.6z"/>
<path fill="#00ff79" d="M1035.5 844.3l10.7 13.3l9.2 -5.4l-10.7 -13.2z"/>
<path fill="#00ffc2" d="M1055.4 852.2l10.8 13.9l9 -5.1l-10.7 -13.8z"/>
<path fill="#92ff86" d="M780.1 841.8l10 5.7l10.5 -10.8l-10.1 -5.7z"/>
<path fill="#9eff80" d="M800.6 836.7l10.1 6.3l10.4 -10.4l-10.1 -6.3z"/>
<path fill="#a7ff79" d="M821.1 832.6l10.2 7l10.4 -10l-10.3 -7z"/>
<path fill="#abff71" d="M841.7 829.6l10.3 7.6l10.3 -9.6l-10.4 -7.5z"/>
<path fill="#abff67" d="M862.3 827.6l10.4 8.3l10.2 -9.1l-10.4 -8.3z"/>
<path fill="#a6ff5d" d="M882.9 826.8l10.5 8.8l10.1 -8.7l-10.5 -8.8z"/>
<path fill="#9aff52" d="M903.5 826.9l10.6 9.6l10 -8.3l-10.6 -9.5z"/>
<path fill="#86ff46" d="M924.1 828.2l10.7 10.1l9.9 -7.8l-10.7 -10.1z"/>
<path fill="#6aff39" d="M944.7 830.5l10.7 10.8l9.8 -7.5l-10.7 -10.7z"/>
<path fill="#44ff2c" d="M965.2 833.8l10.7 11.5l9.7 -7.1l-10.7 -11.4z"/>
<path fill="#1fff2b" d="M985.6 838.2l10.8 12.1l9.5 -6.6l-10.7 -12.1z"/>
<path fill="#11ff4f" d="M1005.9 843.7l10.8 12.7l9.4 -6.3l-10.7 -12.6z"/>
<path fill="#03ff80" d="M1026.1 850.1l10.8 13.3l9.3 -5.8l-10.7 -13.3z"/>
<path fill="#00ffc4" d="M1046.2 857.6l10.8 13.9l9.2 -5.4l-10.8 -13.9z"/>
<path fill="#8bff84" d="M790.1 847.5l10.1 6.4l10.5 -10.9l-10.1 -6.3z"/>
<path fill="#94ff7d" d="M810.7 843l10.2 7l10.4 -10.4l-10.2 -7z"/>
<path fill="#99ff75" d="M831.3 839.6l10.3 7.6l10.4 -10l-10.3 -7.6z"/>
<path fill="#99ff6d" d="M852 837.2l10.4 8.3l10.3 -9.6l-10.4 -8.3z"/>
<path fill="#95ff63" d="M872.7 835.9l10.5 8.9l10.2 -9.2l-10.5 -8.8z"/>
<path fill="#8aff58" d="M893.4 835.6l10.6 9.6l10.1 -8.7l-10.6 -9.6z"/>
<path fill="#78ff4c" d="M914.1 836.5l10.7 10.2l10 -8.4l-10.7 -10.1z"/>
<path fill="#5eff40" d="M934.8 838.3l10.7 10.9l9.9 -7.9l-10.7 -10.8z"/>
<path fill="#3bff33" d="M955.4 841.3l10.7 11.5l9.8 -7.5l-10.7 -11.5z"/>
<path fill="#26ff3f" d="M975.9 845.3l10.8 12.1l9.7 -7.1l-10.8 -12.1z"/>
<path fill="#18ff5f" d="M996.4 850.3l10.8 12.7l9.5 -6.6l-10.8 -12.7z"/>
<path fill="#0bff8c" d="M1016.7 856.4l10.8 13.3l9.4 -6.3l-10.8 -13.3z"/>
<path fill="#00ffc9" d="M1036.9 863.4l10.9 14l9.2 -5.9l-10.8 -13.9z"/>
<path fill="#81ff82" d="M800.2 853.9l10.2 7.1l10.5 -11l-10.2 -7z"/>
<path fill="#85ff7a" d="M820.9 850l10.3 7.7l10.4 -10.5l-10.3 -7.6z"/>
<path fill="#87ff71" d="M841.6 847.2l10.5 8.4l10.3 -10.1l-10.4 -8.3z"/>
<path fill="#83ff68" d="M862.4 845.5l10.5 9l10.3 -9.7l-10.5 -8.9z"/>
<path fill="#79ff5d" d="M883.2 844.8l10.6 9.6l10.2 -9.2l-10.6 -9.6z"/>
<path fill="#69ff52" d="M904 845.2l10.7 10.3l10.1 -8.8l-10.7 -10.2z"/>
<path fill="#51ff46" d="M924.8 846.7l10.7 10.9l10 -8.4l-10.7 -10.9z"/>
<path fill="#39ff43" d="M945.5 849.2l10.7 11.5l9.9 -7.9l-10.7 -11.5z"/>
<path fill="#2cff54" d="M966.1 852.8l10.8 12.1l9.8 -7.5l-10.8 -12.1z"/>
<path fill="#1fff71" d="M986.7 857.4l10.8 12.8l9.7 -7.2l-10.8 -12.7z"/>
<path fill="#12ff9a" d="M1007.2 863l10.8 13.4l9.5 -6.7l-10.8 -13.3z"/>
<path fill="#04ffd2" d="M1027.5 869.7l10.9 14l9.4 -6.3l-10.9 -14z"/>
<path fill="#7eff8a" d="M810.4 861l10.3 7.7l10.5 -11l-10.3 -7.7z"/>
<path fill="#76ff78" d="M831.2 857.7l10.4 8.4l10.5 -10.5l-10.5 -8.4z"/>
<path fill="#70ff6d" d="M852.1 855.6l10.5 9l10.3 -10.1l-10.5 -9z"/>
<path fill="#68ff63" d="M872.9 854.5l10.6 9.6l10.3 -9.7l-10.6 -9.6z"/>
<path fill="#59ff58" d="M893.8 854.4l10.7 10.3l10.2 -9.2l-10.7 -10.3z"/>
<path fill="#4cff55" d="M914.7 855.5l10.7 10.9l10.1 -8.8l-10.7 -10.9z"/>
<path fill="#40ff5c" d="M935.5 857.6l10.8 11.5l9.9 -8.4l-10.7 -11.5z"/>
<path fill="#33ff6b" d="M956.2 860.7l10.9 12.2l9.8 -8l-10.8 -12.1z"/>
<path fill="#26ff85" d="M976.9 864.9l10.9 12.8l9.7 -7.5l-10.8 -12.8z"/>
<path fill="#18ffab" d="M997.5 870.2l10.9 13.4l9.6 -7.2l-10.8 -13.4z"/>
<path fill="#0bffde" d="M1018 876.4l10.9 14.1l9.5 -6.8l-10.9 -14z"/>
<path fill="#7aff94" d="M820.7 868.7l10.5 8.4l10.4 -11l-10.4 -8.4z"/>
<path fill="#71ff85" d="M841.6 866.1l10.6 9l10.4 -10.5l-10.5 -9z"/>
<path fill="#68ff7a" d="M862.6 864.6l10.6 9.7l10.3 -10.2l-10.6 -9.6z"/>
<path fill="#5dff72" d="M883.5 864.1l10.7 10.3l10.3 -9.7l-10.7 -10.3z"/>
<path fill="#52ff71" d="M904.5 864.7l10.7 11l10.2 -9.3l-10.7 -10.9z"/>
<path fill="#46ff76" d="M925.4 866.4l10.8 11.6l10.1 -8.9l-10.8 -11.5z"/>
<path fill="#39ff83" d="M946.3 869.1l10.8 12.3l10 -8.5l-10.9 -12.2z"/>
<path fill="#2cff9b" d="M967.1 872.9l10.9 12.9l9.8 -8.1l-10.9 -12.8z"/>
<path fill="#1fffbd" d="M987.8 877.7l10.9 13.6l9.7 -7.7l-10.9 -13.4z"/>
<path fill="#12ffed" d="M1008.4 883.6l10.9 14.2l9.6 -7.3l-10.9 -14.1z"/>
<path fill="#76ffa1" d="M831.2 877.1l10.5 9.1l10.5 -11.1l-10.6 -9z"/>
<path fill="#6cff96" d="M852.2 875.1l10.6 9.8l10.4 -10.6l-10.6 -9.7z"/>
<path fill="#62ff8e" d="M873.2 874.3l10.7 10.3l10.3 -10.2l-10.7 -10.3z"/>
<path fill="#57ff8c" d="M894.2 874.4l10.8 11.1l10.2 -9.8l-10.7 -11z"/>
<path fill="#4bff90" d="M915.2 875.7l10.9 11.7l10.1 -9.4l-10.8 -11.6z"/>
<path fill="#3fff9c" d="M936.2 878l10.9 12.3l10 -8.9l-10.8 -12.3z"/>
<path fill="#32ffb1" d="M957.1 881.4l10.9 12.9l10 -8.5l-10.9 -12.9z"/>
<path fill="#25ffd1" d="M978 885.8l10.9 13.6l9.8 -8.1l-10.9 -13.6z"/>
<path fill="#18fffe" d="M998.7 891.3l11 14.1l9.6 -7.6l-10.9 -14.2z"/>
<path fill="#71ffb2" d="M841.7 886.2l10.6 9.8l10.5 -11.1l-10.6 -9.8z"/>
<path fill="#67ffab" d="M862.8 884.9l10.7 10.4l10.4 -10.7l-10.7 -10.3z"/>
<path fill="#5cffa8" d="M883.9 884.6l10.8 11.1l10.3 -10.2l-10.8 -11.1z"/>
<path fill="#51ffab" d="M905 885.5l10.8 11.7l10.3 -9.8l-10.9 -11.7z"/>
<path fill="#45ffb6" d="M926.1 887.4l10.9 12.3l10.1 -9.4l-10.9 -12.3z"/>
<path fill="#38ffc9" d="M947.1 890.3l10.9 13l10 -9l-10.9 -12.9z"/>
<path fill="#2cffe7" d="M968 894.3l11 13.6l9.9 -8.5l-10.9 -13.6z"/>
<path fill="#1feeff" d="M988.9 899.4l11 14.2l9.8 -8.2l-11 -14.1z"/>
<path fill="#6bffc7" d="M852.3 896l10.7 10.5l10.5 -11.2l-10.7 -10.4z"/>
<path fill="#61ffc4" d="M873.5 895.3l10.8 11.1l10.4 -10.7l-10.8 -11.1z"/>
<path fill="#56ffc7" d="M894.7 895.7l10.8 11.8l10.3 -10.3l-10.8 -11.7z"/>
<path fill="#4affd1" d="M915.8 897.2l10.9 12.4l10.3 -9.9l-10.9 -12.3z"/>
<path fill="#3effe3" d="M937 899.7l10.9 13l10.1 -9.4l-10.9 -13z"/>
<path fill="#32fffe" d="M958 903.3l11 13.7l10 -9.1l-11 -13.6z"/>
<path fill="#25d9ff" d="M979 907.9l11 14.3l9.9 -8.6l-11 -14.2z"/>
<path fill="#65ffe1" d="M863 906.5l10.8 11.1l10.5 -11.2l-10.8 -11.1z"/>
<path fill="#5bffe3" d="M884.3 906.4l10.8 11.8l10.4 -10.7l-10.8 -11.8z"/>
<path fill="#4fffec" d="M905.5 907.5l10.9 12.4l10.3 -10.3l-10.9 -12.4z"/>
<path fill="#44fffd" d="M926.7 909.6l11 13.1l10.2 -10l-10.9 -13z"/>
<path fill="#37e8ff" d="M947.9 912.7l11 13.8l10.1 -9.5l-11 -13.7z"/>
<path fill="#2bc4ff" d="M969 917l11 14.3l10 -9.1l-11 -14.3z"/>
<path fill="#5ffeff" d="M873.8 917.6l10.8 11.9l10.5 -11.3l-10.8 -11.8z"/>
<path fill="#54f6ff" d="M895.1 918.2l11 12.5l10.3 -10.8l-10.9 -12.4z"/>
<path fill="#49e6ff" d="M916.4 919.9l11 13.2l10.3 -10.4l-11 -13.1z"/>
<path fill="#3dceff" d="M937.7 922.7l11 13.7l10.2 -9.9l-11 -13.8z"/>
<path fill="#30acff" d="M958.9 926.5l11.1 14.4l10 -9.6l-11 -14.3z"/>
<path fill="#59d9ff" d="M884.6 929.5l11 12.6l10.5 -11.4l-11 -12.5z"/>
<path fill="#4ecbff" d="M906.1 930.7l10.9 13.2l10.4 -10.8l-11 -13.2z"/>
<path fill="#42b4ff" d="M927.4 933.1l11.1 13.8l10.2 -10.5l-11 -13.7z"/>
<path fill="#3694ff" d="M948.7 936.4l11.1 14.5l10.2 -10l-11.1 -14.4z"/>
<path fill="#52aeff" d="M895.6 942.1l11 13.2l10.4 -11.4l-10.9 -13.2z"/>
<path fill="#4799ff" d="M917 943.9l11.1 13.9l10.4 -10.9l-11.1 -13.8z"/>
<path fill="#3b7aff" d="M938.5 946.9l11.1 14.5l10.2 -10.5l-11.1 -14.5z"/>
<path fill="#4c7dff" d="M906.6 955.3l11.1 13.9l10.4 -11.4l-11.1 -13.9z"/>
<path fill="#405fff" d="M928.1 957.8l11.1 14.6l10.4 -11l-11.1 -14.5z"/>
<path fill="#4545ff" d="M917.7 969.2l11.1 14.7l10.4 -11.5l-11.1 -14.6z"/>
</g>
<line x1="920.5" y1="706" x2="920.5" y2="726" stroke="#000" stroke-width="1.3"/>
<circle cx="678.4" cy="823" r="4.5" fill="#ffc8c8" stroke="#000" stroke-width="1.1"/>
<circle cx="920.5" cy="706" r="4.5" fill="#be0000" stroke="#000" stroke-width="1.1"/>
<circle cx="920.5" cy="718.7" r="4.5" fill="#be0000" stroke="#000" stroke-width="1.1"/>
<circle cx="795.2" cy="849.9" r="4.5" fill="#be0000" stroke="#000" stroke-width="1.1"/>
<circle cx="1052.5" cy="875.1" r="4.5" fill="#be0000" stroke="#000" stroke-width="1.1"/>
<circle cx="928.6" cy="986.9" r="4.5" fill="#ffc8c8" stroke="#000" stroke-width="1.1"/>
<text x="654.9" y="660.4" font-size="22.5" text-anchor="end" textLength="22.1" lengthAdjust="spacingAndGlyphs">45</text>
<text x="657.7" y="706.9" font-size="22.5" text-anchor="end" textLength="22.1" lengthAdjust="spacingAndGlyphs">40</text>
<text x="660.4" y="753.4" font-size="22.5" text-anchor="end" textLength="22.1" lengthAdjust="spacingAndGlyphs">35</text>
<text x="663.2" y="800" font-size="22.5" text-anchor="end" textLength="22.1" lengthAdjust="spacingAndGlyphs">30</text>
<text x="665.9" y="846.5" font-size="22.5" text-anchor="end" textLength="22.1" lengthAdjust="spacingAndGlyphs">25</text>
<text x="668.7" y="893.1" font-size="22.5" text-anchor="end" textLength="22.1" lengthAdjust="spacingAndGlyphs">20</text>
<text x="664.4" y="993.7" font-size="22.5" text-anchor="middle" textLength="22.1" lengthAdjust="spacingAndGlyphs">90</text>
<text x="724.5" y="1027.2" font-size="22.5" text-anchor="middle" textLength="22.1" lengthAdjust="spacingAndGlyphs">85</text>
<text x="784.6" y="1060.8" font-size="22.5" text-anchor="middle" textLength="22.1" lengthAdjust="spacingAndGlyphs">80</text>
<text x="844.7" y="1094.4" font-size="22.5" text-anchor="middle" textLength="22.1" lengthAdjust="spacingAndGlyphs">75</text>
<text x="904.8" y="1128" font-size="22.5" text-anchor="middle" textLength="22.1" lengthAdjust="spacingAndGlyphs">70</text>
<text x="953" y="1128" font-size="22.5" text-anchor="middle" textLength="22.1" lengthAdjust="spacingAndGlyphs">60</text>
<text x="991.2" y="1104.4" font-size="22.5" text-anchor="middle" textLength="22.1" lengthAdjust="spacingAndGlyphs">70</text>
<text x="1029.4" y="1080.8" font-size="22.5" text-anchor="middle" textLength="22.1" lengthAdjust="spacingAndGlyphs">80</text>
<text x="1067.6" y="1057.2" font-size="22.5" text-anchor="middle" textLength="22.1" lengthAdjust="spacingAndGlyphs">90</text>
<text x="1105.8" y="1033.6" font-size="22.5" text-anchor="middle" textLength="33.2" lengthAdjust="spacingAndGlyphs">100</text>
<text x="1144" y="1010" font-size="22.5" text-anchor="middle" textLength="31.7" lengthAdjust="spacingAndGlyphs">110</text>
<text x="1182.2" y="986.5" font-size="22.5" text-anchor="middle" textLength="33.2" lengthAdjust="spacingAndGlyphs">120</text>
<text x="598.3" y="832.9" font-size="19.5" text-anchor="middle" transform="rotate(-90 598.3 825.9)" textLength="182.4" lengthAdjust="spacingAndGlyphs">TPC (mg GAE/g d.m.)</text>
<text x="717.5" y="1098.7" font-size="19.5" text-anchor="middle" textLength="167.5" lengthAdjust="spacingAndGlyphs">B: Temperature (°C)</text>
<text x="1129.8" y="1091.8" font-size="19.5" text-anchor="middle" textLength="119.5" lengthAdjust="spacingAndGlyphs">A: Weight (gr)</text>
<text x="658.3" y="1139.1" font-size="33" text-anchor="middle">d</text></g>
<g id="p_e"><polygon points="124.4,1518.3 322.4,1675.1 562.2,1538.7 358.2,1411.8" fill="#646464" stroke="#000" stroke-width="1.8" stroke-linejoin="round"/>
<polyline points="191.4,1487.9 190,1489.6 188.8,1491.2 187,1493.6 185.3,1496 184.2,1497.6 183.2,1499.4 182.1,1501.3 180.9,1503.7 179.8,1506 178.8,1508.3 178,1510.5 177.3,1512.6 176.7,1514.7 176.2,1516.9 175.9,1518.9 175.6,1520.9 175.4,1522.9 175.3,1524.8 175.3,1526.7 175.4,1529.2 175.6,1532.1 175.9,1534 176.3,1535.8 176.9,1538.4 177.7,1540.9 178.3,1542.5 179.7,1545.8 180.4,1547.4 182.2,1550.5 183.1,1552 185.1,1554.9 186.3,1556.4 188.6,1559.2 191.2,1562 193.9,1564.7 196.9,1567.3 200,1569.8 203.4,1572.2 206.9,1574.6 210.7,1576.8 214.6,1579 216.6,1580.1 220.9,1582.1 225.2,1584 227.6,1585 232.3,1586.9 234.8,1587.8 238.8,1589.1 242.4,1590.2 245.1,1591 250.2,1592.4 253.4,1593.2 256.3,1593.9 260.4,1594.7 265.2,1595.7 268.6,1596.2 271.8,1596.8 275.1,1597.2 278.6,1597.7 282.9,1598.2 287,1598.6 291.1,1598.9 295,1599.2 298.9,1599.4 302.7,1599.6 306.4,1599.7 310.1,1599.7 313.7,1599.7 317.3,1599.7 321,1599.6 325.5,1599.4 330.2,1599.2 334.2,1598.9 337.5,1598.7 340.7,1598.4 345.2,1597.9 350.1,1597.3 353.1,1596.9 356.2,1596.5 362,1595.6 364.9,1595.1 368.3,1594.5 373.4,1593.5 376.2,1592.9 381.7,1591.7 384.3,1591 389.6,1589.7 392.2,1589 397.2,1587.5 399.7,1586.8 404.6,1585.2 408.9,1583.8 411.8,1582.7 416.4,1581 420.9,1579.2 423.1,1578.3 427.5,1576.4 431.7,1574.4 435.8,1572.4 439.9,1570.4 443.8,1568.2 447.6,1566 451.2,1563.8 454.8,1561.5 458.3,1559.1 460,1557.9 463.2,1555.5 466.4,1553 468.6,1551.1 470.9,1549.1 473.8,1546.4 475.1,1545 477.8,1542.3 479.1,1540.8 481.5,1538 482.7,1536.5 484.9,1533.5 486,1532 487.2,1530 488.9,1527.3 489.8,1525.6 490.7,1523.9 492,1521 492.8,1518.9 493.5,1517.2 494,1515.4 494.7,1513.3 495.2,1510.9 495.6,1508.5 495.9,1506.3 496.1,1504.1 496.2,1502 496.2,1499.9 496.1,1497.9 496.1,1497.7" fill="none" stroke="#96f000" stroke-width="2.5"/>
<polyline points="386.9,1429.3 383.2,1428.9 379.7,1428.6 376.2,1428.4 372.8,1428.2 369.4,1428.1 366.1,1428 362.9,1427.9 359.8,1427.9 356.7,1427.9 353.6,1427.9 350.2,1428 346.3,1428.2 342.2,1428.4 339,1428.6 336.2,1428.8 333.4,1429 328.9,1429.4 325.3,1429.8 322.6,1430.1 319.1,1430.6 314.8,1431.2 313.8,1431.3" fill="none" stroke="#96f000" stroke-width="2.5"/>
<polyline points="233.1,1539.3 234.3,1540.8 236.8,1543.5 239.5,1546.2 242.5,1548.7 245.8,1551.1 249.3,1553.4 253.2,1555.5 257.2,1557.6 259.4,1558.5 263.9,1560.4 266.3,1561.3 271.2,1562.9 273.8,1563.7 277.5,1564.7 282,1565.8 284.9,1566.4 287.8,1567 292,1567.7 296.4,1568.3 300.6,1568.8 304.2,1569.1 307.8,1569.4 311.5,1569.6 315.3,1569.7 319.3,1569.8 323,1569.8 326.5,1569.7 329.8,1569.6 333.1,1569.4 337,1569.1 342,1568.7 345.6,1568.3 348.5,1567.9 352.9,1567.3 357.2,1566.6 360,1566 365.4,1564.9 368.1,1564.3 373.2,1563.1 375.8,1562.4 380.7,1560.9 383.1,1560.2 387.8,1558.6 392.3,1556.9 394.6,1556 398.9,1554.2 403.1,1552.3 407.1,1550.3 411,1548.2 414.7,1546.1 418.3,1543.8 421,1542 423.3,1540.3 426.5,1537.8 429.4,1535.4 431,1533.9 433.7,1531.2 435,1529.8 437.5,1526.9 438.6,1525.4 440.1,1523.4 441.8,1520.8 442.7,1519.2 443.6,1517.4 444.8,1514.7 445.6,1512.3 446.2,1510.5 446.6,1508.6 447,1506.7 447.2,1504.7 447.3,1502.6 447.3,1500.4 447.1,1498.2 446.7,1495.8 446.2,1493.7 445.6,1492 445,1490.3 443.8,1487.6 442.7,1485.6 441.7,1484.1 439.7,1481.2 438.6,1479.8 436.1,1477.2 433.6,1474.9 432,1473.5 429,1471.2 425.8,1469 422.4,1466.9 418.7,1465 416,1463.6 412.9,1462.3 408.7,1460.6 406.5,1459.8 402,1458.3 399.7,1457.6 394.9,1456.3 392.4,1455.7 389.8,1455.1 385.3,1454.3 381.6,1453.6 378.8,1453.2 375.8,1452.8 372.8,1452.5 369.2,1452.2 365.6,1451.9 362.1,1451.7 358.8,1451.6 355.5,1451.5 352.2,1451.5 348.7,1451.5 344.7,1451.6 340.5,1451.8 337.2,1452.1 334.4,1452.3 331.5,1452.6 326.5,1453.1 323.5,1453.6 320.9,1453.9 315.8,1454.8 313.3,1455.3 309,1456.1 306,1456.8 301.5,1457.9 299,1458.6 294.4,1459.8 292.1,1460.6 287.8,1461.9 283.6,1463.4 279.5,1465 275.4,1466.7 273,1467.8 269.6,1469.3 267.7,1470.3 263.9,1472.2 260.3,1474.2 256.8,1476.3 253.5,1478.6 251.8,1479.7 248.6,1482.1 246.4,1483.8 244.1,1485.8 242,1487.7 239.8,1489.9 238.5,1491.3 236,1494.2 234.8,1495.8 233.6,1497.4 232,1499.8 230.6,1502.3 229.7,1504.1 228.8,1506 228.1,1507.9 227.4,1509.9 226.9,1511.9 226.5,1514.1 226.2,1516.4 226.1,1518.8 226.1,1521.3 226.3,1523.2 226.6,1525 227.1,1527.1 228,1530.1 228.7,1531.7 230,1534.4 231.1,1536.4 233.1,1539.3 233.1,1539.3" fill="none" stroke="#ffdc00" stroke-width="2.5"/>
<polyline points="248.4,1616.4 253.1,1617.2 256.9,1617.8 260.3,1618.3 263.7,1618.8 267.1,1619.2 270.8,1619.6 275,1620 279.1,1620.4 283.1,1620.7 287.1,1620.9 291,1621.1 294.9,1621.3 298.7,1621.4 302.4,1621.4 306.1,1621.5 310,1621.4 314.4,1621.4 318.9,1621.2 323.6,1621.1 327.3,1620.9 330.6,1620.6 334,1620.4 338.2,1620.1 343.3,1619.6 347,1619.2 350.1,1618.8 354.2,1618.3 359.4,1617.6 362.5,1617.1 365.8,1616.6 371.4,1615.7 374.3,1615.1 378.5,1614.3 382.9,1613.4 385.7,1612.8 391.2,1611.5 393.9,1610.9 399.3,1609.5 401.9,1608.8 407.1,1607.3 409.7,1606.6 414.7,1605 418.6,1603.8 422.1,1602.6 426.9,1600.9 430,1599.8 434,1598.3 438.5,1596.4 443,1594.6 445.3,1593.6 449.5,1591.7 453.8,1589.6 457.9,1587.6 462,1585.5 465.9,1583.3 469.8,1581.1 473.5,1578.9 477.2,1576.6 480.8,1574.2 484.2,1571.8 485.9,1570.6 489.2,1568.2 492.5,1565.7 495.4,1563.2 497.1,1561.8 500.1,1559.1 502.1,1557.2 504.3,1555.1 507,1552.3 508.3,1550.9 510.8,1548.1 512,1546.6 514.3,1543.7 515.5,1542.2 517,1540 518.6,1537.6 519.6,1536.1 521.3,1533.2 522.3,1531.3 523.2,1529.7 524.4,1527.1 525.5,1524.7 526.1,1523 526.8,1521.2 527.6,1518.9 527.9,1517.7" fill="none" stroke="#14e61e" stroke-width="2.5"/>
<polyline points="143.8,1510 143,1512.1 142.3,1514.2 141.7,1516.3 141.1,1518.5 140.6,1520.6 140.3,1522.6 140,1524.6 139.7,1526.6 139.6,1528.5 139.5,1530.5 139.5,1530.5" fill="none" stroke="#14e61e" stroke-width="2.5"/>
<polyline points="359.4,1412 356.4,1412.1 355.4,1412.1" fill="none" stroke="#14e61e" stroke-width="2.5"/>
<polyline points="280.8,1642 284.8,1642.1 288.8,1642.3 293,1642.4 297.2,1642.4 301.6,1642.4 306,1642.4 310.5,1642.3 314.6,1642.2 318.1,1642.1 321.6,1641.9 325.1,1641.7 329.4,1641.4 334.4,1641.1 338.7,1640.7 342,1640.4 345.3,1640.1 350.2,1639.5 354.9,1639 358.1,1638.5 361.5,1638.1 367.4,1637.2 370.4,1636.7 373.5,1636.2 379.4,1635.1 382.3,1634.6 386.5,1633.7 391,1632.8 393.8,1632.2 399.4,1630.9 400.7,1630.6" fill="none" stroke="#00f0aa" stroke-width="2.5"/>
<polyline points="545.4,1548.8 546.8,1546.8 547.9,1545.1 549.8,1542.2 550.7,1540.6 552.1,1538.3 553.4,1535.8 554.2,1534.2 554.2,1534.2" fill="none" stroke="#00f0aa" stroke-width="2.5"/>
<polyline points="301.9,1658.6 305.6,1658.5 309.2,1658.4 312.8,1658.3 316.7,1658.2 321.5,1657.9 326.5,1657.6 330.4,1657.4 333.8,1657.1 337.2,1656.8 341.9,1656.4 347.2,1655.8 350.5,1655.5 353.8,1655.1 358.4,1654.5 358.4,1654.5" fill="none" stroke="#1e9bff" stroke-width="2.5"/>
<path d="M124.4 1518.3L102 1244.3M159.1 1437.8L144.8 1229M198.9 1420.6L187.6 1213.7M238.8 1403.4L230.4 1198.4M278.6 1386.3L273.2 1183.1M318.5 1369.1L316 1167.8M358.2 1411.8L358.8 1152.5M358.2 1411.8L358.8 1152.5M410.7 1382.7L415.6 1180.1M463 1413.4L472.4 1207.7M515.3 1444.2L529.1 1235.2M562.2 1538.7L585.9 1262.8M102 1244.3L358.8 1152.5L585.9 1262.8M106.3 1297.1L358.7 1202.5L581.3 1316M110.6 1349.8L358.6 1252.3L576.8 1369M114.9 1402.6L358.5 1302.3L572.2 1422.2M119.2 1455L358.3 1351.9L567.7 1475" fill="none" stroke="#000" stroke-width="1.25"/>
<circle cx="102" cy="1244.3" r="2.3"/>
<circle cx="106.3" cy="1297.1" r="2.3"/>
<circle cx="110.6" cy="1349.8" r="2.3"/>
<circle cx="114.9" cy="1402.6" r="2.3"/>
<circle cx="119.2" cy="1455" r="2.3"/>
<circle cx="124.4" cy="1518.3" r="2.3"/>
<circle cx="173.9" cy="1557.5" r="2.3"/>
<circle cx="223.4" cy="1596.7" r="2.3"/>
<circle cx="272.9" cy="1635.9" r="2.3"/>
<circle cx="322.4" cy="1675.1" r="2.3"/>
<circle cx="322.4" cy="1675.1" r="2.3"/>
<circle cx="362.4" cy="1652.4" r="2.3"/>
<circle cx="402.3" cy="1629.6" r="2.3"/>
<circle cx="442.3" cy="1606.9" r="2.3"/>
<circle cx="482.3" cy="1584.2" r="2.3"/>
<circle cx="522.2" cy="1561.4" r="2.3"/>
<circle cx="562.2" cy="1538.7" r="2.3"/>
<circle cx="238.7" cy="1279.1" r="4.5" fill="#ffc8c8" stroke="#000" stroke-width="1.1"/>
<circle cx="208.2" cy="1421.8" r="4.5" fill="#ffc8c8" stroke="#000" stroke-width="1.1"/>
<circle cx="462.1" cy="1277.9" r="4.5" fill="#be0000" stroke="#000" stroke-width="1.1"/>
<g stroke="#000" stroke-width="1.05" stroke-linejoin="round">
<path fill="#00ba14" d="M349.6 1265.6l7.8 -3.1l9 2.3l-7.8 3.1z"/>
<path fill="#09c000" d="M340.6 1263.8l7.8 -3.1l9 1.8l-7.8 3.1z"/>
<path fill="#10bd00" d="M357.4 1262.5l8 -2.5l9 2.3l-8 2.5z"/>
<path fill="#26c700" d="M331.4 1262.5l7.8 -3.1l9.2 1.3l-7.8 3.1z"/>
<path fill="#2fc300" d="M348.4 1260.7l7.9 -2.5l9.1 1.8l-8 2.5z"/>
<path fill="#32c000" d="M365.4 1260l8 -1.7l9 2.3l-8 1.7z"/>
<path fill="#41cd00" d="M322.1 1261.7l7.8 -3.1l9.3 0.8l-7.8 3.1z"/>
<path fill="#4dca00" d="M339.2 1259.4l7.9 -2.4l9.2 1.2l-7.9 2.5z"/>
<path fill="#52c700" d="M356.3 1258.2l8 -1.7l9.1 1.8l-8 1.7z"/>
<path fill="#50c300" d="M373.4 1258.3l8.1 -1l9 2.3l-8.1 1z"/>
<path fill="#5bd400" d="M312.8 1261.4l7.7 -3l9.4 0.2l-7.8 3.1z"/>
<path fill="#6ad100" d="M329.9 1258.6l7.9 -2.4l9.3 0.8l-7.9 2.4z"/>
<path fill="#72ce00" d="M347.1 1257l8 -1.7l9.2 1.2l-8 1.7z"/>
<path fill="#72ca00" d="M364.3 1256.5l8.1 -1l9.1 1.8l-8.1 1z"/>
<path fill="#6cc500" d="M381.5 1257.3l8.2 -0.3l9 2.3l-8.2 0.3z"/>
<path fill="#73db00" d="M303.3 1261.7l7.7 -3l9.5 -0.3l-7.7 3z"/>
<path fill="#86d800" d="M320.5 1258.4l7.9 -2.4l9.4 0.2l-7.9 2.4z"/>
<path fill="#90d500" d="M337.8 1256.2l7.9 -1.6l9.4 0.7l-8 1.7z"/>
<path fill="#93d100" d="M355.1 1255.3l8.1 -1l9.2 1.2l-8.1 1z"/>
<path fill="#8fcd00" d="M372.4 1255.5l8.2 -0.2l9.1 1.7l-8.2 0.3z"/>
<path fill="#84c800" d="M389.7 1257l8.3 0.5l9 2.2l-8.3 -0.4z"/>
<path fill="#8ae200" d="M293.8 1262.6l7.7 -3l9.5 -0.9l-7.7 3z"/>
<path fill="#a0df00" d="M311 1258.7l7.9 -2.3l9.5 -0.4l-7.9 2.4z"/>
<path fill="#addc00" d="M328.4 1256l7.9 -1.6l9.4 0.2l-7.9 1.6z"/>
<path fill="#b3d800" d="M345.7 1254.6l8.1 -0.9l9.4 0.6l-8.1 1z"/>
<path fill="#b1d400" d="M363.2 1254.3l8.1 -0.2l9.3 1.2l-8.2 0.2z"/>
<path fill="#a8d000" d="M380.6 1255.3l8.3 0.5l9.1 1.7l-8.3 -0.5z"/>
<path fill="#99cb00" d="M398 1257.5l8.4 1.3l9 2.2l-8.4 -1.3z"/>
<path fill="#9ee900" d="M284.2 1264l7.6 -3l9.7 -1.4l-7.7 3z"/>
<path fill="#b7e600" d="M301.5 1259.6l7.8 -2.3l9.6 -0.9l-7.9 2.3z"/>
<path fill="#c9e300" d="M318.9 1256.4l7.9 -1.6l9.5 -0.4l-7.9 1.6z"/>
<path fill="#d2e000" d="M336.3 1254.4l8.1 -0.9l9.4 0.2l-8.1 0.9z"/>
<path fill="#d3dc00" d="M353.8 1253.7l8.2 -0.2l9.3 0.6l-8.1 0.2z"/>
<path fill="#ccd700" d="M371.3 1254.1l8.3 0.6l9.3 1.1l-8.3 -0.5z"/>
<path fill="#bed300" d="M388.9 1255.8l8.3 1.4l9.2 1.6l-8.4 -1.3z"/>
<path fill="#aace00" d="M406.4 1258.8l8.4 2l9 2.2l-8.4 -2z"/>
<path fill="#afef00" d="M274.5 1266l7.6 -2.9l9.7 -2.1l-7.6 3z"/>
<path fill="#cded00" d="M291.8 1261l7.8 -2.2l9.7 -1.5l-7.8 2.3z"/>
<path fill="#e2eb00" d="M309.3 1257.3l7.9 -1.5l9.6 -1l-7.9 1.6z"/>
<path fill="#e7e000" d="M326.8 1254.8l8 -0.8l9.6 -0.5l-8.1 0.9z"/>
<path fill="#e4d500" d="M344.4 1253.5l8.1 -0.1l9.5 0.1l-8.2 0.2z"/>
<path fill="#dfd000" d="M362 1253.5l8.3 0.6l9.3 0.6l-8.3 -0.6z"/>
<path fill="#dbd200" d="M379.6 1254.7l8.4 1.4l9.2 1.1l-8.3 -1.4z"/>
<path fill="#d0d500" d="M397.2 1257.2l8.5 2l9.1 1.6l-8.4 -2z"/>
<path fill="#b7d000" d="M414.8 1260.8l8.5 2.9l9 2l-8.5 -2.7z"/>
<path fill="#bef600" d="M264.7 1268.5l7.6 -2.8l9.8 -2.6l-7.6 2.9z"/>
<path fill="#e0f400" d="M282.1 1263.1l7.7 -2.2l9.8 -2.1l-7.8 2.2z"/>
<path fill="#f2eb00" d="M299.6 1258.8l7.9 -1.5l9.7 -1.5l-7.9 1.5z"/>
<path fill="#efd500" d="M317.2 1255.8l8 -0.8l9.6 -1l-8 0.8z"/>
<path fill="#ebc600" d="M334.8 1254l8.2 -0.1l9.5 -0.5l-8.1 0.1z"/>
<path fill="#e7bf00" d="M352.5 1253.4l8.3 0.7l9.5 0l-8.3 -0.6z"/>
<path fill="#e3bf00" d="M370.3 1254.1l8.3 1.4l9.4 0.6l-8.4 -1.4z"/>
<path fill="#ddc500" d="M388 1256.1l8.4 2.1l9.3 1l-8.5 -2z"/>
<path fill="#d8d200" d="M405.7 1259.2l8.5 2.9l9.1 1.6l-8.5 -2.9z"/>
<path fill="#c0d200" d="M423.3 1263.7l8.6 3.6l9 2l-8.6 -3.6z"/>
<path fill="#c9fd00" d="M254.9 1271.7l7.5 -2.8l9.9 -3.2l-7.6 2.8z"/>
<path fill="#f0fb00" d="M272.3 1265.7l7.7 -2.2l9.8 -2.6l-7.7 2.2z"/>
<path fill="#f9e500" d="M289.8 1260.9l7.9 -1.4l9.8 -2.2l-7.9 1.5z"/>
<path fill="#f6cb00" d="M307.5 1257.3l8 -0.7l9.7 -1.6l-8 0.8z"/>
<path fill="#f3ba00" d="M325.2 1255l8.1 0l9.7 -1.1l-8.2 0.1z"/>
<path fill="#efb000" d="M343 1253.9l8.2 0.7l9.6 -0.5l-8.3 -0.7z"/>
<path fill="#ebad00" d="M360.8 1254.1l8.3 1.5l9.5 -0.1l-8.3 -1.4z"/>
<path fill="#e6b100" d="M378.6 1255.5l8.5 2.2l9.3 0.5l-8.4 -2.1z"/>
<path fill="#e0bc00" d="M396.4 1258.2l8.5 2.9l9.3 1l-8.5 -2.9z"/>
<path fill="#dacd00" d="M414.2 1262.1l8.6 3.7l9.1 1.5l-8.6 -3.6z"/>
<path fill="#c4d400" d="M431.9 1267.3l8.6 4.4l9 2l-8.6 -4.4z"/>
<path fill="#cdff00" d="M245 1275.4l7.5 -2.8l9.9 -3.7l-7.5 2.8z"/>
<path fill="#f9ff00" d="M262.4 1268.9l7.7 -2.1l9.9 -3.3l-7.7 2.2z"/>
<path fill="#ffe100" d="M280 1263.5l7.8 -1.3l9.9 -2.7l-7.9 1.4z"/>
<path fill="#fec500" d="M297.7 1259.5l8 -0.7l9.8 -2.2l-8 0.7z"/>
<path fill="#fbb000" d="M315.5 1256.6l8.1 0.1l9.7 -1.7l-8.1 0z"/>
<path fill="#f7a200" d="M333.3 1255l8.3 0.8l9.6 -1.2l-8.2 -0.7z"/>
<path fill="#f39d00" d="M351.2 1254.6l8.4 1.6l9.5 -0.6l-8.3 -1.5z"/>
<path fill="#ee9f00" d="M369.1 1255.6l8.5 2.2l9.5 -0.1l-8.5 -2.2z"/>
<path fill="#e8a800" d="M387.1 1257.7l8.5 3l9.3 0.4l-8.5 -2.9z"/>
<path fill="#e2b700" d="M404.9 1261.1l8.6 3.8l9.3 0.9l-8.6 -3.7z"/>
<path fill="#dccc00" d="M422.8 1265.8l8.6 4.5l9.1 1.4l-8.6 -4.4z"/>
<path fill="#c5d600" d="M440.5 1271.7l8.7 5.3l9 1.9l-8.7 -5.2z"/>
<path fill="#ccff01" d="M235 1279.7l7.5 -2.7l10 -4.4l-7.5 2.8z"/>
<path fill="#fcff00" d="M252.5 1272.6l7.6 -1.9l10 -3.9l-7.7 2.1z"/>
<path fill="#ffdb00" d="M270.1 1266.8l7.8 -1.3l9.9 -3.3l-7.8 1.3z"/>
<path fill="#ffbc00" d="M287.8 1262.2l8 -0.6l9.9 -2.8l-8 0.7z"/>
<path fill="#ffa600" d="M305.7 1258.8l8 0.1l9.9 -2.2l-8.1 -0.1z"/>
<path fill="#ff9700" d="M323.6 1256.7l8.2 0.8l9.8 -1.7l-8.3 -0.8z"/>
<path fill="#fb8f00" d="M341.6 1255.8l8.3 1.5l9.7 -1.1l-8.4 -1.6z"/>
<path fill="#f68f00" d="M359.6 1256.2l8.4 2.3l9.6 -0.7l-8.5 -2.2z"/>
<path fill="#f19500" d="M377.6 1257.8l8.5 3.1l9.5 -0.2l-8.5 -3z"/>
<path fill="#eba300" d="M395.6 1260.7l8.6 3.8l9.3 0.4l-8.6 -3.8z"/>
<path fill="#e4b600" d="M413.5 1264.9l8.7 4.6l9.2 0.8l-8.6 -4.5z"/>
<path fill="#ded000" d="M431.4 1270.3l8.7 5.4l9.1 1.3l-8.7 -5.3z"/>
<path fill="#c0d700" d="M449.2 1277l8.8 6.1l8.9 1.8l-8.7 -6z"/>
<path fill="#caff0d" d="M225 1284.6l7.4 -2.6l10.1 -5l-7.5 2.7z"/>
<path fill="#faff0a" d="M242.5 1277l7.6 -1.9l10 -4.4l-7.6 1.9z"/>
<path fill="#ffda06" d="M260.1 1270.7l7.8 -1.3l10 -3.9l-7.8 1.3z"/>
<path fill="#ffb700" d="M277.9 1265.5l7.9 -0.6l10 -3.3l-8 0.6z"/>
<path fill="#ff9d00" d="M295.8 1261.6l8 0.1l9.9 -2.8l-8 -0.1z"/>
<path fill="#ff8b00" d="M313.7 1258.9l8.2 0.9l9.9 -2.3l-8.2 -0.8z"/>
<path fill="#ff8200" d="M331.8 1257.5l8.3 1.6l9.8 -1.8l-8.3 -1.5z"/>
<path fill="#ff8000" d="M349.9 1257.3l8.4 2.4l9.7 -1.2l-8.4 -2.3z"/>
<path fill="#f98400" d="M368 1258.5l8.5 3.1l9.6 -0.7l-8.5 -3.1z"/>
<path fill="#f39000" d="M386.1 1260.9l8.6 3.9l9.5 -0.3l-8.6 -3.8z"/>
<path fill="#eda200" d="M404.2 1264.5l8.6 4.7l9.4 0.3l-8.7 -4.6z"/>
<path fill="#e6ba00" d="M422.2 1269.5l8.7 5.4l9.2 0.8l-8.7 -5.4z"/>
<path fill="#dfd700" d="M440.1 1275.7l8.8 6.1l9.1 1.3l-8.8 -6.1z"/>
<path fill="#b7d800" d="M458 1283.1l8.7 6.9l9 1.7l-8.8 -6.8z"/>
<path fill="#c5ff19" d="M214.9 1290.1l7.4 -2.5l10.1 -5.6l-7.4 2.6z"/>
<path fill="#f6ff17" d="M232.4 1282l7.6 -1.8l10.1 -5.1l-7.6 1.9z"/>
<path fill="#ffde13" d="M250.1 1275.1l7.7 -1.2l10.1 -4.5l-7.8 1.3z"/>
<path fill="#ffba0e" d="M267.9 1269.4l7.9 -0.5l10 -4l-7.9 0.6z"/>
<path fill="#ff9b08" d="M285.8 1264.9l8 0.3l10 -3.5l-8 -0.1z"/>
<path fill="#ff8300" d="M303.8 1261.7l8.2 1l9.9 -2.9l-8.2 -0.9z"/>
<path fill="#ff7600" d="M321.9 1259.8l8.3 1.7l9.9 -2.4l-8.3 -1.6z"/>
<path fill="#ff7100" d="M340.1 1259.1l8.4 2.5l9.8 -1.9l-8.4 -2.4z"/>
<path fill="#ff7500" d="M358.3 1259.7l8.5 3.2l9.7 -1.3l-8.5 -3.1z"/>
<path fill="#fc7f00" d="M376.5 1261.6l8.6 4l9.6 -0.8l-8.6 -3.9z"/>
<path fill="#f58f00" d="M394.7 1264.8l8.6 4.7l9.5 -0.3l-8.6 -4.7z"/>
<path fill="#eea500" d="M412.8 1269.2l8.7 5.5l9.4 0.2l-8.7 -5.4z"/>
<path fill="#e7c100" d="M430.9 1274.9l8.7 6.2l9.3 0.7l-8.8 -6.1z"/>
<path fill="#dde000" d="M448.9 1281.8l8.8 7l9 1.2l-8.7 -6.9z"/>
<path fill="#a9d900" d="M466.7 1290l8.8 7.7l9 1.7l-8.8 -7.7z"/>
<path fill="#bdff24" d="M204.8 1296.2l7.4 -2.4l10.1 -6.2l-7.4 2.5z"/>
<path fill="#eeff23" d="M222.3 1287.6l7.5 -1.8l10.2 -5.6l-7.6 1.8z"/>
<path fill="#ffe520" d="M240 1280.2l7.7 -1.1l10.1 -5.2l-7.7 1.2z"/>
<path fill="#ffc01c" d="M257.8 1273.9l7.9 -0.4l10.1 -4.6l-7.9 0.5z"/>
<path fill="#ffa016" d="M275.8 1268.9l8 0.4l10 -4.1l-8 -0.3z"/>
<path fill="#ff860f" d="M293.8 1265.2l8.2 1l10 -3.5l-8.2 -1z"/>
<path fill="#ff7105" d="M312 1262.7l8.3 1.8l9.9 -3l-8.3 -1.7z"/>
<path fill="#ff6600" d="M330.2 1261.5l8.4 2.5l9.9 -2.4l-8.4 -2.5z"/>
<path fill="#ff6600" d="M348.5 1261.6l8.5 3.3l9.8 -2l-8.5 -3.2z"/>
<path fill="#ff6e00" d="M366.8 1262.9l8.6 4.1l9.7 -1.4l-8.6 -4z"/>
<path fill="#fe7e00" d="M385.1 1265.6l8.6 4.8l9.6 -0.9l-8.6 -4.7z"/>
<path fill="#f79300" d="M403.3 1269.5l8.7 5.5l9.5 -0.3l-8.7 -5.5z"/>
<path fill="#f0ad00" d="M421.5 1274.7l8.8 6.3l9.3 0.1l-8.7 -6.2z"/>
<path fill="#e8ce00" d="M439.6 1281.1l8.8 7.1l9.3 0.6l-8.8 -7z"/>
<path fill="#cee000" d="M457.7 1288.8l8.8 7.9l9 1l-8.8 -7.7z"/>
<path fill="#96d900" d="M475.5 1297.7l8.9 8.6l8.9 1.6l-8.8 -8.5z"/>
<path fill="#b3ff2f" d="M194.7 1303l7.3 -2.4l10.2 -6.8l-7.4 2.4z"/>
<path fill="#e5ff2e" d="M212.2 1293.8l7.4 -1.7l10.2 -6.3l-7.5 1.8z"/>
<path fill="#ffee2c" d="M229.8 1285.8l7.7 -1l10.2 -5.7l-7.7 1.1z"/>
<path fill="#ffc829" d="M247.7 1279.1l7.8 -0.4l10.2 -5.2l-7.9 0.4z"/>
<path fill="#ffa824" d="M265.7 1273.5l7.9 0.4l10.2 -4.6l-8 -0.4z"/>
<path fill="#ff8c1d" d="M283.8 1269.3l8.1 1.1l10.1 -4.2l-8.2 -1z"/>
<path fill="#ff7615" d="M302 1266.2l8.2 1.9l10.1 -3.6l-8.3 -1.8z"/>
<path fill="#ff640b" d="M320.3 1264.5l8.3 2.6l10 -3.1l-8.4 -2.5z"/>
<path fill="#ff5a00" d="M338.6 1264l8.5 3.4l9.9 -2.5l-8.5 -3.3z"/>
<path fill="#ff5f00" d="M357 1264.9l8.6 4.1l9.8 -2l-8.6 -4.1z"/>
<path fill="#ff6c00" d="M375.4 1267l8.6 4.8l9.7 -1.4l-8.6 -4.8z"/>
<path fill="#ff8200" d="M393.7 1270.4l8.7 5.6l9.6 -1l-8.7 -5.5z"/>
<path fill="#f89b00" d="M412 1275l8.8 6.5l9.5 -0.5l-8.8 -6.3z"/>
<path fill="#f0ba00" d="M430.3 1281l8.8 7.2l9.3 0l-8.8 -7.1z"/>
<path fill="#e8de00" d="M448.4 1288.2l8.9 7.9l9.2 0.6l-8.8 -7.9z"/>
<path fill="#bbe100" d="M466.5 1296.7l8.8 8.6l9.1 1l-8.9 -8.6z"/>
<path fill="#7fd900" d="M484.4 1306.3l8.8 9.4l8.9 1.5l-8.8 -9.3z"/>
<path fill="#a7ff39" d="M184.5 1310.3l7.3 -2.3l10.2 -7.4l-7.3 2.4z"/>
<path fill="#d9ff39" d="M202 1300.6l7.4 -1.6l10.2 -6.9l-7.4 1.7z"/>
<path fill="#fff938" d="M219.6 1292.1l7.6 -0.9l10.3 -6.4l-7.7 1z"/>
<path fill="#ffd335" d="M237.5 1284.8l7.8 -0.2l10.2 -5.9l-7.8 0.4z"/>
<path fill="#ffb231" d="M255.5 1278.7l7.9 0.5l10.2 -5.3l-7.9 -0.4z"/>
<path fill="#ff962c" d="M273.6 1273.9l8.1 1.2l10.2 -4.7l-8.1 -1.1z"/>
<path fill="#ff7e24" d="M291.9 1270.4l8.2 1.9l10.1 -4.2l-8.2 -1.9z"/>
<path fill="#ff6b1a" d="M310.2 1268.1l8.4 2.7l10 -3.7l-8.3 -2.6z"/>
<path fill="#ff5d0f" d="M328.6 1267.1l8.5 3.4l10 -3.1l-8.5 -3.4z"/>
<path fill="#ff5501" d="M347.1 1267.4l8.5 4.2l10 -2.6l-8.6 -4.1z"/>
<path fill="#ff5e00" d="M365.6 1269l8.6 4.9l9.8 -2.1l-8.6 -4.8z"/>
<path fill="#ff7000" d="M384 1271.8l8.7 5.8l9.7 -1.6l-8.7 -5.6z"/>
<path fill="#ff8a00" d="M402.4 1276l8.8 6.5l9.6 -1l-8.8 -6.5z"/>
<path fill="#f9a800" d="M420.8 1281.5l8.8 7.2l9.5 -0.5l-8.8 -7.2z"/>
<path fill="#f0cb00" d="M439.1 1288.2l8.8 8l9.4 -0.1l-8.9 -7.9z"/>
<path fill="#dee800" d="M457.3 1296.1l8.8 8.8l9.2 0.4l-8.8 -8.6z"/>
<path fill="#a2e100" d="M475.3 1305.3l8.9 9.5l9 0.9l-8.8 -9.4z"/>
<path fill="#63d900" d="M493.2 1315.7l8.9 10.3l8.8 1.3l-8.8 -10.1z"/>
<path fill="#99ff42" d="M174.3 1318.2l7.2 -2.1l10.3 -8.1l-7.3 2.3z"/>
<path fill="#ccff43" d="M191.8 1308l7.3 -1.5l10.3 -7.5l-7.4 1.6z"/>
<path fill="#f8ff42" d="M209.4 1299l7.6 -0.8l10.2 -7l-7.6 0.9z"/>
<path fill="#ffe041" d="M227.2 1291.2l7.8 -0.2l10.3 -6.4l-7.8 0.2z"/>
<path fill="#ffbe3e" d="M245.3 1284.6l7.9 0.5l10.2 -5.9l-7.9 -0.5z"/>
<path fill="#ffa139" d="M263.4 1279.2l8.1 1.3l10.2 -5.4l-8.1 -1.2z"/>
<path fill="#ff8932" d="M281.7 1275.1l8.2 2l10.2 -4.8l-8.2 -1.9z"/>
<path fill="#ff7429" d="M300.1 1272.3l8.3 2.8l10.2 -4.3l-8.4 -2.7z"/>
<path fill="#ff641e" d="M318.6 1270.8l8.4 3.5l10.1 -3.8l-8.5 -3.4z"/>
<path fill="#ff5911" d="M337.1 1270.5l8.5 4.3l10 -3.2l-8.5 -4.2z"/>
<path fill="#ff5503" d="M355.6 1271.6l8.7 5l9.9 -2.7l-8.6 -4.9z"/>
<path fill="#ff6200" d="M374.2 1273.9l8.7 5.8l9.8 -2.1l-8.7 -5.8z"/>
<path fill="#ff7900" d="M392.7 1277.6l8.8 6.5l9.7 -1.6l-8.8 -6.5z"/>
<path fill="#ff9800" d="M411.2 1282.5l8.8 7.3l9.6 -1.1l-8.8 -7.2z"/>
<path fill="#f9ba00" d="M429.6 1288.7l8.9 8.1l9.4 -0.6l-8.8 -8z"/>
<path fill="#f0e100" d="M447.9 1296.2l8.9 8.8l9.3 -0.1l-8.8 -8.8z"/>
<path fill="#c4e800" d="M466.1 1304.9l8.9 9.6l9.2 0.3l-8.9 -9.5z"/>
<path fill="#85e000" d="M484.2 1314.8l8.9 10.4l9 0.8l-8.9 -10.3z"/>
<path fill="#43d800" d="M502.1 1326l8.8 11.1l8.8 1.2l-8.8 -11z"/>
<path fill="#8aff4b" d="M164.1 1326.8l7.1 -2.1l10.3 -8.6l-7.2 2.1z"/>
<path fill="#bdff4c" d="M181.5 1316.1l7.3 -1.5l10.3 -8.1l-7.3 1.5z"/>
<path fill="#eaff4c" d="M199.1 1306.5l7.6 -0.7l10.3 -7.6l-7.6 0.8z"/>
<path fill="#ffed4c" d="M217 1298.2l7.7 -0.1l10.3 -7.1l-7.8 0.2z"/>
<path fill="#ffcc49" d="M235 1291l7.9 0.7l10.3 -6.6l-7.9 -0.5z"/>
<path fill="#ffaf45" d="M253.2 1285.1l8 1.4l10.3 -6l-8.1 -1.3z"/>
<path fill="#ff963f" d="M271.5 1280.5l8.2 2.1l10.2 -5.5l-8.2 -2z"/>
<path fill="#ff8037" d="M289.9 1277.1l8.3 2.9l10.2 -4.9l-8.3 -2.8z"/>
<path fill="#ff6e2d" d="M308.4 1275.1l8.5 3.6l10.1 -4.4l-8.4 -3.5z"/>
<path fill="#ff6121" d="M327 1274.3l8.6 4.3l10 -3.8l-8.5 -4.3z"/>
<path fill="#ff5a13" d="M345.6 1274.8l8.7 5.1l10 -3.3l-8.7 -5z"/>
<path fill="#ff5903" d="M364.3 1276.6l8.7 5.9l9.9 -2.8l-8.7 -5.8z"/>
<path fill="#ff6b00" d="M382.9 1279.7l8.8 6.7l9.8 -2.3l-8.8 -6.5z"/>
<path fill="#ff8600" d="M401.5 1284.1l8.8 7.5l9.7 -1.8l-8.8 -7.3z"/>
<path fill="#ffaa00" d="M420 1289.8l8.9 8.2l9.6 -1.2l-8.9 -8.1z"/>
<path fill="#f8d100" d="M438.5 1296.8l8.9 9l9.4 -0.8l-8.9 -8.8z"/>
<path fill="#e5f000" d="M456.8 1305l8.9 9.8l9.3 -0.3l-8.9 -9.6z"/>
<path fill="#a6e800" d="M475 1314.5l8.9 10.5l9.2 0.2l-8.9 -10.4z"/>
<path fill="#64e000" d="M493.1 1325.2l8.8 11.2l9 0.7l-8.8 -11.1z"/>
<path fill="#1fd800" d="M510.9 1337.1l8.9 11.9l8.8 1.1l-8.9 -11.8z"/>
<path fill="#7aff52" d="M153.9 1335.9l7.1 -1.9l10.2 -9.3l-7.1 2.1z"/>
<path fill="#aeff54" d="M171.2 1324.7l7.3 -1.3l10.3 -8.8l-7.3 1.5z"/>
<path fill="#dbff56" d="M188.8 1314.6l7.5 -0.6l10.4 -8.2l-7.6 0.7z"/>
<path fill="#fffc55" d="M206.7 1305.8l7.6 0l10.4 -7.7l-7.7 0.1z"/>
<path fill="#ffdb54" d="M224.7 1298.1l7.8 0.7l10.4 -7.1l-7.9 -0.7z"/>
<path fill="#ffbd51" d="M242.9 1291.7l7.9 1.4l10.4 -6.6l-8 -1.4z"/>
<path fill="#ffa44c" d="M261.2 1286.5l8.1 2.2l10.4 -6.1l-8.2 -2.1z"/>
<path fill="#ff8e45" d="M279.7 1282.6l8.2 2.9l10.3 -5.5l-8.3 -2.9z"/>
<path fill="#ff7b3b" d="M298.2 1280l8.4 3.7l10.3 -5l-8.5 -3.6z"/>
<path fill="#ff6c30" d="M316.9 1278.7l8.5 4.4l10.2 -4.5l-8.6 -4.3z"/>
<path fill="#ff6222" d="M335.6 1278.6l8.6 5.2l10.1 -3.9l-8.7 -5.1z"/>
<path fill="#ff5e13" d="M354.3 1279.9l8.7 6l10 -3.4l-8.7 -5.9z"/>
<path fill="#ff6202" d="M373 1282.5l8.8 6.8l9.9 -2.9l-8.8 -6.7z"/>
<path fill="#ff7900" d="M391.7 1286.4l8.8 7.5l9.8 -2.3l-8.8 -7.5z"/>
<path fill="#ff9900" d="M410.3 1291.6l8.9 8.3l9.7 -1.9l-8.9 -8.2z"/>
<path fill="#ffc200" d="M428.9 1298l8.9 9.1l9.6 -1.3l-8.9 -9z"/>
<path fill="#f7ec00" d="M447.4 1305.8l8.9 9.8l9.4 -0.8l-8.9 -9.8z"/>
<path fill="#c5ef00" d="M465.7 1314.8l8.9 10.5l9.3 -0.3l-8.9 -10.5z"/>
<path fill="#83e700" d="M483.9 1325l8.9 11.3l9.1 0.1l-8.8 -11.2z"/>
<path fill="#3edf00" d="M501.9 1336.4l8.9 12l9 0.6l-8.9 -11.9z"/>
<path fill="#00d70a" d="M519.8 1349l8.8 12.8l8.8 1l-8.8 -12.7z"/>
<path fill="#69ff5a" d="M143.6 1345.7l7.1 -1.9l10.3 -9.8l-7.1 1.9z"/>
<path fill="#9dff5c" d="M161 1334l7.2 -1.2l10.3 -9.4l-7.3 1.3z"/>
<path fill="#cbff5e" d="M178.5 1323.4l7.4 -0.6l10.4 -8.8l-7.5 0.6z"/>
<path fill="#f2ff5e" d="M196.3 1314l7.6 0.1l10.4 -8.3l-7.6 0z"/>
<path fill="#ffea5e" d="M214.3 1305.8l7.8 0.8l10.4 -7.8l-7.8 -0.7z"/>
<path fill="#ffcd5b" d="M232.5 1298.8l8 1.6l10.3 -7.3l-7.9 -1.4z"/>
<path fill="#ffb357" d="M250.8 1293.1l8.2 2.3l10.3 -6.7l-8.1 -2.2z"/>
<path fill="#ff9d51" d="M269.3 1288.7l8.3 3l10.3 -6.2l-8.2 -2.9z"/>
<path fill="#ff8949" d="M287.9 1285.5l8.4 3.8l10.3 -5.6l-8.4 -3.7z"/>
<path fill="#ff793e" d="M306.6 1283.7l8.5 4.5l10.3 -5.1l-8.5 -4.4z"/>
<path fill="#ff6d31" d="M325.4 1283.1l8.6 5.3l10.2 -4.6l-8.6 -5.2z"/>
<path fill="#ff6622" d="M344.2 1283.8l8.7 6.1l10.1 -4l-8.7 -6z"/>
<path fill="#ff6612" d="M363 1285.9l8.8 6.8l10 -3.4l-8.8 -6.8z"/>
<path fill="#ff6f00" d="M381.8 1289.3l8.8 7.6l9.9 -3l-8.8 -7.5z"/>
<path fill="#ff8c00" d="M400.5 1293.9l8.9 8.4l9.8 -2.4l-8.9 -8.3z"/>
<path fill="#ffb100" d="M419.2 1299.9l8.9 9.1l9.7 -1.9l-8.9 -9.1z"/>
<path fill="#ffdf00" d="M437.8 1307.1l9 9.9l9.5 -1.4l-8.9 -9.8z"/>
<path fill="#e1f600" d="M456.3 1315.6l8.9 10.7l9.4 -1l-8.9 -10.5z"/>
<path fill="#a0ee00" d="M474.6 1325.3l9 11.5l9.2 -0.5l-8.9 -11.3z"/>
<path fill="#5be600" d="M492.8 1336.3l8.9 12.1l9.1 0l-8.9 -12z"/>
<path fill="#14de00" d="M510.8 1348.4l8.9 12.9l8.9 0.5l-8.8 -12.8z"/>
<path fill="#00d636" d="M528.6 1361.8l8.8 13.5l8.8 0.9l-8.8 -13.4z"/>
<path fill="#60ff69" d="M133.4 1356l7 -1.7l10.3 -10.5l-7.1 1.9z"/>
<path fill="#8cff63" d="M150.7 1343.8l7.1 -1.1l10.4 -9.9l-7.2 1.2z"/>
<path fill="#baff65" d="M168.2 1332.8l7.4 -0.5l10.3 -9.5l-7.4 0.6z"/>
<path fill="#e2ff67" d="M185.9 1322.8l7.6 0.3l10.4 -9l-7.6 -0.1z"/>
<path fill="#fffa67" d="M203.9 1314.1l7.8 1l10.4 -8.5l-7.8 -0.8z"/>
<path fill="#ffdd65" d="M222.1 1306.6l7.9 1.7l10.5 -7.9l-8 -1.6z"/>
<path fill="#ffc362" d="M240.5 1300.4l8 2.4l10.5 -7.4l-8.2 -2.3z"/>
<path fill="#ffac5c" d="M259 1295.4l8.2 3.1l10.4 -6.8l-8.3 -3z"/>
<path fill="#ff9955" d="M277.6 1291.7l8.4 3.9l10.3 -6.3l-8.4 -3.8z"/>
<path fill="#ff874b" d="M296.3 1289.3l8.5 4.6l10.3 -5.7l-8.5 -4.5z"/>
<path fill="#ff7a3f" d="M315.1 1288.2l8.6 5.4l10.3 -5.2l-8.6 -5.3z"/>
<path fill="#ff7131" d="M334 1288.4l8.7 6.2l10.2 -4.7l-8.7 -6.1z"/>
<path fill="#ff6d21" d="M352.9 1289.9l8.7 7l10.2 -4.2l-8.8 -6.8z"/>
<path fill="#ff720f" d="M371.8 1292.7l8.8 7.8l10 -3.6l-8.8 -7.6z"/>
<path fill="#ff8300" d="M390.6 1296.9l8.9 8.5l9.9 -3.1l-8.9 -8.4z"/>
<path fill="#ffa400" d="M409.4 1302.3l8.9 9.3l9.8 -2.6l-8.9 -9.1z"/>
<path fill="#ffcf00" d="M428.1 1309l9 10.1l9.7 -2.1l-9 -9.9z"/>
<path fill="#fcfe00" d="M446.8 1317l8.9 10.8l9.5 -1.5l-8.9 -10.7z"/>
<path fill="#bbf500" d="M465.2 1326.3l9 11.5l9.4 -1l-9 -11.5z"/>
<path fill="#76ec00" d="M483.6 1336.8l8.9 12.2l9.2 -0.6l-8.9 -12.1z"/>
<path fill="#2fe400" d="M501.7 1348.4l8.9 13l9.1 -0.1l-8.9 -12.9z"/>
<path fill="#00dd1b" d="M519.7 1361.3l8.8 13.7l8.9 0.3l-8.8 -13.5z"/>
<path fill="#00d566" d="M537.4 1375.3l8.8 14.4l8.7 0.8l-8.7 -14.3z"/>
<path fill="#66ff88" d="M123.2 1367l6.9 -1.6l10.3 -11.1l-7 1.7z"/>
<path fill="#7aff69" d="M140.4 1354.3l7.1 -1l10.3 -10.6l-7.1 1.1z"/>
<path fill="#a9ff6c" d="M157.8 1342.7l7.4 -0.3l10.4 -10.1l-7.4 0.5z"/>
<path fill="#d1ff6e" d="M175.6 1332.3l7.5 0.4l10.4 -9.6l-7.6 -0.3z"/>
<path fill="#f3ff6f" d="M193.5 1323.1l7.7 1l10.5 -9l-7.8 -1z"/>
<path fill="#ffed6e" d="M211.7 1315.1l7.9 1.7l10.4 -8.5l-7.9 -1.7z"/>
<path fill="#ffd36b" d="M230 1308.3l8.1 2.5l10.4 -8l-8 -2.4z"/>
<path fill="#ffbd67" d="M248.5 1302.8l8.2 3.2l10.5 -7.5l-8.2 -3.1z"/>
<path fill="#ffa960" d="M267.2 1298.5l8.3 4l10.5 -6.9l-8.4 -3.9z"/>
<path fill="#ff9757" d="M286 1295.6l8.4 4.7l10.4 -6.4l-8.5 -4.6z"/>
<path fill="#ff884c" d="M304.8 1293.9l8.6 5.5l10.3 -5.8l-8.6 -5.4z"/>
<path fill="#ff7d3e" d="M323.7 1293.6l8.7 6.3l10.3 -5.3l-8.7 -6.2z"/>
<path fill="#ff782f" d="M342.7 1294.6l8.7 7l10.2 -4.7l-8.7 -7z"/>
<path fill="#ff791e" d="M361.6 1296.9l8.9 7.8l10.1 -4.2l-8.8 -7.8z"/>
<path fill="#ff830c" d="M380.6 1300.5l8.9 8.6l10 -3.7l-8.9 -8.5z"/>
<path fill="#ff9b00" d="M399.5 1305.4l8.9 9.3l9.9 -3.1l-8.9 -9.3z"/>
<path fill="#ffc200" d="M418.3 1311.6l9 10.1l9.8 -2.6l-9 -10.1z"/>
<path fill="#fff100" d="M437.1 1319.1l9 10.9l9.6 -2.2l-8.9 -10.8z"/>
<path fill="#d4fc00" d="M455.7 1327.8l9 11.7l9.5 -1.7l-9 -11.5z"/>
<path fill="#90f300" d="M474.2 1337.8l9 12.4l9.3 -1.2l-8.9 -12.2z"/>
<path fill="#49eb00" d="M492.5 1349l8.9 13.1l9.2 -0.7l-8.9 -13z"/>
<path fill="#00e301" d="M510.6 1361.4l8.9 13.9l9 -0.3l-8.8 -13.7z"/>
<path fill="#00db4d" d="M528.5 1375l8.9 14.5l8.8 0.2l-8.8 -14.4z"/>
<path fill="#00d49a" d="M546.2 1389.7l8.8 15.2l8.6 0.6l-8.7 -15z"/>
<path fill="#6bffa7" d="M112.9 1378.5l6.9 -1.4l10.3 -11.7l-6.9 1.6z"/>
<path fill="#6fff77" d="M130.1 1365.4l7 -0.9l10.4 -11.2l-7.1 1z"/>
<path fill="#96ff72" d="M147.5 1353.3l7.3 -0.2l10.4 -10.7l-7.4 0.3z"/>
<path fill="#bfff74" d="M165.2 1342.4l7.4 0.5l10.5 -10.2l-7.5 -0.4z"/>
<path fill="#e2ff76" d="M183.1 1332.7l7.6 1.1l10.5 -9.7l-7.7 -1z"/>
<path fill="#fffe76" d="M201.2 1324.1l7.9 1.9l10.5 -9.2l-7.9 -1.7z"/>
<path fill="#ffe474" d="M219.6 1316.8l8 2.6l10.5 -8.6l-8.1 -2.5z"/>
<path fill="#ffcd70" d="M238.1 1310.8l8.1 3.3l10.5 -8.1l-8.2 -3.2z"/>
<path fill="#ffb96a" d="M256.7 1306l8.3 4.1l10.5 -7.6l-8.3 -4z"/>
<path fill="#ffa762" d="M275.5 1302.5l8.5 4.8l10.4 -7l-8.4 -4.7z"/>
<path fill="#ff9858" d="M294.4 1300.3l8.6 5.6l10.4 -6.5l-8.6 -5.5z"/>
<path fill="#ff8c4b" d="M313.4 1299.4l8.7 6.4l10.3 -5.9l-8.7 -6.3z"/>
<path fill="#ff843c" d="M332.4 1299.9l8.8 7.1l10.2 -5.4l-8.7 -7z"/>
<path fill="#ff822c" d="M351.4 1301.6l8.9 7.9l10.2 -4.8l-8.9 -7.8z"/>
<path fill="#ff891a" d="M370.5 1304.7l8.9 8.7l10.1 -4.3l-8.9 -8.6z"/>
<path fill="#ff9907" d="M389.5 1309.1l8.9 9.4l10 -3.8l-8.9 -9.3z"/>
<path fill="#ffb900" d="M408.4 1314.7l9 10.3l9.9 -3.3l-9 -10.1z"/>
<path fill="#ffe500" d="M427.3 1321.7l9 11l9.8 -2.7l-9 -10.9z"/>
<path fill="#e6ff00" d="M446.1 1330l9 11.7l9.6 -2.2l-9 -11.7z"/>
<path fill="#a7fa00" d="M464.7 1339.5l9 12.5l9.5 -1.8l-9 -12.4z"/>
<path fill="#60f200" d="M483.2 1350.2l8.9 13.2l9.3 -1.3l-8.9 -13.1z"/>
<path fill="#17e900" d="M501.4 1362.1l9 14l9.1 -0.8l-8.9 -13.9z"/>
<path fill="#00e135" d="M519.5 1375.3l8.9 14.6l9 -0.4l-8.9 -14.5z"/>
<path fill="#00da82" d="M537.4 1389.5l8.8 15.3l8.8 0.1l-8.8 -15.2z"/>
<path fill="#00d3d2" d="M555 1404.9l8.7 16l8.6 0.5l-8.7 -15.9z"/>
<path fill="#74ff95" d="M119.8 1377.1l7 -0.8l10.3 -11.8l-7 0.9z"/>
<path fill="#83ff77" d="M137.1 1364.5l7.3 -0.1l10.4 -11.3l-7.3 0.2z"/>
<path fill="#adff7a" d="M154.8 1353.1l7.4 0.6l10.4 -10.8l-7.4 -0.5z"/>
<path fill="#d1ff7c" d="M172.6 1342.9l7.6 1.2l10.5 -10.3l-7.6 -1.1z"/>
<path fill="#efff7c" d="M190.7 1333.8l7.8 2l10.6 -9.8l-7.9 -1.9z"/>
<path fill="#fff47b" d="M209.1 1326l7.9 2.7l10.6 -9.3l-8 -2.6z"/>
<path fill="#ffde78" d="M227.6 1319.4l8.1 3.4l10.5 -8.7l-8.1 -3.3z"/>
<path fill="#ffca74" d="M246.2 1314.1l8.3 4.2l10.5 -8.2l-8.3 -4.1z"/>
<path fill="#ffb86c" d="M265 1310.1l8.5 4.9l10.5 -7.7l-8.5 -4.8z"/>
<path fill="#ffa863" d="M284 1307.3l8.5 5.7l10.5 -7.1l-8.6 -5.6z"/>
<path fill="#ff9b57" d="M303 1305.9l8.6 6.5l10.5 -6.6l-8.7 -6.4z"/>
<path fill="#ff9249" d="M322.1 1305.8l8.7 7.2l10.4 -6l-8.8 -7.1z"/>
<path fill="#ff8e39" d="M341.2 1307l8.8 8l10.3 -5.5l-8.9 -7.9z"/>
<path fill="#ff9128" d="M360.3 1309.5l8.9 8.8l10.2 -4.9l-8.9 -8.7z"/>
<path fill="#ff9d15" d="M379.4 1313.4l8.9 9.5l10.1 -4.4l-8.9 -9.4z"/>
<path fill="#ffb502" d="M398.4 1318.5l9 10.4l10 -3.9l-9 -10.3z"/>
<path fill="#ffdc00" d="M417.4 1325l9 11.1l9.9 -3.4l-9 -11z"/>
<path fill="#f2ff00" d="M436.3 1332.7l9 11.9l9.8 -2.9l-9 -11.7z"/>
<path fill="#b9ff00" d="M455.1 1341.7l9 12.6l9.6 -2.3l-9 -12.5z"/>
<path fill="#75f800" d="M473.7 1352l9 13.3l9.4 -1.9l-8.9 -13.2z"/>
<path fill="#2df000" d="M492.1 1363.4l9 14.1l9.3 -1.4l-9 -14z"/>
<path fill="#00e81f" d="M510.4 1376.1l8.9 14.8l9.1 -1l-8.9 -14.6z"/>
<path fill="#00e06c" d="M528.4 1389.9l8.8 15.5l9 -0.6l-8.8 -15.3z"/>
<path fill="#00d9bc" d="M546.2 1404.8l8.7 16.2l8.8 -0.1l-8.7 -16z"/>
<path fill="#7cff89" d="M126.8 1376.3l7.2 0.1l10.4 -12l-7.3 0.1z"/>
<path fill="#9aff7f" d="M144.4 1364.4l7.3 0.7l10.5 -11.4l-7.4 -0.6z"/>
<path fill="#bfff81" d="M162.2 1353.7l7.5 1.4l10.5 -11l-7.6 -1.2z"/>
<path fill="#deff82" d="M180.2 1344.1l7.8 2.1l10.5 -10.4l-7.8 -2z"/>
<path fill="#f9ff82" d="M198.5 1335.8l8 2.8l10.5 -9.9l-7.9 -2.7z"/>
<path fill="#ffee80" d="M217 1328.7l8.1 3.5l10.6 -9.4l-8.1 -3.4z"/>
<path fill="#ffda7c" d="M235.7 1322.8l8.2 4.3l10.6 -8.8l-8.3 -4.2z"/>
<path fill="#ffc975" d="M254.5 1318.3l8.4 5l10.6 -8.3l-8.5 -4.9z"/>
<path fill="#ffb96d" d="M273.5 1315l8.5 5.8l10.5 -7.8l-8.5 -5.7z"/>
<path fill="#ffac62" d="M292.5 1313l8.6 6.6l10.5 -7.2l-8.6 -6.5z"/>
<path fill="#ffa154" d="M311.6 1312.4l8.8 7.3l10.4 -6.7l-8.7 -7.2z"/>
<path fill="#ff9c45" d="M330.8 1313l8.8 8.1l10.4 -6.1l-8.8 -8z"/>
<path fill="#ff9c34" d="M350 1315l8.9 8.9l10.3 -5.6l-8.9 -8.8z"/>
<path fill="#ffa422" d="M369.2 1318.3l8.9 9.7l10.2 -5.1l-8.9 -9.5z"/>
<path fill="#ffb710" d="M388.3 1322.9l9 10.5l10.1 -4.5l-9 -10.4z"/>
<path fill="#ffd700" d="M407.4 1328.9l9 11.2l10 -4l-9 -11.1z"/>
<path fill="#faff00" d="M426.4 1336.1l9 12l9.9 -3.5l-9 -11.9z"/>
<path fill="#c5ff00" d="M445.3 1344.6l9 12.7l9.8 -3l-9 -12.6z"/>
<path fill="#87fe00" d="M464.1 1354.3l9 13.5l9.6 -2.5l-9 -13.3z"/>
<path fill="#40f600" d="M482.7 1365.3l8.9 14.2l9.5 -2l-9 -14.1z"/>
<path fill="#00ee0b" d="M501.1 1377.5l8.9 14.9l9.3 -1.5l-8.9 -14.8z"/>
<path fill="#00e658" d="M519.3 1390.9l8.8 15.5l9.1 -1l-8.8 -15.5z"/>
<path fill="#00dea8" d="M537.2 1405.4l8.8 16.2l8.9 -0.6l-8.7 -16.2z"/>
<path fill="#87ff83" d="M134 1376.4l7.3 0.8l10.4 -12.1l-7.3 -0.7z"/>
<path fill="#adff86" d="M151.7 1365.1l7.5 1.6l10.5 -11.6l-7.5 -1.4z"/>
<path fill="#cdff88" d="M169.7 1355.1l7.8 2.2l10.5 -11.1l-7.8 -2.1z"/>
<path fill="#e8ff88" d="M188 1346.2l7.9 2.9l10.6 -10.5l-8 -2.8z"/>
<path fill="#ffff86" d="M206.5 1338.6l8 3.6l10.6 -10l-8.1 -3.5z"/>
<path fill="#ffeb83" d="M225.1 1332.2l8.2 4.4l10.6 -9.5l-8.2 -4.3z"/>
<path fill="#ffd97d" d="M243.9 1327.1l8.4 5.1l10.6 -8.9l-8.4 -5z"/>
<path fill="#ffca75" d="M262.9 1323.3l8.5 5.9l10.6 -8.4l-8.5 -5.8z"/>
<path fill="#ffbc6b" d="M282 1320.8l8.6 6.6l10.5 -7.8l-8.6 -6.6z"/>
<path fill="#ffb15f" d="M301.1 1319.6l8.8 7.4l10.5 -7.3l-8.8 -7.3z"/>
<path fill="#ffaa51" d="M320.4 1319.7l8.8 8.2l10.4 -6.8l-8.8 -8.1z"/>
<path fill="#ffa940" d="M339.6 1321.1l8.9 9l10.4 -6.2l-8.9 -8.9z"/>
<path fill="#ffae2f" d="M358.9 1323.9l8.9 9.8l10.3 -5.7l-8.9 -9.7z"/>
<path fill="#ffbd1c" d="M378.1 1328l9 10.5l10.2 -5.1l-9 -10.5z"/>
<path fill="#ffd809" d="M397.3 1333.4l9 11.3l10.1 -4.6l-9 -11.2z"/>
<path fill="#ffff00" d="M416.4 1340.1l9.1 12.1l9.9 -4.1l-9 -12z"/>
<path fill="#cdff00" d="M435.4 1348.1l9.1 12.8l9.8 -3.6l-9 -12.7z"/>
<path fill="#93ff00" d="M454.3 1357.3l9.1 13.6l9.7 -3.1l-9 -13.5z"/>
<path fill="#50fc00" d="M473.1 1367.8l9 14.3l9.5 -2.6l-8.9 -14.2z"/>
<path fill="#06f400" d="M491.6 1379.5l9 15l9.4 -2.1l-8.9 -14.9z"/>
<path fill="#00ec46" d="M510 1392.4l8.9 15.7l9.2 -1.7l-8.8 -15.5z"/>
<path fill="#00e495" d="M528.1 1406.4l8.9 16.5l9 -1.3l-8.8 -16.2z"/>
<path fill="#9aff8a" d="M141.3 1377.2l7.4 1.6l10.5 -12.1l-7.5 -1.6z"/>
<path fill="#bbff8c" d="M159.2 1366.7l7.7 2.3l10.6 -11.7l-7.8 -2.2z"/>
<path fill="#d7ff8c" d="M177.5 1357.3l7.8 3l10.6 -11.2l-7.9 -2.9z"/>
<path fill="#eeff8c" d="M195.9 1349.1l8 3.8l10.6 -10.7l-8 -3.6z"/>
<path fill="#fffb89" d="M214.5 1342.2l8.2 4.5l10.6 -10.1l-8.2 -4.4z"/>
<path fill="#ffea84" d="M233.3 1336.6l8.4 5.2l10.6 -9.6l-8.4 -5.1z"/>
<path fill="#ffda7d" d="M252.3 1332.2l8.5 6l10.6 -9l-8.5 -5.9z"/>
<path fill="#ffcd74" d="M271.4 1329.2l8.6 6.8l10.6 -8.6l-8.6 -6.6z"/>
<path fill="#ffc268" d="M290.6 1327.4l8.7 7.6l10.6 -8l-8.8 -7.4z"/>
<path fill="#ffba5b" d="M309.9 1327l8.8 8.3l10.5 -7.4l-8.8 -8.2z"/>
<path fill="#ffb74b" d="M329.2 1327.9l8.9 9.1l10.4 -6.9l-8.9 -9z"/>
<path fill="#ffba3a" d="M348.5 1330.1l9 9.9l10.3 -6.3l-8.9 -9.8z"/>
<path fill="#ffc628" d="M367.8 1333.7l9 10.6l10.3 -5.8l-9 -10.5z"/>
<path fill="#ffdc16" d="M387.1 1338.5l9 11.5l10.2 -5.3l-9 -11.3z"/>
<path fill="#ffff02" d="M406.3 1344.7l9.1 12.2l10.1 -4.7l-9.1 -12.1z"/>
<path fill="#d1ff00" d="M425.5 1352.2l9 12.9l10 -4.2l-9.1 -12.8z"/>
<path fill="#9bff00" d="M444.5 1360.9l9 13.7l9.9 -3.7l-9.1 -13.6z"/>
<path fill="#5cff00" d="M463.4 1370.9l9 14.4l9.7 -3.2l-9 -14.3z"/>
<path fill="#15f900" d="M482.1 1382.1l9 15.2l9.5 -2.8l-9 -15z"/>
<path fill="#00f137" d="M500.6 1394.5l8.9 15.9l9.4 -2.3l-8.9 -15.7z"/>
<path fill="#00ea85" d="M518.9 1408.1l8.9 16.6l9.2 -1.8l-8.9 -16.5z"/>
<path fill="#a8ff90" d="M148.7 1378.8l7.7 2.5l10.5 -12.3l-7.7 -2.3z"/>
<path fill="#c5ff91" d="M166.9 1369l7.8 3.1l10.6 -11.8l-7.8 -3z"/>
<path fill="#ddff90" d="M185.3 1360.3l8 3.9l10.6 -11.3l-8 -3.8z"/>
<path fill="#f2ff8e" d="M203.9 1352.9l8.2 4.6l10.6 -10.8l-8.2 -4.5z"/>
<path fill="#fffa8a" d="M222.7 1346.7l8.3 5.4l10.7 -10.3l-8.4 -5.2z"/>
<path fill="#ffeb84" d="M241.7 1341.8l8.4 6.2l10.7 -9.8l-8.5 -6z"/>
<path fill="#ffdd7b" d="M260.8 1338.2l8.6 6.9l10.6 -9.1l-8.6 -6.8z"/>
<path fill="#ffd271" d="M280 1336l8.7 7.6l10.6 -8.6l-8.7 -7.6z"/>
<path fill="#ffca64" d="M299.3 1335l8.8 8.4l10.6 -8.1l-8.8 -8.3z"/>
<path fill="#ffc655" d="M318.7 1335.3l8.8 9.2l10.6 -7.5l-8.9 -9.1z"/>
<path fill="#ffc845" d="M338.1 1337l8.9 10l10.5 -7l-9 -9.9z"/>
<path fill="#ffd134" d="M357.5 1340l9 10.8l10.3 -6.5l-9 -10.6z"/>
<path fill="#ffe321" d="M376.8 1344.3l9.1 11.6l10.2 -5.9l-9 -11.5z"/>
<path fill="#fcff0e" d="M396.1 1350l9.1 12.3l10.2 -5.4l-9.1 -12.2z"/>
<path fill="#d2ff00" d="M415.4 1356.9l9.1 13.1l10 -4.9l-9 -12.9z"/>
<path fill="#9fff00" d="M434.5 1365.1l9.1 13.9l9.9 -4.4l-9 -13.7z"/>
<path fill="#63ff00" d="M453.5 1374.6l9.1 14.6l9.8 -3.9l-9 -14.4z"/>
<path fill="#20ff00" d="M472.4 1385.3l9 15.3l9.7 -3.3l-9 -15.2z"/>
<path fill="#00f72b" d="M491.1 1397.3l8.9 16l9.5 -2.9l-8.9 -15.9z"/>
<path fill="#00ef78" d="M509.5 1410.4l8.9 16.7l9.4 -2.4l-8.9 -16.6z"/>
<path fill="#b2ff94" d="M156.4 1381.3l7.7 3.2l10.6 -12.4l-7.8 -3.1z"/>
<path fill="#ccff94" d="M174.7 1372.1l7.9 4l10.7 -11.9l-8 -3.9z"/>
<path fill="#e1ff92" d="M193.3 1364.2l8.1 4.7l10.7 -11.4l-8.2 -4.6z"/>
<path fill="#f3ff8f" d="M212.1 1357.5l8.2 5.5l10.7 -10.9l-8.3 -5.4z"/>
<path fill="#fffc8a" d="M231 1352.1l8.4 6.2l10.7 -10.3l-8.4 -6.2z"/>
<path fill="#ffee82" d="M250.1 1348l8.6 6.9l10.7 -9.8l-8.6 -6.9z"/>
<path fill="#ffe378" d="M269.4 1345.1l8.6 7.8l10.7 -9.3l-8.7 -7.6z"/>
<path fill="#ffdb6c" d="M288.7 1343.6l8.8 8.5l10.6 -8.7l-8.8 -8.4z"/>
<path fill="#ffd65f" d="M308.1 1343.4l8.8 9.3l10.6 -8.2l-8.8 -9.2z"/>
<path fill="#ffd64f" d="M327.5 1344.5l9 10.1l10.5 -7.6l-8.9 -10z"/>
<path fill="#ffde3e" d="M347 1347l9 10.9l10.5 -7.1l-9 -10.8z"/>
<path fill="#ffed2c" d="M366.5 1350.8l9 11.6l10.4 -6.5l-9.1 -11.6z"/>
<path fill="#f6ff1a" d="M385.9 1355.9l9 12.4l10.3 -6l-9.1 -12.3z"/>
<path fill="#d0ff07" d="M405.2 1362.3l9.1 13.2l10.2 -5.5l-9.1 -13.1z"/>
<path fill="#9fff00" d="M424.5 1370l9.1 13.9l10 -4.9l-9.1 -13.9z"/>
<path fill="#67ff00" d="M443.6 1379l9.1 14.6l9.9 -4.4l-9.1 -14.6z"/>
<path fill="#27ff00" d="M462.6 1389.2l9 15.4l9.8 -4l-9 -15.3z"/>
<path fill="#00fc21" d="M481.4 1400.6l9 16.1l9.6 -3.4l-8.9 -16z"/>
<path fill="#00f46d" d="M500 1413.3l9 16.8l9.4 -3l-8.9 -16.7z"/>
<path fill="#b9ff97" d="M164.1 1384.5l7.9 4.2l10.6 -12.6l-7.9 -4z"/>
<path fill="#cfff96" d="M182.6 1376.1l8.1 4.8l10.7 -12l-8.1 -4.7z"/>
<path fill="#e2ff93" d="M201.4 1368.9l8.2 5.6l10.7 -11.5l-8.2 -5.5z"/>
<path fill="#f1ff8f" d="M220.3 1363l8.4 6.3l10.7 -11l-8.4 -6.2z"/>
<path fill="#ffff88" d="M239.4 1358.3l8.5 7.1l10.8 -10.5l-8.6 -6.9z"/>
<path fill="#fff47f" d="M258.7 1354.9l8.6 7.9l10.7 -9.9l-8.6 -7.8z"/>
<path fill="#ffec74" d="M278 1352.9l8.8 8.6l10.7 -9.4l-8.8 -8.5z"/>
<path fill="#ffe767" d="M297.5 1352.1l8.8 9.5l10.6 -8.9l-8.8 -9.3z"/>
<path fill="#ffe658" d="M316.9 1352.7l9 10.2l10.6 -8.3l-9 -10.1z"/>
<path fill="#ffec48" d="M336.5 1354.6l9 11l10.5 -7.7l-9 -10.9z"/>
<path fill="#fff937" d="M356 1357.9l9 11.8l10.5 -7.3l-9 -11.6z"/>
<path fill="#eeff25" d="M375.5 1362.4l9.1 12.6l10.3 -6.7l-9 -12.4z"/>
<path fill="#cbff12" d="M394.9 1368.3l9.1 13.3l10.3 -6.1l-9.1 -13.2z"/>
<path fill="#9bff00" d="M414.3 1375.5l9.1 14l10.2 -5.6l-9.1 -13.9z"/>
<path fill="#67ff00" d="M433.6 1383.9l9.1 14.8l10 -5.1l-9.1 -14.6z"/>
<path fill="#2aff00" d="M452.7 1393.6l9 15.6l9.9 -4.6l-9 -15.4z"/>
<path fill="#00ff1b" d="M471.6 1404.6l9.1 16.2l9.7 -4.1l-9 -16.1z"/>
<path fill="#00fa66" d="M490.4 1416.7l9 17l9.6 -3.6l-9 -16.8z"/>
<path fill="#bdff99" d="M172 1388.7l8 4.9l10.7 -12.7l-8.1 -4.8z"/>
<path fill="#d0ff97" d="M190.7 1380.9l8.2 5.7l10.7 -12.1l-8.2 -5.6z"/>
<path fill="#e0ff93" d="M209.6 1374.5l8.4 6.4l10.7 -11.6l-8.4 -6.3z"/>
<path fill="#eeff8d" d="M228.7 1369.3l8.5 7.2l10.7 -11.1l-8.5 -7.1z"/>
<path fill="#f9ff84" d="M247.9 1365.4l8.7 8l10.7 -10.6l-8.6 -7.9z"/>
<path fill="#fffd7a" d="M267.3 1362.8l8.7 8.8l10.8 -10.1l-8.8 -8.6z"/>
<path fill="#fff86e" d="M286.8 1361.5l8.8 9.6l10.7 -9.5l-8.8 -9.5z"/>
<path fill="#fff760" d="M306.3 1361.6l8.9 10.3l10.7 -9l-9 -10.2z"/>
<path fill="#fffb51" d="M325.9 1362.9l9 11.1l10.6 -8.4l-9 -11z"/>
<path fill="#f7ff40" d="M345.5 1365.6l9 11.9l10.5 -7.8l-9 -11.8z"/>
<path fill="#e3ff2f" d="M365 1369.7l9.1 12.6l10.5 -7.3l-9.1 -12.6z"/>
<path fill="#c4ff1c" d="M384.6 1375l9.1 13.4l10.3 -6.8l-9.1 -13.3z"/>
<path fill="#98ff0a" d="M404 1381.6l9.2 14.2l10.2 -6.3l-9.1 -14z"/>
<path fill="#63ff00" d="M423.4 1389.5l9.1 15l10.2 -5.8l-9.1 -14.8z"/>
<path fill="#2aff00" d="M442.7 1398.7l9 15.7l10 -5.2l-9 -15.6z"/>
<path fill="#00ff18" d="M461.7 1409.2l9.1 16.3l9.9 -4.7l-9.1 -16.2z"/>
<path fill="#00ff61" d="M480.7 1420.8l9 17.1l9.7 -4.2l-9 -17z"/>
<path fill="#beff9a" d="M180 1393.6l8.2 5.8l10.7 -12.8l-8.2 -5.7z"/>
<path fill="#ceff96" d="M198.9 1386.6l8.3 6.6l10.8 -12.3l-8.4 -6.4z"/>
<path fill="#dcff91" d="M218 1380.9l8.4 7.4l10.8 -11.8l-8.5 -7.2z"/>
<path fill="#e7ff89" d="M237.2 1376.5l8.6 8.1l10.8 -11.2l-8.7 -8z"/>
<path fill="#efff80" d="M256.6 1373.4l8.7 8.8l10.7 -10.6l-8.7 -8.8z"/>
<path fill="#f5ff75" d="M276 1371.6l8.9 9.6l10.7 -10.1l-8.8 -9.6z"/>
<path fill="#f6ff67" d="M295.6 1371.1l8.9 10.4l10.7 -9.6l-8.9 -10.3z"/>
<path fill="#f3ff59" d="M315.2 1371.9l9 11.2l10.7 -9.1l-9 -11.1z"/>
<path fill="#e8ff49" d="M334.9 1374l9 12l10.6 -8.5l-9 -11.9z"/>
<path fill="#d6ff38" d="M354.5 1377.5l9.1 12.8l10.5 -8l-9.1 -12.6z"/>
<path fill="#baff26" d="M374.1 1382.3l9.1 13.5l10.5 -7.4l-9.1 -13.4z"/>
<path fill="#92ff14" d="M393.7 1388.4l9.1 14.3l10.4 -6.9l-9.2 -14.2z"/>
<path fill="#5dff02" d="M413.2 1395.8l9.1 15l10.2 -6.3l-9.1 -15z"/>
<path fill="#25ff00" d="M432.5 1404.5l9.1 15.7l10.1 -5.8l-9 -15.7z"/>
<path fill="#00ff18" d="M451.7 1414.4l9.1 16.5l10 -5.4l-9.1 -16.3z"/>
<path fill="#00ff5f" d="M470.8 1425.5l9 17.2l9.9 -4.8l-9 -17.1z"/>
<path fill="#bcff99" d="M188.2 1399.4l8.3 6.7l10.7 -12.9l-8.3 -6.6z"/>
<path fill="#caff94" d="M207.2 1393.2l8.5 7.4l10.7 -12.3l-8.4 -7.4z"/>
<path fill="#d5ff8d" d="M226.4 1388.3l8.6 8.2l10.8 -11.9l-8.6 -8.1z"/>
<path fill="#ddff85" d="M245.8 1384.6l8.7 9l10.8 -11.4l-8.7 -8.8z"/>
<path fill="#e3ff7a" d="M265.3 1382.2l8.8 9.8l10.8 -10.8l-8.9 -9.6z"/>
<path fill="#e4ff6e" d="M284.9 1381.2l8.9 10.5l10.7 -10.2l-8.9 -10.4z"/>
<path fill="#e1ff60" d="M304.5 1381.5l9 11.3l10.7 -9.7l-9 -11.2z"/>
<path fill="#d8ff51" d="M324.2 1383.1l9.1 12.1l10.6 -9.2l-9 -12z"/>
<path fill="#c8ff40" d="M343.9 1386l9.1 12.9l10.6 -8.6l-9.1 -12.8z"/>
<path fill="#aeff2f" d="M363.6 1390.3l9.1 13.6l10.5 -8.1l-9.1 -13.5z"/>
<path fill="#89ff1e" d="M383.2 1395.8l9.2 14.4l10.4 -7.5l-9.1 -14.3z"/>
<path fill="#58ff0c" d="M402.8 1402.7l9.2 15.1l10.3 -7l-9.1 -15z"/>
<path fill="#1eff00" d="M422.3 1410.8l9.1 15.9l10.2 -6.5l-9.1 -15.7z"/>
<path fill="#00ff1d" d="M441.6 1420.2l9.1 16.6l10.1 -5.9l-9.1 -16.5z"/>
<path fill="#00ff60" d="M460.8 1430.9l9.1 17.3l9.9 -5.5l-9 -17.2z"/>
<path fill="#b7ff97" d="M196.5 1406.1l8.4 7.6l10.8 -13.1l-8.5 -7.4z"/>
<path fill="#c2ff91" d="M215.7 1400.6l8.5 8.4l10.8 -12.5l-8.6 -8.2z"/>
<path fill="#cbff89" d="M235 1396.5l8.7 9l10.8 -11.9l-8.7 -9z"/>
<path fill="#d0ff7f" d="M254.5 1393.6l8.8 9.8l10.8 -11.4l-8.8 -9.8z"/>
<path fill="#d2ff73" d="M274.1 1392l8.9 10.6l10.8 -10.9l-8.9 -10.5z"/>
<path fill="#cfff66" d="M293.8 1391.7l8.9 11.4l10.8 -10.3l-9 -11.3z"/>
<path fill="#c7ff58" d="M313.5 1392.8l9 12.2l10.8 -9.8l-9.1 -12.1z"/>
<path fill="#b8ff48" d="M333.3 1395.2l9 12.9l10.7 -9.2l-9.1 -12.9z"/>
<path fill="#a0ff38" d="M353 1398.9l9.1 13.7l10.6 -8.7l-9.1 -13.6z"/>
<path fill="#7eff27" d="M372.7 1403.9l9.2 14.5l10.5 -8.2l-9.2 -14.4z"/>
<path fill="#50ff15" d="M392.4 1410.2l9.1 15.3l10.5 -7.7l-9.2 -15.1z"/>
<path fill="#15ff04" d="M412 1417.8l9.1 16l10.3 -7.1l-9.1 -15.9z"/>
<path fill="#00ff25" d="M431.4 1426.7l9.1 16.7l10.2 -6.6l-9.1 -16.6z"/>
<path fill="#00ff65" d="M450.7 1436.8l9.1 17.5l10.1 -6.1l-9.1 -17.3z"/>
<path fill="#afff93" d="M204.9 1413.7l8.5 8.4l10.8 -13.1l-8.5 -8.4z"/>
<path fill="#b7ff8c" d="M224.2 1409l8.7 9.1l10.8 -12.6l-8.7 -9z"/>
<path fill="#bcff83" d="M243.7 1405.5l8.8 10l10.8 -12.1l-8.8 -9.8z"/>
<path fill="#beff78" d="M263.3 1403.4l8.9 10.8l10.8 -11.6l-8.9 -10.6z"/>
<path fill="#bcff6c" d="M283 1402.6l8.9 11.5l10.8 -11l-8.9 -11.4z"/>
<path fill="#b4ff5e" d="M302.7 1403.1l9.1 12.3l10.7 -10.4l-9 -12.2z"/>
<path fill="#a6ff4f" d="M322.5 1405l9.1 13.1l10.7 -10l-9 -12.9z"/>
<path fill="#90ff3f" d="M342.3 1408.1l9.2 13.9l10.6 -9.4l-9.1 -13.7z"/>
<path fill="#71ff2f" d="M362.1 1412.6l9.2 14.6l10.6 -8.8l-9.2 -14.5z"/>
<path fill="#46ff1e" d="M381.9 1418.4l9.2 15.4l10.4 -8.3l-9.1 -15.3z"/>
<path fill="#0fff0d" d="M401.5 1425.5l9.2 16.1l10.4 -7.8l-9.1 -16z"/>
<path fill="#00ff31" d="M421.1 1433.8l9.2 16.9l10.2 -7.3l-9.1 -16.7z"/>
<path fill="#00ff6d" d="M440.5 1443.4l9.2 17.6l10.1 -6.7l-9.1 -17.5z"/>
<path fill="#a3ff8f" d="M213.4 1422.1l8.6 9.3l10.9 -13.3l-8.7 -9.1z"/>
<path fill="#a8ff87" d="M232.9 1418.1l8.7 10.1l10.9 -12.7l-8.8 -10z"/>
<path fill="#aaff7d" d="M252.5 1415.5l8.8 10.9l10.9 -12.2l-8.9 -10.8z"/>
<path fill="#a8ff71" d="M272.2 1414.2l8.9 11.6l10.8 -11.7l-8.9 -11.5z"/>
<path fill="#a1ff64" d="M291.9 1414.1l9.1 12.5l10.8 -11.2l-9.1 -12.3z"/>
<path fill="#94ff56" d="M311.8 1415.4l9.1 13.2l10.7 -10.5l-9.1 -13.1z"/>
<path fill="#7fff46" d="M331.6 1418.1l9.2 13.9l10.7 -10l-9.2 -13.9z"/>
<path fill="#61ff36" d="M351.5 1422l9.1 14.7l10.7 -9.5l-9.2 -14.6z"/>
<path fill="#3aff26" d="M371.3 1427.2l9.2 15.5l10.6 -8.9l-9.2 -15.4z"/>
<path fill="#15ff25" d="M391.1 1433.8l9.1 16.2l10.5 -8.4l-9.2 -16.1z"/>
<path fill="#04ff44" d="M410.7 1441.6l9.2 16.9l10.4 -7.8l-9.2 -16.9z"/>
<path fill="#00ff79" d="M430.3 1450.7l9.1 17.6l10.3 -7.3l-9.2 -17.6z"/>
<path fill="#93ff89" d="M222 1431.4l8.7 10.2l10.9 -13.4l-8.7 -10.1z"/>
<path fill="#95ff80" d="M241.6 1428.2l8.8 11l10.9 -12.8l-8.8 -10.9z"/>
<path fill="#93ff75" d="M261.3 1426.4l8.9 11.7l10.9 -12.3l-8.9 -11.6z"/>
<path fill="#8cff69" d="M281.1 1425.8l9 12.5l10.9 -11.7l-9.1 -12.5z"/>
<path fill="#80ff5b" d="M301 1426.6l9 13.2l10.9 -11.2l-9.1 -13.2z"/>
<path fill="#6cff4d" d="M320.9 1428.6l9.1 14.1l10.8 -10.7l-9.2 -13.9z"/>
<path fill="#50ff3d" d="M340.8 1432l9.1 14.8l10.7 -10.1l-9.1 -14.7z"/>
<path fill="#2dff30" d="M360.6 1436.7l9.2 15.6l10.7 -9.6l-9.2 -15.5z"/>
<path fill="#1dff40" d="M380.5 1442.7l9.2 16.3l10.5 -9l-9.1 -16.2z"/>
<path fill="#0dff5d" d="M400.2 1450l9.2 17l10.5 -8.5l-9.2 -16.9z"/>
<path fill="#00ff8a" d="M419.9 1458.5l9.1 17.8l10.4 -8l-9.1 -17.6z"/>
<path fill="#83ff87" d="M230.7 1441.6l8.8 11l10.9 -13.4l-8.8 -11z"/>
<path fill="#7dff79" d="M250.4 1439.2l8.9 11.8l10.9 -12.9l-8.9 -11.7z"/>
<path fill="#77ff6d" d="M270.2 1438.1l9 12.6l10.9 -12.4l-9 -12.5z"/>
<path fill="#6bff61" d="M290.1 1438.3l9.1 13.4l10.8 -11.9l-9 -13.2z"/>
<path fill="#58ff53" d="M310 1439.8l9.2 14.2l10.8 -11.3l-9.1 -14.1z"/>
<path fill="#44ff4a" d="M330 1442.7l9.2 14.9l10.7 -10.8l-9.1 -14.8z"/>
<path fill="#34ff4f" d="M349.9 1446.8l9.2 15.7l10.7 -10.2l-9.2 -15.6z"/>
<path fill="#25ff5e" d="M369.8 1452.3l9.2 16.4l10.7 -9.7l-9.2 -16.3z"/>
<path fill="#15ff78" d="M389.7 1459l9.2 17.2l10.5 -9.2l-9.2 -17z"/>
<path fill="#05ff9f" d="M409.4 1467l9.2 17.9l10.4 -8.6l-9.1 -17.8z"/>
<path fill="#7cff92" d="M239.5 1452.6l8.9 12l10.9 -13.6l-8.9 -11.8z"/>
<path fill="#71ff83" d="M259.3 1451l9 12.7l10.9 -13l-9 -12.6z"/>
<path fill="#65ff76" d="M279.2 1450.7l9.1 13.5l10.9 -12.5l-9.1 -13.4z"/>
<path fill="#58ff6d" d="M299.2 1451.7l9.1 14.3l10.9 -12l-9.2 -14.2z"/>
<path fill="#4aff6a" d="M319.2 1454l9.1 15l10.9 -11.4l-9.2 -14.9z"/>
<path fill="#3bff6f" d="M339.2 1457.6l9.2 15.8l10.7 -10.9l-9.2 -15.7z"/>
<path fill="#2bff7c" d="M359.1 1462.5l9.3 16.6l10.6 -10.4l-9.2 -16.4z"/>
<path fill="#1cff94" d="M379 1468.7l9.3 17.3l10.6 -9.8l-9.2 -17.2z"/>
<path fill="#0cffb8" d="M398.9 1476.2l9.2 18l10.5 -9.3l-9.2 -17.9z"/>
<path fill="#74ffa2" d="M248.4 1464.6l9 12.8l10.9 -13.7l-9 -12.7z"/>
<path fill="#69ff96" d="M268.3 1463.7l9.1 13.6l10.9 -13.1l-9.1 -13.5z"/>
<path fill="#5cff8e" d="M288.3 1464.2l9.1 14.3l10.9 -12.5l-9.1 -14.3z"/>
<path fill="#4fff8b" d="M308.3 1466l9.2 15.1l10.8 -12.1l-9.1 -15z"/>
<path fill="#41ff8f" d="M328.3 1469l9.3 15.9l10.8 -11.5l-9.2 -15.8z"/>
<path fill="#32ff9b" d="M348.4 1473.4l9.2 16.6l10.8 -10.9l-9.3 -16.6z"/>
<path fill="#23ffb2" d="M368.4 1479.1l9.2 17.3l10.7 -10.4l-9.3 -17.3z"/>
<path fill="#13ffd4" d="M388.3 1486l9.2 18.1l10.6 -9.9l-9.2 -18z"/>
<path fill="#6cffb6" d="M257.4 1477.4l9.1 13.7l10.9 -13.8l-9.1 -13.6z"/>
<path fill="#61ffaf" d="M277.4 1477.3l9.1 14.5l10.9 -13.3l-9.1 -14.3z"/>
<path fill="#54ffac" d="M297.4 1478.5l9.2 15.3l10.9 -12.7l-9.2 -15.1z"/>
<path fill="#46ffb0" d="M317.5 1481.1l9.2 16l10.9 -12.2l-9.3 -15.9z"/>
<path fill="#38ffbc" d="M337.6 1484.9l9.2 16.7l10.8 -11.6l-9.2 -16.6z"/>
<path fill="#29ffd1" d="M357.6 1490l9.2 17.5l10.8 -11.1l-9.2 -17.3z"/>
<path fill="#1afff1" d="M377.6 1496.4l9.2 18.2l10.7 -10.5l-9.2 -18.1z"/>
<path fill="#64ffd0" d="M266.5 1491.1l9.1 14.5l10.9 -13.8l-9.1 -14.5z"/>
<path fill="#58ffce" d="M286.5 1491.8l9.2 15.3l10.9 -13.3l-9.2 -15.3z"/>
<path fill="#4bffd2" d="M306.6 1493.8l9.2 16l10.9 -12.7l-9.2 -16z"/>
<path fill="#3dffdd" d="M326.7 1497.1l9.2 16.8l10.9 -12.3l-9.2 -16.7z"/>
<path fill="#2ffff1" d="M346.8 1501.6l9.2 17.6l10.8 -11.7l-9.2 -17.5z"/>
<path fill="#20eeff" d="M366.8 1507.5l9.3 18.3l10.7 -11.2l-9.2 -18.2z"/>
<path fill="#5cfff1" d="M275.6 1505.6l9.1 15.4l11 -13.9l-9.2 -15.3z"/>
<path fill="#4ffff5" d="M295.7 1507.1l9.2 16.2l10.9 -13.5l-9.2 -16z"/>
<path fill="#42feff" d="M315.8 1509.8l9.2 17l10.9 -12.9l-9.2 -16.8z"/>
<path fill="#34ebff" d="M335.9 1513.9l9.3 17.7l10.8 -12.4l-9.2 -17.6z"/>
<path fill="#26ceff" d="M356 1519.2l9.3 18.4l10.8 -11.8l-9.3 -18.3z"/>
<path fill="#53e5ff" d="M284.7 1521l9.2 16.3l11 -14l-9.2 -16.2z"/>
<path fill="#47dbff" d="M304.9 1523.3l9.2 17l10.9 -13.5l-9.2 -17z"/>
<path fill="#39c8ff" d="M325 1526.8l9.3 17.7l10.9 -12.9l-9.3 -17.7z"/>
<path fill="#2cacff" d="M345.2 1531.6l9.3 18.4l10.8 -12.4l-9.3 -18.4z"/>
<path fill="#4bb6ff" d="M293.9 1537.3l9.3 17.1l10.9 -14.1l-9.2 -17z"/>
<path fill="#3ea4ff" d="M314.1 1540.3l9.3 17.8l10.9 -13.6l-9.3 -17.7z"/>
<path fill="#3189ff" d="M334.3 1544.5l9.3 18.6l10.9 -13.1l-9.3 -18.4z"/>
<path fill="#427eff" d="M303.2 1554.4l9.3 17.9l10.9 -14.2l-9.3 -17.8z"/>
<path fill="#3564ff" d="M323.4 1558.1l9.3 18.6l10.9 -13.6l-9.3 -18.6z"/>
<path fill="#3a3eff" d="M312.5 1572.3l9.3 18.7l10.9 -14.3l-9.3 -18.6z"/>
</g>
<line x1="341.5" y1="1285.8" x2="341.5" y2="1303" stroke="#000" stroke-width="1.3"/>
<circle cx="112.8" cy="1377.9" r="4.5" fill="#be0000" stroke="#000" stroke-width="1.1"/>
<circle cx="341.5" cy="1285.8" r="4.5" fill="#be0000" stroke="#000" stroke-width="1.1"/>
<circle cx="341.5" cy="1293.5" r="4.5" fill="#be0000" stroke="#000" stroke-width="1.1"/>
<circle cx="455" cy="1452.5" r="4.5" fill="#be0000" stroke="#000" stroke-width="1.1"/>
<circle cx="571.7" cy="1425.4" r="4.5" fill="#ffc8c8" stroke="#000" stroke-width="1.1"/>
<circle cx="321.9" cy="1596.3" r="4.5" fill="#ffc8c8" stroke="#000" stroke-width="1.1"/>
<text x="89.5" y="1240.4" font-size="22.5" text-anchor="end" textLength="22.1" lengthAdjust="spacingAndGlyphs">40</text>
<text x="93.7" y="1293" font-size="22.5" text-anchor="end" textLength="22.1" lengthAdjust="spacingAndGlyphs">35</text>
<text x="97.9" y="1345.7" font-size="22.5" text-anchor="end" textLength="22.1" lengthAdjust="spacingAndGlyphs">30</text>
<text x="102.1" y="1398.4" font-size="22.5" text-anchor="end" textLength="22.1" lengthAdjust="spacingAndGlyphs">25</text>
<text x="106.3" y="1451.1" font-size="22.5" text-anchor="end" textLength="22.1" lengthAdjust="spacingAndGlyphs">20</text>
<text x="101.3" y="1541.7" font-size="22.5" text-anchor="middle" textLength="22.1" lengthAdjust="spacingAndGlyphs">90</text>
<text x="150.9" y="1581" font-size="22.5" text-anchor="middle" textLength="22.1" lengthAdjust="spacingAndGlyphs">85</text>
<text x="200.4" y="1620.3" font-size="22.5" text-anchor="middle" textLength="22.1" lengthAdjust="spacingAndGlyphs">80</text>
<text x="250" y="1659.6" font-size="22.5" text-anchor="middle" textLength="22.1" lengthAdjust="spacingAndGlyphs">75</text>
<text x="299.6" y="1699" font-size="22.5" text-anchor="middle" textLength="22.1" lengthAdjust="spacingAndGlyphs">70</text>
<text x="346" y="1699" font-size="22.5" text-anchor="middle" textLength="22.1" lengthAdjust="spacingAndGlyphs">60</text>
<text x="386.9" y="1676.3" font-size="22.5" text-anchor="middle" textLength="22.1" lengthAdjust="spacingAndGlyphs">70</text>
<text x="427.7" y="1653.6" font-size="22.5" text-anchor="middle" textLength="22.1" lengthAdjust="spacingAndGlyphs">80</text>
<text x="468.6" y="1630.9" font-size="22.5" text-anchor="middle" textLength="22.1" lengthAdjust="spacingAndGlyphs">90</text>
<text x="509.4" y="1608.2" font-size="22.5" text-anchor="middle" textLength="33.2" lengthAdjust="spacingAndGlyphs">100</text>
<text x="550.2" y="1585.5" font-size="22.5" text-anchor="middle" textLength="31.7" lengthAdjust="spacingAndGlyphs">110</text>
<text x="591.1" y="1562.9" font-size="22.5" text-anchor="middle" textLength="33.2" lengthAdjust="spacingAndGlyphs">120</text>
<text x="37.3" y="1396.8" font-size="19.5" text-anchor="middle" transform="rotate(-90 37.3 1389.8)" textLength="162.1" lengthAdjust="spacingAndGlyphs">TFC (mg QE/g d.m.)</text>
<text x="131.2" y="1655.2" font-size="19.5" text-anchor="middle" textLength="159.9" lengthAdjust="spacingAndGlyphs">B: Temperature (°C)</text>
<text x="519.1" y="1674.9" font-size="19.5" text-anchor="middle" textLength="114.4" lengthAdjust="spacingAndGlyphs">A: Weight (gr)</text>
<text x="37" y="1712.2" font-size="33" text-anchor="middle">e</text></g>
<g id="p_f"><polygon points="719.8,1559.7 960.9,1673.4 1201.2,1559.6 962,1470" fill="#646464" stroke="#000" stroke-width="1.8" stroke-linejoin="round"/>
<polyline points="765.2,1542.9 769.1,1543.6 773.4,1544.3 776.2,1544.7 781.1,1545.4 784.7,1545.9 787.6,1546.3 792.4,1546.9 796.5,1547.4 799.6,1547.8 803,1548.1 808.1,1548.6 812.2,1549 815.4,1549.3 818.7,1549.5 822.6,1549.8 827.3,1550.1 831.8,1550.3 836,1550.5 839.6,1550.6 843.3,1550.7 847.1,1550.8 850.9,1550.9 854.9,1550.9 858.9,1550.8 863,1550.8 867.3,1550.7 871.6,1550.5 875.5,1550.3 879,1550.1 882.5,1549.9 885.9,1549.7 890.7,1549.2 895.6,1548.7 898.7,1548.4 901.8,1548 907.7,1547.2 910.6,1546.7 914.6,1546 918.9,1545.2 922.4,1544.5 926.7,1543.5 931.6,1542.3 934,1541.7 938.5,1540.3 942.9,1538.9 947.1,1537.4 951.1,1535.8 954.8,1534.2 958.4,1532.5 961.7,1530.7 964.3,1529.2 966.4,1527.9 969.2,1526 970.6,1525 973.1,1523 974.3,1521.9 976.5,1519.8 977.6,1518.7 978.8,1517.3 980.4,1515.3 981.2,1514.2 981.9,1513 983,1511.1 983.9,1509.4 984.4,1508.1 984.9,1506.9 985.4,1505.6 985.8,1504.1 986.1,1502.5 986.4,1501 986.5,1499.5 986.6,1498 986.6,1496.5 986.6,1495.1 986.5,1493.7 986.3,1492.4 986.1,1491 985.8,1489.7 985.5,1488.4 985.1,1487.2 984.6,1485.6 984,1484.1 983.3,1482.4 982.7,1481.1 982.1,1480 981.5,1478.8 980.7,1477.4 980.7,1477.4" fill="none" stroke="#ffaa00" stroke-width="2.5"/>
<polyline points="722.3,1560.6 726.7,1561.7 730.3,1562.5 734.2,1563.4 737.9,1564.2 741.9,1565 745.2,1565.7 749.8,1566.6 752.4,1567.2 757.8,1568.2 760.5,1568.7 765.8,1569.6 768.9,1570.2 772.2,1570.7 777.4,1571.6 780.3,1572 784.5,1572.7 789.2,1573.3 792.2,1573.8 796.3,1574.3 801.3,1575 804.5,1575.3 807.6,1575.7 812.9,1576.3 817.3,1576.7 820.5,1577.1 823.9,1577.4 828.4,1577.8 833.4,1578.2 837.5,1578.5 841,1578.7 844.6,1578.9 848.2,1579.1 852.5,1579.4 857,1579.6 861.5,1579.7 865.9,1579.8 870.2,1579.9 874.5,1580 878.7,1580 882.8,1580 886.8,1580 890.8,1579.9 894.7,1579.8 898.6,1579.7 902.3,1579.6 906.1,1579.4 909.7,1579.2 914.4,1578.9 919.4,1578.5 923.8,1578.2 927.2,1577.8 930.6,1577.5 935.4,1577 940.2,1576.4 943.3,1576 947.4,1575.4 952.4,1574.6 955.3,1574.1 961,1573 963.8,1572.5 969.2,1571.3 971.8,1570.7 976.9,1569.4 979.4,1568.8 984.2,1567.4 988.9,1566 993.4,1564.5 995.5,1563.7 999.7,1562.1 1003.8,1560.5 1007.6,1558.8 1011.3,1557 1013.5,1555.9 1016.5,1554.3 1019.7,1552.4 1022.8,1550.5 1024.3,1549.5 1027.1,1547.4 1029,1546 1031,1544.3 1032.8,1542.7 1034.5,1541 1035.7,1539.8 1037.6,1537.7 1038.6,1536.5 1039.9,1534.8 1041.2,1533 1041.9,1531.8 1042.8,1530.3 1043.9,1528.2 1044.6,1526.8 1045.1,1525.6 1045.6,1524.3 1046.2,1522.5 1046.7,1520.7 1047.1,1519 1047.4,1517.7 1047.6,1516.3 1047.7,1515 1047.8,1513.6 1047.9,1512.2 1047.9,1510.7 1047.8,1509.3 1047.7,1507.8 1047.5,1506.4 1047.3,1504.9 1047,1503.4 1046.7,1501.9 1046.7,1501.9" fill="none" stroke="#b4f000" stroke-width="2.5"/>
<polyline points="803.5,1599.1 809.3,1599.8 812.7,1600.2 815.9,1600.6 820.6,1601.1 825.8,1601.7 829.2,1602.1 832.6,1602.4 836.8,1602.8 842,1603.2 846.5,1603.6 850.1,1603.9 853.7,1604.1 857.4,1604.4 862,1604.7 866.9,1604.9 871.6,1605.2 876.2,1605.4 880.1,1605.5 884,1605.6 888,1605.7 892.1,1605.8 896.2,1605.9 900.3,1605.9 904.6,1605.9 908.8,1605.9 913.2,1605.8 917.6,1605.7 922.1,1605.6 926.7,1605.5 931.2,1605.3 935.1,1605.1 938.8,1604.9 942.5,1604.6 946.2,1604.4 951.2,1604 956.5,1603.5 960.4,1603.2 963.8,1602.8 967.6,1602.4 973.4,1601.7 977,1601.2 980.1,1600.7 986,1599.8 989.4,1599.3 992.8,1598.7 998.2,1597.7 1001.1,1597.1 1006.7,1595.9 1009.4,1595.3 1014.8,1594 1017.5,1593.3 1022.4,1591.9 1027.3,1590.5 1029.7,1589.8 1034.4,1588.2 1038.9,1586.7 1043.2,1585 1047.4,1583.4 1051.4,1581.6 1055.3,1579.8 1059,1578 1062.6,1576.1 1065.9,1574.2 1069.2,1572.2 1070.7,1571.2 1073.7,1569.1 1076.6,1567.1 1077.9,1566 1080.5,1563.8 1081.8,1562.7 1084.2,1560.5 1085.3,1559.4 1087.4,1557.1 1088.4,1555.9 1090.2,1553.7 1091.2,1552.4 1092.1,1551.1 1093.7,1548.7 1094.4,1547.5 1095.1,1546.2 1096.1,1544.2 1096.9,1542.4 1097.5,1541.1 1097.9,1539.8 1098.5,1538 1099.1,1536.1 1099.5,1534.5 1099.8,1533.1 1100,1531.7 1100.2,1530.4 1100.3,1528.8 1100.4,1527.1 1100.5,1525.4 1100.5,1523.8 1100.4,1522.2 1100.4,1521.8" fill="none" stroke="#14e61e" stroke-width="2.5"/>
<polyline points="863.6,1627.5 868.8,1627.9 873.8,1628.2 877.8,1628.5 881.6,1628.7 885.5,1628.9 889.5,1629.1 893.4,1629.2 898.2,1629.4 902.8,1629.6 907.5,1629.7 912,1629.8 916.5,1629.8 920.9,1629.9 925.3,1629.9 929.6,1629.8 933.9,1629.8 938.1,1629.7 942.3,1629.6 946.4,1629.5 950.5,1629.4 954.5,1629.2 959.1,1629 964,1628.7 969.1,1628.4 973.8,1628.1 977.5,1627.8 981.1,1627.5 984.8,1627.2 990.4,1626.6 995.3,1626.1 998.8,1625.7 1002.2,1625.3 1008,1624.5 1012.1,1623.9 1015.3,1623.4 1020.9,1622.5 1024.7,1621.9 1027.9,1621.3 1033.7,1620.2 1036.6,1619.6 1042.3,1618.3 1045.1,1617.7 1050.6,1616.4 1053.3,1615.7 1058.5,1614.3 1062.7,1613.1 1066.1,1612 1071,1610.5 1075.7,1608.9 1077.9,1608.1 1082.4,1606.4 1086.7,1604.7 1090.9,1602.9 1094.9,1601.1 1098.8,1599.2 1102.5,1597.3 1106.1,1595.4 1109.5,1593.4 1111.2,1592.3 1114.4,1590.3 1117.4,1588.2 1120.2,1586.2 1121.7,1585 1124.4,1582.8 1125.7,1581.6 1128.2,1579.4 1129.8,1577.9 1131.7,1575.9 1133,1574.5 1134.8,1572.4 1135.8,1571.2 1137.6,1568.7 1138.5,1567.5 1139.5,1565.8 1140.8,1563.7 1141.5,1562.5 1142.4,1560.8 1143.4,1558.6 1144,1557.3 1144.5,1556 1145.2,1554 1145.9,1552 1146.2,1550.6 1146.6,1549.2 1146.9,1547.9 1147.2,1545.9 1147.5,1544 1147.7,1542.3 1147.8,1540.8 1147.8,1539.4 1147.8,1539.4" fill="none" stroke="#00f0aa" stroke-width="2.5"/>
<polyline points="915.7,1652.2 920.5,1652.3 925,1652.4 929.2,1652.5 933.6,1652.6 937.9,1652.6 942.3,1652.7 946.8,1652.7 951.3,1652.6 955.9,1652.6 960.5,1652.5 965.2,1652.4 969.6,1652.3 973.8,1652.1 977.9,1652 982,1651.8 986,1651.6 990,1651.4 994.8,1651 1000.1,1650.7 1005.4,1650.2 1009.1,1649.9 1010.9,1649.8" fill="none" stroke="#1e9bff" stroke-width="2.5"/>
<polyline points="1190,1564.8 1190.6,1562.7 1190.8,1561.3 1191.1,1559.9 1191.3,1558.5 1191.6,1556.5 1191.7,1555.7" fill="none" stroke="#1e9bff" stroke-width="2.5"/>
<path d="M719.8 1559.7L704 1233.7M757 1468.4L746.8 1224.2M797.9 1454.7L789.6 1214.8M838.9 1441.1L832.4 1205.3M879.8 1427.4L875.1 1195.8M920.7 1413.8L917.9 1186.4M962 1470L960.7 1176.9M962 1470L960.7 1176.9M1022.6 1420.6L1025 1191.2M1083.4 1441.1L1089.2 1205.4M1144.3 1461.5L1153.5 1219.7M1201.2 1559.6L1217.8 1233.9M704 1233.7L960.7 1176.9L1217.8 1233.9M707 1295.8L960.9 1232.7L1214.6 1295.9M710 1358L961.2 1288.7L1211.5 1358.1M713 1419.9L961.4 1344.3L1208.3 1419.9M716 1482L961.7 1400.1L1205.2 1482" fill="none" stroke="#000" stroke-width="1.25"/>
<circle cx="704" cy="1233.7" r="2.3"/>
<circle cx="707" cy="1295.8" r="2.3"/>
<circle cx="710" cy="1358" r="2.3"/>
<circle cx="713" cy="1419.9" r="2.3"/>
<circle cx="716" cy="1482" r="2.3"/>
<circle cx="719.8" cy="1559.7" r="2.3"/>
<circle cx="780.1" cy="1588.1" r="2.3"/>
<circle cx="840.3" cy="1616.6" r="2.3"/>
<circle cx="900.6" cy="1645" r="2.3"/>
<circle cx="960.9" cy="1673.4" r="2.3"/>
<circle cx="960.9" cy="1673.4" r="2.3"/>
<circle cx="1001" cy="1654.4" r="2.3"/>
<circle cx="1041" cy="1635.5" r="2.3"/>
<circle cx="1081" cy="1616.5" r="2.3"/>
<circle cx="1121.1" cy="1597.5" r="2.3"/>
<circle cx="1161.2" cy="1578.6" r="2.3"/>
<circle cx="1201.2" cy="1559.6" r="2.3"/>
<circle cx="961.2" cy="1226.7" r="4.5" fill="#ffc8c8" stroke="#000" stroke-width="1.1"/>
<circle cx="840.3" cy="1229.3" r="4.5" fill="#be0000" stroke="#000" stroke-width="1.1"/>
<circle cx="826.8" cy="1418.1" r="4.5" fill="#ffc8c8" stroke="#000" stroke-width="1.1"/>
<circle cx="1078.9" cy="1303" r="4.5" fill="#be0000" stroke="#000" stroke-width="1.1"/>
<circle cx="1207.7" cy="1428" r="4.5" fill="#ffc8c8" stroke="#000" stroke-width="1.1"/>
<circle cx="1093.6" cy="1442.2" r="4.5" fill="#ffc8c8" stroke="#000" stroke-width="1.1"/>
<g stroke="#000" stroke-width="1.05" stroke-linejoin="round">
<path fill="#ee9e00" d="M952.2 1222.7l9 5.1l9.1 2.3l-9.1 -5.1z"/>
<path fill="#f58800" d="M943 1220.8l9 5.1l9.2 1.9l-9 -5.1z"/>
<path fill="#eeae00" d="M961.2 1227.8l9.1 5.2l9.1 2.4l-9.1 -5.3z"/>
<path fill="#fb7500" d="M933.7 1219.5l9.1 5l9.2 1.4l-9 -5.1z"/>
<path fill="#f49900" d="M952 1225.9l9.2 5.3l9.1 1.8l-9.1 -5.2z"/>
<path fill="#eec000" d="M970.3 1233l9.2 5.6l9 2.3l-9.1 -5.5z"/>
<path fill="#ff6200" d="M924.4 1218.6l9 5l9.4 0.9l-9.1 -5z"/>
<path fill="#fb8600" d="M942.8 1224.5l9.1 5.3l9.3 1.4l-9.2 -5.3z"/>
<path fill="#f4ab00" d="M961.2 1231.2l9.2 5.5l9.1 1.9l-9.2 -5.6z"/>
<path fill="#edd200" d="M979.5 1238.6l9.3 5.7l9 2.3l-9.3 -5.7z"/>
<path fill="#ff5100" d="M914.9 1218.2l9.1 5l9.4 0.4l-9 -5z"/>
<path fill="#ff7400" d="M933.4 1223.6l9.2 5.3l9.3 0.9l-9.1 -5.3z"/>
<path fill="#fb9800" d="M951.9 1229.8l9.3 5.5l9.2 1.4l-9.2 -5.5z"/>
<path fill="#f4be00" d="M970.4 1236.7l9.3 5.8l9.1 1.8l-9.3 -5.7z"/>
<path fill="#ede600" d="M988.8 1244.3l9.3 6l9 2.3l-9.3 -6z"/>
<path fill="#ff4200" d="M905.4 1218.3l9.1 5.1l9.5 -0.2l-9.1 -5z"/>
<path fill="#ff6200" d="M924 1223.2l9.2 5.3l9.4 0.4l-9.2 -5.3z"/>
<path fill="#ff8600" d="M942.6 1228.9l9.2 5.5l9.4 0.9l-9.3 -5.5z"/>
<path fill="#faac00" d="M961.2 1235.3l9.3 5.8l9.2 1.4l-9.3 -5.8z"/>
<path fill="#f3d200" d="M979.7 1242.5l9.3 6l9.1 1.8l-9.3 -6z"/>
<path fill="#dfec00" d="M998.1 1250.3l9.4 6.2l9 2.4l-9.4 -6.3z"/>
<path fill="#ff3700" d="M895.7 1218.9l9.1 5.1l9.7 -0.6l-9.1 -5.1z"/>
<path fill="#ff5400" d="M914.5 1223.4l9.1 5.3l9.6 -0.2l-9.2 -5.3z"/>
<path fill="#ff7500" d="M933.2 1228.5l9.2 5.6l9.4 0.3l-9.2 -5.5z"/>
<path fill="#ff9a00" d="M951.8 1234.4l9.3 5.8l9.4 0.9l-9.3 -5.8z"/>
<path fill="#fac000" d="M970.5 1241.1l9.3 6l9.2 1.4l-9.3 -6z"/>
<path fill="#f3e700" d="M989 1248.5l9.5 6.2l9 1.8l-9.4 -6.2z"/>
<path fill="#c8ec00" d="M1007.5 1256.5l9.5 6.5l9 2.3l-9.5 -6.4z"/>
<path fill="#ff3306" d="M886 1220l9.1 5.1l9.7 -1.1l-9.1 -5.1z"/>
<path fill="#ff4800" d="M904.8 1224l9.2 5.3l9.6 -0.6l-9.1 -5.3z"/>
<path fill="#ff6600" d="M923.6 1228.7l9.3 5.5l9.5 -0.1l-9.2 -5.6z"/>
<path fill="#ff8800" d="M942.4 1234.1l9.3 5.7l9.4 0.4l-9.3 -5.8z"/>
<path fill="#ffaf00" d="M961.1 1240.2l9.4 6l9.3 0.9l-9.3 -6z"/>
<path fill="#f9d500" d="M979.8 1247.1l9.5 6.2l9.2 1.4l-9.5 -6.2z"/>
<path fill="#e8f200" d="M998.5 1254.7l9.5 6.5l9 1.8l-9.5 -6.5z"/>
<path fill="#b1eb00" d="M1017 1263l9.6 6.7l8.9 2.3l-9.5 -6.7z"/>
<path fill="#ff3812" d="M876.2 1221.7l9.1 5.1l9.8 -1.7l-9.1 -5.1z"/>
<path fill="#ff4304" d="M895.1 1225.1l9.2 5.3l9.7 -1.1l-9.2 -5.3z"/>
<path fill="#ff5a00" d="M914 1229.3l9.3 5.5l9.6 -0.6l-9.3 -5.5z"/>
<path fill="#ff7a00" d="M932.9 1234.2l9.3 5.8l9.5 -0.2l-9.3 -5.7z"/>
<path fill="#ff9d00" d="M951.7 1239.8l9.4 6.1l9.4 0.3l-9.4 -6z"/>
<path fill="#ffc500" d="M970.5 1246.2l9.5 6.3l9.3 0.8l-9.5 -6.2z"/>
<path fill="#f9ec00" d="M989.3 1253.3l9.5 6.5l9.2 1.4l-9.5 -6.5z"/>
<path fill="#d0f200" d="M1008 1261.2l9.5 6.7l9.1 1.8l-9.6 -6.7z"/>
<path fill="#99eb00" d="M1026.6 1269.7l9.6 7l8.9 2.3l-9.6 -7z"/>
<path fill="#ff401e" d="M866.2 1223.9l9.2 5.1l9.9 -2.2l-9.1 -5.1z"/>
<path fill="#ff4711" d="M885.3 1226.8l9.2 5.3l9.8 -1.7l-9.2 -5.3z"/>
<path fill="#ff5403" d="M904.3 1230.4l9.2 5.6l9.8 -1.2l-9.3 -5.5z"/>
<path fill="#ff6e00" d="M923.3 1234.8l9.3 5.8l9.6 -0.6l-9.3 -5.8z"/>
<path fill="#ff8e00" d="M942.2 1240l9.4 6l9.5 -0.1l-9.4 -6.1z"/>
<path fill="#ffb300" d="M961.1 1245.9l9.5 6.2l9.4 0.4l-9.5 -6.3z"/>
<path fill="#ffdd00" d="M980 1252.5l9.5 6.5l9.3 0.8l-9.5 -6.5z"/>
<path fill="#edf800" d="M998.8 1259.8l9.6 6.7l9.1 1.4l-9.5 -6.7z"/>
<path fill="#b7f100" d="M1017.5 1267.9l9.7 7l9 1.8l-9.6 -7z"/>
<path fill="#7fea00" d="M1036.2 1276.7l9.7 7.2l8.9 2.3l-9.7 -7.2z"/>
<path fill="#ff4b2a" d="M856.2 1226.6l9.2 5.1l10 -2.7l-9.2 -5.1z"/>
<path fill="#ff4e1d" d="M875.4 1229l9.2 5.3l9.9 -2.2l-9.2 -5.3z"/>
<path fill="#ff570f" d="M894.5 1232.1l9.2 5.6l9.8 -1.7l-9.2 -5.6z"/>
<path fill="#ff6601" d="M913.5 1236l9.4 5.8l9.7 -1.2l-9.3 -5.8z"/>
<path fill="#ff8200" d="M932.6 1240.6l9.4 6.1l9.6 -0.7l-9.4 -6z"/>
<path fill="#ffa400" d="M951.6 1246l9.5 6.3l9.5 -0.2l-9.5 -6.2z"/>
<path fill="#ffca00" d="M970.6 1252.1l9.5 6.5l9.4 0.4l-9.5 -6.5z"/>
<path fill="#fef400" d="M989.5 1259l9.6 6.7l9.3 0.8l-9.6 -6.7z"/>
<path fill="#d4f800" d="M1008.4 1266.5l9.7 7l9.1 1.4l-9.7 -7z"/>
<path fill="#9df100" d="M1027.2 1274.9l9.7 7.2l9 1.8l-9.7 -7.2z"/>
<path fill="#65ea00" d="M1045.9 1283.9l9.8 7.4l8.9 2.3l-9.8 -7.4z"/>
<path fill="#ff5735" d="M846.2 1229.9l9.1 5.1l10.1 -3.3l-9.2 -5.1z"/>
<path fill="#ff5828" d="M865.4 1231.7l9.2 5.4l10 -2.8l-9.2 -5.3z"/>
<path fill="#ff5d1b" d="M884.6 1234.3l9.2 5.6l9.9 -2.2l-9.2 -5.6z"/>
<path fill="#ff680e" d="M903.7 1237.7l9.4 5.8l9.8 -1.7l-9.4 -5.8z"/>
<path fill="#ff7900" d="M922.9 1241.8l9.4 6l9.7 -1.1l-9.4 -6.1z"/>
<path fill="#ff9800" d="M942 1246.7l9.5 6.2l9.6 -0.6l-9.5 -6.3z"/>
<path fill="#ffbb00" d="M961.1 1252.3l9.6 6.5l9.4 -0.2l-9.5 -6.5z"/>
<path fill="#ffe300" d="M980.1 1258.6l9.7 6.8l9.3 0.3l-9.6 -6.7z"/>
<path fill="#eefe00" d="M999.1 1265.7l9.7 7l9.3 0.8l-9.7 -7z"/>
<path fill="#b9f700" d="M1018.1 1273.5l9.7 7.2l9.1 1.4l-9.7 -7.2z"/>
<path fill="#82f000" d="M1036.9 1282.1l9.8 7.4l9 1.8l-9.8 -7.4z"/>
<path fill="#4ae900" d="M1055.7 1291.3l9.8 7.7l8.9 2.3l-9.8 -7.7z"/>
<path fill="#ff653f" d="M836 1233.8l9.1 5.1l10.2 -3.9l-9.1 -5.1z"/>
<path fill="#ff6333" d="M855.3 1235l9.2 5.4l10.1 -3.3l-9.2 -5.4z"/>
<path fill="#ff6527" d="M874.6 1237.1l9.2 5.6l10 -2.8l-9.2 -5.6z"/>
<path fill="#ff6d19" d="M893.8 1239.9l9.4 5.9l9.9 -2.3l-9.4 -5.8z"/>
<path fill="#ff7a0c" d="M913.1 1243.5l9.4 6.1l9.8 -1.8l-9.4 -6z"/>
<path fill="#ff8f00" d="M932.3 1247.8l9.5 6.3l9.7 -1.2l-9.5 -6.2z"/>
<path fill="#ffaf00" d="M951.5 1252.9l9.6 6.6l9.6 -0.7l-9.6 -6.5z"/>
<path fill="#ffd300" d="M970.7 1258.8l9.6 6.7l9.5 -0.1l-9.7 -6.8z"/>
<path fill="#fffc00" d="M989.8 1265.4l9.7 7l9.3 0.3l-9.7 -7z"/>
<path fill="#d3fd00" d="M1008.8 1272.7l9.8 7.2l9.2 0.8l-9.7 -7.2z"/>
<path fill="#9ef600" d="M1027.8 1280.7l9.8 7.5l9.1 1.3l-9.8 -7.4z"/>
<path fill="#66f000" d="M1046.7 1289.5l9.9 7.7l8.9 1.8l-9.8 -7.7z"/>
<path fill="#2ee900" d="M1065.5 1299l9.9 8l8.9 2.2l-9.9 -7.9z"/>
<path fill="#ff7449" d="M825.8 1238.2l9.1 5.1l10.2 -4.4l-9.1 -5.1z"/>
<path fill="#ff703e" d="M845.1 1238.9l9.2 5.4l10.2 -3.9l-9.2 -5.4z"/>
<path fill="#ff7032" d="M864.5 1240.4l9.3 5.6l10 -3.3l-9.2 -5.6z"/>
<path fill="#ff7425" d="M883.8 1242.7l9.4 5.8l10 -2.7l-9.4 -5.9z"/>
<path fill="#ff7e18" d="M903.2 1245.8l9.4 6l9.9 -2.2l-9.4 -6.1z"/>
<path fill="#ff8e0a" d="M922.5 1249.6l9.5 6.3l9.8 -1.8l-9.5 -6.3z"/>
<path fill="#ffa600" d="M941.8 1254.1l9.6 6.6l9.7 -1.2l-9.6 -6.6z"/>
<path fill="#ffc700" d="M961.1 1259.5l9.6 6.7l9.6 -0.7l-9.6 -6.7z"/>
<path fill="#ffed00" d="M980.3 1265.5l9.7 7.1l9.5 -0.2l-9.7 -7z"/>
<path fill="#e7ff00" d="M999.5 1272.4l9.7 7.2l9.4 0.3l-9.8 -7.2z"/>
<path fill="#b7fd00" d="M1018.6 1279.9l9.8 7.5l9.2 0.8l-9.8 -7.5z"/>
<path fill="#81f600" d="M1037.6 1288.2l9.9 7.8l9.1 1.2l-9.9 -7.7z"/>
<path fill="#49ef00" d="M1056.6 1297.2l9.9 8l8.9 1.8l-9.9 -8z"/>
<path fill="#11e800" d="M1075.4 1307l10 8.2l8.8 2.2l-9.9 -8.2z"/>
<path fill="#ff8453" d="M815.4 1243.1l9.1 5.2l10.4 -5l-9.1 -5.1z"/>
<path fill="#ff7f48" d="M834.9 1243.3l9.2 5.4l10.2 -4.4l-9.2 -5.4z"/>
<path fill="#ff7c3c" d="M854.3 1244.3l9.3 5.6l10.2 -3.9l-9.3 -5.6z"/>
<path fill="#ff7e30" d="M873.8 1246l9.3 5.9l10.1 -3.4l-9.4 -5.8z"/>
<path fill="#ff8523" d="M893.2 1248.5l9.4 6.1l10 -2.8l-9.4 -6z"/>
<path fill="#ff9116" d="M912.6 1251.8l9.5 6.4l9.9 -2.3l-9.5 -6.3z"/>
<path fill="#ffa309" d="M932 1255.9l9.6 6.5l9.8 -1.7l-9.6 -6.6z"/>
<path fill="#ffbe00" d="M951.4 1260.7l9.7 6.8l9.6 -1.3l-9.6 -6.7z"/>
<path fill="#ffe000" d="M970.7 1266.2l9.8 7.1l9.5 -0.7l-9.7 -7.1z"/>
<path fill="#f7ff00" d="M990 1272.6l9.8 7.2l9.4 -0.2l-9.7 -7.2z"/>
<path fill="#ccff00" d="M1009.2 1279.6l9.9 7.5l9.3 0.3l-9.8 -7.5z"/>
<path fill="#9afc00" d="M1028.4 1287.4l9.9 7.8l9.2 0.8l-9.9 -7.8z"/>
<path fill="#64f500" d="M1047.5 1296l10 8l9 1.2l-9.9 -8z"/>
<path fill="#2cef00" d="M1066.5 1305.2l10 8.2l8.9 1.8l-10 -8.2z"/>
<path fill="#00e80d" d="M1085.4 1315.2l10.1 8.5l8.7 2.2l-10 -8.5z"/>
<path fill="#ff945b" d="M805 1248.7l9.1 5.2l10.4 -5.6l-9.1 -5.2z"/>
<path fill="#ff8e51" d="M824.5 1248.3l9.2 5.4l10.4 -5l-9.2 -5.4z"/>
<path fill="#ff8a46" d="M844.1 1248.7l9.2 5.7l10.3 -4.5l-9.3 -5.6z"/>
<path fill="#ff8a3b" d="M863.6 1249.9l9.3 5.9l10.2 -3.9l-9.3 -5.9z"/>
<path fill="#ff8e2e" d="M883.1 1251.9l9.5 6.1l10 -3.4l-9.4 -6.1z"/>
<path fill="#ff9622" d="M902.6 1254.6l9.6 6.4l9.9 -2.8l-9.5 -6.4z"/>
<path fill="#ffa415" d="M922.1 1258.2l9.6 6.5l9.9 -2.3l-9.6 -6.5z"/>
<path fill="#ffb907" d="M941.6 1262.4l9.7 6.9l9.8 -1.8l-9.7 -6.8z"/>
<path fill="#ffd700" d="M961.1 1267.5l9.7 7l9.7 -1.2l-9.8 -7.1z"/>
<path fill="#fffa00" d="M980.5 1273.3l9.8 7.3l9.5 -0.8l-9.8 -7.2z"/>
<path fill="#dbff00" d="M999.8 1279.8l9.9 7.6l9.4 -0.3l-9.9 -7.5z"/>
<path fill="#afff00" d="M1019.1 1287.1l9.9 7.8l9.3 0.3l-9.9 -7.8z"/>
<path fill="#7cfb00" d="M1038.3 1295.2l10 8l9.2 0.8l-10 -8z"/>
<path fill="#45f500" d="M1057.5 1304l10 8.2l9 1.2l-10 -8.2z"/>
<path fill="#0dee00" d="M1076.5 1313.4l10.1 8.5l8.9 1.8l-10.1 -8.5z"/>
<path fill="#00e72c" d="M1095.5 1323.7l10.1 8.7l8.7 2.2l-10.1 -8.7z"/>
<path fill="#ffa563" d="M794.6 1254.8l9 5.2l10.5 -6.1l-9.1 -5.2z"/>
<path fill="#ff9e5a" d="M814.1 1253.9l9.2 5.4l10.4 -5.6l-9.2 -5.4z"/>
<path fill="#ff9950" d="M833.7 1253.7l9.3 5.7l10.3 -5l-9.2 -5.7z"/>
<path fill="#ff9745" d="M853.3 1254.4l9.4 5.9l10.2 -4.5l-9.3 -5.9z"/>
<path fill="#ff9839" d="M872.9 1255.8l9.5 6.2l10.2 -4l-9.5 -6.1z"/>
<path fill="#ff9e2d" d="M892.6 1258l9.5 6.4l10.1 -3.4l-9.6 -6.4z"/>
<path fill="#ffa920" d="M912.2 1261l9.6 6.6l9.9 -2.9l-9.6 -6.5z"/>
<path fill="#ffba13" d="M931.7 1264.7l9.7 6.9l9.9 -2.3l-9.7 -6.9z"/>
<path fill="#ffd105" d="M951.3 1269.3l9.7 7l9.8 -1.8l-9.7 -7z"/>
<path fill="#fff100" d="M970.8 1274.5l9.8 7.4l9.7 -1.3l-9.8 -7.3z"/>
<path fill="#e8ff00" d="M990.3 1280.6l9.9 7.5l9.5 -0.7l-9.9 -7.6z"/>
<path fill="#bfff00" d="M1009.7 1287.4l9.9 7.8l9.4 -0.3l-9.9 -7.8z"/>
<path fill="#91ff00" d="M1029 1294.9l10 8l9.3 0.3l-10 -8z"/>
<path fill="#5dfb00" d="M1048.3 1303.2l10 8.3l9.2 0.7l-10 -8.2z"/>
<path fill="#26f400" d="M1067.5 1312.2l10.1 8.5l9 1.2l-10.1 -8.5z"/>
<path fill="#00ed13" d="M1086.6 1321.9l10.1 8.8l8.9 1.7l-10.1 -8.7z"/>
<path fill="#00e74c" d="M1105.6 1332.4l10.2 9l8.7 2.1l-10.2 -8.9z"/>
<path fill="#ffb66b" d="M784 1261.5l9.1 5.2l10.5 -6.7l-9 -5.2z"/>
<path fill="#ffae62" d="M803.6 1260l9.2 5.5l10.5 -6.2l-9.2 -5.4z"/>
<path fill="#ffa858" d="M823.3 1259.3l9.3 5.7l10.4 -5.6l-9.3 -5.7z"/>
<path fill="#ffa54e" d="M843 1259.4l9.4 6l10.3 -5.1l-9.4 -5.9z"/>
<path fill="#ffa443" d="M862.7 1260.3l9.4 6.2l10.3 -4.5l-9.5 -6.2z"/>
<path fill="#ffa837" d="M882.4 1262l9.5 6.3l10.2 -3.9l-9.5 -6.4z"/>
<path fill="#ffb02b" d="M902.1 1264.4l9.6 6.6l10.1 -3.4l-9.6 -6.6z"/>
<path fill="#ffbd1e" d="M921.8 1267.6l9.7 6.9l9.9 -2.9l-9.7 -6.9z"/>
<path fill="#ffd011" d="M941.4 1271.6l9.8 7.1l9.8 -2.4l-9.7 -7z"/>
<path fill="#ffeb04" d="M961 1276.3l9.9 7.4l9.7 -1.8l-9.8 -7.4z"/>
<path fill="#f2ff00" d="M980.6 1281.9l9.9 7.5l9.7 -1.3l-9.9 -7.5z"/>
<path fill="#cbff00" d="M1000.2 1288.1l9.9 7.8l9.5 -0.7l-9.9 -7.8z"/>
<path fill="#a1ff00" d="M1019.6 1295.2l10 8l9.4 -0.3l-10 -8z"/>
<path fill="#71ff00" d="M1039 1302.9l10.1 8.3l9.2 0.3l-10 -8.3z"/>
<path fill="#3dfa00" d="M1058.3 1311.5l10.2 8.5l9.1 0.7l-10.1 -8.5z"/>
<path fill="#05f300" d="M1077.6 1320.7l10.2 8.8l8.9 1.2l-10.1 -8.8z"/>
<path fill="#00ed33" d="M1096.7 1330.7l10.3 9l8.8 1.7l-10.2 -9z"/>
<path fill="#00e66c" d="M1115.8 1341.4l10.2 9.2l8.7 2.2l-10.2 -9.3z"/>
<path fill="#ffc872" d="M773.4 1268.8l9.1 5.3l10.6 -7.4l-9.1 -5.2z"/>
<path fill="#ffbf6a" d="M793.1 1266.7l9.2 5.6l10.5 -6.8l-9.2 -5.5z"/>
<path fill="#ffb861" d="M812.8 1265.5l9.3 5.7l10.5 -6.2l-9.3 -5.7z"/>
<path fill="#ffb357" d="M832.6 1265l9.3 6l10.5 -5.6l-9.4 -6z"/>
<path fill="#ffb14c" d="M852.4 1265.4l9.4 6.1l10.3 -5l-9.4 -6.2z"/>
<path fill="#ffb341" d="M872.1 1266.5l9.6 6.4l10.2 -4.6l-9.5 -6.3z"/>
<path fill="#ffb836" d="M891.9 1268.3l9.6 6.7l10.2 -4l-9.6 -6.6z"/>
<path fill="#ffc329" d="M911.7 1271l9.7 6.9l10.1 -3.4l-9.7 -6.9z"/>
<path fill="#ffd21c" d="M931.5 1274.5l9.7 7.1l10 -2.9l-9.8 -7.1z"/>
<path fill="#ffe80f" d="M951.2 1278.7l9.8 7.3l9.9 -2.3l-9.9 -7.4z"/>
<path fill="#f8ff02" d="M970.9 1283.7l9.9 7.6l9.7 -1.9l-9.9 -7.5z"/>
<path fill="#d5ff00" d="M990.5 1289.4l10 7.9l9.6 -1.4l-9.9 -7.8z"/>
<path fill="#aeff00" d="M1010.1 1295.9l10 8.1l9.5 -0.8l-10 -8z"/>
<path fill="#82ff00" d="M1029.6 1303.2l10.1 8.3l9.4 -0.3l-10.1 -8.3z"/>
<path fill="#51ff00" d="M1049.1 1311.2l10.1 8.6l9.3 0.2l-10.2 -8.5z"/>
<path fill="#1bfa00" d="M1068.5 1320l10.2 8.8l9.1 0.7l-10.2 -8.8z"/>
<path fill="#00f31c" d="M1087.8 1329.5l10.2 9l9 1.2l-10.3 -9z"/>
<path fill="#00ec55" d="M1107 1339.7l10.2 9.3l8.8 1.6l-10.2 -9.2z"/>
<path fill="#00e68e" d="M1126 1350.6l10.4 9.5l8.6 2.2l-10.3 -9.5z"/>
<path fill="#ffd978" d="M762.7 1276.7l9.1 5.3l10.7 -7.9l-9.1 -5.3z"/>
<path fill="#ffd070" d="M782.5 1274.1l9.1 5.5l10.7 -7.3l-9.2 -5.6z"/>
<path fill="#ffc868" d="M802.3 1272.3l9.2 5.7l10.6 -6.8l-9.3 -5.7z"/>
<path fill="#ffc35f" d="M822.1 1271.2l9.3 6l10.5 -6.2l-9.3 -6z"/>
<path fill="#ffbf55" d="M841.9 1271l9.5 6.2l10.4 -5.7l-9.4 -6.1z"/>
<path fill="#ffbf4b" d="M861.8 1271.5l9.5 6.5l10.4 -5.1l-9.6 -6.4z"/>
<path fill="#ffc340" d="M881.7 1272.9l9.6 6.7l10.2 -4.6l-9.6 -6.7z"/>
<path fill="#ffca34" d="M901.5 1275l9.7 6.9l10.2 -4l-9.7 -6.9z"/>
<path fill="#ffd727" d="M921.4 1277.9l9.8 7.1l10 -3.4l-9.7 -7.1z"/>
<path fill="#ffe91b" d="M941.2 1281.6l9.9 7.4l9.9 -3l-9.8 -7.3z"/>
<path fill="#fcff0d" d="M961 1286l9.9 7.7l9.9 -2.4l-9.9 -7.6z"/>
<path fill="#dcff00" d="M980.8 1291.3l10 7.8l9.7 -1.8l-10 -7.9z"/>
<path fill="#b8ff00" d="M1000.5 1297.3l10 8.1l9.6 -1.4l-10 -8.1z"/>
<path fill="#8fff00" d="M1020.1 1304l10.2 8.4l9.4 -0.9l-10.1 -8.3z"/>
<path fill="#61ff00" d="M1039.7 1311.5l10.2 8.6l9.3 -0.3l-10.1 -8.6z"/>
<path fill="#30ff00" d="M1059.2 1319.8l10.3 8.8l9.2 0.2l-10.2 -8.8z"/>
<path fill="#00f907" d="M1078.7 1328.8l10.2 9l9.1 0.7l-10.2 -9z"/>
<path fill="#00f23e" d="M1098 1338.5l10.3 9.3l8.9 1.2l-10.2 -9.3z"/>
<path fill="#00ec77" d="M1117.2 1349l10.4 9.5l8.8 1.6l-10.4 -9.5z"/>
<path fill="#00e5b0" d="M1136.4 1360.1l10.4 9.8l8.6 2.1l-10.4 -9.7z"/>
<path fill="#ffea7e" d="M752 1285.1l9 5.4l10.8 -8.5l-9.1 -5.3z"/>
<path fill="#ffe177" d="M771.8 1282l9.1 5.6l10.7 -8l-9.1 -5.5z"/>
<path fill="#ffd96f" d="M791.6 1279.6l9.3 5.8l10.6 -7.4l-9.2 -5.7z"/>
<path fill="#ffd267" d="M811.5 1278l9.4 6l10.5 -6.8l-9.3 -6z"/>
<path fill="#ffce5e" d="M831.4 1277.2l9.5 6.3l10.5 -6.3l-9.5 -6.2z"/>
<path fill="#ffcd54" d="M851.4 1277.2l9.5 6.5l10.4 -5.7l-9.5 -6.5z"/>
<path fill="#ffce49" d="M871.3 1278l9.6 6.7l10.4 -5.1l-9.6 -6.7z"/>
<path fill="#ffd43e" d="M891.3 1279.6l9.7 6.9l10.2 -4.6l-9.7 -6.9z"/>
<path fill="#ffdd32" d="M911.2 1281.9l9.8 7.2l10.2 -4.1l-9.8 -7.1z"/>
<path fill="#ffec26" d="M931.2 1285l9.8 7.5l10.1 -3.5l-9.9 -7.4z"/>
<path fill="#fdff19" d="M951.1 1289l9.9 7.6l9.9 -2.9l-9.9 -7.7z"/>
<path fill="#e1ff0c" d="M970.9 1293.7l10 7.8l9.9 -2.4l-10 -7.8z"/>
<path fill="#bfff00" d="M990.8 1299.1l10 8.2l9.7 -1.9l-10 -8.1z"/>
<path fill="#99ff00" d="M1010.5 1305.4l10.2 8.3l9.6 -1.3l-10.2 -8.4z"/>
<path fill="#6fff00" d="M1030.3 1312.4l10.1 8.6l9.5 -0.9l-10.2 -8.6z"/>
<path fill="#40ff00" d="M1049.9 1320.1l10.2 8.9l9.4 -0.4l-10.3 -8.8z"/>
<path fill="#0dff00" d="M1069.5 1328.6l10.3 9.1l9.1 0.1l-10.2 -9z"/>
<path fill="#00f82a" d="M1088.9 1337.8l10.4 9.4l9 0.6l-10.3 -9.3z"/>
<path fill="#00f261" d="M1108.3 1347.8l10.4 9.6l8.9 1.1l-10.4 -9.5z"/>
<path fill="#00eb9a" d="M1127.6 1358.5l10.4 9.8l8.8 1.6l-10.4 -9.8z"/>
<path fill="#00e5d4" d="M1146.8 1369.9l10.4 10.1l8.6 2l-10.4 -10z"/>
<path fill="#fffc83" d="M741.2 1294.2l9 5.4l10.8 -9.1l-9 -5.4z"/>
<path fill="#fff27c" d="M761 1290.5l9.1 5.6l10.8 -8.5l-9.1 -5.6z"/>
<path fill="#ffe975" d="M780.9 1287.6l9.3 5.8l10.7 -8l-9.3 -5.8z"/>
<path fill="#ffe26e" d="M800.9 1285.4l9.3 6.1l10.7 -7.5l-9.4 -6z"/>
<path fill="#ffdd65" d="M820.9 1284l9.4 6.3l10.6 -6.8l-9.5 -6.3z"/>
<path fill="#ffdb5c" d="M840.9 1283.5l9.5 6.5l10.5 -6.3l-9.5 -6.5z"/>
<path fill="#ffdb52" d="M860.9 1283.7l9.6 6.7l10.4 -5.7l-9.6 -6.7z"/>
<path fill="#ffde47" d="M880.9 1284.7l9.7 7l10.4 -5.2l-9.7 -6.9z"/>
<path fill="#ffe63c" d="M901 1286.5l9.8 7.2l10.2 -4.6l-9.8 -7.2z"/>
<path fill="#fff230" d="M921 1289.1l9.9 7.4l10.1 -4l-9.8 -7.5z"/>
<path fill="#fbff24" d="M941 1292.5l10 7.6l10 -3.5l-9.9 -7.6z"/>
<path fill="#e3ff17" d="M961 1296.6l10 7.9l9.9 -3l-10 -7.8z"/>
<path fill="#c5ff0a" d="M980.9 1301.5l10.1 8.2l9.8 -2.4l-10 -8.2z"/>
<path fill="#a0ff00" d="M1000.8 1307.3l10.2 8.3l9.7 -1.9l-10.2 -8.3z"/>
<path fill="#79ff00" d="M1020.7 1313.7l10.2 8.7l9.5 -1.4l-10.1 -8.6z"/>
<path fill="#4dff00" d="M1040.4 1321l10.3 8.8l9.4 -0.8l-10.2 -8.9z"/>
<path fill="#1dff00" d="M1060.1 1329l10.4 9.1l9.3 -0.4l-10.3 -9.1z"/>
<path fill="#00fe17" d="M1079.8 1337.7l10.3 9.3l9.2 0.2l-10.4 -9.4z"/>
<path fill="#00f74d" d="M1099.3 1347.2l10.4 9.6l9 0.6l-10.4 -9.6z"/>
<path fill="#00f185" d="M1118.7 1357.4l10.5 9.8l8.8 1.1l-10.4 -9.8z"/>
<path fill="#00eabe" d="M1138 1368.3l10.5 10.1l8.7 1.6l-10.4 -10.1z"/>
<path fill="#00d0e4" d="M1157.2 1380l10.6 10.3l8.5 2l-10.5 -10.3z"/>
<path fill="#f1ff87" d="M730.3 1303.9l9 5.5l10.9 -9.8l-9 -5.4z"/>
<path fill="#fbff82" d="M750.2 1299.6l9.1 5.7l10.8 -9.2l-9.1 -5.6z"/>
<path fill="#fffa7b" d="M770.1 1296.1l9.3 5.9l10.8 -8.6l-9.3 -5.8z"/>
<path fill="#fff374" d="M790.2 1293.4l9.3 6.1l10.7 -8l-9.3 -6.1z"/>
<path fill="#ffed6c" d="M810.2 1291.5l9.4 6.3l10.7 -7.5l-9.4 -6.3z"/>
<path fill="#ffe964" d="M830.3 1290.3l9.5 6.6l10.6 -6.9l-9.5 -6.5z"/>
<path fill="#ffe85a" d="M850.4 1290l9.6 6.8l10.5 -6.4l-9.6 -6.7z"/>
<path fill="#ffea50" d="M870.5 1290.4l9.7 7l10.4 -5.7l-9.7 -7z"/>
<path fill="#ffef45" d="M890.6 1291.7l9.8 7.2l10.4 -5.2l-9.8 -7.2z"/>
<path fill="#fff93a" d="M910.8 1293.7l9.8 7.5l10.3 -4.7l-9.9 -7.4z"/>
<path fill="#f7ff2e" d="M930.9 1296.5l9.9 7.7l10.2 -4.1l-10 -7.6z"/>
<path fill="#e3ff22" d="M951 1300.1l10 8l10 -3.6l-10 -7.9z"/>
<path fill="#c8ff15" d="M971 1304.5l10.1 8.2l9.9 -3l-10.1 -8.2z"/>
<path fill="#a7ff08" d="M991 1309.7l10.2 8.4l9.8 -2.5l-10.2 -8.3z"/>
<path fill="#80ff00" d="M1011 1315.6l10.2 8.7l9.7 -1.9l-10.2 -8.7z"/>
<path fill="#58ff00" d="M1030.9 1322.4l10.3 8.9l9.5 -1.5l-10.3 -8.8z"/>
<path fill="#2bff00" d="M1050.7 1329.8l10.4 9.2l9.4 -0.9l-10.4 -9.1z"/>
<path fill="#00ff06" d="M1070.5 1338.1l10.4 9.4l9.2 -0.5l-10.3 -9.3z"/>
<path fill="#00fd3c" d="M1090.1 1347l10.5 9.7l9.1 0.1l-10.4 -9.6z"/>
<path fill="#00f772" d="M1109.7 1356.8l10.5 9.8l9 0.6l-10.5 -9.8z"/>
<path fill="#00f0aa" d="M1129.2 1367.2l10.5 10.1l8.8 1.1l-10.5 -10.1z"/>
<path fill="#00eae3" d="M1148.5 1378.4l10.6 10.3l8.7 1.6l-10.6 -10.3z"/>
<path fill="#00aae3" d="M1167.8 1390.3l10.6 10.6l8.5 2l-10.6 -10.6z"/>
<path fill="#dfff8b" d="M719.4 1314.2l9 5.5l10.9 -10.3l-9 -5.5z"/>
<path fill="#eaff86" d="M739.3 1309.4l9.1 5.7l10.9 -9.8l-9.1 -5.7z"/>
<path fill="#f3ff80" d="M759.3 1305.3l9.2 5.9l10.9 -9.2l-9.3 -5.9z"/>
<path fill="#fbff7a" d="M779.4 1302l9.3 6.1l10.8 -8.6l-9.3 -6.1z"/>
<path fill="#fffd73" d="M799.5 1299.5l9.4 6.3l10.7 -8l-9.4 -6.3z"/>
<path fill="#fff96b" d="M819.6 1297.8l9.5 6.6l10.7 -7.5l-9.5 -6.6z"/>
<path fill="#fff662" d="M839.8 1296.9l9.6 6.8l10.6 -6.9l-9.6 -6.8z"/>
<path fill="#fff759" d="M860 1296.8l9.7 7l10.5 -6.4l-9.7 -7z"/>
<path fill="#fffa4e" d="M880.2 1297.4l9.8 7.3l10.4 -5.8l-9.8 -7.2z"/>
<path fill="#fcff44" d="M900.4 1298.9l9.9 7.5l10.3 -5.2l-9.8 -7.5z"/>
<path fill="#f0ff38" d="M920.6 1301.2l10 7.7l10.2 -4.7l-9.9 -7.7z"/>
<path fill="#dfff2c" d="M940.8 1304.2l10 8l10.2 -4.1l-10 -8z"/>
<path fill="#c9ff20" d="M961 1308.1l10.1 8.2l10 -3.6l-10.1 -8.2z"/>
<path fill="#acff13" d="M981.1 1312.7l10.2 8.5l9.9 -3.1l-10.2 -8.4z"/>
<path fill="#87ff06" d="M1001.2 1318.1l10.2 8.7l9.8 -2.5l-10.2 -8.7z"/>
<path fill="#5fff00" d="M1021.2 1324.3l10.3 8.9l9.7 -1.9l-10.3 -8.9z"/>
<path fill="#35ff00" d="M1041.2 1331.3l10.3 9.1l9.6 -1.4l-10.4 -9.2z"/>
<path fill="#07ff00" d="M1061.1 1339l10.4 9.4l9.4 -0.9l-10.4 -9.4z"/>
<path fill="#00ff2b" d="M1080.9 1347.5l10.4 9.6l9.3 -0.4l-10.5 -9.7z"/>
<path fill="#00fd61" d="M1100.6 1356.7l10.5 9.9l9.1 0l-10.5 -9.8z"/>
<path fill="#00f698" d="M1120.2 1366.6l10.5 10.2l9 0.5l-10.5 -10.1z"/>
<path fill="#00f0d0" d="M1139.7 1377.3l10.6 10.4l8.8 1l-10.6 -10.3z"/>
<path fill="#00c9e9" d="M1159.1 1388.7l10.6 10.7l8.7 1.5l-10.6 -10.6z"/>
<path fill="#0083e3" d="M1178.4 1400.9l10.6 10.8l8.5 2l-10.6 -10.8z"/>
<path fill="#cdff8f" d="M708.4 1325.2l9 5.5l11 -11l-9 -5.5z"/>
<path fill="#d8ff8a" d="M728.4 1319.7l9 5.8l11 -10.4l-9.1 -5.7z"/>
<path fill="#e2ff85" d="M748.4 1315.1l9.2 5.9l10.9 -9.8l-9.2 -5.9z"/>
<path fill="#eaff7f" d="M768.5 1311.2l9.3 6.2l10.9 -9.3l-9.3 -6.1z"/>
<path fill="#f1ff78" d="M788.7 1308.1l9.4 6.4l10.8 -8.7l-9.4 -6.3z"/>
<path fill="#f6ff71" d="M808.9 1305.8l9.5 6.7l10.7 -8.1l-9.5 -6.6z"/>
<path fill="#f9ff69" d="M829.1 1304.4l9.6 6.8l10.7 -7.5l-9.6 -6.8z"/>
<path fill="#faff60" d="M849.4 1303.7l9.7 7.1l10.6 -7l-9.7 -7z"/>
<path fill="#f8ff57" d="M869.7 1303.8l9.8 7.3l10.5 -6.4l-9.8 -7.3z"/>
<path fill="#f2ff4d" d="M890 1304.7l9.9 7.5l10.4 -5.8l-9.9 -7.5z"/>
<path fill="#e8ff42" d="M910.3 1306.4l10 7.8l10.3 -5.3l-10 -7.7z"/>
<path fill="#daff36" d="M930.6 1308.9l10 8l10.2 -4.7l-10 -8z"/>
<path fill="#c7ff2a" d="M950.8 1312.2l10.2 8.3l10.1 -4.2l-10.1 -8.2z"/>
<path fill="#aeff1e" d="M971.1 1316.3l10.2 8.5l10 -3.6l-10.2 -8.5z"/>
<path fill="#8dff11" d="M991.3 1321.2l10.2 8.7l9.9 -3.1l-10.2 -8.7z"/>
<path fill="#66ff04" d="M1011.4 1326.8l10.3 9l9.8 -2.6l-10.3 -8.9z"/>
<path fill="#3dff00" d="M1031.5 1333.2l10.4 9.3l9.6 -2.1l-10.3 -9.1z"/>
<path fill="#12ff00" d="M1051.5 1340.4l10.5 9.5l9.5 -1.5l-10.4 -9.4z"/>
<path fill="#00ff1d" d="M1071.5 1348.4l10.5 9.7l9.3 -1l-10.4 -9.6z"/>
<path fill="#00ff51" d="M1091.3 1357.1l10.6 10l9.2 -0.5l-10.5 -9.9z"/>
<path fill="#00fc88" d="M1111.1 1366.6l10.6 10.2l9 0l-10.5 -10.2z"/>
<path fill="#00f5bf" d="M1130.7 1376.8l10.7 10.4l8.9 0.5l-10.6 -10.4z"/>
<path fill="#00e7ef" d="M1150.3 1387.7l10.7 10.7l8.7 1l-10.6 -10.7z"/>
<path fill="#00a2e8" d="M1169.7 1399.4l10.7 10.9l8.6 1.4l-10.6 -10.8z"/>
<path fill="#005be2" d="M1189 1411.7l10.8 11.1l8.4 2l-10.7 -11.1z"/>
<path fill="#c6ff8e" d="M717.4 1330.7l9 5.8l11 -11l-9 -5.8z"/>
<path fill="#d0ff89" d="M737.4 1325.5l9.2 6l11 -10.5l-9.2 -5.9z"/>
<path fill="#d9ff84" d="M757.6 1321l9.3 6.2l10.9 -9.8l-9.3 -6.2z"/>
<path fill="#e0ff7e" d="M777.8 1317.4l9.4 6.4l10.9 -9.3l-9.4 -6.4z"/>
<path fill="#e6ff77" d="M798.1 1314.5l9.5 6.7l10.8 -8.7l-9.5 -6.7z"/>
<path fill="#eaff70" d="M818.4 1312.5l9.6 6.8l10.7 -8.1l-9.6 -6.8z"/>
<path fill="#ecff67" d="M838.7 1311.2l9.7 7.1l10.7 -7.5l-9.7 -7.1z"/>
<path fill="#ebff5e" d="M859.1 1310.8l9.8 7.3l10.6 -7l-9.8 -7.3z"/>
<path fill="#e7ff55" d="M879.5 1311.1l9.9 7.6l10.5 -6.5l-9.9 -7.5z"/>
<path fill="#dfff4b" d="M899.9 1312.2l9.9 7.8l10.5 -5.8l-10 -7.8z"/>
<path fill="#d4ff40" d="M920.3 1314.2l10 8l10.3 -5.3l-10 -8z"/>
<path fill="#c3ff34" d="M940.6 1316.9l10.1 8.3l10.3 -4.7l-10.2 -8.3z"/>
<path fill="#adff28" d="M961 1320.5l10.2 8.5l10.1 -4.2l-10.2 -8.5z"/>
<path fill="#91ff1c" d="M981.3 1324.8l10.2 8.7l10 -3.6l-10.2 -8.7z"/>
<path fill="#6eff0f" d="M1001.5 1329.9l10.4 9l9.8 -3.1l-10.3 -9z"/>
<path fill="#43ff02" d="M1021.7 1335.8l10.4 9.2l9.8 -2.5l-10.4 -9.3z"/>
<path fill="#1aff00" d="M1041.9 1342.5l10.4 9.4l9.7 -2l-10.5 -9.5z"/>
<path fill="#00ff13" d="M1062 1349.9l10.5 9.7l9.5 -1.5l-10.5 -9.7z"/>
<path fill="#00ff43" d="M1082 1358.1l10.5 10l9.4 -1l-10.6 -10z"/>
<path fill="#00ff78" d="M1101.9 1367.1l10.6 10.2l9.2 -0.5l-10.6 -10.2z"/>
<path fill="#00fbaf" d="M1121.7 1376.8l10.6 10.4l9.1 0l-10.7 -10.4z"/>
<path fill="#00f5e6" d="M1141.4 1387.2l10.7 10.7l8.9 0.5l-10.7 -10.7z"/>
<path fill="#00beee" d="M1161 1398.4l10.7 10.9l8.7 1l-10.7 -10.9z"/>
<path fill="#0079e8" d="M1180.4 1410.3l10.8 11.1l8.6 1.4l-10.8 -11.1z"/>
<path fill="#beff8c" d="M726.4 1336.5l9.2 6l11 -11l-9.2 -6z"/>
<path fill="#c8ff88" d="M746.6 1331.5l9.3 6.2l11 -10.5l-9.3 -6.2z"/>
<path fill="#d0ff82" d="M766.9 1327.2l9.4 6.5l10.9 -9.9l-9.4 -6.4z"/>
<path fill="#d6ff7c" d="M787.2 1323.8l9.5 6.7l10.9 -9.3l-9.5 -6.7z"/>
<path fill="#daff75" d="M807.6 1321.2l9.6 6.9l10.8 -8.8l-9.6 -6.8z"/>
<path fill="#ddff6e" d="M828 1319.3l9.7 7.2l10.7 -8.2l-9.7 -7.1z"/>
<path fill="#ddff66" d="M848.4 1318.3l9.8 7.4l10.7 -7.6l-9.8 -7.3z"/>
<path fill="#dbff5d" d="M868.9 1318.1l9.9 7.6l10.6 -7l-9.9 -7.6z"/>
<path fill="#d5ff53" d="M889.4 1318.7l9.9 7.8l10.5 -6.5l-9.9 -7.8z"/>
<path fill="#cbff49" d="M909.8 1320l10.1 8.1l10.4 -5.9l-10 -8z"/>
<path fill="#bdff3e" d="M930.3 1322.2l10.1 8.3l10.3 -5.3l-10.1 -8.3z"/>
<path fill="#aaff32" d="M950.7 1325.2l10.2 8.6l10.3 -4.8l-10.2 -8.5z"/>
<path fill="#92ff26" d="M971.2 1329l10.2 8.8l10.1 -4.3l-10.2 -8.7z"/>
<path fill="#73ff1a" d="M991.5 1333.5l10.4 9.1l10 -3.7l-10.4 -9z"/>
<path fill="#4cff0d" d="M1011.9 1338.9l10.4 9.3l9.8 -3.2l-10.4 -9.2z"/>
<path fill="#1eff00" d="M1032.1 1345l10.5 9.6l9.7 -2.7l-10.4 -9.4z"/>
<path fill="#00ff0b" d="M1052.3 1351.9l10.6 9.8l9.6 -2.1l-10.5 -9.7z"/>
<path fill="#00ff38" d="M1072.5 1359.6l10.6 10l9.4 -1.5l-10.5 -10z"/>
<path fill="#00ff6a" d="M1092.5 1368.1l10.7 10.2l9.3 -1l-10.6 -10.2z"/>
<path fill="#00ffa1" d="M1112.5 1377.3l10.7 10.5l9.1 -0.6l-10.6 -10.4z"/>
<path fill="#00fad7" d="M1132.3 1387.2l10.8 10.7l9 0l-10.7 -10.7z"/>
<path fill="#00d9f4" d="M1152.1 1397.9l10.7 11l8.9 0.4l-10.7 -10.9z"/>
<path fill="#0095ee" d="M1171.7 1409.3l10.8 11.2l8.7 0.9l-10.8 -11.1z"/>
<path fill="#b6ff8b" d="M735.6 1342.5l9.2 6.4l11.1 -11.2l-9.3 -6.2z"/>
<path fill="#beff87" d="M755.9 1337.7l9.4 6.6l11 -10.6l-9.4 -6.5z"/>
<path fill="#c5ff81" d="M776.3 1333.7l9.4 6.8l11 -10l-9.5 -6.7z"/>
<path fill="#cbff7b" d="M796.7 1330.5l9.6 7l10.9 -9.4l-9.6 -6.9z"/>
<path fill="#ceff74" d="M817.2 1328.1l9.6 7.2l10.9 -8.8l-9.7 -7.2z"/>
<path fill="#cfff6c" d="M837.7 1326.5l9.7 7.4l10.8 -8.2l-9.8 -7.4z"/>
<path fill="#ceff64" d="M858.2 1325.7l9.9 7.7l10.7 -7.7l-9.9 -7.6z"/>
<path fill="#c9ff5b" d="M878.8 1325.7l9.9 7.9l10.6 -7.1l-9.9 -7.8z"/>
<path fill="#c2ff51" d="M899.3 1326.5l10.1 8.1l10.5 -6.5l-10.1 -8.1z"/>
<path fill="#b6ff47" d="M919.9 1328.1l10.1 8.4l10.4 -6l-10.1 -8.3z"/>
<path fill="#a6ff3c" d="M940.4 1330.5l10.2 8.6l10.3 -5.3l-10.2 -8.6z"/>
<path fill="#90ff30" d="M960.9 1333.8l10.3 8.8l10.2 -4.8l-10.2 -8.8z"/>
<path fill="#75ff24" d="M981.4 1337.8l10.4 9.1l10.1 -4.3l-10.4 -9.1z"/>
<path fill="#53ff18" d="M1001.9 1342.6l10.4 9.3l10 -3.7l-10.4 -9.3z"/>
<path fill="#29ff0b" d="M1022.3 1348.2l10.5 9.5l9.8 -3.1l-10.5 -9.6z"/>
<path fill="#00ff06" d="M1042.6 1354.6l10.6 9.8l9.7 -2.7l-10.6 -9.8z"/>
<path fill="#00ff30" d="M1062.9 1361.7l10.6 10.1l9.6 -2.2l-10.6 -10z"/>
<path fill="#00ff5f" d="M1083.1 1369.6l10.6 10.3l9.5 -1.6l-10.7 -10.2z"/>
<path fill="#00ff92" d="M1103.2 1378.3l10.7 10.6l9.3 -1.1l-10.7 -10.5z"/>
<path fill="#00ffca" d="M1123.2 1387.8l10.7 10.7l9.2 -0.6l-10.8 -10.7z"/>
<path fill="#00f3fa" d="M1143.1 1397.9l10.7 11.1l9 -0.1l-10.7 -11z"/>
<path fill="#00aff3" d="M1162.8 1408.9l10.9 11.2l8.8 0.4l-10.8 -11.2z"/>
<path fill="#adff8a" d="M744.8 1348.9l9.4 6.5l11.1 -11.1l-9.4 -6.6z"/>
<path fill="#b4ff85" d="M765.3 1344.3l9.4 6.8l11 -10.6l-9.4 -6.8z"/>
<path fill="#baff80" d="M785.7 1340.5l9.6 7l11 -10l-9.6 -7z"/>
<path fill="#beff79" d="M806.3 1337.5l9.6 7.2l10.9 -9.4l-9.6 -7.2z"/>
<path fill="#c1ff72" d="M826.8 1335.3l9.8 7.5l10.8 -8.9l-9.7 -7.4z"/>
<path fill="#c0ff6a" d="M847.4 1333.9l9.9 7.7l10.8 -8.2l-9.9 -7.7z"/>
<path fill="#bdff62" d="M868.1 1333.4l9.9 7.9l10.7 -7.7l-9.9 -7.9z"/>
<path fill="#b7ff59" d="M888.7 1333.6l10.1 8.2l10.6 -7.2l-10.1 -8.1z"/>
<path fill="#adff4f" d="M909.4 1334.6l10.1 8.4l10.5 -6.5l-10.1 -8.4z"/>
<path fill="#a0ff45" d="M930 1336.5l10.2 8.6l10.4 -6l-10.2 -8.6z"/>
<path fill="#8dff3a" d="M950.6 1339.1l10.3 8.9l10.3 -5.4l-10.3 -8.8z"/>
<path fill="#75ff2e" d="M971.2 1342.6l10.4 9.1l10.2 -4.8l-10.4 -9.1z"/>
<path fill="#56ff22" d="M991.8 1346.9l10.4 9.3l10.1 -4.3l-10.4 -9.3z"/>
<path fill="#31ff16" d="M1012.3 1351.9l10.5 9.6l10 -3.8l-10.5 -9.5z"/>
<path fill="#09ff0d" d="M1032.8 1357.7l10.5 9.9l9.9 -3.2l-10.6 -9.8z"/>
<path fill="#00ff2c" d="M1053.2 1364.4l10.6 10.1l9.7 -2.7l-10.6 -10.1z"/>
<path fill="#00ff57" d="M1073.5 1371.8l10.7 10.3l9.5 -2.2l-10.6 -10.3z"/>
<path fill="#00ff87" d="M1093.7 1379.9l10.8 10.6l9.4 -1.6l-10.7 -10.6z"/>
<path fill="#00ffbc" d="M1113.9 1388.9l10.8 10.8l9.2 -1.2l-10.7 -10.7z"/>
<path fill="#00fff5" d="M1133.9 1398.5l10.8 11.1l9.1 -0.6l-10.7 -11.1z"/>
<path fill="#00c7f9" d="M1153.8 1409l10.9 11.3l9 -0.2l-10.9 -11.2z"/>
<path fill="#a3ff89" d="M754.2 1355.4l9.4 6.9l11.1 -11.2l-9.4 -6.8z"/>
<path fill="#aaff84" d="M774.7 1351.1l9.6 7l11 -10.6l-9.6 -7z"/>
<path fill="#afff7e" d="M795.3 1347.5l9.7 7.3l10.9 -10.1l-9.6 -7.2z"/>
<path fill="#b1ff78" d="M815.9 1344.7l9.8 7.6l10.9 -9.5l-9.8 -7.5z"/>
<path fill="#b2ff71" d="M836.6 1342.8l9.9 7.7l10.8 -8.9l-9.9 -7.7z"/>
<path fill="#b0ff69" d="M857.3 1341.6l10 8l10.7 -8.3l-9.9 -7.9z"/>
<path fill="#acff60" d="M878 1341.3l10.1 8.2l10.7 -7.7l-10.1 -8.2z"/>
<path fill="#a4ff57" d="M898.8 1341.8l10.1 8.4l10.6 -7.2l-10.1 -8.4z"/>
<path fill="#98ff4d" d="M919.5 1343l10.2 8.7l10.5 -6.6l-10.2 -8.6z"/>
<path fill="#88ff43" d="M940.2 1345.1l10.3 9l10.4 -6.1l-10.3 -8.9z"/>
<path fill="#72ff38" d="M960.9 1348l10.4 9.2l10.3 -5.5l-10.4 -9.1z"/>
<path fill="#58ff2c" d="M981.6 1351.7l10.4 9.4l10.2 -4.9l-10.4 -9.3z"/>
<path fill="#36ff20" d="M1002.2 1356.2l10.5 9.7l10.1 -4.4l-10.5 -9.6z"/>
<path fill="#13ff19" d="M1022.8 1361.5l10.6 9.9l9.9 -3.8l-10.5 -9.9z"/>
<path fill="#07ff2f" d="M1043.3 1367.6l10.7 10.1l9.8 -3.2l-10.6 -10.1z"/>
<path fill="#00ff52" d="M1063.8 1374.5l10.7 10.3l9.7 -2.7l-10.7 -10.3z"/>
<path fill="#00ff7f" d="M1084.2 1382.1l10.7 10.6l9.6 -2.2l-10.8 -10.6z"/>
<path fill="#00ffb0" d="M1104.5 1390.5l10.8 10.9l9.4 -1.7l-10.8 -10.8z"/>
<path fill="#00ffe6" d="M1124.7 1399.7l10.8 11.1l9.2 -1.2l-10.8 -11.1z"/>
<path fill="#00ddff" d="M1144.7 1409.6l10.9 11.3l9.1 -0.6l-10.9 -11.3z"/>
<path fill="#98ff88" d="M763.6 1362.3l9.6 7.1l11.1 -11.3l-9.6 -7z"/>
<path fill="#9eff82" d="M784.3 1358.1l9.6 7.4l11.1 -10.7l-9.7 -7.3z"/>
<path fill="#a2ff7d" d="M805 1354.8l9.7 7.6l11 -10.1l-9.8 -7.6z"/>
<path fill="#a3ff76" d="M825.7 1352.3l9.8 7.7l11 -9.5l-9.9 -7.7z"/>
<path fill="#a3ff6f" d="M846.5 1350.5l9.9 8l10.9 -8.9l-10 -8z"/>
<path fill="#9fff67" d="M867.3 1349.6l10 8.3l10.8 -8.4l-10.1 -8.2z"/>
<path fill="#99ff5e" d="M888.1 1349.5l10.1 8.5l10.7 -7.8l-10.1 -8.4z"/>
<path fill="#8fff55" d="M908.9 1350.2l10.2 8.7l10.6 -7.2l-10.2 -8.7z"/>
<path fill="#81ff4b" d="M929.7 1351.7l10.3 9l10.5 -6.6l-10.3 -9z"/>
<path fill="#6eff40" d="M950.5 1354.1l10.4 9.2l10.4 -6.1l-10.4 -9.2z"/>
<path fill="#57ff35" d="M971.3 1357.2l10.5 9.4l10.2 -5.5l-10.4 -9.4z"/>
<path fill="#39ff2a" d="M992 1361.1l10.6 9.7l10.1 -4.9l-10.5 -9.7z"/>
<path fill="#1eff27" d="M1012.7 1365.9l10.6 9.9l10.1 -4.4l-10.6 -9.9z"/>
<path fill="#11ff39" d="M1033.4 1371.4l10.7 10.2l9.9 -3.9l-10.7 -10.1z"/>
<path fill="#05ff53" d="M1054 1377.7l10.7 10.4l9.8 -3.3l-10.7 -10.3z"/>
<path fill="#00ff7a" d="M1074.5 1384.8l10.8 10.7l9.6 -2.8l-10.7 -10.6z"/>
<path fill="#00ffa8" d="M1094.9 1392.7l10.9 10.9l9.5 -2.2l-10.8 -10.9z"/>
<path fill="#00ffdb" d="M1115.3 1401.4l10.9 11.1l9.3 -1.7l-10.8 -11.1z"/>
<path fill="#00ecff" d="M1135.5 1410.8l10.9 11.4l9.2 -1.3l-10.9 -11.3z"/>
<path fill="#8dff86" d="M773.2 1369.4l9.6 7.4l11.1 -11.3l-9.6 -7.4z"/>
<path fill="#92ff81" d="M793.9 1365.5l9.7 7.6l11.1 -10.7l-9.7 -7.6z"/>
<path fill="#94ff7b" d="M814.7 1362.4l9.8 7.8l11 -10.2l-9.8 -7.7z"/>
<path fill="#94ff74" d="M835.5 1360l10 8.1l10.9 -9.6l-9.9 -8z"/>
<path fill="#92ff6d" d="M856.4 1358.5l10 8.4l10.9 -9l-10 -8.3z"/>
<path fill="#8dff65" d="M877.3 1357.9l10.1 8.5l10.8 -8.4l-10.1 -8.5z"/>
<path fill="#85ff5c" d="M898.2 1358l10.2 8.8l10.7 -7.9l-10.2 -8.7z"/>
<path fill="#79ff53" d="M919.1 1358.9l10.3 9l10.6 -7.2l-10.3 -9z"/>
<path fill="#69ff49" d="M940 1360.7l10.4 9.2l10.5 -6.6l-10.4 -9.2z"/>
<path fill="#54ff3e" d="M960.9 1363.3l10.5 9.5l10.4 -6.2l-10.5 -9.4z"/>
<path fill="#39ff33" d="M981.8 1366.6l10.5 9.8l10.3 -5.6l-10.6 -9.7z"/>
<path fill="#28ff37" d="M1002.6 1370.8l10.6 10l10.1 -5l-10.6 -9.9z"/>
<path fill="#1cff46" d="M1023.3 1375.8l10.7 10.2l10.1 -4.4l-10.7 -10.2z"/>
<path fill="#0fff5c" d="M1044.1 1381.6l10.7 10.4l9.9 -3.9l-10.7 -10.4z"/>
<path fill="#02ff79" d="M1064.7 1388.1l10.8 10.7l9.8 -3.3l-10.8 -10.7z"/>
<path fill="#00ffa3" d="M1085.3 1395.5l10.8 10.9l9.7 -2.8l-10.9 -10.9z"/>
<path fill="#00ffd2" d="M1105.8 1403.6l10.9 11.2l9.5 -2.3l-10.9 -11.1z"/>
<path fill="#00f8ff" d="M1126.2 1412.5l10.9 11.4l9.3 -1.7l-10.9 -11.4z"/>
<path fill="#85ff89" d="M782.8 1376.8l9.7 7.7l11.1 -11.4l-9.7 -7.6z"/>
<path fill="#84ff7f" d="M803.6 1373.1l9.9 7.9l11 -10.8l-9.8 -7.8z"/>
<path fill="#85ff79" d="M824.5 1370.2l10 8.1l11 -10.2l-10 -8.1z"/>
<path fill="#84ff73" d="M845.5 1368.1l10 8.4l10.9 -9.6l-10 -8.4z"/>
<path fill="#81ff6b" d="M866.4 1366.9l10.2 8.5l10.8 -9l-10.1 -8.5z"/>
<path fill="#7aff63" d="M887.4 1366.4l10.2 8.8l10.8 -8.4l-10.2 -8.8z"/>
<path fill="#70ff5a" d="M908.4 1366.8l10.3 9l10.7 -7.9l-10.3 -9z"/>
<path fill="#62ff51" d="M929.4 1367.9l10.4 9.3l10.6 -7.3l-10.4 -9.2z"/>
<path fill="#4fff47" d="M950.4 1369.9l10.5 9.6l10.5 -6.7l-10.5 -9.5z"/>
<path fill="#3cff41" d="M971.4 1372.8l10.5 9.7l10.4 -6.1l-10.5 -9.8z"/>
<path fill="#31ff48" d="M992.3 1376.4l10.6 10l10.3 -5.6l-10.6 -10z"/>
<path fill="#25ff54" d="M1013.2 1380.8l10.7 10.3l10.1 -5.1l-10.7 -10.2z"/>
<path fill="#19ff66" d="M1034 1386l10.8 10.5l10 -4.5l-10.7 -10.4z"/>
<path fill="#0dff80" d="M1054.8 1392l10.8 10.8l9.9 -4l-10.8 -10.7z"/>
<path fill="#00ffa1" d="M1075.5 1398.8l10.9 11l9.7 -3.4l-10.8 -10.9z"/>
<path fill="#00ffcd" d="M1096.1 1406.4l11 11.3l9.6 -2.9l-10.9 -11.2z"/>
<path fill="#00fffe" d="M1116.7 1414.8l11 11.5l9.4 -2.4l-10.9 -11.4z"/>
<path fill="#83ff93" d="M792.5 1384.5l9.8 7.9l11.2 -11.4l-9.9 -7.9z"/>
<path fill="#7eff86" d="M813.5 1381l9.9 8.2l11.1 -10.9l-10 -8.1z"/>
<path fill="#78ff79" d="M834.5 1378.3l10 8.4l11 -10.2l-10 -8.4z"/>
<path fill="#73ff71" d="M855.5 1376.5l10.1 8.6l11 -9.7l-10.2 -8.5z"/>
<path fill="#6eff69" d="M876.6 1375.4l10.2 8.9l10.8 -9.1l-10.2 -8.8z"/>
<path fill="#65ff61" d="M897.6 1375.2l10.4 9.1l10.7 -8.5l-10.3 -9z"/>
<path fill="#59ff58" d="M918.7 1375.8l10.4 9.4l10.7 -8l-10.4 -9.3z"/>
<path fill="#4fff55" d="M939.8 1377.2l10.5 9.6l10.6 -7.3l-10.5 -9.6z"/>
<path fill="#45ff55" d="M960.9 1379.5l10.5 9.8l10.5 -6.8l-10.5 -9.7z"/>
<path fill="#3aff5a" d="M981.9 1382.5l10.7 10.1l10.3 -6.2l-10.6 -10z"/>
<path fill="#2fff64" d="M1002.9 1386.4l10.7 10.3l10.3 -5.6l-10.7 -10.3z"/>
<path fill="#23ff73" d="M1023.9 1391.1l10.8 10.5l10.1 -5.1l-10.8 -10.5z"/>
<path fill="#17ff89" d="M1044.8 1396.5l10.8 10.8l10 -4.5l-10.8 -10.8z"/>
<path fill="#0bffa6" d="M1065.6 1402.8l10.9 11l9.9 -4l-10.9 -11z"/>
<path fill="#00ffcb" d="M1086.4 1409.8l10.9 11.3l9.8 -3.4l-11 -11.3z"/>
<path fill="#00fff8" d="M1107.1 1417.7l11 11.5l9.6 -2.9l-11 -11.5z"/>
<path fill="#82ff9e" d="M802.3 1392.4l9.9 8.3l11.2 -11.5l-9.9 -8.2z"/>
<path fill="#7cff92" d="M823.4 1389.2l10 8.4l11.1 -10.9l-10 -8.4z"/>
<path fill="#76ff86" d="M844.5 1386.7l10.1 8.7l11 -10.3l-10.1 -8.6z"/>
<path fill="#6fff7d" d="M865.6 1385.1l10.2 8.9l11 -9.7l-10.2 -8.9z"/>
<path fill="#67ff74" d="M886.8 1384.3l10.3 9.2l10.9 -9.2l-10.4 -9.1z"/>
<path fill="#5fff6e" d="M908 1384.3l10.4 9.4l10.7 -8.5l-10.4 -9.4z"/>
<path fill="#56ff6b" d="M929.1 1385.2l10.5 9.6l10.7 -8l-10.5 -9.6z"/>
<path fill="#4dff6a" d="M950.3 1386.8l10.6 9.9l10.5 -7.4l-10.5 -9.8z"/>
<path fill="#42ff6d" d="M971.4 1389.3l10.7 10.1l10.5 -6.8l-10.7 -10.1z"/>
<path fill="#38ff75" d="M992.6 1392.6l10.7 10.4l10.3 -6.3l-10.7 -10.3z"/>
<path fill="#2dff81" d="M1013.6 1396.7l10.8 10.6l10.3 -5.7l-10.8 -10.5z"/>
<path fill="#21ff94" d="M1034.7 1401.6l10.8 10.9l10.1 -5.2l-10.8 -10.8z"/>
<path fill="#15ffad" d="M1055.6 1407.3l11 11.1l9.9 -4.6l-10.9 -11z"/>
<path fill="#09ffcd" d="M1076.5 1413.8l11 11.4l9.8 -4.1l-10.9 -11.3z"/>
<path fill="#00fff6" d="M1097.3 1421.1l11.1 11.6l9.7 -3.5l-11 -11.5z"/>
<path fill="#80ffaa" d="M812.2 1400.7l10 8.5l11.2 -11.6l-10 -8.4z"/>
<path fill="#7aff9f" d="M833.4 1397.6l10.1 8.8l11.1 -11l-10.1 -8.7z"/>
<path fill="#74ff95" d="M854.6 1395.4l10.2 9l11 -10.4l-10.2 -8.9z"/>
<path fill="#6dff8c" d="M875.8 1394l10.3 9.3l11 -9.8l-10.3 -9.2z"/>
<path fill="#65ff86" d="M897.1 1393.5l10.4 9.4l10.9 -9.2l-10.4 -9.4z"/>
<path fill="#5dff81" d="M918.4 1393.7l10.4 9.7l10.8 -8.6l-10.5 -9.6z"/>
<path fill="#54ff80" d="M939.6 1394.8l10.6 9.9l10.7 -8l-10.6 -9.9z"/>
<path fill="#4aff81" d="M960.9 1396.7l10.6 10.2l10.6 -7.5l-10.7 -10.1z"/>
<path fill="#40ff87" d="M982.1 1399.4l10.7 10.4l10.5 -6.8l-10.7 -10.4z"/>
<path fill="#35ff91" d="M1003.3 1403l10.8 10.6l10.3 -6.3l-10.8 -10.6z"/>
<path fill="#2affa1" d="M1024.4 1407.3l10.9 10.9l10.2 -5.7l-10.8 -10.9z"/>
<path fill="#1fffb6" d="M1045.5 1412.5l11 11.1l10.1 -5.2l-11 -11.1z"/>
<path fill="#13ffd3" d="M1066.6 1418.4l10.9 11.4l10 -4.6l-11 -11.4z"/>
<path fill="#06fff7" d="M1087.5 1425.2l11.1 11.6l9.8 -4.1l-11.1 -11.6z"/>
<path fill="#7fffb6" d="M822.2 1409.2l10.1 8.8l11.2 -11.6l-10.1 -8.8z"/>
<path fill="#79ffac" d="M843.5 1406.4l10.2 9l11.1 -11l-10.2 -9z"/>
<path fill="#72ffa4" d="M864.8 1404.4l10.3 9.3l11 -10.4l-10.3 -9.3z"/>
<path fill="#6bff9d" d="M886.1 1403.3l10.4 9.5l11 -9.9l-10.4 -9.4z"/>
<path fill="#63ff98" d="M907.5 1402.9l10.5 9.8l10.8 -9.3l-10.4 -9.7z"/>
<path fill="#5bff95" d="M928.8 1403.4l10.6 10l10.8 -8.7l-10.6 -9.9z"/>
<path fill="#52ff96" d="M950.2 1404.7l10.6 10.3l10.7 -8.1l-10.6 -10.2z"/>
<path fill="#48ff9a" d="M971.5 1406.9l10.7 10.5l10.6 -7.6l-10.7 -10.4z"/>
<path fill="#3effa2" d="M992.8 1409.8l10.8 10.8l10.5 -7l-10.8 -10.6z"/>
<path fill="#33ffaf" d="M1014.1 1413.6l10.9 11l10.3 -6.4l-10.9 -10.9z"/>
<path fill="#28ffc2" d="M1035.3 1418.2l11 11.2l10.2 -5.8l-11 -11.1z"/>
<path fill="#1cffda" d="M1056.5 1423.6l11 11.4l10 -5.2l-10.9 -11.4z"/>
<path fill="#10fffa" d="M1077.5 1429.8l11.1 11.7l10 -4.7l-11.1 -11.6z"/>
<path fill="#7dffc4" d="M832.3 1418l10.2 9.1l11.2 -11.7l-10.2 -9z"/>
<path fill="#77ffbb" d="M853.7 1415.4l10.3 9.4l11.1 -11.1l-10.3 -9.3z"/>
<path fill="#70ffb4" d="M875.1 1413.7l10.4 9.6l11 -10.5l-10.4 -9.5z"/>
<path fill="#69ffae" d="M896.5 1412.8l10.5 9.8l11 -9.9l-10.5 -9.8z"/>
<path fill="#61ffab" d="M918 1412.7l10.5 10l10.9 -9.3l-10.6 -10z"/>
<path fill="#59ffab" d="M939.4 1413.4l10.7 10.3l10.7 -8.7l-10.6 -10.3z"/>
<path fill="#50ffae" d="M960.8 1415l10.8 10.5l10.6 -8.1l-10.7 -10.5z"/>
<path fill="#46ffb4" d="M982.2 1417.4l10.9 10.7l10.5 -7.5l-10.8 -10.8z"/>
<path fill="#3cffbf" d="M1003.6 1420.6l10.9 11l10.5 -7l-10.9 -11z"/>
<path fill="#31ffcf" d="M1025 1424.6l10.9 11.2l10.4 -6.4l-11 -11.2z"/>
<path fill="#26ffe4" d="M1046.3 1429.4l11 11.5l10.2 -5.9l-11 -11.4z"/>
<path fill="#1afeff" d="M1067.5 1435l11.1 11.8l10 -5.3l-11.1 -11.7z"/>
<path fill="#7bffd3" d="M842.5 1427.1l10.3 9.4l11.2 -11.7l-10.3 -9.4z"/>
<path fill="#75ffcb" d="M864 1424.8l10.4 9.6l11.1 -11.1l-10.4 -9.6z"/>
<path fill="#6effc5" d="M885.5 1423.3l10.5 9.8l11 -10.5l-10.5 -9.8z"/>
<path fill="#67ffc1" d="M907 1422.6l10.6 10.1l10.9 -10l-10.5 -10z"/>
<path fill="#5fffc0" d="M928.5 1422.7l10.7 10.4l10.9 -9.4l-10.7 -10.3z"/>
<path fill="#57ffc2" d="M950.1 1423.7l10.7 10.6l10.8 -8.8l-10.8 -10.5z"/>
<path fill="#4dffc7" d="M971.6 1425.5l10.8 10.8l10.7 -8.2l-10.9 -10.7z"/>
<path fill="#44ffd0" d="M993.1 1428.1l10.9 11.1l10.5 -7.6l-10.9 -11z"/>
<path fill="#39ffdd" d="M1014.5 1431.6l11 11.3l10.4 -7.1l-10.9 -11.2z"/>
<path fill="#2ffff0" d="M1035.9 1435.8l11.1 11.6l10.3 -6.5l-11 -11.5z"/>
<path fill="#23f5ff" d="M1057.3 1440.9l11.1 11.8l10.2 -5.9l-11.1 -11.8z"/>
<path fill="#79ffe2" d="M852.8 1436.5l10.4 9.7l11.2 -11.8l-10.4 -9.6z"/>
<path fill="#73ffdc" d="M874.4 1434.4l10.5 9.9l11.1 -11.2l-10.5 -9.8z"/>
<path fill="#6cffd8" d="M896 1433.1l10.5 10.2l11.1 -10.6l-10.6 -10.1z"/>
<path fill="#65ffd6" d="M917.6 1432.7l10.7 10.4l10.9 -10l-10.7 -10.4z"/>
<path fill="#5dffd6" d="M939.2 1433.1l10.8 10.6l10.8 -9.4l-10.7 -10.6z"/>
<path fill="#54ffda" d="M960.8 1434.3l10.9 10.9l10.7 -8.9l-10.8 -10.8z"/>
<path fill="#4bffe1" d="M982.4 1436.3l10.9 11.1l10.7 -8.2l-10.9 -11.1z"/>
<path fill="#41ffed" d="M1004 1439.2l11 11.4l10.5 -7.7l-11 -11.3z"/>
<path fill="#37fffd" d="M1025.5 1442.9l11.1 11.6l10.4 -7.1l-11.1 -11.6z"/>
<path fill="#2cebff" d="M1047 1447.4l11.1 11.8l10.3 -6.5l-11.1 -11.8z"/>
<path fill="#78fff3" d="M863.2 1446.2l10.4 10l11.3 -11.9l-10.5 -9.9z"/>
<path fill="#71ffee" d="M884.9 1444.3l10.5 10.3l11.1 -11.3l-10.5 -10.2z"/>
<path fill="#6affeb" d="M906.5 1443.3l10.7 10.5l11.1 -10.7l-10.7 -10.4z"/>
<path fill="#63ffeb" d="M928.3 1443.1l10.7 10.7l11 -10.1l-10.8 -10.6z"/>
<path fill="#5bffed" d="M950 1443.7l10.8 11l10.9 -9.5l-10.9 -10.9z"/>
<path fill="#52fff3" d="M971.7 1445.2l10.9 11.1l10.7 -8.9l-10.9 -11.1z"/>
<path fill="#49fffd" d="M993.3 1447.4l11 11.5l10.7 -8.3l-11 -11.4z"/>
<path fill="#3ff3ff" d="M1015 1450.6l11 11.6l10.6 -7.7l-11.1 -11.6z"/>
<path fill="#35e0ff" d="M1036.6 1454.5l11.1 11.9l10.4 -7.2l-11.1 -11.8z"/>
<path fill="#76f9ff" d="M873.6 1456.2l10.6 10.3l11.2 -11.9l-10.5 -10.3z"/>
<path fill="#6ffdff" d="M895.4 1454.6l10.7 10.5l11.1 -11.3l-10.7 -10.5z"/>
<path fill="#68feff" d="M917.2 1453.8l10.8 10.7l11 -10.7l-10.7 -10.7z"/>
<path fill="#61fcff" d="M939 1453.8l10.8 11l11 -10.1l-10.8 -11z"/>
<path fill="#59f8ff" d="M960.8 1454.7l10.9 11.2l10.9 -9.6l-10.9 -11.1z"/>
<path fill="#50f0ff" d="M982.6 1456.3l11 11.5l10.7 -8.9l-11 -11.5z"/>
<path fill="#47e3ff" d="M1004.3 1458.9l11.1 11.7l10.6 -8.4l-11 -11.6z"/>
<path fill="#3dd3ff" d="M1026 1462.2l11.2 12l10.5 -7.8l-11.1 -11.9z"/>
<path fill="#74e7ff" d="M884.2 1466.5l10.7 10.6l11.2 -12l-10.7 -10.5z"/>
<path fill="#6de9ff" d="M906.1 1465.1l10.7 10.8l11.2 -11.4l-10.8 -10.7z"/>
<path fill="#66e8ff" d="M928 1464.5l10.8 11.1l11 -10.8l-10.8 -11z"/>
<path fill="#5fe4ff" d="M949.8 1464.8l11 11.3l10.9 -10.2l-10.9 -11.2z"/>
<path fill="#56deff" d="M971.7 1465.9l11 11.6l10.9 -9.7l-11 -11.5z"/>
<path fill="#4ed3ff" d="M993.6 1467.8l11.1 11.8l10.7 -9l-11.1 -11.7z"/>
<path fill="#44c4ff" d="M1015.4 1470.6l11.2 12.1l10.6 -8.5l-11.2 -12z"/>
<path fill="#72d3ff" d="M894.9 1477.1l10.7 10.9l11.2 -12.1l-10.7 -10.8z"/>
<path fill="#6bd3ff" d="M916.8 1475.9l10.9 11.2l11.1 -11.5l-10.8 -11.1z"/>
<path fill="#64d0ff" d="M938.8 1475.6l10.9 11.4l11.1 -10.9l-11 -11.3z"/>
<path fill="#5ccbff" d="M960.8 1476.1l11 11.6l10.9 -10.2l-11 -11.6z"/>
<path fill="#54c2ff" d="M982.7 1477.5l11.1 11.8l10.9 -9.7l-11.1 -11.8z"/>
<path fill="#4bb5ff" d="M1004.7 1479.6l11.2 12.2l10.7 -9.1l-11.2 -12.1z"/>
<path fill="#70beff" d="M905.6 1488l10.8 11.2l11.3 -12.1l-10.9 -11.2z"/>
<path fill="#69bcff" d="M927.7 1487.1l10.9 11.4l11.1 -11.5l-10.9 -11.4z"/>
<path fill="#62b8ff" d="M949.7 1487l11.1 11.7l11 -11l-11 -11.6z"/>
<path fill="#5ab0ff" d="M971.8 1487.7l11.1 12l10.9 -10.4l-11.1 -11.8z"/>
<path fill="#52a5ff" d="M993.8 1489.3l11.2 12.2l10.9 -9.7l-11.2 -12.2z"/>
<path fill="#6ea7ff" d="M916.4 1499.2l11 11.5l11.2 -12.2l-10.9 -11.4z"/>
<path fill="#67a4ff" d="M938.6 1498.5l11 11.8l11.2 -11.6l-11.1 -11.7z"/>
<path fill="#609eff" d="M960.8 1498.7l11.1 12l11 -11l-11.1 -12z"/>
<path fill="#5894ff" d="M982.9 1499.7l11.2 12.2l10.9 -10.4l-11.2 -12.2z"/>
<path fill="#6c8fff" d="M927.4 1510.7l11 11.8l11.2 -12.2l-11 -11.8z"/>
<path fill="#658aff" d="M949.6 1510.3l11.1 12l11.2 -11.6l-11.1 -12z"/>
<path fill="#5e82ff" d="M971.9 1510.7l11.2 12.3l11 -11.1l-11.2 -12.2z"/>
<path fill="#6a76ff" d="M938.4 1522.5l11.1 12.2l11.2 -12.4l-11.1 -12z"/>
<path fill="#636fff" d="M960.7 1522.3l11.2 12.4l11.2 -11.7l-11.2 -12.3z"/>
<path fill="#6868ff" d="M949.5 1534.7l11.2 12.5l11.2 -12.5l-11.2 -12.4z"/>
</g>
<line x1="960.5" y1="1297.1" x2="960.5" y2="1313.7" stroke="#000" stroke-width="1.3"/>
<circle cx="708" cy="1324.2" r="4.5" fill="#be0000" stroke="#000" stroke-width="1.1"/>
<circle cx="960.5" cy="1297.1" r="4.5" fill="#be0000" stroke="#000" stroke-width="1.1"/>
<circle cx="960.5" cy="1305.5" r="4.5" fill="#be0000" stroke="#000" stroke-width="1.1"/>
<circle cx="960.3" cy="1550.4" r="4.5" fill="#be0000" stroke="#000" stroke-width="1.1"/>
<text x="691.2" y="1228.5" font-size="22.5" text-anchor="end" textLength="22.1" lengthAdjust="spacingAndGlyphs">80</text>
<text x="694.1" y="1290.5" font-size="22.5" text-anchor="end" textLength="22.1" lengthAdjust="spacingAndGlyphs">70</text>
<text x="697" y="1352.5" font-size="22.5" text-anchor="end" textLength="22.1" lengthAdjust="spacingAndGlyphs">60</text>
<text x="699.8" y="1414.5" font-size="22.5" text-anchor="end" textLength="22.1" lengthAdjust="spacingAndGlyphs">50</text>
<text x="702.7" y="1476.6" font-size="22.5" text-anchor="end" textLength="22.1" lengthAdjust="spacingAndGlyphs">40</text>
<text x="695" y="1584.7" font-size="22.5" text-anchor="middle" textLength="22.1" lengthAdjust="spacingAndGlyphs">90</text>
<text x="755.3" y="1613.1" font-size="22.5" text-anchor="middle" textLength="22.1" lengthAdjust="spacingAndGlyphs">85</text>
<text x="815.6" y="1641.6" font-size="22.5" text-anchor="middle" textLength="22.1" lengthAdjust="spacingAndGlyphs">80</text>
<text x="875.9" y="1670" font-size="22.5" text-anchor="middle" textLength="22.1" lengthAdjust="spacingAndGlyphs">75</text>
<text x="936.2" y="1698.5" font-size="22.5" text-anchor="middle" textLength="22.1" lengthAdjust="spacingAndGlyphs">70</text>
<text x="985.9" y="1698.6" font-size="22.5" text-anchor="middle" textLength="22.1" lengthAdjust="spacingAndGlyphs">60</text>
<text x="1027" y="1679.5" font-size="22.5" text-anchor="middle" textLength="22.1" lengthAdjust="spacingAndGlyphs">70</text>
<text x="1068.2" y="1660.5" font-size="22.5" text-anchor="middle" textLength="22.1" lengthAdjust="spacingAndGlyphs">80</text>
<text x="1109.3" y="1641.5" font-size="22.5" text-anchor="middle" textLength="22.1" lengthAdjust="spacingAndGlyphs">90</text>
<text x="1150.5" y="1622.4" font-size="22.5" text-anchor="middle" textLength="33.2" lengthAdjust="spacingAndGlyphs">100</text>
<text x="1191.7" y="1603.4" font-size="22.5" text-anchor="middle" textLength="31.7" lengthAdjust="spacingAndGlyphs">110</text>
<text x="1232.8" y="1584.4" font-size="22.5" text-anchor="middle" textLength="33.2" lengthAdjust="spacingAndGlyphs">120</text>
<text x="632" y="1442" font-size="19.5" text-anchor="middle" transform="rotate(-90 632 1435)" textLength="54" lengthAdjust="spacingAndGlyphs">AA (%)</text>
<text x="741.4" y="1670.3" font-size="19.5" text-anchor="middle" textLength="173.2" lengthAdjust="spacingAndGlyphs">B: Temperature (°C)</text>
<text x="1174.1" y="1670.5" font-size="19.5" text-anchor="middle" textLength="123.7" lengthAdjust="spacingAndGlyphs">A: Weight (gr)</text>
<text x="655.4" y="1712.2" font-size="33" text-anchor="middle">f</text></g>
<g id="p_g"><polygon points="350.9,2110 506.9,2287.9 818.3,2178.9 637,2029.5" fill="#646464" stroke="#000" stroke-width="1.8" stroke-linejoin="round"/>
<polyline points="498.9,2278.5 503.2,2279.1 507.4,2279.7 511.5,2280.3 515.7,2280.8 519.7,2281.2 524.1,2281.6 524.1,2281.6" fill="none" stroke="#00f08c" stroke-width="2.5"/>
<polyline points="783.5,2191.6 784.4,2189.3 785.1,2187 785.8,2184.7 786.3,2182.5 786.7,2180.3 787.1,2178.2 787.4,2175.8 787.6,2173.2 787.6,2170.4 787.6,2168 787.5,2166.1 787.3,2164.2 786.9,2161.4 786.3,2158.7 785.9,2156.9 785.3,2154.6 784.3,2151.6 784.1,2150.9" fill="none" stroke="#00f08c" stroke-width="2.5"/>
<polyline points="703.8,2084.6 700.9,2083.5 698.1,2082.4 693.4,2080.8 690.9,2079.9 687.6,2078.8 682.9,2077.4 680.2,2076.6 677.4,2075.8 673.3,2074.7 668.8,2073.5 665.8,2072.8 662.8,2072.1 659.7,2071.4 656.1,2070.6 652.1,2069.8 648.1,2069 644.2,2068.3 640.4,2067.7 636.6,2067.1 632.9,2066.6 629.3,2066.1 625.6,2065.6 622.1,2065.2 618.6,2064.8 615.2,2064.5 611.7,2064.2 608.4,2063.9 605,2063.7 600.8,2063.4 596.2,2063.2 592,2063 588.9,2062.9 585.7,2062.9 581.5,2062.8 576.5,2062.8 573.5,2062.9 570.5,2062.9 564.6,2063.1 561.6,2063.2 558.2,2063.4 552.9,2063.7 550.1,2063.9 544.5,2064.4 541.7,2064.6 536.2,2065.2 533.4,2065.5 528,2066.2 525.3,2066.6 520,2067.4 514.8,2068.2 512.2,2068.7 507,2069.7 501.9,2070.7 496.9,2071.8 494.4,2072.4 489.5,2073.6 484.6,2074.9 479.7,2076.2 475,2077.6 470.2,2079.1 465.5,2080.7 462.4,2081.8 458.6,2083.1 454.1,2084.8 449.6,2086.6 446.8,2087.8 443,2089.5 438.6,2091.5 436.5,2092.5 432.2,2094.6 429.7,2095.9 425.9,2098 423.5,2099.3 419.7,2101.5 417.7,2102.7 413.7,2105.3 411.7,2106.6 409.2,2108.3 405.9,2110.6 404,2112.1 401.9,2113.7 398.7,2116.2 396.6,2118 394.8,2119.6 393,2121.2 390.5,2123.6 388.1,2125.9 386.1,2128 384.5,2129.8 382.9,2131.6 381.3,2133.5 379.7,2135.5 378.2,2137.5 376.7,2139.5 376.7,2139.5" fill="none" stroke="#00f08c" stroke-width="2.5"/>
<polyline points="468.8,2244.2 472.9,2245.7 476,2246.7 479.1,2247.7 483.9,2249.1 488.6,2250.4 492.8,2251.5 496.5,2252.3 500.3,2253.1 504.1,2253.9 508.1,2254.7 512.3,2255.4 516.5,2256.1 520.9,2256.7 525.5,2257.3 530.2,2257.8 535.1,2258.3 539.4,2258.6 543.3,2258.9 547.1,2259.1 550.9,2259.3 556.6,2259.5 562,2259.6 565.6,2259.6 569.2,2259.5 575.7,2259.4 579.7,2259.2 583.2,2259 590,2258.6 590.6,2258.6" fill="none" stroke="#14e61e" stroke-width="2.5"/>
<polyline points="723.9,2212.3 726.9,2209.5 728.6,2207.9 730.6,2205.8 733.3,2202.8 734.7,2201.1 736.1,2199.3 737.6,2197.2 739.4,2194.6 740.9,2192 742.3,2189.5 743.3,2187.4 744.2,2185.3 745,2183 745.8,2180.7 746.4,2178.4 747,2175.9 747.3,2173.8 747.6,2171.7 747.7,2169.7 747.8,2167.7 747.7,2165 747.5,2162 747.2,2160.2 746.9,2158.4 746.1,2155 745.5,2153.1 744.8,2151.1 743.5,2148 742.8,2146.4 741.1,2143.2 740.2,2141.6 738.2,2138.5 736,2135.5 734.9,2134.1 732.4,2131.2 729.8,2128.4 727,2125.7 724.1,2123 721,2120.4 717.7,2117.9 714.3,2115.4 710.7,2113 706.9,2110.7 705,2109.5 701,2107.3 697.1,2105.2 694.8,2104.1 690.4,2102 688.1,2101 683.5,2099 681.1,2098 677.5,2096.7 673.6,2095.3 671,2094.4 666.9,2093 663,2091.8 660.2,2091 657.3,2090.1 652.8,2089 648.4,2087.9 645.3,2087.2 642.2,2086.5 638.9,2085.8 635.6,2085.2 632,2084.5 628.2,2083.9 624.4,2083.3 620.7,2082.8 617,2082.3 613.4,2081.9 609.8,2081.5 605.6,2081.1 601.3,2080.8 596.9,2080.5 593,2080.3 589.7,2080.2 586.5,2080.1 582.3,2080 577,2080 574,2080 570.9,2080.1 565.2,2080.3 561.9,2080.4 558.6,2080.6 553.2,2081 550.4,2081.2 544.7,2081.8 541.9,2082.1 536.4,2082.8 533.6,2083.2 528.3,2084 523,2084.9 520.4,2085.4 515.2,2086.4 510.1,2087.5 505.1,2088.7 500.1,2090 495.3,2091.4 490.4,2092.9 485.7,2094.4 481,2096.1 476.4,2097.8 471.9,2099.6 469.6,2100.5 465.2,2102.5 460.8,2104.5 458.7,2105.6 454.4,2107.8 452.3,2108.9 448.2,2111.3 446.2,2112.5 442.4,2114.9 440.2,2116.4 438.1,2117.8 434.4,2120.5 432.6,2122 430.7,2123.4 427.9,2125.9 425.4,2128.1 423.6,2129.8 421.9,2131.5 420.3,2133.2 418.2,2135.5 416.3,2137.8 414.6,2140 413,2142.2 411.5,2144.4 410.2,2146.5 408.9,2148.6 407.8,2150.7 406.8,2152.7 405.9,2154.7 405.1,2156.7 404.2,2159.4 403.4,2162.2 402.8,2164.5 402.4,2166.4 402.1,2168.4 402.1,2168.4" fill="none" stroke="#14e61e" stroke-width="2.5"/>
<polyline points="458.4,2189.5 460.4,2192.4 462.9,2195.4 465.6,2198.4 468.7,2201.2 470.4,2202.6 473.9,2205.3 477.8,2208 479.9,2209.2 484.2,2211.7 486.8,2213.1 491.5,2215.3 494.1,2216.4 498.5,2218.2 502.5,2219.6 505.5,2220.6 508.7,2221.7 513.5,2223 518.1,2224.2 522.4,2225.1 526.2,2225.9 530.1,2226.6 534.3,2227.3 538.6,2227.9 543.1,2228.4 547.2,2228.8 551,2229.1 554.7,2229.3 558.4,2229.5 563.8,2229.6 569.2,2229.7 572.7,2229.6 576.5,2229.5 582.9,2229.2 586.2,2229 591.9,2228.4 595.8,2228 601.4,2227.3 605.1,2226.7 611.1,2225.7 614.1,2225.1 619.8,2223.8 625.5,2222.5 630.9,2221 636.3,2219.3 641.4,2217.5 646.5,2215.6 651.3,2213.6 656,2211.4 659.9,2209.5 662.7,2207.9 667,2205.4 669.1,2204.1 673,2201.4 675,2200 678.5,2197.1 680.4,2195.4 682,2193.8 684.8,2190.9 686.7,2188.7 688.1,2186.8 689.4,2185 690.7,2183 692,2180.6 693.1,2178.2 694,2176 694.7,2173.8 695.3,2171.7 695.7,2169.3 696,2166.6 696.1,2163.7 696,2161.8 695.7,2160 695.1,2156.9 694.5,2154.7 693.9,2152.9 692.5,2149.7 691.7,2148 689.9,2145 687.7,2142 686.6,2140.5 684.1,2137.7 681.3,2134.9 678.3,2132.3 675,2129.7 671.5,2127.2 669.7,2126 665.8,2123.7 661.7,2121.4 659.6,2120.4 655.1,2118.2 652.8,2117.2 648.1,2115.4 645.3,2114.3 642.7,2113.4 637.7,2111.8 634.4,2110.8 631.4,2110 628.4,2109.2 624.1,2108.2 620,2107.3 615.9,2106.6 612,2105.9 608.2,2105.4 604.5,2104.9 600.9,2104.5 597.3,2104.1 593.8,2103.9 590.4,2103.6 586.3,2103.4 581.3,2103.3 577.3,2103.3 574.2,2103.3 569.9,2103.4 565,2103.6 562,2103.8 556.1,2104.3 553.3,2104.6 547.6,2105.2 544.8,2105.6 539.4,2106.5 534.3,2107.5 531.4,2108.1 526.2,2109.2 521.2,2110.5 516.2,2112 511.4,2113.5 506.7,2115.2 502,2117 499.8,2117.9 495.3,2119.9 490.9,2122.1 488.8,2123.2 484.6,2125.5 482.6,2126.8 478.8,2129.2 476.7,2130.7 474.8,2132.2 471.4,2134.9 469.4,2136.7 467.7,2138.3 465.9,2140 463.8,2142.4 461.8,2144.8 460.2,2147 458.7,2149.2 457.4,2151.4 456.3,2153.5 455.3,2155.5 454.5,2157.6 453.9,2159.6 453.3,2161.8 452.7,2164.8 452.4,2167.2 452.3,2169 452.4,2171.8 452.6,2174.4 452.9,2176.2 453.8,2179.6 454.3,2181.3 455.7,2184.6 457.3,2187.8 458.4,2189.5 458.4,2189.5" fill="none" stroke="#b4f000" stroke-width="2.5"/>
<polyline points="383.6,2101.3 380.3,2103.6 378.3,2105 376.4,2106.5 373.2,2109 370.9,2110.9 369,2112.5 367.2,2114.1 364.7,2116.3 362.2,2118.7 360.2,2120.7 360.2,2120.7" fill="none" stroke="#00e6ff" stroke-width="2.5"/>
<polyline points="672.1,2058.3 668.5,2057.6 665.3,2056.9 662.1,2056.3 658.9,2055.7 655.6,2055.1 652.2,2054.5 648.5,2053.9 644.8,2053.3 641.1,2052.8 637.5,2052.3 633.9,2051.9 630.4,2051.5 626.9,2051.1 623.1,2050.7 619.1,2050.3 615,2050 610.8,2049.6 606.8,2049.4 603.6,2049.2 600.4,2049 597.2,2048.9 592.8,2048.8 587.9,2048.6 584.7,2048.6 581.7,2048.6 577.6,2048.6 572.7,2048.6 569.7,2048.7 566.4,2048.8 566.4,2048.8" fill="none" stroke="#00e6ff" stroke-width="2.5"/>
<polyline points="651.2,2041.1 647.5,2040.6 644,2040.1 640.4,2039.6 637,2039.2 633.5,2038.8 630.1,2038.5 626.7,2038.2 623.3,2037.9 620,2037.6 616.7,2037.3 612.5,2037 608.2,2036.8 608.2,2036.8" fill="none" stroke="#1e9bff" stroke-width="2.5"/>
<path d="M350.9 2110L330.4 1803.7M394.7 2025.6L382 1792.9M443.3 2012.8L433.6 1782.1M491.9 2000L485.2 1771.3M540.5 1987.2L536.9 1760.6M589.1 1974.4L588.5 1749.8M637 2029.5L640.1 1739M637 2029.5L640.1 1739M684.3 1997.3L690.6 1769.4M730.8 2033L741.2 1799.8M777.3 2068.8L791.7 1830.1M818.3 2178.9L842.2 1860.5M330.4 1803.7L640.1 1739L842.2 1860.5M333.5 1850.2L639.6 1783.1L838.6 1908.8M336.7 1897.6L639.1 1828.1L834.9 1958.1M339.8 1944.4L638.7 1872.4L831.2 2006.8M343 1991.4L638.2 1917L827.6 2055.6M346.1 2038.4L637.7 1961.6L823.9 2104.5" fill="none" stroke="#000" stroke-width="1.25"/>
<circle cx="330.4" cy="1803.7" r="2.3"/>
<circle cx="333.5" cy="1850.2" r="2.3"/>
<circle cx="336.7" cy="1897.6" r="2.3"/>
<circle cx="339.8" cy="1944.4" r="2.3"/>
<circle cx="343" cy="1991.4" r="2.3"/>
<circle cx="346.1" cy="2038.4" r="2.3"/>
<circle cx="350.9" cy="2110" r="2.3"/>
<circle cx="389.9" cy="2154.5" r="2.3"/>
<circle cx="428.9" cy="2198.9" r="2.3"/>
<circle cx="467.9" cy="2243.4" r="2.3"/>
<circle cx="506.9" cy="2287.9" r="2.3"/>
<circle cx="506.9" cy="2287.9" r="2.3"/>
<circle cx="558.8" cy="2269.7" r="2.3"/>
<circle cx="610.7" cy="2251.6" r="2.3"/>
<circle cx="662.6" cy="2233.4" r="2.3"/>
<circle cx="714.5" cy="2215.2" r="2.3"/>
<circle cx="766.4" cy="2197.1" r="2.3"/>
<circle cx="818.3" cy="2178.9" r="2.3"/>
<g stroke="#000" stroke-width="1.05" stroke-linejoin="round">
<path fill="#005b9a" d="M626.9 1934.5l6.7 -5.3l10.8 6.3l-6.8 5.3z"/>
<path fill="#0079a0" d="M616 1928.8l6.7 -5.3l10.9 5.7l-6.7 5.3z"/>
<path fill="#00799c" d="M633.6 1929.2l6.9 -4.7l10.8 6.4l-6.9 4.6z"/>
<path fill="#0098a6" d="M605 1923.7l6.7 -5.4l11 5.2l-6.7 5.3z"/>
<path fill="#0099a2" d="M622.7 1923.5l6.8 -4.8l11 5.8l-6.9 4.7z"/>
<path fill="#00969d" d="M640.5 1924.5l6.9 -4l10.9 6.4l-7 4z"/>
<path fill="#00aca2" d="M593.9 1919.3l6.6 -5.5l11.2 4.5l-6.7 5.4z"/>
<path fill="#00a897" d="M611.7 1918.3l6.7 -4.7l11.1 5.1l-6.8 4.8z"/>
<path fill="#00a38f" d="M629.5 1918.7l6.9 -4l11 5.8l-6.9 4z"/>
<path fill="#009f8c" d="M647.4 1920.5l7 -3.4l11 6.4l-7.1 3.4z"/>
<path fill="#00b291" d="M582.7 1915.4l6.5 -5.4l11.3 3.8l-6.6 5.5z"/>
<path fill="#00ae83" d="M600.5 1913.8l6.7 -4.7l11.2 4.5l-6.7 4.7z"/>
<path fill="#00aa7a" d="M618.4 1913.6l6.8 -4.1l11.2 5.2l-6.9 4z"/>
<path fill="#00a576" d="M636.4 1914.7l7 -3.5l11 5.9l-7 3.4z"/>
<path fill="#00a175" d="M654.4 1917.1l7.2 -2.8l10.9 6.5l-7.1 2.7z"/>
<path fill="#00b980" d="M571.3 1912.3l6.5 -5.5l11.4 3.2l-6.5 5.4z"/>
<path fill="#00b571" d="M589.2 1910l6.6 -4.8l11.4 3.9l-6.7 4.7z"/>
<path fill="#00b066" d="M607.2 1909.1l6.8 -4.2l11.2 4.6l-6.8 4.1z"/>
<path fill="#00ac60" d="M625.2 1909.5l7 -3.5l11.2 5.2l-7 3.5z"/>
<path fill="#00a75e" d="M643.4 1911.2l7.1 -2.7l11.1 5.8l-7.2 2.8z"/>
<path fill="#00a260" d="M661.6 1914.3l7.2 -2l11 6.5l-7.3 2z"/>
<path fill="#00c070" d="M559.9 1909.7l6.4 -5.5l11.5 2.6l-6.5 5.5z"/>
<path fill="#00bb5e" d="M577.8 1906.8l6.6 -4.9l11.4 3.3l-6.6 4.8z"/>
<path fill="#00b752" d="M595.8 1905.2l6.8 -4.2l11.4 3.9l-6.8 4.2z"/>
<path fill="#00b24a" d="M614 1904.9l6.9 -3.5l11.3 4.6l-7 3.5z"/>
<path fill="#00ae47" d="M632.2 1906l7 -2.7l11.3 5.2l-7.1 2.7z"/>
<path fill="#00a948" d="M650.5 1908.5l7.1 -2.1l11.2 5.9l-7.2 2z"/>
<path fill="#00a44d" d="M668.8 1912.3l7.3 -1.3l11 6.4l-7.3 1.4z"/>
<path fill="#00c662" d="M548.3 1907.8l6.4 -5.5l11.6 1.9l-6.4 5.5z"/>
<path fill="#00c24d" d="M566.3 1904.2l6.5 -4.9l11.6 2.6l-6.6 4.9z"/>
<path fill="#00be3f" d="M584.4 1901.9l6.6 -4.2l11.6 3.3l-6.8 4.2z"/>
<path fill="#00b935" d="M602.6 1901l6.8 -3.5l11.5 3.9l-6.9 3.5z"/>
<path fill="#00b530" d="M620.9 1901.4l6.9 -2.7l11.4 4.6l-7 2.7z"/>
<path fill="#00b030" d="M639.2 1903.3l7.1 -2.1l11.3 5.2l-7.1 2.1z"/>
<path fill="#00ab34" d="M657.6 1906.4l7.3 -1.3l11.2 5.9l-7.3 1.3z"/>
<path fill="#00a63b" d="M676.1 1911l7.4 -0.7l11 6.5l-7.4 0.6z"/>
<path fill="#00cd54" d="M536.7 1906.6l6.3 -5.5l11.7 1.2l-6.4 5.5z"/>
<path fill="#00c93d" d="M554.7 1902.3l6.4 -4.9l11.7 1.9l-6.5 4.9z"/>
<path fill="#00c52c" d="M572.8 1899.3l6.6 -4.2l11.6 2.6l-6.6 4.2z"/>
<path fill="#00c020" d="M591 1897.7l6.8 -3.5l11.6 3.3l-6.8 3.5z"/>
<path fill="#00bc1a" d="M609.4 1897.5l6.9 -2.8l11.5 4l-6.9 2.7z"/>
<path fill="#00b718" d="M627.8 1898.7l7.1 -2.1l11.4 4.6l-7.1 2.1z"/>
<path fill="#00b21b" d="M646.3 1901.2l7.3 -1.3l11.3 5.2l-7.3 1.3z"/>
<path fill="#00ad21" d="M664.9 1905.1l7.3 -0.6l11.3 5.8l-7.4 0.7z"/>
<path fill="#00a72b" d="M683.5 1910.3l7.4 0.2l11.1 6.4l-7.5 -0.1z"/>
<path fill="#00d449" d="M525 1906.1l6.2 -5.6l11.8 0.6l-6.3 5.5z"/>
<path fill="#00d02f" d="M543 1901.1l6.3 -4.9l11.8 1.2l-6.4 4.9z"/>
<path fill="#00cc1b" d="M561.1 1897.4l6.6 -4.2l11.7 1.9l-6.6 4.2z"/>
<path fill="#00c80d" d="M579.4 1895.1l6.7 -3.5l11.7 2.6l-6.8 3.5z"/>
<path fill="#00c304" d="M597.8 1894.2l6.9 -2.8l11.6 3.3l-6.9 2.8z"/>
<path fill="#00be01" d="M616.3 1894.7l7.1 -2.1l11.5 4l-7.1 2.1z"/>
<path fill="#00b902" d="M634.9 1896.6l7.2 -1.4l11.5 4.7l-7.3 1.3z"/>
<path fill="#00b407" d="M653.6 1899.9l7.3 -0.7l11.3 5.3l-7.3 0.6z"/>
<path fill="#00af11" d="M672.2 1904.5l7.5 0.1l11.2 5.9l-7.4 -0.2z"/>
<path fill="#00a91e" d="M690.9 1910.5l7.6 0.8l11.1 6.5l-7.6 -0.9z"/>
<path fill="#00da3f" d="M513.2 1906.3l6.1 -5.6l11.9 -0.2l-6.2 5.6z"/>
<path fill="#00d722" d="M531.2 1900.5l6.3 -4.9l11.8 0.6l-6.3 4.9z"/>
<path fill="#00d30b" d="M549.3 1896.2l6.5 -4.3l11.9 1.3l-6.6 4.2z"/>
<path fill="#06cf00" d="M567.7 1893.2l6.6 -3.5l11.8 1.9l-6.7 3.5z"/>
<path fill="#11ca00" d="M586.1 1891.6l6.9 -2.8l11.7 2.6l-6.9 2.8z"/>
<path fill="#16c600" d="M604.7 1891.4l7 -2.1l11.7 3.3l-7.1 2.1z"/>
<path fill="#17c100" d="M623.4 1892.6l7.1 -1.3l11.6 3.9l-7.2 1.4z"/>
<path fill="#13bb00" d="M642.1 1895.2l7.3 -0.6l11.5 4.6l-7.3 0.7z"/>
<path fill="#0ab600" d="M660.9 1899.2l7.4 0.2l11.4 5.2l-7.5 -0.1z"/>
<path fill="#00b002" d="M679.7 1904.6l7.5 0.9l11.3 5.8l-7.6 -0.8z"/>
<path fill="#00ab12" d="M698.5 1911.3l7.6 1.7l11.1 6.4l-7.6 -1.6z"/>
<path fill="#00e137" d="M501.3 1907.1l6 -5.6l12 -0.8l-6.1 5.6z"/>
<path fill="#00de16" d="M519.3 1900.7l6.2 -4.9l12 -0.2l-6.3 4.9z"/>
<path fill="#04da00" d="M537.5 1895.6l6.4 -4.2l11.9 0.5l-6.5 4.3z"/>
<path fill="#17d600" d="M555.8 1891.9l6.6 -3.5l11.9 1.3l-6.6 3.5z"/>
<path fill="#25d200" d="M574.3 1889.7l6.8 -2.8l11.9 1.9l-6.9 2.8z"/>
<path fill="#2dcd00" d="M593 1888.8l6.9 -2.1l11.8 2.6l-7 2.1z"/>
<path fill="#2fc800" d="M611.7 1889.3l7.1 -1.3l11.7 3.3l-7.1 1.3z"/>
<path fill="#2cc300" d="M630.5 1891.3l7.2 -0.6l11.7 3.9l-7.3 0.6z"/>
<path fill="#25be00" d="M649.4 1894.6l7.3 0.2l11.6 4.6l-7.4 -0.2z"/>
<path fill="#19b800" d="M668.3 1899.4l7.4 0.9l11.5 5.2l-7.5 -0.9z"/>
<path fill="#0ab200" d="M687.2 1905.5l7.6 1.7l11.3 5.8l-7.6 -1.7z"/>
<path fill="#00ad08" d="M706.1 1913l7.7 2.4l11.2 6.4l-7.8 -2.4z"/>
<path fill="#00e831" d="M489.3 1908.7l6 -5.6l12 -1.6l-6 5.6z"/>
<path fill="#00e50d" d="M507.3 1901.5l6.2 -4.9l12 -0.8l-6.2 4.9z"/>
<path fill="#10e200" d="M525.5 1895.8l6.4 -4.3l12 -0.1l-6.4 4.2z"/>
<path fill="#27de00" d="M543.9 1891.4l6.5 -3.5l12 0.5l-6.6 3.5z"/>
<path fill="#38da00" d="M562.4 1888.4l6.7 -2.8l12 1.3l-6.8 2.8z"/>
<path fill="#42d500" d="M581.1 1886.9l6.9 -2.1l11.9 1.9l-6.9 2.1z"/>
<path fill="#46d000" d="M599.9 1886.7l7 -1.3l11.9 2.6l-7.1 1.3z"/>
<path fill="#45cb00" d="M618.8 1888l7.1 -0.6l11.8 3.3l-7.2 0.6z"/>
<path fill="#3fc600" d="M637.7 1890.7l7.3 0.2l11.7 3.9l-7.3 -0.2z"/>
<path fill="#35c000" d="M656.7 1894.8l7.4 0.9l11.6 4.6l-7.4 -0.9z"/>
<path fill="#27ba00" d="M675.7 1900.3l7.6 1.7l11.5 5.2l-7.6 -1.7z"/>
<path fill="#15b400" d="M694.8 1907.2l7.6 2.4l11.4 5.8l-7.7 -2.4z"/>
<path fill="#00af00" d="M713.8 1915.4l7.7 3.2l11.2 6.4l-7.7 -3.2z"/>
<path fill="#00ee2f" d="M477.3 1911l5.8 -5.6l12.2 -2.3l-6 5.6z"/>
<path fill="#00ec06" d="M495.3 1903.1l6 -4.9l12.2 -1.6l-6.2 4.9z"/>
<path fill="#1be900" d="M513.5 1896.6l6.2 -4.2l12.2 -0.9l-6.4 4.3z"/>
<path fill="#35e500" d="M531.9 1891.5l6.4 -3.5l12.1 -0.1l-6.5 3.5z"/>
<path fill="#49e200" d="M550.4 1887.9l6.7 -2.8l12 0.5l-6.7 2.8z"/>
<path fill="#56dd00" d="M569.1 1885.6l6.8 -2l12.1 1.2l-6.9 2.1z"/>
<path fill="#5dd800" d="M588 1884.8l6.9 -1.3l12 1.9l-7 1.3z"/>
<path fill="#5ed300" d="M606.9 1885.4l7.1 -0.6l11.9 2.6l-7.1 0.6z"/>
<path fill="#5ace00" d="M625.9 1887.4l7.3 0.2l11.8 3.3l-7.3 -0.2z"/>
<path fill="#50c800" d="M645 1890.9l7.4 0.9l11.7 3.9l-7.4 -0.9z"/>
<path fill="#43c200" d="M664.1 1895.7l7.6 1.7l11.6 4.6l-7.6 -1.7z"/>
<path fill="#32bc00" d="M683.3 1902l7.6 2.5l11.5 5.1l-7.6 -2.4z"/>
<path fill="#1db600" d="M702.4 1909.6l7.7 3.3l11.4 5.7l-7.7 -3.2z"/>
<path fill="#05b000" d="M721.5 1918.6l7.8 4l11.3 6.4l-7.9 -4z"/>
<path fill="#00f42f" d="M465.2 1914l5.8 -5.6l12.1 -3l-5.8 5.6z"/>
<path fill="#00f202" d="M483.1 1905.4l6 -4.9l12.2 -2.3l-6 4.9z"/>
<path fill="#23f000" d="M501.3 1898.2l6.2 -4.2l12.2 -1.6l-6.2 4.2z"/>
<path fill="#41ed00" d="M519.7 1892.4l6.4 -3.5l12.2 -0.9l-6.4 3.5z"/>
<path fill="#58e900" d="M538.3 1888l6.6 -2.7l12.2 -0.2l-6.7 2.8z"/>
<path fill="#68e500" d="M557.1 1885.1l6.7 -2.1l12.1 0.6l-6.8 2z"/>
<path fill="#72e100" d="M575.9 1883.6l6.9 -1.3l12.1 1.2l-6.9 1.3z"/>
<path fill="#75dc00" d="M594.9 1883.5l7.1 -0.6l12 1.9l-7.1 0.6z"/>
<path fill="#73d600" d="M614 1884.8l7.2 0.2l12 2.6l-7.3 -0.2z"/>
<path fill="#6bd000" d="M633.2 1887.6l7.3 1l11.9 3.2l-7.4 -0.9z"/>
<path fill="#5fca00" d="M652.4 1891.8l7.5 1.8l11.8 3.8l-7.6 -1.7z"/>
<path fill="#4ec400" d="M671.7 1897.4l7.5 2.6l11.7 4.5l-7.6 -2.5z"/>
<path fill="#3abe00" d="M690.9 1904.5l7.7 3.3l11.5 5.1l-7.7 -3.3z"/>
<path fill="#23b800" d="M710.1 1912.9l7.8 4l11.4 5.7l-7.8 -4z"/>
<path fill="#08b200" d="M729.3 1922.6l7.9 4.9l11.3 6.2l-7.9 -4.7z"/>
<path fill="#00fa32" d="M453 1917.7l5.7 -5.5l12.3 -3.8l-5.8 5.6z"/>
<path fill="#00f901" d="M471 1908.4l5.9 -4.9l12.2 -3l-6 4.9z"/>
<path fill="#28f700" d="M489.1 1900.5l6.2 -4.2l12.2 -2.3l-6.2 4.2z"/>
<path fill="#4af400" d="M507.5 1894l6.4 -3.5l12.2 -1.6l-6.4 3.5z"/>
<path fill="#65f100" d="M526.1 1888.9l6.5 -2.8l12.3 -0.8l-6.6 2.7z"/>
<path fill="#79ed00" d="M544.9 1885.3l6.7 -2.1l12.2 -0.2l-6.7 2.1z"/>
<path fill="#85e900" d="M563.8 1883l6.9 -1.3l12.1 0.6l-6.9 1.3z"/>
<path fill="#8ce400" d="M582.8 1882.3l7.1 -0.6l12.1 1.2l-7.1 0.6z"/>
<path fill="#8cdf00" d="M602 1882.9l7.2 0.3l12 1.8l-7.2 -0.2z"/>
<path fill="#86d900" d="M621.2 1885l7.3 1l12 2.6l-7.3 -1z"/>
<path fill="#7bd300" d="M640.5 1888.6l7.5 1.8l11.9 3.2l-7.5 -1.8z"/>
<path fill="#6bcd00" d="M659.9 1893.6l7.5 2.5l11.8 3.9l-7.5 -2.6z"/>
<path fill="#58c600" d="M679.2 1900l7.7 3.3l11.7 4.5l-7.7 -3.3z"/>
<path fill="#40c000" d="M698.6 1907.8l7.8 4.1l11.5 5l-7.8 -4z"/>
<path fill="#26ba00" d="M717.9 1916.9l7.9 4.9l11.4 5.7l-7.9 -4.9z"/>
<path fill="#09b300" d="M737.2 1927.5l8 5.6l11.2 6.2l-7.9 -5.6z"/>
<path fill="#00ff38" d="M440.8 1922.2l5.7 -5.6l12.2 -4.4l-5.7 5.5z"/>
<path fill="#00ff03" d="M458.7 1912.2l5.9 -4.9l12.3 -3.8l-5.9 4.9z"/>
<path fill="#2afd00" d="M476.9 1903.5l6 -4.1l12.4 -3.1l-6.2 4.2z"/>
<path fill="#51fb00" d="M495.3 1896.3l6.2 -3.5l12.4 -2.3l-6.4 3.5z"/>
<path fill="#6ff800" d="M513.9 1890.5l6.4 -2.7l12.3 -1.7l-6.5 2.8z"/>
<path fill="#87f500" d="M532.6 1886.1l6.6 -2l12.4 -0.9l-6.7 2.1z"/>
<path fill="#97f100" d="M551.6 1883.2l6.8 -1.3l12.3 -0.2l-6.9 1.3z"/>
<path fill="#a0ec00" d="M570.7 1881.7l6.9 -0.5l12.3 0.5l-7.1 0.6z"/>
<path fill="#a3e700" d="M589.9 1881.7l7.1 0.3l12.2 1.2l-7.2 -0.3z"/>
<path fill="#9fe200" d="M609.2 1883.2l7.2 1l12.1 1.8l-7.3 -1z"/>
<path fill="#96dc00" d="M628.5 1886l7.4 1.8l12.1 2.6l-7.5 -1.8z"/>
<path fill="#88d500" d="M648 1890.4l7.5 2.6l11.9 3.1l-7.5 -2.5z"/>
<path fill="#75cf00" d="M667.4 1896.1l7.7 3.4l11.8 3.8l-7.7 -3.3z"/>
<path fill="#5ec800" d="M686.9 1903.3l7.8 4.2l11.7 4.4l-7.8 -4.1z"/>
<path fill="#44c200" d="M706.4 1911.9l7.8 4.9l11.6 5l-7.9 -4.9z"/>
<path fill="#27bb00" d="M725.8 1921.8l7.9 5.8l11.5 5.5l-8 -5.6z"/>
<path fill="#08b500" d="M745.2 1933.1l7.9 6.5l11.3 6.2l-8 -6.5z"/>
<path fill="#01ff41" d="M428.6 1927.4l5.5 -5.5l12.4 -5.3l-5.7 5.6z"/>
<path fill="#00ff08" d="M446.5 1916.6l5.7 -4.8l12.4 -4.5l-5.9 4.9z"/>
<path fill="#29ff00" d="M464.6 1907.3l5.9 -4.2l12.4 -3.7l-6 4.1z"/>
<path fill="#53ff00" d="M482.9 1899.4l6.2 -3.5l12.4 -3.1l-6.2 3.5z"/>
<path fill="#77ff00" d="M501.5 1892.8l6.4 -2.7l12.4 -2.3l-6.4 2.7z"/>
<path fill="#92fd00" d="M520.3 1887.8l6.5 -2l12.4 -1.7l-6.6 2z"/>
<path fill="#a6f900" d="M539.2 1884.1l6.8 -1.2l12.4 -1l-6.8 1.3z"/>
<path fill="#b3f500" d="M558.4 1881.9l6.8 -0.4l12.4 -0.3l-6.9 0.5z"/>
<path fill="#b9f000" d="M577.6 1881.2l7.1 0.3l12.3 0.5l-7.1 -0.3z"/>
<path fill="#b8eb00" d="M597 1882l7.2 1l12.2 1.2l-7.2 -1z"/>
<path fill="#b0e500" d="M616.4 1884.2l7.4 1.8l12.1 1.8l-7.4 -1.8z"/>
<path fill="#a4de00" d="M635.9 1887.8l7.5 2.7l12.1 2.5l-7.5 -2.6z"/>
<path fill="#92d800" d="M655.5 1893l7.6 3.4l12 3.1l-7.7 -3.4z"/>
<path fill="#7cd100" d="M675.1 1899.5l7.7 4.2l11.9 3.8l-7.8 -4.2z"/>
<path fill="#62ca00" d="M694.7 1907.5l7.8 5l11.7 4.3l-7.8 -4.9z"/>
<path fill="#45c300" d="M714.2 1916.8l7.9 5.8l11.6 5l-7.9 -5.8z"/>
<path fill="#26bd00" d="M733.7 1927.6l8 6.5l11.4 5.5l-7.9 -6.5z"/>
<path fill="#04b600" d="M753.1 1939.6l8.1 7.4l11.3 6l-8.1 -7.2z"/>
<path fill="#0cff54" d="M416.3 1933.3l5.5 -5.5l12.3 -5.9l-5.5 5.5z"/>
<path fill="#0aff19" d="M434.1 1921.9l5.7 -4.9l12.4 -5.2l-5.7 4.8z"/>
<path fill="#29ff06" d="M452.2 1911.8l5.9 -4.1l12.4 -4.6l-5.9 4.2z"/>
<path fill="#52ff01" d="M470.5 1903.1l6.1 -3.4l12.5 -3.8l-6.2 3.5z"/>
<path fill="#78ff00" d="M489.1 1895.9l6.3 -2.7l12.5 -3.1l-6.4 2.7z"/>
<path fill="#98ff00" d="M507.9 1890.1l6.4 -1.9l12.5 -2.4l-6.5 2z"/>
<path fill="#b2ff00" d="M526.8 1885.8l6.7 -1.2l12.5 -1.7l-6.8 1.2z"/>
<path fill="#c4fd00" d="M546 1882.9l6.8 -0.5l12.4 -0.9l-6.8 0.4z"/>
<path fill="#ccf900" d="M565.2 1881.5l7 0.3l12.5 -0.3l-7.1 -0.3z"/>
<path fill="#cef300" d="M584.7 1881.5l7.1 1.1l12.4 0.4l-7.2 -1z"/>
<path fill="#c9ee00" d="M604.2 1883l7.3 1.9l12.3 1.1l-7.4 -1.8z"/>
<path fill="#bfe700" d="M623.8 1886l7.4 2.7l12.2 1.8l-7.5 -2.7z"/>
<path fill="#aee100" d="M643.4 1890.5l7.6 3.5l12.1 2.4l-7.6 -3.4z"/>
<path fill="#99da00" d="M663.1 1896.4l7.7 4.3l12 3l-7.7 -4.2z"/>
<path fill="#80d300" d="M682.8 1903.7l7.8 5.1l11.9 3.7l-7.8 -5z"/>
<path fill="#63cc00" d="M702.5 1912.5l7.8 5.8l11.8 4.3l-7.9 -5.8z"/>
<path fill="#43c500" d="M722.1 1922.6l7.9 6.7l11.7 4.8l-8 -6.5z"/>
<path fill="#22be00" d="M741.7 1934.1l8 7.5l11.5 5.4l-8.1 -7.4z"/>
<path fill="#00b802" d="M761.2 1947l8.1 8.2l11.3 6l-8.1 -8.2z"/>
<path fill="#16ff69" d="M404.1 1939.9l5.3 -5.4l12.4 -6.7l-5.5 5.5z"/>
<path fill="#15ff2e" d="M421.8 1927.8l5.6 -4.8l12.4 -6l-5.7 4.9z"/>
<path fill="#2bff12" d="M439.8 1917l5.8 -4l12.5 -5.3l-5.9 4.1z"/>
<path fill="#56ff0e" d="M458.1 1907.7l6 -3.4l12.5 -4.6l-6.1 3.4z"/>
<path fill="#7bff09" d="M476.6 1899.7l6.2 -2.6l12.6 -3.9l-6.3 2.7z"/>
<path fill="#9aff02" d="M495.4 1893.2l6.4 -1.9l12.5 -3.1l-6.4 1.9z"/>
<path fill="#b6ff00" d="M514.3 1888.2l6.6 -1.2l12.6 -2.4l-6.7 1.2z"/>
<path fill="#ccff00" d="M533.5 1884.6l6.8 -0.5l12.5 -1.7l-6.8 0.5z"/>
<path fill="#dcff00" d="M552.8 1882.4l6.9 0.4l12.5 -1l-7 -0.3z"/>
<path fill="#e3fc00" d="M572.2 1881.8l7.1 1.1l12.5 -0.3l-7.1 -1.1z"/>
<path fill="#e1f700" d="M591.8 1882.6l7.3 1.9l12.4 0.4l-7.3 -1.9z"/>
<path fill="#d8f000" d="M611.5 1884.9l7.4 2.8l12.3 1l-7.4 -2.7z"/>
<path fill="#caea00" d="M631.2 1888.7l7.5 3.5l12.3 1.8l-7.6 -3.5z"/>
<path fill="#b6e300" d="M651 1894l7.6 4.3l12.2 2.4l-7.7 -4.3z"/>
<path fill="#9ddc00" d="M670.8 1900.7l7.7 5.1l12.1 3l-7.8 -5.1z"/>
<path fill="#81d400" d="M690.6 1908.8l7.8 5.9l11.9 3.6l-7.8 -5.8z"/>
<path fill="#61cd00" d="M710.3 1918.3l8 6.8l11.7 4.2l-7.9 -6.7z"/>
<path fill="#3fc600" d="M730 1929.3l8 7.5l11.7 4.8l-8 -7.5z"/>
<path fill="#1bbf00" d="M749.7 1941.6l8.1 8.3l11.5 5.3l-8.1 -8.2z"/>
<path fill="#00b90b" d="M769.3 1955.2l8.1 9.1l11.3 5.8l-8.1 -8.9z"/>
<path fill="#20ff7f" d="M391.8 1947.3l5.2 -5.4l12.4 -7.4l-5.3 5.4z"/>
<path fill="#1fff45" d="M409.4 1934.5l5.5 -4.7l12.5 -6.8l-5.6 4.8z"/>
<path fill="#2bff1d" d="M427.4 1923l5.7 -4l12.5 -6l-5.8 4z"/>
<path fill="#57ff1a" d="M445.6 1913l5.9 -3.4l12.6 -5.3l-6 3.4z"/>
<path fill="#7dff16" d="M464.1 1904.3l6.1 -2.6l12.6 -4.6l-6.2 2.6z"/>
<path fill="#9eff11" d="M482.8 1897.1l6.3 -1.9l12.7 -3.9l-6.4 1.9z"/>
<path fill="#baff0a" d="M501.8 1891.3l6.5 -1.2l12.6 -3.1l-6.6 1.2z"/>
<path fill="#d1ff01" d="M520.9 1887l6.7 -0.4l12.7 -2.5l-6.8 0.5z"/>
<path fill="#e3ff00" d="M540.3 1884.1l6.8 0.4l12.6 -1.7l-6.9 -0.4z"/>
<path fill="#f0ff00" d="M559.7 1882.8l7.1 1.2l12.5 -1.1l-7.1 -1.1z"/>
<path fill="#f6ff00" d="M579.3 1882.9l7.2 2l12.6 -0.4l-7.3 -1.9z"/>
<path fill="#f0fa00" d="M599.1 1884.5l7.3 2.8l12.5 0.4l-7.4 -2.8z"/>
<path fill="#e4f300" d="M618.9 1887.7l7.4 3.5l12.4 1l-7.5 -3.5z"/>
<path fill="#d1ec00" d="M638.7 1892.2l7.6 4.4l12.3 1.7l-7.6 -4.3z"/>
<path fill="#bae500" d="M658.6 1898.3l7.7 5.2l12.2 2.3l-7.7 -5.1z"/>
<path fill="#9edd00" d="M678.5 1905.8l7.8 6l12.1 2.9l-7.8 -5.9z"/>
<path fill="#7fd600" d="M698.4 1914.7l7.9 6.8l12 3.6l-8 -6.8z"/>
<path fill="#5dce00" d="M718.3 1925.1l7.9 7.6l11.8 4.1l-8 -7.5z"/>
<path fill="#38c700" d="M738 1936.8l8.1 8.4l11.7 4.7l-8.1 -8.3z"/>
<path fill="#11c000" d="M757.8 1949.9l8.1 9.1l11.5 5.3l-8.1 -9.1z"/>
<path fill="#00ba17" d="M777.4 1964.3l8.1 9.9l11.3 5.8l-8.1 -9.9z"/>
<path fill="#29ff95" d="M379.4 1955.5l5.2 -5.4l12.4 -8.2l-5.2 5.4z"/>
<path fill="#28ff5c" d="M397 1941.9l5.4 -4.6l12.5 -7.5l-5.5 4.7z"/>
<path fill="#28ff28" d="M414.9 1929.8l5.6 -4l12.6 -6.8l-5.7 4z"/>
<path fill="#55ff26" d="M433.1 1919l5.8 -3.3l12.6 -6.1l-5.9 3.4z"/>
<path fill="#7dff23" d="M451.5 1909.6l6 -2.6l12.7 -5.3l-6.1 2.6z"/>
<path fill="#9fff1e" d="M470.2 1901.7l6.3 -1.9l12.6 -4.6l-6.3 1.9z"/>
<path fill="#bcff18" d="M489.1 1895.2l6.5 -1.1l12.7 -4l-6.5 1.2z"/>
<path fill="#d4ff11" d="M508.3 1890.1l6.6 -0.3l12.7 -3.2l-6.7 0.4z"/>
<path fill="#e8ff08" d="M527.6 1886.6l6.8 0.4l12.7 -2.5l-6.8 -0.4z"/>
<path fill="#f7ff00" d="M547.1 1884.5l7 1.2l12.7 -1.7l-7.1 -1.2z"/>
<path fill="#fffe00" d="M566.8 1884l7.1 2l12.6 -1.1l-7.2 -2z"/>
<path fill="#fffc00" d="M586.5 1884.9l7.3 2.8l12.6 -0.4l-7.3 -2.8z"/>
<path fill="#fcfc00" d="M606.4 1887.3l7.4 3.7l12.5 0.2l-7.4 -3.5z"/>
<path fill="#ecf500" d="M626.3 1891.2l7.6 4.5l12.4 0.9l-7.6 -4.4z"/>
<path fill="#d6ee00" d="M646.3 1896.6l7.7 5.3l12.3 1.6l-7.7 -5.2z"/>
<path fill="#bbe600" d="M666.3 1903.5l7.8 6.1l12.2 2.2l-7.8 -6z"/>
<path fill="#9cdf00" d="M686.3 1911.8l7.9 6.9l12.1 2.8l-7.9 -6.8z"/>
<path fill="#7ad700" d="M706.3 1921.5l8 7.7l11.9 3.5l-7.9 -7.6z"/>
<path fill="#55cf00" d="M726.2 1932.7l8.1 8.4l11.8 4.1l-8.1 -8.4z"/>
<path fill="#2ec800" d="M746.1 1945.2l8.1 9.2l11.7 4.6l-8.1 -9.1z"/>
<path fill="#05c100" d="M765.9 1959l8.1 10.1l11.5 5.1l-8.1 -9.9z"/>
<path fill="#00bb25" d="M785.5 1974.2l8.2 10.8l11.3 5.7l-8.2 -10.7z"/>
<path fill="#31ffad" d="M367.1 1964.3l5.1 -5.3l12.4 -8.9l-5.2 5.4z"/>
<path fill="#31ff73" d="M384.6 1950.1l5.3 -4.6l12.5 -8.2l-5.4 4.6z"/>
<path fill="#31ff3f" d="M402.4 1937.3l5.5 -4l12.6 -7.5l-5.6 4z"/>
<path fill="#52ff30" d="M420.5 1925.8l5.7 -3.3l12.7 -6.8l-5.8 3.3z"/>
<path fill="#7aff2e" d="M438.9 1915.7l5.9 -2.6l12.7 -6.1l-6 2.6z"/>
<path fill="#9dff2b" d="M457.5 1907l6.2 -1.8l12.8 -5.4l-6.3 1.9z"/>
<path fill="#bbff26" d="M476.5 1899.8l6.3 -1.1l12.8 -4.6l-6.5 1.1z"/>
<path fill="#d5ff20" d="M495.6 1894.1l6.5 -0.3l12.8 -4l-6.6 0.3z"/>
<path fill="#eaff18" d="M514.9 1889.8l6.8 0.5l12.7 -3.3l-6.8 -0.4z"/>
<path fill="#fbff0d" d="M534.4 1887l6.9 1.3l12.8 -2.6l-7 -1.2z"/>
<path fill="#fff701" d="M554.1 1885.7l7.1 2.1l12.7 -1.8l-7.1 -2z"/>
<path fill="#fff200" d="M573.9 1886l7.2 2.9l12.7 -1.2l-7.3 -2.8z"/>
<path fill="#fff200" d="M593.8 1887.7l7.4 3.7l12.6 -0.4l-7.4 -3.7z"/>
<path fill="#fff900" d="M613.8 1891l7.5 4.5l12.6 0.2l-7.6 -4.5z"/>
<path fill="#f0f700" d="M633.9 1895.7l7.6 5.3l12.5 0.9l-7.7 -5.3z"/>
<path fill="#d7ef00" d="M654 1901.9l7.7 6.1l12.4 1.6l-7.8 -6.1z"/>
<path fill="#b9e800" d="M674.1 1909.6l7.8 6.9l12.3 2.2l-7.9 -6.9z"/>
<path fill="#97e000" d="M694.2 1918.7l7.9 7.7l12.2 2.8l-8 -7.7z"/>
<path fill="#72d800" d="M714.3 1929.2l8 8.6l12 3.3l-8.1 -8.4z"/>
<path fill="#4bd000" d="M734.3 1941.1l8 9.4l11.9 3.9l-8.1 -9.2z"/>
<path fill="#21c900" d="M754.2 1954.4l8.1 10.2l11.7 4.5l-8.1 -10.1z"/>
<path fill="#00c20a" d="M774 1969.1l8.2 10.9l11.5 5l-8.2 -10.8z"/>
<path fill="#00bc36" d="M793.7 1985l8.2 11.7l11.3 5.5l-8.2 -11.5z"/>
<path fill="#38ffc6" d="M354.8 1973.9l5 -5.2l12.4 -9.7l-5.1 5.3z"/>
<path fill="#39ff8c" d="M372.2 1959l5.2 -4.5l12.5 -9l-5.3 4.6z"/>
<path fill="#3aff58" d="M389.9 1945.5l5.4 -3.9l12.6 -8.3l-5.5 4z"/>
<path fill="#4cff3a" d="M407.9 1933.3l5.7 -3.2l12.6 -7.6l-5.7 3.3z"/>
<path fill="#76ff39" d="M426.2 1922.5l5.9 -2.5l12.7 -6.9l-5.9 2.6z"/>
<path fill="#9aff37" d="M444.8 1913.1l6.1 -1.7l12.8 -6.2l-6.2 1.8z"/>
<path fill="#b9ff33" d="M463.7 1905.2l6.3 -1l12.8 -5.5l-6.3 1.1z"/>
<path fill="#d3ff2e" d="M482.8 1898.7l6.5 -0.2l12.8 -4.7l-6.5 0.3z"/>
<path fill="#eaff27" d="M502.1 1893.8l6.7 0.5l12.9 -4l-6.8 -0.5z"/>
<path fill="#fcff1e" d="M521.7 1890.3l6.8 1.3l12.8 -3.3l-6.9 -1.3z"/>
<path fill="#fff413" d="M541.3 1888.3l7.1 2.1l12.8 -2.6l-7.1 -2.1z"/>
<path fill="#ffeb06" d="M561.2 1887.8l7.2 2.9l12.7 -1.8l-7.2 -2.9z"/>
<path fill="#ffe900" d="M581.1 1888.9l7.4 3.7l12.7 -1.2l-7.4 -3.7z"/>
<path fill="#ffec00" d="M601.2 1891.4l7.5 4.6l12.6 -0.5l-7.5 -4.5z"/>
<path fill="#fff700" d="M621.3 1895.5l7.6 5.3l12.6 0.2l-7.6 -5.3z"/>
<path fill="#f1f900" d="M641.5 1901l7.7 6.2l12.5 0.8l-7.7 -6.1z"/>
<path fill="#d4f100" d="M661.7 1908l7.9 7.1l12.3 1.4l-7.8 -6.9z"/>
<path fill="#b3e900" d="M681.9 1916.5l8 7.9l12.2 2l-7.9 -7.7z"/>
<path fill="#8ee000" d="M702.1 1926.4l8 8.7l12.2 2.7l-8 -8.6z"/>
<path fill="#67d900" d="M722.3 1937.8l8 9.5l12 3.2l-8 -9.4z"/>
<path fill="#3dd100" d="M742.3 1950.5l8.2 10.3l11.8 3.8l-8.1 -10.2z"/>
<path fill="#12ca00" d="M762.3 1964.6l8.2 11.1l11.7 4.3l-8.2 -10.9z"/>
<path fill="#00c31b" d="M782.2 1980l8.2 11.9l11.5 4.8l-8.2 -11.7z"/>
<path fill="#00bc49" d="M801.9 1996.7l8.2 12.6l11.3 5.4l-8.2 -12.5z"/>
<path fill="#3fffdf" d="M342.5 1984.3l4.9 -5.2l12.4 -10.4l-5 5.2z"/>
<path fill="#41ffa5" d="M359.8 1968.7l5.1 -4.5l12.5 -9.7l-5.2 4.5z"/>
<path fill="#42ff70" d="M377.4 1954.5l5.3 -3.9l12.6 -9l-5.4 3.9z"/>
<path fill="#45ff43" d="M395.3 1941.6l5.6 -3.2l12.7 -8.3l-5.7 3.2z"/>
<path fill="#6fff43" d="M413.6 1930.1l5.7 -2.5l12.8 -7.6l-5.9 2.5z"/>
<path fill="#94ff42" d="M432.1 1920l6 -1.7l12.8 -6.9l-6.1 1.7z"/>
<path fill="#b4ff3f" d="M450.9 1911.4l6.2 -1l12.9 -6.2l-6.3 1z"/>
<path fill="#cfff3b" d="M470 1904.2l6.4 -0.2l12.9 -5.5l-6.5 0.2z"/>
<path fill="#e7ff35" d="M489.3 1898.5l6.6 0.6l12.9 -4.8l-6.7 -0.5z"/>
<path fill="#faff2d" d="M508.8 1894.3l6.8 1.3l12.9 -4l-6.8 -1.3z"/>
<path fill="#fff523" d="M528.5 1891.6l7 2.2l12.9 -3.4l-7.1 -2.1z"/>
<path fill="#ffe917" d="M548.4 1890.4l7.1 3l12.9 -2.7l-7.2 -2.9z"/>
<path fill="#ffe309" d="M568.4 1890.7l7.2 3.9l12.9 -2l-7.4 -3.7z"/>
<path fill="#ffe300" d="M588.5 1892.6l7.4 4.6l12.8 -1.2l-7.5 -4.6z"/>
<path fill="#ffea00" d="M608.7 1896l7.5 5.4l12.7 -0.6l-7.6 -5.3z"/>
<path fill="#fff800" d="M628.9 1900.8l7.7 6.3l12.6 0.1l-7.7 -6.2z"/>
<path fill="#eefa00" d="M649.2 1907.2l7.8 7.1l12.6 0.8l-7.9 -7.1z"/>
<path fill="#cef200" d="M669.6 1915.1l7.8 7.9l12.5 1.4l-8 -7.9z"/>
<path fill="#aae900" d="M689.9 1924.4l7.9 8.7l12.3 2l-8 -8.7z"/>
<path fill="#82e100" d="M710.1 1935.1l8.1 9.6l12.1 2.6l-8 -9.5z"/>
<path fill="#59d900" d="M730.3 1947.3l8.1 10.3l12.1 3.2l-8.2 -10.3z"/>
<path fill="#2dd100" d="M750.5 1960.8l8.1 11.2l11.9 3.7l-8.2 -11.1z"/>
<path fill="#00ca01" d="M770.5 1975.7l8.2 11.9l11.7 4.3l-8.2 -11.9z"/>
<path fill="#00c32f" d="M790.4 1991.9l8.2 12.7l11.5 4.7l-8.2 -12.6z"/>
<path fill="#00bd5f" d="M810.1 2009.3l8.2 13.5l11.4 5.2l-8.3 -13.3z"/>
<path fill="#47ffbe" d="M347.4 1979.1l5 -4.4l12.5 -10.5l-5.1 4.5z"/>
<path fill="#49ff8a" d="M364.9 1964.2l5.2 -3.8l12.6 -9.8l-5.3 3.9z"/>
<path fill="#4bff5b" d="M382.7 1950.6l5.5 -3.1l12.7 -9.1l-5.6 3.2z"/>
<path fill="#67ff4c" d="M400.9 1938.4l5.7 -2.4l12.7 -8.4l-5.7 2.5z"/>
<path fill="#8dff4b" d="M419.3 1927.6l6 -1.6l12.8 -7.7l-6 1.7z"/>
<path fill="#aeff4a" d="M438.1 1918.3l6.1 -0.9l12.9 -7l-6.2 1z"/>
<path fill="#caff47" d="M457.1 1910.4l6.4 -0.2l12.9 -6.2l-6.4 0.2z"/>
<path fill="#e2ff42" d="M476.4 1904l6.5 0.6l13 -5.5l-6.6 -0.6z"/>
<path fill="#f6ff3b" d="M495.9 1899.1l6.7 1.4l13 -4.9l-6.8 -1.3z"/>
<path fill="#fff732" d="M515.6 1895.6l6.9 2.3l13 -4.1l-7 -2.2z"/>
<path fill="#ffea27" d="M535.5 1893.8l7 3l13 -3.4l-7.1 -3z"/>
<path fill="#ffe21a" d="M555.5 1893.4l7.2 3.9l12.9 -2.7l-7.2 -3.9z"/>
<path fill="#ffde0c" d="M575.6 1894.6l7.4 4.7l12.9 -2.1l-7.4 -4.6z"/>
<path fill="#ffe100" d="M595.9 1897.2l7.5 5.6l12.8 -1.4l-7.5 -5.4z"/>
<path fill="#ffeb00" d="M616.2 1901.4l7.7 6.4l12.7 -0.7l-7.7 -6.3z"/>
<path fill="#fffc00" d="M636.6 1907.1l7.8 7.2l12.6 0l-7.8 -7.1z"/>
<path fill="#e7fb00" d="M657 1914.3l7.9 8.1l12.5 0.6l-7.8 -7.9z"/>
<path fill="#c4f200" d="M677.4 1923l8 8.9l12.4 1.2l-7.9 -8.7z"/>
<path fill="#9dea00" d="M697.8 1933.1l8 9.7l12.4 1.9l-8.1 -9.6z"/>
<path fill="#73e100" d="M718.2 1944.7l8 10.5l12.2 2.4l-8.1 -10.3z"/>
<path fill="#47d900" d="M738.4 1957.6l8.2 11.3l12 3.1l-8.1 -11.2z"/>
<path fill="#1ad200" d="M758.6 1972l8.2 12l11.9 3.6l-8.2 -11.9z"/>
<path fill="#00cb16" d="M778.7 1987.6l8.2 12.9l11.7 4.1l-8.2 -12.7z"/>
<path fill="#00c446" d="M798.6 2004.6l8.2 13.6l11.5 4.6l-8.2 -13.5z"/>
<path fill="#50ffa3" d="M352.4 1974.7l5.1 -3.8l12.6 -10.5l-5.2 3.8z"/>
<path fill="#52ff74" d="M370.1 1960.4l5.4 -3l12.7 -9.9l-5.5 3.1z"/>
<path fill="#5eff54" d="M388.2 1947.5l5.6 -2.3l12.8 -9.2l-5.7 2.4z"/>
<path fill="#85ff54" d="M406.6 1936l5.8 -1.6l12.9 -8.4l-6 1.6z"/>
<path fill="#a6ff54" d="M425.3 1926l6 -0.9l12.9 -7.7l-6.1 0.9z"/>
<path fill="#c3ff52" d="M444.2 1917.4l6.3 -0.1l13 -7.1l-6.4 0.2z"/>
<path fill="#dcff4e" d="M463.5 1910.2l6.4 0.7l13 -6.3l-6.5 -0.6z"/>
<path fill="#f1ff49" d="M482.9 1904.6l6.7 1.5l13 -5.6l-6.7 -1.4z"/>
<path fill="#fffc41" d="M502.6 1900.5l6.8 2.3l13.1 -4.9l-6.9 -2.3z"/>
<path fill="#ffee37" d="M522.5 1897.9l7 3.1l13 -4.2l-7 -3z"/>
<path fill="#ffe32b" d="M542.5 1896.8l7.2 3.9l13 -3.4l-7.2 -3.9z"/>
<path fill="#ffdd1d" d="M562.7 1897.3l7.3 4.7l13 -2.7l-7.4 -4.7z"/>
<path fill="#ffdc0d" d="M583 1899.3l7.5 5.6l12.9 -2.1l-7.5 -5.6z"/>
<path fill="#ffe200" d="M603.4 1902.8l7.6 6.4l12.9 -1.4l-7.7 -6.4z"/>
<path fill="#fff000" d="M623.9 1907.8l7.7 7.3l12.8 -0.8l-7.8 -7.2z"/>
<path fill="#faff00" d="M644.4 1914.3l7.8 8.2l12.7 -0.1l-7.9 -8.1z"/>
<path fill="#ddfb00" d="M664.9 1922.4l7.9 8.9l12.6 0.6l-8 -8.9z"/>
<path fill="#b6f200" d="M685.4 1931.9l8 9.8l12.4 1.1l-8 -9.7z"/>
<path fill="#8dea00" d="M705.8 1942.8l8.1 10.6l12.3 1.8l-8 -10.5z"/>
<path fill="#61e200" d="M726.2 1955.2l8.2 11.4l12.2 2.3l-8.2 -11.3z"/>
<path fill="#33da00" d="M746.6 1968.9l8.1 12.2l12.1 2.9l-8.2 -12z"/>
<path fill="#03d200" d="M766.8 1984l8.2 13l11.9 3.5l-8.2 -12.9z"/>
<path fill="#00cb2e" d="M786.9 2000.5l8.2 13.7l11.7 4l-8.2 -13.6z"/>
<path fill="#59ff8d" d="M357.5 1970.9l5.3 -2.9l12.7 -10.6l-5.4 3z"/>
<path fill="#5bff63" d="M375.5 1957.4l5.5 -2.3l12.8 -9.9l-5.6 2.3z"/>
<path fill="#7bff5c" d="M393.8 1945.2l5.7 -1.5l12.9 -9.3l-5.8 1.6z"/>
<path fill="#9dff5c" d="M412.4 1934.4l5.9 -0.8l13 -8.5l-6 0.9z"/>
<path fill="#bbff5c" d="M431.3 1925.1l6.2 0l13 -7.8l-6.3 0.1z"/>
<path fill="#d4ff59" d="M450.5 1917.3l6.3 0.7l13.1 -7.1l-6.4 -0.7z"/>
<path fill="#eaff55" d="M469.9 1910.9l6.6 1.6l13.1 -6.4l-6.7 -1.5z"/>
<path fill="#fcff4e" d="M489.6 1906.1l6.7 2.3l13.1 -5.6l-6.8 -2.3z"/>
<path fill="#fff346" d="M509.4 1902.8l7 3.1l13.1 -4.9l-7 -3.1z"/>
<path fill="#ffe83b" d="M529.5 1901l7.1 4l13.1 -4.3l-7.2 -3.9z"/>
<path fill="#ffdf2d" d="M549.7 1900.7l7.3 4.9l13 -3.6l-7.3 -4.7z"/>
<path fill="#ffdc1e" d="M570 1902l7.4 5.7l13.1 -2.8l-7.5 -5.6z"/>
<path fill="#ffde0e" d="M590.5 1904.9l7.5 6.5l13 -2.2l-7.6 -6.4z"/>
<path fill="#ffe700" d="M611 1909.2l7.7 7.4l12.9 -1.5l-7.7 -7.3z"/>
<path fill="#fff800" d="M631.6 1915.1l7.7 8.2l12.9 -0.8l-7.8 -8.2z"/>
<path fill="#efff00" d="M652.2 1922.5l7.9 9l12.7 -0.2l-7.9 -8.9z"/>
<path fill="#cefb00" d="M672.8 1931.3l7.9 9.9l12.7 0.5l-8 -9.8z"/>
<path fill="#a5f200" d="M693.4 1941.7l8 10.7l12.5 1l-8.1 -10.6z"/>
<path fill="#7aea00" d="M713.9 1953.4l8.1 11.5l12.4 1.7l-8.2 -11.4z"/>
<path fill="#4ce100" d="M734.4 1966.6l8.1 12.3l12.2 2.2l-8.1 -12.2z"/>
<path fill="#1cda00" d="M754.7 1981.1l8.2 13.2l12.1 2.7l-8.2 -13z"/>
<path fill="#00d216" d="M775 1997l8.2 13.9l11.9 3.3l-8.2 -13.7z"/>
<path fill="#61ff7c" d="M362.8 1968l5.4 -2.2l12.8 -10.7l-5.5 2.3z"/>
<path fill="#70ff63" d="M381 1955.1l5.6 -1.5l12.9 -9.9l-5.7 1.5z"/>
<path fill="#93ff64" d="M399.5 1943.7l5.9 -0.8l12.9 -9.3l-5.9 0.8z"/>
<path fill="#b2ff64" d="M418.3 1933.6l6.1 0.1l13.1 -8.6l-6.2 0z"/>
<path fill="#ccff63" d="M437.5 1925.1l6.3 0.8l13 -7.9l-6.3 -0.7z"/>
<path fill="#e2ff60" d="M456.8 1918l6.5 1.6l13.2 -7.1l-6.6 -1.6z"/>
<path fill="#f4ff5a" d="M476.5 1912.5l6.7 2.4l13.1 -6.5l-6.7 -2.3z"/>
<path fill="#fffa53" d="M496.3 1908.4l6.9 3.3l13.2 -5.8l-7 -3.1z"/>
<path fill="#ffed49" d="M516.4 1905.9l7 4.1l13.2 -5l-7.1 -4z"/>
<path fill="#ffe43d" d="M536.6 1905l7.2 4.9l13.2 -4.3l-7.3 -4.9z"/>
<path fill="#ffde2f" d="M557 1905.6l7.3 5.7l13.1 -3.6l-7.4 -5.7z"/>
<path fill="#ffdd1f" d="M577.4 1907.7l7.5 6.6l13.1 -2.9l-7.5 -6.5z"/>
<path fill="#ffe20d" d="M598 1911.4l7.6 7.4l13.1 -2.2l-7.7 -7.4z"/>
<path fill="#ffef00" d="M618.7 1916.6l7.7 8.3l12.9 -1.6l-7.7 -8.2z"/>
<path fill="#fbff00" d="M639.3 1923.3l7.9 9.1l12.9 -0.9l-7.9 -9z"/>
<path fill="#e0ff00" d="M660.1 1931.5l7.9 10l12.7 -0.3l-7.9 -9.9z"/>
<path fill="#bcfb00" d="M680.7 1941.2l8.1 10.8l12.6 0.4l-8 -10.7z"/>
<path fill="#91f200" d="M701.4 1952.4l8.1 11.6l12.5 0.9l-8.1 -11.5z"/>
<path fill="#63e900" d="M722 1964.9l8.1 12.5l12.4 1.5l-8.1 -12.3z"/>
<path fill="#33e100" d="M742.5 1978.9l8.2 13.3l12.2 2.1l-8.2 -13.2z"/>
<path fill="#02d900" d="M762.9 1994.3l8.2 14l12.1 2.6l-8.2 -13.9z"/>
<path fill="#69ff6f" d="M368.2 1965.8l5.5 -1.4l12.9 -10.8l-5.6 1.5z"/>
<path fill="#88ff6b" d="M386.6 1953.6l5.8 -0.6l13 -10.1l-5.9 0.8z"/>
<path fill="#a8ff6c" d="M405.4 1942.9l6 0.1l13 -9.3l-6.1 -0.1z"/>
<path fill="#c2ff6b" d="M424.4 1933.7l6.2 0.9l13.2 -8.7l-6.3 -0.8z"/>
<path fill="#d9ff69" d="M443.8 1925.9l6.4 1.7l13.1 -8l-6.5 -1.6z"/>
<path fill="#ecff65" d="M463.3 1919.6l6.7 2.5l13.2 -7.2l-6.7 -2.4z"/>
<path fill="#fcff5f" d="M483.2 1914.9l6.8 3.3l13.2 -6.5l-6.9 -3.3z"/>
<path fill="#fff556" d="M503.2 1911.7l7 4.1l13.2 -5.8l-7 -4.1z"/>
<path fill="#ffea4b" d="M523.4 1910l7.2 5l13.2 -5.1l-7.2 -4.9z"/>
<path fill="#ffe33e" d="M543.8 1909.9l7.3 5.8l13.2 -4.4l-7.3 -5.7z"/>
<path fill="#ffe02f" d="M564.3 1911.3l7.5 6.7l13.1 -3.7l-7.5 -6.6z"/>
<path fill="#ffe21e" d="M584.9 1914.3l7.6 7.5l13.1 -3l-7.6 -7.4z"/>
<path fill="#ffea0b" d="M605.6 1918.8l7.7 8.4l13.1 -2.3l-7.7 -8.3z"/>
<path fill="#fffb00" d="M626.4 1924.9l7.8 9.2l13 -1.7l-7.9 -9.1z"/>
<path fill="#ebff00" d="M647.2 1932.4l7.9 10.1l12.9 -1l-7.9 -10z"/>
<path fill="#ceff00" d="M668 1941.5l8 10.9l12.8 -0.4l-8.1 -10.8z"/>
<path fill="#a7fa00" d="M688.8 1952l8 11.8l12.7 0.2l-8.1 -11.6z"/>
<path fill="#79f100" d="M709.5 1964l8.1 12.6l12.5 0.8l-8.1 -12.5z"/>
<path fill="#4ae900" d="M730.1 1977.4l8.2 13.4l12.4 1.4l-8.2 -13.3z"/>
<path fill="#18e100" d="M750.7 1992.2l8.2 14.2l12.2 1.9l-8.2 -14z"/>
<path fill="#7cff71" d="M373.7 1964.4l5.7 -0.6l13 -10.8l-5.8 0.6z"/>
<path fill="#9dff73" d="M392.4 1953l5.9 0.2l13.1 -10.2l-6 -0.1z"/>
<path fill="#b8ff73" d="M411.4 1943l6.1 1l13.1 -9.4l-6.2 -0.9z"/>
<path fill="#cfff72" d="M430.6 1934.6l6.4 1.7l13.2 -8.7l-6.4 -1.7z"/>
<path fill="#e3ff6f" d="M450.2 1927.6l6.5 2.5l13.3 -8l-6.7 -2.5z"/>
<path fill="#f4ff6a" d="M470 1922.1l6.7 3.4l13.3 -7.3l-6.8 -3.3z"/>
<path fill="#fffd62" d="M490 1918.2l6.9 4.2l13.3 -6.6l-7 -4.1z"/>
<path fill="#fff159" d="M510.2 1915.8l7.1 5.1l13.3 -5.9l-7.2 -5z"/>
<path fill="#ffe94c" d="M530.6 1915l7.2 5.9l13.3 -5.2l-7.3 -5.8z"/>
<path fill="#ffe43e" d="M551.1 1915.7l7.4 6.8l13.3 -4.5l-7.5 -6.7z"/>
<path fill="#ffe42e" d="M571.8 1918l7.5 7.6l13.2 -3.8l-7.6 -7.5z"/>
<path fill="#ffe91c" d="M592.5 1921.8l7.7 8.5l13.1 -3.1l-7.7 -8.4z"/>
<path fill="#fff609" d="M613.3 1927.2l7.8 9.4l13.1 -2.5l-7.8 -9.2z"/>
<path fill="#f4ff00" d="M634.2 1934.1l7.9 10.2l13 -1.8l-7.9 -10.1z"/>
<path fill="#d9ff00" d="M655.1 1942.5l8 11.1l12.9 -1.2l-8 -10.9z"/>
<path fill="#b8ff00" d="M676 1952.4l8 11.9l12.8 -0.5l-8 -11.8z"/>
<path fill="#8ef900" d="M696.8 1963.8l8.1 12.7l12.7 0.1l-8.1 -12.6z"/>
<path fill="#5ef000" d="M717.6 1976.6l8.2 13.5l12.5 0.7l-8.2 -13.4z"/>
<path fill="#2de800" d="M738.3 1990.8l8.2 14.3l12.4 1.3l-8.2 -14.2z"/>
<path fill="#90ff78" d="M379.4 1963.8l5.8 0.3l13.1 -10.9l-5.9 -0.2z"/>
<path fill="#adff7a" d="M398.3 1953.2l6 1l13.2 -10.2l-6.1 -1z"/>
<path fill="#c5ff79" d="M417.5 1944l6.2 1.8l13.3 -9.5l-6.4 -1.7z"/>
<path fill="#d9ff77" d="M437 1936.3l6.4 2.7l13.3 -8.9l-6.5 -2.5z"/>
<path fill="#eaff73" d="M456.7 1930.1l6.7 3.5l13.3 -8.1l-6.7 -3.4z"/>
<path fill="#f9ff6d" d="M476.7 1925.5l6.8 4.3l13.4 -7.4l-6.9 -4.2z"/>
<path fill="#fffa65" d="M496.9 1922.4l7 5.2l13.4 -6.7l-7.1 -5.1z"/>
<path fill="#fff15a" d="M517.3 1920.9l7.1 6l13.4 -6l-7.2 -5.9z"/>
<path fill="#ffeb4c" d="M537.8 1920.9l7.3 6.9l13.4 -5.3l-7.4 -6.8z"/>
<path fill="#ffe83d" d="M558.5 1922.5l7.5 7.7l13.3 -4.6l-7.5 -7.6z"/>
<path fill="#ffeb2c" d="M579.3 1925.6l7.6 8.6l13.3 -3.9l-7.7 -8.5z"/>
<path fill="#fff419" d="M600.2 1930.3l7.7 9.5l13.2 -3.2l-7.8 -9.4z"/>
<path fill="#f9ff06" d="M621.1 1936.6l7.9 10.2l13.1 -2.5l-7.9 -10.2z"/>
<path fill="#e1ff00" d="M642.1 1944.3l7.9 11.2l13.1 -1.9l-8 -11.1z"/>
<path fill="#c3ff00" d="M663.1 1953.6l8 12l12.9 -1.3l-8 -11.9z"/>
<path fill="#9fff00" d="M684 1964.3l8.1 12.8l12.8 -0.6l-8.1 -12.7z"/>
<path fill="#71f800" d="M704.9 1976.5l8.2 13.6l12.7 0l-8.2 -13.5z"/>
<path fill="#40ef00" d="M725.8 1990.1l8.2 14.5l12.5 0.5l-8.2 -14.3z"/>
<path fill="#a1ff7f" d="M385.2 1964.1l6 1.1l13.1 -11l-6 -1z"/>
<path fill="#baff80" d="M404.3 1954.2l6.2 1.9l13.2 -10.3l-6.2 -1.8z"/>
<path fill="#cfff7f" d="M423.7 1945.8l6.4 2.7l13.3 -9.5l-6.4 -2.7z"/>
<path fill="#e1ff7c" d="M443.4 1939l6.6 3.5l13.4 -8.9l-6.7 -3.5z"/>
<path fill="#efff77" d="M463.4 1933.6l6.7 4.4l13.4 -8.2l-6.8 -4.3z"/>
<path fill="#fbff6f" d="M483.5 1929.8l7 5.2l13.4 -7.4l-7 -5.2z"/>
<path fill="#fff965" d="M503.9 1927.6l7.1 6l13.4 -6.7l-7.1 -6z"/>
<path fill="#fff259" d="M524.4 1926.9l7.3 6.9l13.4 -6l-7.3 -6.9z"/>
<path fill="#ffee4b" d="M545.1 1927.8l7.5 7.7l13.4 -5.3l-7.5 -7.7z"/>
<path fill="#ffef3a" d="M566 1930.2l7.5 8.7l13.4 -4.7l-7.6 -8.6z"/>
<path fill="#fff528" d="M586.9 1934.2l7.7 9.5l13.3 -3.9l-7.7 -9.5z"/>
<path fill="#fcff15" d="M607.9 1939.8l7.8 10.3l13.3 -3.3l-7.9 -10.2z"/>
<path fill="#e7ff02" d="M629 1946.8l7.9 11.3l13.1 -2.6l-7.9 -11.2z"/>
<path fill="#cbff00" d="M650 1955.5l8 12.1l13.1 -2l-8 -12z"/>
<path fill="#aaff00" d="M671.1 1965.6l8.1 12.9l12.9 -1.4l-8.1 -12.8z"/>
<path fill="#82ff00" d="M692.1 1977.1l8.2 13.8l12.8 -0.8l-8.2 -13.6z"/>
<path fill="#52f700" d="M713.1 1990.1l8.2 14.7l12.7 -0.2l-8.2 -14.5z"/>
<path fill="#afff85" d="M391.2 1965.2l6.1 2l13.2 -11.1l-6.2 -1.9z"/>
<path fill="#c4ff85" d="M410.5 1956.1l6.3 2.8l13.3 -10.4l-6.4 -2.7z"/>
<path fill="#d6ff83" d="M430.1 1948.5l6.5 3.6l13.4 -9.6l-6.6 -3.5z"/>
<path fill="#e6ff7f" d="M450 1942.5l6.7 4.4l13.4 -8.9l-6.7 -4.4z"/>
<path fill="#f2ff79" d="M470.1 1938l6.9 5.3l13.5 -8.3l-7 -5.2z"/>
<path fill="#fcff70" d="M490.5 1935l7 6.2l13.5 -7.6l-7.1 -6z"/>
<path fill="#fffa65" d="M511 1933.6l7.2 7l13.5 -6.8l-7.3 -6.9z"/>
<path fill="#fff657" d="M531.7 1933.8l7.4 7.9l13.5 -6.2l-7.5 -7.7z"/>
<path fill="#fff548" d="M552.6 1935.5l7.5 8.8l13.4 -5.4l-7.5 -8.7z"/>
<path fill="#fff837" d="M573.5 1938.9l7.7 9.6l13.4 -4.8l-7.7 -9.5z"/>
<path fill="#fcff24" d="M594.6 1943.7l7.8 10.5l13.3 -4.1l-7.8 -10.3z"/>
<path fill="#eaff11" d="M615.7 1950.1l7.9 11.4l13.3 -3.4l-7.9 -11.3z"/>
<path fill="#d0ff00" d="M636.9 1958.1l7.9 12.2l13.2 -2.7l-8 -12.1z"/>
<path fill="#b1ff00" d="M658 1967.6l8.1 13l13.1 -2.1l-8.1 -12.9z"/>
<path fill="#8dff00" d="M679.2 1978.5l8.1 13.9l13 -1.5l-8.2 -13.8z"/>
<path fill="#62fe00" d="M700.3 1990.9l8.1 14.8l12.9 -0.9l-8.2 -14.7z"/>
<path fill="#b9ff8a" d="M397.3 1967.2l6.2 2.8l13.3 -11.1l-6.3 -2.8z"/>
<path fill="#ccff89" d="M416.8 1958.9l6.4 3.7l13.4 -10.5l-6.5 -3.6z"/>
<path fill="#dbff86" d="M436.6 1952.1l6.7 4.6l13.4 -9.8l-6.7 -4.4z"/>
<path fill="#e8ff81" d="M456.7 1946.9l6.8 5.4l13.5 -9l-6.9 -5.3z"/>
<path fill="#f3ff79" d="M477 1943.3l7 6.2l13.5 -8.3l-7 -6.2z"/>
<path fill="#fbff6f" d="M497.5 1941.2l7.2 7.1l13.5 -7.7l-7.2 -7z"/>
<path fill="#fffe63" d="M518.2 1940.6l7.4 8l13.5 -6.9l-7.4 -7.9z"/>
<path fill="#fffc55" d="M539.1 1941.7l7.5 8.8l13.5 -6.2l-7.5 -8.8z"/>
<path fill="#fffe44" d="M560.1 1944.3l7.6 9.7l13.5 -5.5l-7.7 -9.6z"/>
<path fill="#f9ff32" d="M581.2 1948.5l7.7 10.6l13.5 -4.9l-7.8 -10.5z"/>
<path fill="#ebff1f" d="M602.4 1954.2l7.8 11.5l13.4 -4.2l-7.9 -11.4z"/>
<path fill="#d4ff0c" d="M623.6 1961.5l7.9 12.3l13.3 -3.5l-7.9 -12.2z"/>
<path fill="#b6ff00" d="M644.8 1970.3l8.1 13.2l13.2 -2.9l-8.1 -13z"/>
<path fill="#94ff00" d="M666.1 1980.6l8.1 14.1l13.1 -2.3l-8.1 -13.9z"/>
<path fill="#6cff00" d="M687.3 1992.4l8.1 14.9l13 -1.6l-8.1 -14.8z"/>
<path fill="#c0ff8e" d="M403.5 1970l6.3 3.8l13.4 -11.2l-6.4 -3.7z"/>
<path fill="#d1ff8c" d="M423.2 1962.6l6.6 4.6l13.5 -10.5l-6.7 -4.6z"/>
<path fill="#deff88" d="M443.3 1956.7l6.7 5.4l13.5 -9.8l-6.8 -5.4z"/>
<path fill="#e9ff81" d="M463.5 1952.3l7 6.3l13.5 -9.1l-7 -6.2z"/>
<path fill="#f1ff79" d="M484 1949.5l7.1 7.2l13.6 -8.4l-7.2 -7.1z"/>
<path fill="#f7ff6d" d="M504.7 1948.3l7.3 8l13.6 -7.7l-7.4 -8z"/>
<path fill="#faff60" d="M525.6 1948.6l7.4 8.9l13.6 -7l-7.5 -8.8z"/>
<path fill="#faff51" d="M546.6 1950.5l7.5 9.8l13.6 -6.3l-7.6 -9.7z"/>
<path fill="#f4ff3f" d="M567.7 1954l7.7 10.7l13.5 -5.6l-7.7 -10.6z"/>
<path fill="#e9ff2d" d="M588.9 1959.1l7.8 11.6l13.5 -5l-7.8 -11.5z"/>
<path fill="#d6ff1a" d="M610.2 1965.7l7.9 12.4l13.4 -4.3l-7.9 -12.3z"/>
<path fill="#baff06" d="M631.5 1973.8l8 13.3l13.4 -3.6l-8.1 -13.2z"/>
<path fill="#99ff00" d="M652.9 1983.5l8 14.2l13.3 -3l-8.1 -14.1z"/>
<path fill="#73ff00" d="M674.2 1994.7l8.1 15l13.1 -2.4l-8.1 -14.9z"/>
<path fill="#c5ff91" d="M409.8 1973.8l6.5 4.7l13.5 -11.3l-6.6 -4.6z"/>
<path fill="#d3ff8e" d="M429.8 1967.2l6.7 5.5l13.5 -10.6l-6.7 -5.4z"/>
<path fill="#dfff88" d="M450 1962.1l6.9 6.4l13.6 -9.9l-7 -6.3z"/>
<path fill="#e7ff81" d="M470.5 1958.6l7 7.3l13.6 -9.2l-7.1 -7.2z"/>
<path fill="#eeff76" d="M491.1 1956.7l7.2 8.1l13.7 -8.5l-7.3 -8z"/>
<path fill="#f2ff6a" d="M512 1956.3l7.3 9.1l13.7 -7.9l-7.4 -8.9z"/>
<path fill="#f2ff5c" d="M533 1957.5l7.5 10l13.6 -7.2l-7.5 -9.8z"/>
<path fill="#eeff4b" d="M554.1 1960.3l7.7 10.8l13.6 -6.4l-7.7 -10.7z"/>
<path fill="#e5ff3a" d="M575.4 1964.7l7.8 11.7l13.5 -5.7l-7.8 -11.6z"/>
<path fill="#d5ff27" d="M596.7 1970.7l7.9 12.5l13.5 -5.1l-7.9 -12.4z"/>
<path fill="#bcff14" d="M618.1 1978.1l8 13.5l13.4 -4.5l-8 -13.3z"/>
<path fill="#9aff01" d="M639.5 1987.1l8.1 14.3l13.3 -3.7l-8 -14.2z"/>
<path fill="#78ff00" d="M660.9 1997.7l8.1 15.1l13.3 -3.1l-8.1 -15z"/>
<path fill="#c8ff92" d="M416.3 1978.5l6.6 5.6l13.6 -11.4l-6.7 -5.5z"/>
<path fill="#d4ff8e" d="M436.5 1972.7l6.7 6.5l13.7 -10.7l-6.9 -6.4z"/>
<path fill="#ddff87" d="M456.9 1968.5l6.9 7.4l13.7 -10l-7 -7.3z"/>
<path fill="#e4ff7e" d="M477.5 1965.9l7.1 8.2l13.7 -9.3l-7.2 -8.1z"/>
<path fill="#e8ff73" d="M498.3 1964.8l7.3 9.2l13.7 -8.6l-7.3 -9.1z"/>
<path fill="#e9ff66" d="M519.3 1965.4l7.5 10l13.7 -7.9l-7.5 -10z"/>
<path fill="#e7ff56" d="M540.5 1967.5l7.6 10.9l13.7 -7.3l-7.7 -10.8z"/>
<path fill="#dfff46" d="M561.8 1971.1l7.7 11.8l13.7 -6.5l-7.8 -11.7z"/>
<path fill="#d1ff34" d="M583.2 1976.4l7.8 12.7l13.6 -5.9l-7.9 -12.5z"/>
<path fill="#bcff21" d="M604.6 1983.2l7.9 13.5l13.6 -5.1l-8 -13.5z"/>
<path fill="#9eff0e" d="M626.1 1991.6l8 14.4l13.5 -4.6l-8.1 -14.3z"/>
<path fill="#79ff00" d="M647.6 2001.4l8.1 15.3l13.3 -3.9l-8.1 -15.1z"/>
<path fill="#c9ff93" d="M422.9 1984.1l6.7 6.6l13.6 -11.5l-6.7 -6.5z"/>
<path fill="#d2ff8d" d="M443.2 1979.2l7 7.5l13.6 -10.8l-6.9 -7.4z"/>
<path fill="#daff85" d="M463.8 1975.9l7.1 8.3l13.7 -10.1l-7.1 -8.2z"/>
<path fill="#deff7b" d="M484.6 1974.1l7.3 9.2l13.7 -9.3l-7.3 -9.2z"/>
<path fill="#e0ff6f" d="M505.6 1974l7.4 10.1l13.8 -8.7l-7.5 -10z"/>
<path fill="#deff60" d="M526.8 1975.4l7.6 11l13.7 -8l-7.6 -10.9z"/>
<path fill="#d8ff50" d="M548.1 1978.4l7.7 11.8l13.7 -7.3l-7.7 -11.8z"/>
<path fill="#ccff3f" d="M569.5 1982.9l7.8 12.8l13.7 -6.6l-7.8 -12.7z"/>
<path fill="#baff2d" d="M591 1989.1l7.9 13.6l13.6 -6l-7.9 -13.5z"/>
<path fill="#9fff1a" d="M612.5 1996.7l8 14.6l13.6 -5.3l-8 -14.4z"/>
<path fill="#7bff07" d="M634.1 2006l8.1 15.4l13.5 -4.7l-8.1 -15.3z"/>
<path fill="#c7ff92" d="M429.6 1990.7l6.9 7.6l13.7 -11.6l-7 -7.5z"/>
<path fill="#cfff8b" d="M450.2 1986.7l7 8.4l13.7 -10.9l-7.1 -8.3z"/>
<path fill="#d4ff82" d="M470.9 1984.2l7.2 9.3l13.8 -10.2l-7.3 -9.2z"/>
<path fill="#d6ff77" d="M491.9 1983.3l7.3 10.2l13.8 -9.4l-7.4 -10.1z"/>
<path fill="#d5ff69" d="M513 1984.1l7.5 11.1l13.9 -8.8l-7.6 -11z"/>
<path fill="#d0ff5a" d="M534.4 1986.4l7.6 11.9l13.8 -8.1l-7.7 -11.8z"/>
<path fill="#c6ff4a" d="M555.8 1990.2l7.7 12.9l13.8 -7.4l-7.8 -12.8z"/>
<path fill="#b5ff38" d="M577.3 1995.7l7.9 13.8l13.7 -6.8l-7.9 -13.6z"/>
<path fill="#9eff26" d="M598.9 2002.7l8 14.7l13.6 -6.1l-8 -14.6z"/>
<path fill="#7dff13" d="M620.5 2011.3l8.1 15.5l13.6 -5.4l-8.1 -15.4z"/>
<path fill="#c3ff90" d="M436.5 1998.3l6.9 8.5l13.8 -11.7l-7 -8.4z"/>
<path fill="#c9ff88" d="M457.2 1995.1l7.1 9.4l13.8 -11l-7.2 -9.3z"/>
<path fill="#cbff7d" d="M478.1 1993.5l7.3 10.3l13.8 -10.3l-7.3 -10.2z"/>
<path fill="#cbff71" d="M499.2 1993.5l7.5 11.2l13.8 -9.5l-7.5 -11.1z"/>
<path fill="#c7ff63" d="M520.5 1995.2l7.6 12l13.9 -8.9l-7.6 -11.9z"/>
<path fill="#beff53" d="M542 1998.3l7.7 13l13.8 -8.2l-7.7 -12.9z"/>
<path fill="#afff42" d="M563.5 2003.1l7.9 13.9l13.8 -7.5l-7.9 -13.8z"/>
<path fill="#9aff30" d="M585.2 2009.5l7.9 14.7l13.8 -6.8l-8 -14.7z"/>
<path fill="#7dff1e" d="M606.9 2017.4l8 15.6l13.7 -6.2l-8.1 -15.5z"/>
<path fill="#bdff8c" d="M443.4 2006.8l7.1 9.5l13.8 -11.8l-7.1 -9.4z"/>
<path fill="#c0ff83" d="M464.3 2004.5l7.2 10.4l13.9 -11.1l-7.3 -10.3z"/>
<path fill="#c0ff78" d="M485.4 2003.8l7.4 11.3l13.9 -10.4l-7.5 -11.2z"/>
<path fill="#bdff6b" d="M506.7 2004.7l7.5 12.2l13.9 -9.7l-7.6 -12z"/>
<path fill="#b5ff5c" d="M528.1 2007.2l7.7 13.1l13.9 -9l-7.7 -13z"/>
<path fill="#a8ff4c" d="M549.7 2011.3l7.8 14l13.9 -8.3l-7.9 -13.9z"/>
<path fill="#95ff3b" d="M571.4 2017l7.9 14.9l13.8 -7.7l-7.9 -14.7z"/>
<path fill="#7aff29" d="M593.1 2024.2l8 15.8l13.8 -7l-8 -15.6z"/>
<path fill="#b4ff88" d="M450.5 2016.3l7.2 10.4l13.8 -11.8l-7.2 -10.4z"/>
<path fill="#b5ff7e" d="M471.5 2014.9l7.4 11.4l13.9 -11.2l-7.4 -11.3z"/>
<path fill="#b2ff71" d="M492.8 2015.1l7.5 12.3l13.9 -10.5l-7.5 -12.2z"/>
<path fill="#abff64" d="M514.2 2016.9l7.7 13.2l13.9 -9.8l-7.7 -13.1z"/>
<path fill="#9fff54" d="M535.8 2020.3l7.8 14.1l13.9 -9.1l-7.8 -14z"/>
<path fill="#8eff44" d="M557.5 2025.3l7.9 15l13.9 -8.4l-7.9 -14.9z"/>
<path fill="#75ff33" d="M579.3 2031.9l7.9 15.9l13.9 -7.8l-8 -15.8z"/>
<path fill="#a9ff83" d="M457.7 2026.7l7.2 11.5l14 -11.9l-7.4 -11.4z"/>
<path fill="#a6ff77" d="M478.9 2026.3l7.4 12.4l14 -11.3l-7.5 -12.3z"/>
<path fill="#a0ff6a" d="M500.3 2027.4l7.6 13.3l14 -10.6l-7.7 -13.2z"/>
<path fill="#95ff5c" d="M521.9 2030.1l7.7 14.2l14 -9.9l-7.8 -14.1z"/>
<path fill="#85ff4c" d="M543.6 2034.4l7.8 15.1l14 -9.2l-7.9 -15z"/>
<path fill="#6eff3c" d="M565.4 2040.3l7.9 16l13.9 -8.5l-7.9 -15.9z"/>
<path fill="#9aff7d" d="M464.9 2038.2l7.4 12.5l14 -12l-7.4 -12.4z"/>
<path fill="#94ff70" d="M486.3 2038.7l7.5 13.4l14.1 -11.4l-7.6 -13.3z"/>
<path fill="#8aff63" d="M507.9 2040.7l7.6 14.3l14.1 -10.7l-7.7 -14.2z"/>
<path fill="#7bff54" d="M529.6 2044.3l7.8 15.2l14 -10l-7.8 -15.1z"/>
<path fill="#66ff44" d="M551.4 2049.5l7.9 16.1l14 -9.3l-7.9 -16z"/>
<path fill="#87ff76" d="M472.3 2050.7l7.5 13.5l14 -12.1l-7.5 -13.4z"/>
<path fill="#7eff69" d="M493.8 2052.1l7.7 14.4l14 -11.5l-7.6 -14.3z"/>
<path fill="#70ff5b" d="M515.5 2055l7.8 15.3l14.1 -10.8l-7.8 -15.2z"/>
<path fill="#5cff4c" d="M537.4 2059.5l7.8 16.3l14.1 -10.2l-7.9 -16.1z"/>
<path fill="#71ff6e" d="M479.8 2064.2l7.6 14.5l14.1 -12.2l-7.7 -14.4z"/>
<path fill="#64ff61" d="M501.5 2066.5l7.7 15.4l14.1 -11.6l-7.8 -15.3z"/>
<path fill="#52ff54" d="M523.3 2070.3l7.8 16.3l14.1 -10.8l-7.8 -16.3z"/>
<path fill="#66ff76" d="M487.4 2078.7l7.6 15.5l14.2 -12.3l-7.7 -15.4z"/>
<path fill="#59ff6c" d="M509.2 2081.9l7.7 16.4l14.2 -11.7l-7.8 -16.3z"/>
<path fill="#5eff85" d="M495 2094.2l7.8 16.6l14.1 -12.5l-7.7 -16.4z"/>
</g>
<line x1="578.1" y1="1843.3" x2="578.1" y2="1892.4" stroke="#000" stroke-width="1.3"/>
<circle cx="343.2" cy="1991.4" r="4.5" fill="#ffc8c8" stroke="#000" stroke-width="1.1"/>
<circle cx="413" cy="1971" r="4.5" fill="#be0000" stroke="#000" stroke-width="1.1"/>
<circle cx="578.1" cy="1843.3" r="4.5" fill="#be0000" stroke="#000" stroke-width="1.1"/>
<circle cx="578.1" cy="1881.4" r="4.5" fill="#be0000" stroke="#000" stroke-width="1.1"/>
<circle cx="675.3" cy="2021" r="4.5" fill="#ffc8c8" stroke="#000" stroke-width="1.1"/>
<circle cx="829.5" cy="2025.5" r="4.5" fill="#be0000" stroke="#000" stroke-width="1.1"/>
<circle cx="503.1" cy="2115.4" r="4.5" fill="#ffc8c8" stroke="#000" stroke-width="1.1"/>
<text x="316.9" y="1799" font-size="22.5" text-anchor="end" textLength="27.7" lengthAdjust="spacingAndGlyphs">2.4</text>
<text x="320" y="1845.8" font-size="22.5" text-anchor="end" textLength="27.7" lengthAdjust="spacingAndGlyphs">2.2</text>
<text x="323" y="1892.6" font-size="22.5" text-anchor="end" textLength="11.1" lengthAdjust="spacingAndGlyphs">2</text>
<text x="326.1" y="1939.4" font-size="22.5" text-anchor="end" textLength="27.7" lengthAdjust="spacingAndGlyphs">1.8</text>
<text x="329.1" y="1986.2" font-size="22.5" text-anchor="end" textLength="27.7" lengthAdjust="spacingAndGlyphs">1.6</text>
<text x="332.2" y="2033.1" font-size="22.5" text-anchor="end" textLength="27.7" lengthAdjust="spacingAndGlyphs">1.4</text>
<text x="326.1" y="2135.5" font-size="22.5" text-anchor="middle" textLength="22.1" lengthAdjust="spacingAndGlyphs">90</text>
<text x="365.1" y="2179.8" font-size="22.5" text-anchor="middle" textLength="22.1" lengthAdjust="spacingAndGlyphs">85</text>
<text x="404.1" y="2224.1" font-size="22.5" text-anchor="middle" textLength="22.1" lengthAdjust="spacingAndGlyphs">80</text>
<text x="443.2" y="2268.4" font-size="22.5" text-anchor="middle" textLength="22.1" lengthAdjust="spacingAndGlyphs">75</text>
<text x="482.2" y="2312.8" font-size="22.5" text-anchor="middle" textLength="22.1" lengthAdjust="spacingAndGlyphs">70</text>
<text x="533.4" y="2313.6" font-size="22.5" text-anchor="middle" textLength="22.1" lengthAdjust="spacingAndGlyphs">60</text>
<text x="586.3" y="2295.5" font-size="22.5" text-anchor="middle" textLength="22.1" lengthAdjust="spacingAndGlyphs">70</text>
<text x="639.2" y="2277.4" font-size="22.5" text-anchor="middle" textLength="22.1" lengthAdjust="spacingAndGlyphs">80</text>
<text x="692.1" y="2259.4" font-size="22.5" text-anchor="middle" textLength="22.1" lengthAdjust="spacingAndGlyphs">90</text>
<text x="745.1" y="2241.3" font-size="22.5" text-anchor="middle" textLength="33.2" lengthAdjust="spacingAndGlyphs">100</text>
<text x="798" y="2223.2" font-size="22.5" text-anchor="middle" textLength="31.7" lengthAdjust="spacingAndGlyphs">110</text>
<text x="850.9" y="2205.2" font-size="22.5" text-anchor="middle" textLength="33.2" lengthAdjust="spacingAndGlyphs">120</text>
<text x="258" y="1971.5" font-size="19.5" text-anchor="middle" transform="rotate(-90 258 1964.5)" textLength="59" lengthAdjust="spacingAndGlyphs">EO (%)</text>
<text x="318.5" y="2246.5" font-size="19.5" text-anchor="middle" textLength="174.7" lengthAdjust="spacingAndGlyphs">B: Temperature (°C)</text>
<text x="731" y="2312.5" font-size="19.5" text-anchor="middle" textLength="126" lengthAdjust="spacingAndGlyphs">A: Weight (gr)</text>
<text x="212.1" y="2323" font-size="33" text-anchor="middle">g</text></g>
</svg>
</body></html>
